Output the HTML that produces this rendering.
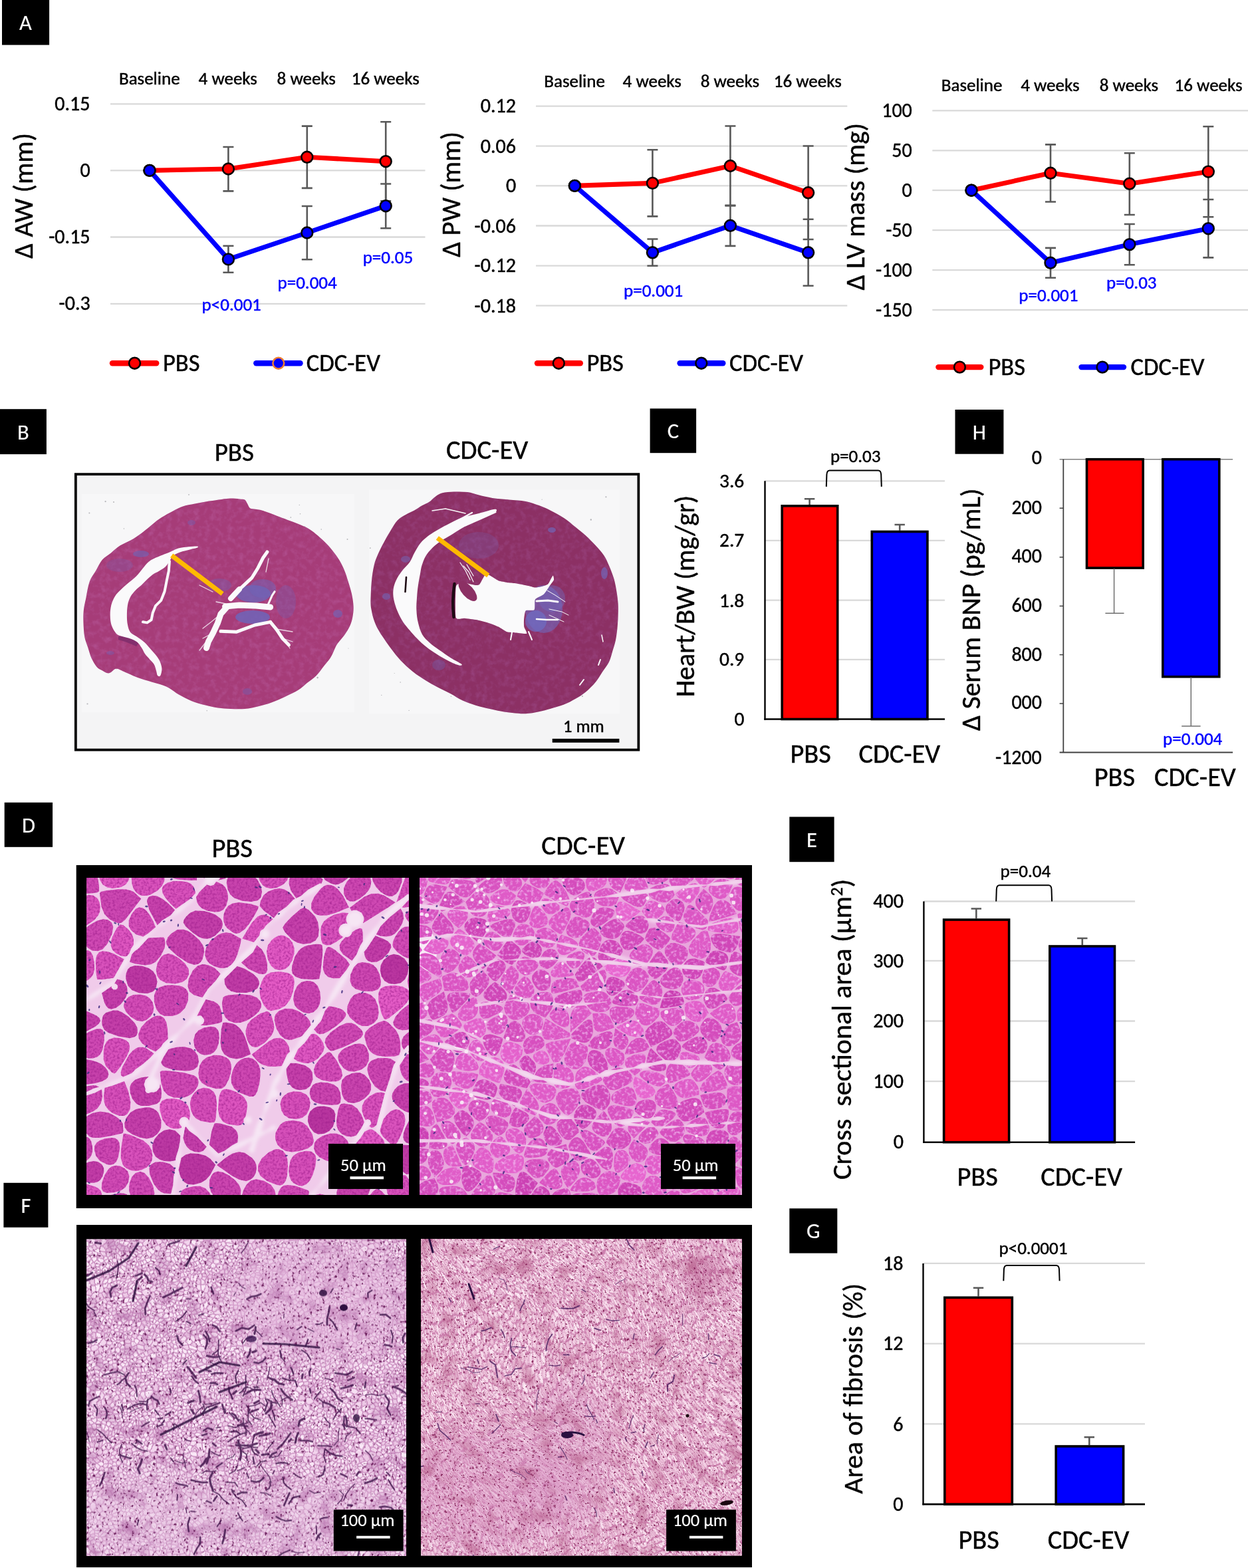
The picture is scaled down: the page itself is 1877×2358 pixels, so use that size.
<!DOCTYPE html>
<html><head><meta charset="utf-8"><title>Figure</title>
<style>html,body{margin:0;padding:0;background:#fff;width:1877px;height:2358px;overflow:hidden}svg{display:block}text{white-space:pre;font-size-adjust:0.47754}</style>
</head><body>
<svg width="1877" height="2358" viewBox="0 0 1877 2358" font-family="Carlito, 'Liberation Sans', sans-serif">
<defs><filter id="hnoise" x="0" y="0" width="100%" height="100%" color-interpolation-filters="sRGB">
<feTurbulence type="fractalNoise" baseFrequency="0.12" numOctaves="3" seed="7" result="n"/>
<feColorMatrix in="n" type="matrix" values="0 0 0 0 0.72  0 0 0 0 0.36  0 0 0 0 0.62  0 0 1.2 0 -0.5" result="c"/>
<feComposite in="c" in2="SourceGraphic" operator="in"/>
</filter>
<filter id="hnoise2" x="0" y="0" width="100%" height="100%" color-interpolation-filters="sRGB">
<feTurbulence type="fractalNoise" baseFrequency="0.12" numOctaves="3" seed="11" result="n"/>
<feColorMatrix in="n" type="matrix" values="0 0 0 0 0.62  0 0 0 0 0.3  0 0 0 0 0.55  0 0 1.2 0 -0.5" result="c"/>
<feComposite in="c" in2="SourceGraphic" operator="in"/>
</filter><filter id="blur2" x="-5%" y="-5%" width="110%" height="110%"><feGaussianBlur stdDeviation="2.5"/></filter>
<filter id="dtex1" x="0" y="0" width="100%" height="100%" color-interpolation-filters="sRGB">
<feTurbulence type="fractalNoise" baseFrequency="0.3" numOctaves="2" seed="3" result="n"/>
<feColorMatrix in="n" type="matrix" values="0 0 0 0 0.62  0 0 0 0 0.12  0 0 0 0 0.55  0 0 -1.6 0 0.95" result="c"/>
<feComposite in="c" in2="SourceGraphic" operator="in" result="t"/>
<feMerge><feMergeNode in="SourceGraphic"/><feMergeNode in="t"/></feMerge>
</filter>
<filter id="dtex2" x="0" y="0" width="100%" height="100%" color-interpolation-filters="sRGB">
<feTurbulence type="fractalNoise" baseFrequency="0.22" numOctaves="2" seed="8" result="n"/>
<feColorMatrix in="n" type="matrix" values="0 0 0 0 0.95  0 0 0 0 0.75  0 0 0 0 0.95  0 0 2.2 0 -1.05" result="c"/>
<feComposite in="c" in2="SourceGraphic" operator="in" result="t"/>
<feMerge><feMergeNode in="SourceGraphic"/><feMergeNode in="t"/></feMerge>
</filter><filter id="blur20" x="-50%" y="-50%" width="200%" height="200%"><feGaussianBlur stdDeviation="18"/></filter>
<filter id="fwarp1" x="0" y="0" width="100%" height="100%" color-interpolation-filters="sRGB">
<feTurbulence type="fractalNoise" baseFrequency="0.03" numOctaves="2" seed="5" result="w"/>
<feDisplacementMap in="SourceGraphic" in2="w" scale="14" xChannelSelector="R" yChannelSelector="G"/>
</filter>
<filter id="fwarp2" x="0" y="0" width="100%" height="100%" color-interpolation-filters="sRGB">
<feTurbulence type="fractalNoise" baseFrequency="0.006" numOctaves="1" seed="2" result="w"/>
<feDisplacementMap in="SourceGraphic" in2="w" scale="120" xChannelSelector="R" yChannelSelector="G" result="d1"/>
<feTurbulence type="fractalNoise" baseFrequency="0.05" numOctaves="1" seed="8" result="w2"/>
<feDisplacementMap in="d1" in2="w2" scale="8" xChannelSelector="R" yChannelSelector="G"/>
</filter>
<filter id="ftex1" x="0" y="0" width="100%" height="100%" color-interpolation-filters="sRGB">
<feTurbulence type="fractalNoise" baseFrequency="0.22" numOctaves="2" seed="17" result="n2"/>
<feColorMatrix in="n2" type="matrix" values="0 0 0 0 0.42  0 0 0 0 0.12  0 0 0 0 0.36  -7 0 0 0 2.55" result="b"/>
<feTurbulence type="fractalNoise" baseFrequency="0.04" numOctaves="2" seed="23" result="n3"/>
<feColorMatrix in="n3" type="matrix" values="0 0 0 0 0.7  0 0 0 0 0.42  0 0 0 0 0.66  -2 0 0 0 0.95" result="c"/>
<feMerge><feMergeNode in="c"/><feMergeNode in="b"/></feMerge>
</filter>
<filter id="ftex2" x="0" y="0" width="100%" height="100%" color-interpolation-filters="sRGB">
<feTurbulence type="fractalNoise" baseFrequency="0.3" numOctaves="2" seed="21" result="n2"/>
<feColorMatrix in="n2" type="matrix" values="0 0 0 0 0.5  0 0 0 0 0.12  0 0 0 0 0.33  -7 0 0 0 2.5" result="b"/>
<feTurbulence type="fractalNoise" baseFrequency="0.035" numOctaves="2" seed="29" result="n3"/>
<feColorMatrix in="n3" type="matrix" values="0 0 0 0 0.72  0 0 0 0 0.38  0 0 0 0 0.55  -2 0 0 0 0.95" result="c"/>
<feMerge><feMergeNode in="c"/><feMergeNode in="b"/></feMerge>
</filter><pattern id="pf1" patternUnits="userSpaceOnUse" width="80.0" height="80.0"><rect width="80.0" height="80.0" fill="#C88ABD"/><path fill="#FBEAF8" d="M0.0 -7.0L-3.1 -9.7L-5.3 -9.4L-7.7 -5.1L-4.2 -0.1L-3.5 -0.5ZM-6.5 60.3L-0.6 62.1L-0.6 62.1L-0.1 56.9L-2.1 55.0L-3.8 55.0L-6.5 60.0ZM-8.9 66.0L-5.5 69.1L-3.4 68.9L-1.5 63.4L-6.8 61.8L-9.1 64.9ZM2.6 23.9L-1.6 23.8L-4.0 26.3L-0.2 29.3L3.6 25.3ZM-3.2 40.4L-0.8 41.1L-1.1 34.9L-3.9 35.6ZM53.4 -1.4L56.7 -1.8L57.2 -2.5L56.5 -6.7L50.7 -5.8L50.4 -4.6ZM12.5 -10.7L13.4 -3.5L16.6 -2.3L20.7 -10.6L19.8 -11.2ZM65.3 -1.7L66.7 2.4L74.4 0.5L71.1 -4.4L66.9 -4.5ZM5.9 39.1L6.6 39.4L10.5 36.3L8.0 32.7L4.1 34.7ZM58.5 11.1L61.1 12.3L62.9 11.7L65.1 6.2L64.9 5.7L59.2 6.0ZM34.7 38.6L32.5 37.1L31.5 37.4L28.8 42.3L31.1 44.3L32.0 44.0L35.1 40.5ZM53.5 17.7L50.1 21.2L54.1 24.6L54.8 23.7L55.1 19.2ZM7.5 59.9L6.7 56.5L6.0 56.0L1.4 57.2L0.9 62.0L4.0 62.9ZM56.5 73.3L50.7 74.2L50.4 75.4L53.4 78.6L56.7 78.2L57.2 77.5ZM14.6 53.2L19.1 51.6L19.8 49.1L15.8 48.8L13.9 51.6L14.1 52.8ZM31.4 60.2L30.8 60.9L31.9 65.0L33.8 66.1L34.9 65.8L36.6 64.0L34.8 60.5ZM67.6 24.9L71.9 27.2L72.2 27.2L73.4 26.2L70.8 21.0L68.7 21.0ZM78.5 14.9L74.9 9.7L72.5 10.9L72.0 12.4L74.6 17.0L76.1 17.0L78.4 15.2ZM64.4 12.0L67.3 13.9L70.6 12.0L71.0 10.7L66.2 7.4ZM12.5 69.3L13.4 76.5L16.6 77.7L20.7 69.4L19.8 68.8ZM37.5 65.2L36.3 66.6L40.1 71.3L41.2 71.3L41.8 70.6L41.9 67.0ZM51.7 4.8L57.4 4.4L56.4 -0.2L53.6 0.0L51.1 4.0ZM54.3 26.6L52.6 28.9L54.8 32.8L57.9 31.8L57.9 29.4ZM57.5 41.3L57.4 40.7L52.9 37.5L52.1 37.8L50.8 41.2L53.5 44.4L54.9 44.2ZM0.3 34.3L0.7 40.5L4.3 39.2L2.5 34.9ZM22.2 39.9L20.5 43.7L21.9 47.2L22.3 47.2L25.9 42.6ZM30.0 45.4L27.6 43.3L27.3 43.3L23.7 47.8L25.6 49.1L29.6 48.0ZM39.8 35.0L39.0 31.2L34.6 31.0L33.5 36.0L35.5 37.2ZM52.0 6.3L51.7 8.5L57.0 10.9L57.7 5.8ZM9.0 31.6L12.0 35.8L12.4 35.9L16.2 32.4L16.1 28.1L15.9 27.9L15.1 27.7L9.1 30.9ZM79.5 13.7L83.8 11.0L84.3 8.9L76.6 7.6L76.0 8.7ZM14.0 61.5L12.9 62.1L12.9 67.8L19.1 67.3L18.3 63.8ZM-3.7 1.3L-3.1 6.1L5.0 7.5L6.2 6.4L5.7 2.8L-2.9 0.9ZM29.4 61.5L26.4 61.4L25.0 67.3L30.3 65.1ZM45.3 48.8L41.0 49.3L42.7 53.7L45.1 52.9ZM24.9 31.2L23.4 28.9L17.6 28.6L17.7 32.3L22.3 35.4L24.7 33.2ZM19.2 42.9L20.7 39.7L15.1 40.0L15.1 42.5ZM12.4 51.9L8.8 49.2L6.4 51.3L6.8 54.8L7.4 55.2L12.5 52.8ZM50.3 55.1L55.3 55.6L55.8 52.8L52.1 51.6ZM45.8 54.2L42.7 55.3L41.9 56.7L42.8 58.5L48.1 58.1L48.6 55.9ZM15.4 15.9L19.3 19.9L22.0 19.4L23.7 16.0L22.6 12.6L21.0 12.2ZM61.8 13.6L61.8 18.4L61.9 18.6L66.4 18.4L66.5 15.2L63.3 13.1ZM70.4 38.5L72.3 35.6L68.5 34.5L67.6 37.5ZM71.5 39.5L72.5 41.8L75.3 40.5L74.6 35.6L74.5 35.6L74.0 35.8ZM46.7 47.4L50.6 47.8L52.2 45.2L49.7 42.2L46.6 43.1ZM72.3 74.9L75.8 79.9L76.5 79.5L80.0 73.0L76.9 70.3L74.7 70.6ZM65.6 42.5L67.7 43.9L71.0 42.1L70.1 40.0L66.8 38.7L66.4 38.9ZM55.2 61.8L49.8 60.9L49.1 64.5L50.1 65.6ZM51.1 84.0L51.7 84.8L57.4 84.4L56.4 79.8L53.6 80.0ZM16.7 84.3L17.9 81.2L16.5 79.2L12.7 77.8L8.6 79.4L7.1 82.3L7.7 86.1L11.2 87.2ZM84.6 26.5L80.7 30.6L80.8 32.9L83.0 33.5L87.6 31.3L87.7 30.6ZM80.3 34.3L80.7 40.5L84.3 39.2L82.5 34.9ZM76.3 1.3L76.9 6.1L85.0 7.5L86.2 6.4L85.7 2.8L77.1 0.9Z"/><path fill="#F3D6EE" d="M-1.5 14.9L-5.1 9.7L-7.5 10.9L-8.0 12.4L-5.4 17.0L-3.9 17.0L-1.6 15.2ZM-5.1 48.2L-5.9 49.5L-5.8 51.6L-3.9 53.5L-2.2 53.5L0.3 48.7L-0.1 47.4ZM-5.3 25.5L-2.7 22.8L-4.2 18.5L-5.5 18.5L-7.8 20.4ZM-3.9 41.8L-6.5 43.0L-5.1 46.7L-0.6 45.9L-1.1 42.6ZM2.4 22.4L2.7 19.9L-1.0 16.6L-2.8 18.0L-1.3 22.3ZM-4.2 79.9L-3.5 79.5L0.0 73.0L-3.1 70.3L-5.3 70.6L-7.7 74.9ZM40.0 -7.2L36.4 -4.6L36.6 -1.4L39.5 -0.5L42.6 -3.5L41.0 -7.2ZM4.9 24.4L10.0 21.7L10.4 18.1L7.7 17.5L4.2 20.1L3.8 23.0ZM23.0 55.9L25.0 54.0L24.7 50.4L22.4 48.7L21.6 48.7L21.4 48.9L20.5 52.1ZM72.0 43.3L68.5 45.2L68.6 47.1L73.0 48.4L73.6 47.5ZM29.3 7.8L32.3 5.2L32.3 1.9L27.0 -0.5L24.6 1.3L27.8 7.8ZM51.2 66.7L55.8 68.0L57.0 63.7L56.3 62.8ZM66.2 5.0L66.5 5.8L72.0 9.5L74.6 8.2L75.4 6.6L74.8 2.0L66.7 3.9ZM13.8 54.5L13.3 54.1L8.2 56.5L9.0 59.6L12.1 60.8L13.5 60.1L14.6 57.1ZM58.4 42.5L56.2 45.0L59.5 49.6L60.6 49.6L61.4 44.1ZM57.2 61.5L58.2 62.9L62.3 63.9L64.1 62.5L63.7 58.3L63.0 58.0L57.7 59.5L57.2 61.3ZM5.9 8.7L5.2 11.4L8.0 16.0L11.0 16.8L13.0 15.4L10.7 8.6L7.2 7.5ZM16.0 47.3L20.5 47.7L19.2 44.4L14.7 43.9L14.7 43.9ZM46.8 48.9L46.6 53.0L49.0 54.4L51.0 50.6L50.4 49.3ZM21.3 58.5L15.9 58.0L15.0 60.3L18.7 62.4ZM75.3 34.3L79.2 33.2L79.4 33.1L79.2 30.7L74.7 27.2L74.6 27.2L73.4 28.2L75.1 34.2ZM48.4 71.4L42.9 71.6L42.4 72.2L44.1 76.1L46.1 76.7L48.9 75.1L49.3 73.6ZM43.4 60.0L45.0 64.0L47.7 64.0L48.5 60.2L48.2 59.6ZM7.6 40.6L8.3 43.5L9.1 44.2L13.4 43.2L13.6 42.9L13.6 39.5L12.2 37.4L11.7 37.3ZM35.2 53.5L35.4 51.5L31.7 50.7L31.1 54.6L31.1 54.6ZM29.1 9.3L27.6 9.3L24.0 12.3L25.1 15.4L30.9 16.6L31.0 16.5L31.8 14.0ZM25.0 16.9L23.4 20.0L25.8 22.9L29.2 22.4L30.2 18.0ZM47.0 12.3L44.5 10.6L39.8 12.7L40.8 15.2L45.0 15.4ZM35.0 67.4L34.2 67.6L32.8 72.3L35.6 74.1L38.7 71.9ZM43.7 -2.5L40.6 0.5L42.0 3.6L43.6 4.2L46.3 2.7L45.6 -1.9ZM62.2 56.7L60.4 51.1L59.4 51.1L57.3 52.7L56.7 56.4L57.5 58.0ZM53.1 25.8L48.7 22.0L47.4 22.1L47.3 22.2L46.8 28.1L47.5 28.7L51.3 28.1ZM68.7 53.0L72.7 51.5L72.6 49.9L68.1 48.6L67.0 49.9ZM8.6 -0.6L7.1 2.3L7.7 6.1L11.2 7.2L16.7 4.3L17.9 1.2L16.5 -0.8L12.7 -2.2ZM68.6 33.0L73.5 34.4L73.6 34.4L72.0 28.8L68.5 32.7ZM41.4 54.6L39.4 49.2L39.0 49.0L38.9 49.1L36.9 51.2L36.7 53.9L38.2 55.7L40.7 55.9ZM26.9 74.1L23.1 69.9L22.1 69.9L17.9 78.5L19.1 80.3L23.4 80.3L26.2 78.2ZM67.8 18.8L68.4 19.4L71.0 19.5L73.2 17.5L70.9 13.6L68.0 15.2ZM58.0 39.2L60.5 36.2L60.2 34.3L58.5 33.1L54.9 34.3L53.9 36.4ZM39.8 22.7L41.4 28.0L45.3 27.7L45.8 22.6ZM32.9 80.6L35.1 78.8L34.9 75.4L31.8 73.4L28.3 74.4L27.8 78.2ZM22.8 38.4L27.2 41.8L27.4 41.8L30.0 37.0L25.6 34.5L23.0 36.7ZM4.2 12.6L-0.1 15.2L-0.1 15.4L3.6 18.7L6.5 16.5ZM40.5 84.0L39.2 81.0L36.1 80.0L33.8 81.8L33.8 85.1L37.2 86.6ZM43.6 84.2L46.3 82.7L45.6 78.1L43.7 77.5L40.6 80.5L42.0 83.6ZM58.9 84.5L64.9 84.2L65.4 83.2L64.0 78.9L58.4 78.5L57.9 79.2ZM87.5 59.9L86.7 56.5L86.0 56.0L81.4 57.2L80.9 62.0L84.0 62.9ZM85.5 68.6L83.7 64.4L80.2 63.4L80.0 63.5L78.0 69.3L81.2 72.0L82.7 71.9ZM83.6 18.7L86.5 16.5L84.2 12.6L79.9 15.2L79.9 15.4Z"/><path fill="#EDC8E6" d="M-0.8 33.2L-0.6 33.1L-0.8 30.7L-5.3 27.2L-5.4 27.2L-6.6 28.2L-4.9 34.2L-4.7 34.3ZM4.3 8.9L-3.4 7.6L-4.0 8.7L-0.5 13.7L3.8 11.0ZM58.7 -3.0L64.1 -2.6L65.6 -5.3L64.4 -8.1L62.9 -8.9L58.1 -7.7L57.9 -7.4ZM7.2 -1.1L2.8 -6.6L1.4 -6.5L-1.9 -0.4L5.9 1.3ZM49.9 3.1L52.2 -0.6L49.4 -3.4L47.0 -2.1L47.7 2.5ZM34.9 -4.6L31.8 -6.6L28.3 -5.6L27.8 -1.8L32.9 0.6L35.1 -1.2ZM38.2 12.8L33.2 14.5L32.5 16.6L38.0 19.3L39.5 16.0ZM58.1 72.3L57.9 72.6L58.7 77.0L64.1 77.4L65.6 74.7L64.4 71.9L62.9 71.1ZM1.4 73.5L-1.9 79.6L5.9 81.3L7.2 78.9L2.8 73.4ZM17.2 27.1L17.2 27.1L23.3 27.4L24.7 23.9L22.2 20.9L19.6 21.3ZM22.8 59.0L19.8 63.5L20.7 67.6L21.9 68.4L23.0 68.4L23.3 68.2L24.9 60.9ZM30.5 8.8L32.9 13.0L37.5 11.5L36.7 8.0L33.2 6.4ZM49.9 83.1L52.2 79.4L49.4 76.6L47.0 77.9L47.7 82.5ZM39.2 1.0L36.1 -0.0L33.8 1.8L33.8 5.1L37.2 6.6L40.5 4.0ZM74.5 69.1L76.6 68.9L78.5 63.4L73.2 61.8L70.9 64.9L71.1 66.0ZM55.8 69.6L50.5 68.0L49.6 70.6L50.6 72.7L56.7 71.8L56.7 71.7ZM49.3 67.1L49.3 67.0L48.0 65.5L44.8 65.5L43.4 66.9L43.3 70.1L48.3 69.9ZM1.4 47.2L1.8 48.2L5.5 50.1L8.1 47.9L8.1 45.4L7.5 44.8ZM78.9 42.6L76.1 41.8L73.5 43.0L74.9 46.7L79.4 45.9ZM22.0 57.1L19.4 53.1L15.4 54.5L16.0 56.5ZM83.6 25.3L82.6 23.9L78.4 23.8L76.0 26.3L79.8 29.3ZM69.0 54.5L68.5 56.1L72.4 58.8L74.9 54.4L73.3 52.9ZM45.2 47.3L45.1 43.0L43.6 42.0L40.3 43.8L39.9 47.8L40.1 47.9ZM52.4 50.1L56.5 51.5L58.1 50.2L54.9 45.7L53.6 45.9L51.8 48.7ZM59.0 41.1L62.3 42.9L64.2 42.3L64.8 38.9L61.5 37.3L58.9 40.5ZM23.5 57.6L26.1 59.9L29.6 60.0L30.3 59.1L30.1 55.8L29.9 55.6L26.1 55.1L23.6 57.5ZM58.9 4.5L64.9 4.2L65.4 3.2L64.0 -1.1L58.4 -1.5L57.9 -0.8ZM62.0 35.9L65.7 37.6L66.1 37.4L67.2 33.6L67.0 33.1L65.0 32.2L61.7 34.2ZM14.6 47.9L13.4 44.7L9.6 45.7L9.6 47.9L12.9 50.4ZM31.8 58.7L35.0 59.0L36.9 56.4L35.7 55.0L31.6 56.0ZM29.9 49.4L26.2 50.5L26.5 53.7L29.7 54.0L30.3 50.0ZM12.2 8.4L14.4 14.8L19.9 11.2L17.0 5.8ZM43.8 37.2L44.3 40.7L46.0 41.7L49.4 40.7L50.6 37.5L47.0 35.4ZM63.3 65.0L63.7 69.8L64.9 70.4L69.6 66.1L69.4 65.3L65.0 63.7ZM0.9 55.8L5.3 54.6L4.9 51.5L1.5 49.7L-0.8 54.1ZM23.2 1.8L19.3 1.8L18.2 4.7L21.4 10.8L23.0 11.2L26.4 8.3ZM11.4 68.2L11.4 62.1L8.5 61.0L5.1 63.9L6.9 68.0ZM76.1 35.6L76.8 40.4L79.2 41.1L78.9 34.9ZM55.9 60.4L56.3 58.9L55.5 57.2L50.0 56.5L49.4 58.7L49.8 59.4ZM32.3 81.9L27.0 79.5L24.6 81.3L27.8 87.8L29.3 87.8L32.3 85.2ZM74.6 88.2L75.4 86.6L74.8 82.0L66.7 83.9L66.2 85.0L66.5 85.8L72.0 89.5ZM-3.7 81.3L-3.1 86.1L5.0 87.5L6.2 86.4L5.7 82.8L-2.9 80.9ZM21.4 90.8L23.0 91.2L26.4 88.3L23.2 81.8L19.3 81.8L18.2 84.7ZM81.4 -6.5L78.1 -0.4L85.9 1.3L87.2 -1.1L82.8 -6.6ZM81.4 73.5L78.1 79.6L85.9 81.3L87.2 78.9L82.8 73.4ZM80.3 42.3L80.9 45.8L86.8 43.5L86.1 40.8L85.2 40.4L80.4 42.2ZM79.2 54.1L80.9 55.8L85.3 54.6L84.9 51.5L81.5 49.7Z"/><path fill="#F7E0F3" d="M8.3 -2.1L11.9 -3.5L11.1 -10.3L6.7 -10.5L4.1 -7.4ZM23.1 -10.1L22.1 -10.1L17.9 -1.5L19.1 0.3L23.4 0.3L26.2 -1.8L26.9 -5.9ZM76.9 -9.7L74.7 -9.4L72.3 -5.1L75.8 -0.1L76.5 -0.5L80.0 -7.0ZM64.7 43.7L62.9 44.3L62.2 49.2L65.8 49.1L67.1 47.5L67.0 45.2ZM31.5 45.7L31.0 48.4L31.5 49.2L35.9 50.1L37.3 48.6L32.3 45.5ZM41.5 59.2L40.6 57.4L38.2 57.2L36.2 59.9L37.6 62.7ZM57.6 12.4L57.6 12.4L54.7 16.7L56.1 18.1L60.3 18.0L60.3 13.6ZM61.9 50.8L63.7 56.7L64.4 57.0L67.0 55.8L67.5 54.0L65.7 50.6ZM65.7 30.8L67.4 31.6L70.5 28.2L66.7 26.1L64.9 26.9ZM60.7 19.5L56.6 19.6L56.4 23.1L60.4 22.6L60.8 19.6ZM41.3 35.0L43.0 35.9L46.3 34.0L46.6 29.8L45.8 29.2L41.3 29.5L40.4 30.6ZM48.1 13.5L46.2 16.3L47.6 20.6L48.7 20.6L52.2 16.9ZM76.1 53.5L77.8 53.5L80.3 48.7L79.9 47.4L74.9 48.2L74.1 49.5L74.2 51.6ZM4.6 26.5L0.7 30.6L0.8 32.9L3.0 33.5L7.6 31.3L7.7 30.6ZM5.8 25.6L8.7 29.5L13.8 26.7L10.6 23.1ZM76.2 55.0L73.5 60.0L73.5 60.3L79.4 62.1L79.4 62.1L79.9 56.9L77.9 55.0ZM44.9 16.9L40.8 16.7L39.2 20.3L39.4 21.2L46.2 21.1ZM39.0 11.4L43.8 9.3L43.0 5.5L41.6 5.1L38.2 7.8ZM40.6 36.3L36.2 38.5L36.6 40.3L39.7 42.5L42.8 40.7L42.3 37.2ZM64.2 31.0L63.4 27.0L62.9 26.9L59.4 29.4L59.4 31.9L60.9 32.9ZM33.2 30.4L32.3 29.3L26.4 31.5L26.3 33.2L31.1 35.9L32.0 35.7ZM31.8 27.9L31.7 26.0L29.6 23.9L26.1 24.4L24.6 28.1L26.0 30.1ZM58.3 64.5L57.1 68.9L58.0 70.8L62.2 69.7L61.8 65.3ZM64.0 25.6L66.1 24.7L67.3 20.4L66.8 19.9L62.3 20.1L61.9 23.1L63.3 25.4ZM34.4 29.4L39.2 29.7L40.1 28.7L38.4 23.2L33.2 26.1L33.3 28.1ZM50.5 5.8L49.8 4.7L47.2 3.9L44.5 5.4L45.3 9.3L47.8 11.0L50.2 8.6ZM74.5 18.5L72.2 20.4L74.7 25.5L77.3 22.8L75.8 18.5ZM11.9 18.0L11.5 21.9L15.4 26.3L15.9 26.3L18.2 20.8L14.0 16.6ZM39.5 79.5L42.6 76.5L41.0 72.8L40.0 72.8L36.4 75.4L36.6 78.6ZM31.1 66.3L24.4 69.1L24.4 69.1L27.9 73.0L31.3 72.0L32.8 67.3ZM31.8 17.9L30.7 22.8L32.6 24.7L38.0 21.7L37.8 20.8ZM58.7 28.1L61.8 25.8L60.7 24.1L56.0 24.7L55.3 25.5ZM38.5 64.0L42.4 65.7L43.6 64.5L42.1 60.7ZM0.3 42.3L0.9 45.8L6.8 43.5L6.1 40.8L5.2 40.4L0.4 42.2ZM51.3 29.6L48.0 30.1L47.8 34.1L51.6 36.4L52.4 36.0L53.6 33.7ZM11.1 69.7L6.7 69.5L4.1 72.6L8.3 77.9L11.9 76.5ZM66.9 75.5L65.3 78.3L66.7 82.4L74.4 80.5L71.1 75.6ZM48.8 12.1L53.4 16.0L56.0 12.1L51.1 9.9ZM38.4 47.5L38.8 43.7L36.0 41.7L33.6 44.5ZM65.9 71.6L66.9 74.0L71.0 74.1L73.3 70.0L70.4 67.4ZM5.5 68.6L3.7 64.4L0.2 63.4L0.0 63.5L-2.0 69.3L1.2 72.0L2.7 71.9ZM82.4 22.4L82.7 19.9L79.0 16.6L77.2 18.0L78.7 22.3ZM21.3 38.1L21.5 36.7L17.0 33.7L13.6 36.8L14.7 38.5ZM65.2 58.3L65.6 62.3L69.8 63.9L72.1 60.7L72.0 60.4L67.5 57.2ZM81.4 47.2L81.8 48.2L85.5 50.1L88.1 47.9L88.1 45.4L87.5 44.8ZM76.3 81.3L76.9 86.1L85.0 87.5L86.2 86.4L85.7 82.8L77.1 80.9Z"/></pattern><pattern id="pf2" patternUnits="userSpaceOnUse" width="208.0" height="44.0" patternTransform="rotate(58)"><rect width="208.0" height="44.0" fill="#CC7FAE"/><path fill="#F3D0E4" d="M-9.3 -2.9L-13.2 -1.4L-10.1 0.4L3.9 -0.0L6.2 -1.0L1.5 -2.5ZM-2.2 36.4L-4.9 34.4L-16.7 34.1L-19.6 37.9L-13.6 38.5ZM-11.4 25.2L-2.5 24.1L-4.8 21.8L-12.1 20.9L-20.1 23.7ZM-13.2 42.6L-10.1 44.4L3.9 44.0L6.2 43.0L1.5 41.5L-9.3 41.1ZM23.5 -4.6L19.5 -1.6L26.9 -0.7L35.7 -2.3L33.8 -4.4ZM4.6 -2.9L9.1 -1.5L16.0 -1.8L20.1 -4.9L15.0 -5.9L11.1 -5.9ZM175.0 29.6L167.3 30.8L165.1 33.4L170.5 34.3L185.6 33.1L182.3 30.1ZM94.6 41.5L93.2 41.4L89.5 41.8L85.9 43.9L89.0 44.7L97.6 44.6L99.6 44.0ZM77.2 22.7L92.3 23.2L93.3 23.0L89.2 19.9L85.0 19.8L76.0 22.0ZM131.0 38.8L132.4 39.3L143.0 39.4L141.8 36.7L132.0 36.4L131.2 36.6ZM40.8 38.6L37.3 39.4L39.3 41.5L51.8 42.8L54.7 41.9L53.1 38.7ZM177.4 -1.2L176.5 -1.0L180.4 1.2L193.3 1.5L194.8 0.9L191.5 -1.1ZM92.7 19.7L96.7 22.7L104.1 22.5L110.1 20.6L109.9 20.3L104.2 19.0L96.6 18.9ZM43.7 10.6L42.4 12.5L52.1 13.5L55.1 13.4L53.1 10.4ZM94.8 8.2L99.9 10.6L108.2 10.8L109.6 10.5L108.2 7.5ZM54.3 43.3L54.5 43.7L67.8 45.2L73.0 43.9L69.4 42.0L57.6 42.4ZM91.1 40.7L89.3 38.4L75.7 39.0L76.2 40.2L87.9 41.1ZM51.7 26.3L45.1 26.2L33.3 28.8L33.5 29.0L48.7 30.7L55.7 28.9ZM14.8 27.4L4.9 29.9L6.7 31.6L21.0 32.5L30.0 29.2L29.7 29.0L19.5 27.4ZM169.7 8.0L164.2 7.4L154.9 8.0L154.8 8.0L156.4 9.3L166.2 10.6L172.2 9.6ZM71.9 33.0L88.9 32.0L90.7 31.6L73.7 30.6ZM115.0 43.3L128.1 42.9L126.9 41.6L115.1 41.4ZM77.0 23.5L73.4 25.0L78.1 26.8L85.1 26.8L90.6 25.9L91.1 23.9ZM98.4 41.4L102.8 43.6L111.4 43.4L111.5 41.0L109.8 40.4ZM196.8 7.3L201.8 10.1L206.4 7.6L204.9 7.2ZM28.4 24.0L22.3 26.9L31.0 28.2L42.1 25.7L35.6 23.8ZM87.9 27.3L93.7 30.7L101.5 27.6L92.5 26.6ZM97.6 30.8L111.8 30.7L110.1 27.7L105.1 27.8ZM131.6 -0.6L133.1 1.9L142.8 1.5L141.6 -0.8ZM69.5 29.8L58.5 29.4L51.1 31.3L52.3 32.8L55.4 33.2L68.2 33.0L70.4 30.1ZM58.5 37.5L68.7 37.5L72.2 35.3L68.9 33.8L56.9 34.0ZM95.7 31.6L104.3 34.2L108.8 34.3L117.1 32.3L113.1 31.5ZM109.1 37.9L111.4 36.7L108.2 35.1L103.9 35.0L94.1 37.0L94.1 37.0ZM94.8 23.7L94.2 25.9L104.3 27.1L110.9 26.9L111.9 26.7L113.1 25.7L104.3 23.3L96.2 23.4ZM124.8 22.4L112.6 21.2L107.4 22.9L115.6 25.1L123.9 24.0ZM113.6 27.4L115.5 30.9L118.6 31.5L128.9 29.0L113.9 27.3ZM30.7 2.0L45.9 1.6L50.9 -0.2L50.7 -0.5L38.0 -1.7L29.1 -0.1ZM199.3 11.4L206.1 14.2L208.7 14.4L210.9 14.2L214.4 13.3L214.7 11.7L212.8 11.3L203.2 10.8L201.7 10.9ZM73.9 23.1L72.4 22.2L66.4 21.5L57.8 22.2L58.3 24.8L70.2 24.7ZM33.8 39.6L23.5 39.4L19.5 42.4L26.9 43.3L35.7 41.7ZM82.8 7.7L64.2 5.9L61.3 6.2L61.4 8.8L75.0 10.3ZM128.0 2.6L129.6 2.2L128.0 -0.4L115.6 0.1L118.9 2.4ZM17.5 17.3L11.9 19.3L12.2 19.7L17.4 20.7L27.5 19.3L25.4 17.3L22.8 17.0ZM165.3 -0.6L166.7 3.2L167.7 3.3L172.1 3.2L177.0 1.5L173.1 -0.7ZM178.7 42.0L191.8 42.1L195.8 40.7L193.3 39.3L186.2 38.6L179.8 38.9ZM31.2 19.2L35.8 19.5L43.2 17.2L42.5 16.9L38.7 16.6L29.1 17.3ZM203.2 21.8L195.9 20.9L187.9 23.7L196.6 25.2L205.5 24.1ZM54.4 17.5L59.9 15.6L58.8 14.3L56.9 14.1L53.0 14.3L45.9 16.6L46.6 16.9L53.4 17.6ZM102.7 44.4L100.5 45.0L104.5 47.5L109.0 47.9L115.5 46.7L112.0 44.2ZM30.7 46.0L45.9 45.6L50.9 43.8L50.7 43.5L38.0 42.3L29.1 43.9ZM49.0 46.0L55.3 49.1L59.4 49.5L62.9 49.2L68.1 47.2L66.7 45.9L53.4 44.4ZM128.0 46.6L129.6 46.2L128.0 43.6L115.6 44.1L118.9 46.4ZM165.3 43.4L166.7 47.2L167.7 47.3L172.1 47.2L177.0 45.5L173.1 43.3ZM211.5 15.0L210.3 15.1L208.8 17.4L217.4 18.7L222.0 17.1ZM209.7 8.0L205.6 10.1L212.6 10.5L215.9 8.2ZM219.7 27.0L212.6 25.0L207.8 24.7L198.2 25.9L197.6 28.0L210.4 29.4Z"/><path fill="#EDC2DA" d="M7.6 37.9L0.1 37.0L-11.2 39.1L-8.9 40.4L1.5 40.7ZM-9.6 18.9L-11.3 20.1L-11.3 20.1L-3.1 21.1L8.5 19.7L8.3 19.5L-1.3 18.0ZM85.9 -0.1L89.0 0.7L97.6 0.6L99.6 0.0L94.6 -2.5L93.2 -2.6L89.5 -2.2ZM53.1 -5.3L40.8 -5.4L37.3 -4.6L39.3 -2.5L51.8 -1.2L54.7 -2.1ZM73.0 -0.1L69.4 -2.0L57.6 -1.6L54.3 -0.7L54.5 -0.3L67.8 1.2ZM142.5 -1.6L143.3 -1.7L143.1 -3.8L132.5 -3.9L130.3 -2.7L131.6 -1.4ZM175.0 -1.8L176.2 -5.2L170.7 -5.8L163.0 -5.2L161.1 -4.6L165.0 -1.4L173.6 -1.5ZM99.4 11.3L93.0 12.8L93.8 14.3L105.1 14.4L108.4 13.4L107.2 11.5ZM82.9 0.4L76.0 0.3L70.3 1.8L71.5 2.8L83.0 2.9L86.1 1.2ZM191.3 34.1L188.4 37.9L194.4 38.5L205.8 36.4L203.1 34.4ZM49.2 14.1L40.6 13.1L37.4 13.6L40.3 15.9L43.1 16.1ZM171.7 22.3L160.4 23.4L162.2 25.7L170.5 26.5L179.3 23.9ZM199.1 40.4L209.5 40.7L215.6 37.9L208.1 37.0L196.8 39.1ZM124.7 7.4L112.4 7.0L111.7 7.2L113.1 10.3L120.1 10.2L122.9 9.8ZM144.1 28.4L145.1 28.9L165.3 30.2L172.5 29.0L169.6 27.3L160.6 26.4ZM89.6 37.6L90.5 37.2L90.5 37.0L85.6 35.8L75.4 35.6L72.1 37.7L74.4 38.3ZM185.9 30.0L189.4 33.2L190.4 33.3L203.7 33.6L211.2 31.8L209.3 30.1L195.8 28.7ZM1.7 8.0L-2.4 10.1L4.6 10.5L7.9 8.2ZM56.6 38.4L58.2 41.6L69.6 41.3L72.6 40.4L72.0 38.8L69.3 38.2L57.5 38.3ZM10.0 3.8L17.2 6.3L28.6 5.3L27.7 2.8L11.0 3.4ZM14.5 8.0L11.7 8.2L7.9 10.8L9.1 11.1L21.6 10.2ZM112.6 38.9L127.4 38.6L127.6 36.8L114.6 37.1L112.1 38.4ZM63.4 15.4L75.3 16.7L78.1 15.7L70.6 13.5L62.5 14.3ZM84.5 27.5L78.1 27.6L72.7 29.4L73.5 29.8L89.9 30.7ZM11.7 27.0L4.6 25.0L-0.2 24.7L-9.8 25.9L-10.4 28.0L2.4 29.4ZM55.3 18.2L54.9 18.3L52.7 21.0L56.2 21.5L64.6 20.8L64.2 19.3ZM181.5 6.5L173.3 7.9L175.7 9.4L177.2 9.5L183.9 8.9L187.0 7.4ZM128.5 22.4L127.5 24.1L138.0 25.4L144.8 22.5L133.2 21.5ZM162.4 38.1L168.9 37.5L168.4 34.9L162.7 34.0L154.0 34.5L152.1 35.4ZM93.7 15.1L97.4 18.2L103.8 18.2L107.6 16.4L104.8 15.2ZM191.4 16.0L197.6 18.2L205.2 17.3L206.6 15.0L204.8 14.9L191.5 15.9ZM76.6 11.4L73.3 13.0L80.9 15.2L90.2 14.5L89.4 12.9ZM183.2 5.8L189.7 6.9L193.8 6.7L193.9 6.7L193.5 3.9L182.8 5.2ZM14.9 26.7L18.9 26.7L24.9 23.7L17.8 22.2L8.0 24.7ZM24.9 16.3L27.2 16.6L36.5 15.9L33.8 13.8L27.3 13.7L25.2 14.1ZM78.1 17.2L85.2 19.0L90.0 19.1L93.9 18.4L90.3 15.4L81.5 16.0ZM115.7 26.7L132.1 28.4L140.3 28.1L137.3 26.2L125.6 24.7L116.7 25.8ZM73.6 11.0L59.9 9.5L56.6 10.2L58.8 13.4L60.5 13.6L69.8 12.7ZM177.4 17.2L169.7 16.1L165.9 16.4L163.6 18.4L172.7 19.8L176.3 19.1ZM150.7 2.4L152.6 3.1L163.0 3.0L161.7 -0.5L161.7 -0.5ZM131.9 6.6L141.2 8.3L151.5 7.7L151.6 7.7L147.0 5.6L133.6 5.8ZM193.3 45.5L194.8 44.9L191.5 42.9L177.4 42.8L176.5 43.0L180.4 45.2ZM89.5 45.5L86.3 47.2L90.2 48.5L100.8 47.6L97.2 45.4ZM197.0 46.9L209.8 47.9L214.6 47.5L215.8 47.0L212.0 44.8L197.9 45.2L196.2 46.0ZM152.6 47.1L163.0 47.0L161.7 43.5L161.7 43.5L150.7 46.4ZM224.0 42.2L228.1 39.1L223.0 38.1L219.1 38.1L212.6 41.1L217.1 42.5ZM216.9 13.9L214.5 14.5L224.8 16.6L229.2 16.3L229.6 14.3Z"/><path fill="#FCE8F3" d="M1.3 30.1L-12.2 28.7L-22.1 30.0L-18.6 33.2L-17.6 33.3L-4.3 33.6L3.2 31.8ZM-11.2 7.3L-6.2 10.1L-1.6 7.6L-3.1 7.2ZM-8.7 11.4L-1.9 14.2L0.7 14.4L2.9 14.2L6.4 13.3L6.7 11.7L4.8 11.3L-4.8 10.8L-6.3 10.9ZM-10.1 1.2L-11.8 2.0L-11.0 2.9L1.8 3.9L6.6 3.5L7.8 3.0L4.0 0.8ZM-10.4 18.2L-2.8 17.3L-1.4 15.0L-3.2 14.9L-16.5 15.9L-16.6 16.0ZM-10.9 3.7L-10.5 6.5L-3.6 6.4L-0.5 4.6ZM-11.8 46.0L-11.0 46.9L1.8 47.9L6.6 47.5L7.8 47.0L4.0 44.8L-10.1 45.2ZM115.0 -0.7L128.1 -1.1L126.9 -2.4L115.1 -2.6ZM146.7 -3.9L146.9 -1.9L160.7 -1.2L161.4 -1.3L157.7 -4.2ZM82.5 -0.4L85.7 -2.3L75.2 -3.1L72.7 -2.3L76.4 -0.5ZM194.8 -1.4L197.9 0.4L211.9 -0.0L214.2 -1.0L209.5 -2.5L198.7 -2.9ZM129.5 7.2L128.4 7.3L126.6 9.8L136.2 10.4L138.6 8.8ZM147.2 2.6L144.4 2.3L132.5 2.7L130.9 3.1L133.7 5.1L146.9 4.8L149.5 3.5ZM148.1 1.8L157.4 -0.6L145.7 -1.2L145.2 -1.1L146.5 1.6ZM170.5 13.9L165.3 12.5L154.7 13.8L154.5 14.5L164.5 15.7L168.4 15.4ZM128.2 14.5L125.0 16.5L127.1 17.6L132.2 18.3L141.9 17.1L142.5 16.2L131.1 14.4ZM158.0 39.0L159.6 38.5L149.6 36.0L145.4 36.6L146.7 39.4ZM186.7 13.2L191.0 15.1L202.2 14.3L196.5 11.9ZM85.5 7.1L87.6 5.1L83.2 3.7L71.1 3.6L66.8 5.3L85.5 7.1ZM50.3 21.6L41.9 21.8L38.6 23.3L45.4 25.4L52.4 25.5L54.7 25.0L54.2 22.1ZM128.3 6.5L130.5 5.5L127.4 3.4L118.2 3.2L111.4 4.5L113.2 6.2L126.4 6.7ZM152.7 15.1L146.1 16.2L145.5 17.2L153.5 18.8L159.9 18.3L162.3 16.3ZM120.9 32.1L129.2 33.3L141.2 31.6L142.0 29.2L141.0 28.8L132.8 29.2ZM109.0 3.9L115.5 2.7L112.0 0.2L102.7 0.4L100.5 1.0L104.5 3.5ZM156.8 23.4L149.5 22.5L148.7 22.6L140.7 26.0L143.4 27.6L158.5 25.8ZM146.7 40.1L146.9 42.1L160.7 42.8L161.4 42.7L157.7 39.8ZM66.7 1.9L53.4 0.4L49.0 2.0L55.3 5.1L59.4 5.5L62.9 5.2L68.1 3.2ZM139.3 10.9L140.1 11.3L146.5 11.6L152.9 9.5L151.6 8.5L142.2 9.0ZM190.5 7.7L187.5 9.1L197.3 10.7L198.6 10.5L193.4 7.5ZM164.4 11.3L155.4 10.1L149.6 12.0L153.4 13.1L164.1 11.8ZM51.3 18.2L46.0 17.7L38.6 20.0L41.6 21.0L49.1 20.8ZM75.3 34.9L85.1 35.0L87.4 32.9L72.7 33.7ZM74.9 27.2L70.3 25.4L57.3 25.6L55.2 26.0L59.1 28.7L69.7 29.0ZM123.4 17.8L121.8 16.9L110.8 16.8L107.2 18.5L111.8 19.6ZM1.5 7.2L10.0 7.6L13.8 7.2L14.4 6.9L7.2 4.3L3.3 4.6L-0.2 6.7ZM78.0 10.7L90.7 12.1L96.6 10.9L90.8 8.2L87.0 7.8L86.7 7.8ZM73.5 21.4L81.9 19.4L75.8 17.8L67.8 19.3L68.2 20.8ZM16.8 16.6L21.2 16.3L21.6 14.3L8.9 13.9L6.5 14.5ZM184.9 24.2L182.6 24.2L173.1 27.1L176.1 28.8L183.6 29.4L193.9 28.0L194.5 25.8ZM197.1 3.7L197.5 6.5L204.4 6.4L207.5 4.6ZM96.0 40.8L109.0 39.7L109.4 39.3L108.6 38.7L93.2 37.8L92.7 38.0L94.8 40.7ZM86.1 45.2L82.9 44.4L76.0 44.3L70.3 45.8L71.5 46.8L83.0 46.9ZM7.1 44.4L11.0 46.6L27.1 46.1L25.5 44.0L17.1 43.0L9.5 43.3ZM148.1 45.8L157.4 43.4L145.7 42.8L145.2 42.9L146.5 45.6ZM217.5 -0.7L215.1 0.4L219.0 2.6L235.1 2.1L233.5 0.0L225.1 -1.0ZM230.1 34.0L228.6 33.3L213.7 32.4L206.5 34.1L209.5 36.2L218.3 37.4L222.5 37.3ZM222.8 27.4L212.9 29.9L214.7 31.6L229.0 32.5L238.0 29.2L237.7 29.0L227.5 27.4ZM213.0 24.2L223.7 21.6L223.6 21.4L218.3 20.4L206.9 21.7L209.1 24.0ZM215.2 4.3L211.3 4.6L207.8 6.7L209.5 7.2L218.0 7.6L221.8 7.2L222.4 6.9ZM233.5 44.0L225.1 43.0L217.5 43.3L215.1 44.4L219.0 46.6L235.1 46.1Z"/><path fill="#F8DDEC" d="M-21.3 13.2L-17.0 15.1L-5.8 14.3L-11.5 11.9ZM109.8 -3.6L98.4 -2.6L102.8 -0.4L111.4 -0.6L111.5 -3.0ZM14.0 17.1L3.5 15.0L2.3 15.1L0.8 17.4L9.4 18.7ZM7.1 0.4L11.0 2.6L27.1 2.1L25.5 0.0L17.1 -1.0L9.5 -0.7ZM119.5 11.0L112.2 11.0L110.8 11.3L111.9 13.2L124.5 13.8ZM181.1 4.5L193.4 3.0L192.8 2.3L180.0 2.0L175.6 3.5ZM36.1 34.5L48.7 32.8L47.5 31.4L32.7 29.8L24.0 33.0L25.5 33.6ZM92.4 36.3L100.9 34.5L93.1 32.2L91.6 32.5L88.5 35.3ZM14.5 37.3L22.1 34.0L20.6 33.3L5.7 32.4L-1.5 34.1L1.5 36.2L10.3 37.4ZM134.1 18.9L134.6 20.8L147.4 21.8L148.2 21.8L151.0 19.4L143.3 17.8ZM165.2 3.9L164.4 3.8L152.7 3.8L150.1 5.2L154.5 7.2L162.8 6.7ZM58.1 17.7L65.7 18.6L73.0 17.3L62.5 16.2ZM196.7 20.1L196.7 20.1L204.9 21.1L216.5 19.7L216.3 19.5L206.7 18.0L198.4 18.9ZM131.6 42.6L142.5 42.4L143.3 42.3L143.1 40.2L132.5 40.1L130.3 41.3ZM179.5 5.8L179.2 5.2L172.6 4.0L168.8 4.1L166.5 6.8L171.0 7.3ZM172.1 35.0L172.6 37.5L178.3 38.2L184.7 37.8L187.8 33.9L187.4 33.8ZM182.5 12.9L176.1 10.2L174.7 10.1L168.0 11.3L167.7 11.9L173.2 13.4ZM89.5 1.5L86.3 3.2L90.2 4.5L100.8 3.6L97.2 1.4ZM193.0 20.4L178.5 19.8L174.5 20.4L174.0 21.7L182.4 23.5L184.4 23.4ZM187.9 15.8L188.1 15.6L183.6 13.6L174.0 14.2L172.1 15.5L179.5 16.6ZM42.8 9.8L53.9 9.6L57.7 8.9L57.6 6.2L53.9 5.9L38.8 7.0L38.5 9.0ZM161.1 39.4L165.0 42.6L173.6 42.5L175.0 42.2L176.2 38.8L170.7 38.2L163.0 38.8ZM41.5 37.8L54.1 37.9L54.9 37.7L53.1 33.8L50.6 33.5L38.4 35.1ZM121.8 16.1L124.3 14.6L111.1 13.9L108.1 14.8L110.8 16.1ZM5.0 24.2L15.7 21.6L15.6 21.4L10.3 20.4L-1.1 21.7L1.1 24.0ZM124.9 10.4L122.9 10.8L128.3 13.7L130.5 13.7L136.8 11.6L136.0 11.2ZM17.3 7.4L24.7 9.8L34.9 8.9L35.1 6.9L30.2 6.0L17.9 7.1ZM125.7 18.3L113.5 20.3L113.6 20.5L126.5 21.7L131.0 20.9L130.4 18.9ZM25.5 10.6L28.1 12.9L34.8 13.1L38.8 12.5L40.2 10.4L36.3 9.6ZM214.6 3.5L215.8 3.0L212.0 0.8L197.9 1.2L196.2 2.0L197.0 2.9L209.8 3.9ZM185.6 12.4L194.6 11.2L185.0 9.6L179.9 10.1ZM112.5 39.9L114.4 40.6L127.2 40.8L129.3 39.7L128.2 39.3L112.8 39.6ZM38.1 38.1L34.8 35.2L25.1 34.4L17.9 37.6L23.0 38.6L34.6 38.9ZM107.8 4.6L103.1 4.2L91.1 5.3L89.2 7.2L92.4 7.5L108.7 6.7L109.7 6.4ZM188.6 16.6L181.0 17.3L180.0 19.0L193.6 19.7L194.9 18.7ZM22.8 13.6L24.6 13.1L22.3 11.0L10.3 11.9L10.1 13.1ZM32.2 5.4L37.4 6.3L51.5 5.2L45.9 2.4L31.3 2.8ZM85.7 41.7L75.2 40.9L72.7 41.7L76.4 43.5L82.5 43.6ZM20.1 39.1L15.0 38.1L11.1 38.1L4.6 41.1L9.1 42.5L16.0 42.2ZM139.7 12.1L134.0 13.9L144.4 15.6L150.8 14.5L151.1 13.7L146.4 12.4ZM145.5 29.7L144.8 31.7L153.2 33.8L161.5 33.3L163.5 30.9ZM148.6 35.2L150.5 34.3L142.6 32.3L131.2 33.9L132.8 35.6L143.1 36.0ZM114.5 36.3L128.5 36.1L129.3 35.8L127.6 34.0L119.5 32.8L111.6 34.8ZM170.8 20.4L161.2 19.0L154.6 19.5L151.9 21.9L158.5 22.7L170.4 21.6ZM19.3 21.3L19.4 21.5L27.7 23.2L35.2 23.0L38.6 21.5L35.2 20.3L29.8 19.9ZM197.9 44.4L211.9 44.0L214.2 43.0L209.5 41.5L198.7 41.1L194.8 42.6ZM131.6 43.4L133.1 45.9L142.8 45.5L141.6 43.2Z"/></pattern></defs>
<rect x="3" y="0" width="71.1" height="67.6" fill="#000"/><text textLength="18.81" lengthAdjust="spacingAndGlyphs" x="29.1" y="45.2" font-size="32.5" fill="#fff" stroke="#fff" stroke-width="0.15">A</text>
<rect x="0" y="615.2" width="69.9" height="67.9" fill="#000"/><text textLength="17.69" lengthAdjust="spacingAndGlyphs" x="26.1" y="660.6" font-size="32.5" fill="#fff" stroke="#fff" stroke-width="0.15">B</text>
<rect x="977.6" y="614.4" width="69.5" height="66.8" fill="#000"/><text textLength="17.34" lengthAdjust="spacingAndGlyphs" x="1003.7" y="659.2" font-size="32.5" fill="#fff" stroke="#fff" stroke-width="0.15">C</text>
<rect x="1436.5" y="616" width="72.9" height="66.7" fill="#000"/><text textLength="20.25" lengthAdjust="spacingAndGlyphs" x="1462.8" y="660.8" font-size="32.5" fill="#fff" stroke="#fff" stroke-width="0.15">H</text>
<rect x="6.7" y="1206.8" width="72.4" height="67.0" fill="#000"/><text textLength="20.00" lengthAdjust="spacingAndGlyphs" x="32.9" y="1251.7" font-size="32.5" fill="#fff" stroke="#fff" stroke-width="0.15">D</text>
<rect x="1187.3" y="1228.4" width="67.3" height="67.8" fill="#000"/><text textLength="15.88" lengthAdjust="spacingAndGlyphs" x="1213.0" y="1273.7" font-size="32.5" fill="#fff" stroke="#fff" stroke-width="0.15">E</text>
<rect x="5.4" y="1778.8" width="67.0" height="67.0" fill="#000"/><text textLength="14.94" lengthAdjust="spacingAndGlyphs" x="31.4" y="1823.7" font-size="32.5" fill="#fff" stroke="#fff" stroke-width="0.15">F</text>
<rect x="1187.3" y="1817.3" width="72.0" height="67.3" fill="#000"/><text textLength="20.52" lengthAdjust="spacingAndGlyphs" x="1213.1" y="1862.3" font-size="32.5" fill="#fff" stroke="#fff" stroke-width="0.15">G</text>
<line x1="166" y1="156.4" x2="639.5" y2="156.4" stroke="#D9D9D9" stroke-width="2.3"/>
<line x1="166" y1="256.4" x2="639.5" y2="256.4" stroke="#D9D9D9" stroke-width="2.3"/>
<line x1="166" y1="356.5" x2="639.5" y2="356.5" stroke="#D9D9D9" stroke-width="2.3"/>
<line x1="166" y1="456.8" x2="639.5" y2="456.8" stroke="#D9D9D9" stroke-width="2.3"/>
<text textLength="53.20" lengthAdjust="spacingAndGlyphs" x="82.3" y="166.0" font-size="30.0" fill="#000" stroke="#000" stroke-width="0.45">0.15</text>
<text textLength="15.22" lengthAdjust="spacingAndGlyphs" x="120.4" y="266.0" font-size="30.0" fill="#000" stroke="#000" stroke-width="0.45">0</text>
<text textLength="62.38" lengthAdjust="spacingAndGlyphs" x="73.2" y="366.1" font-size="30.0" fill="#000" stroke="#000" stroke-width="0.45">-0.15</text>
<text textLength="47.17" lengthAdjust="spacingAndGlyphs" x="88.5" y="466.4" font-size="30.0" fill="#000" stroke="#000" stroke-width="0.45">-0.3</text>
<text textLength="91.64" lengthAdjust="spacingAndGlyphs" x="179.0" y="127.3" font-size="27.0" fill="#000" stroke="#000" stroke-width="0.45">Baseline</text>
<text textLength="88.31" lengthAdjust="spacingAndGlyphs" x="298.6" y="127.3" font-size="27.0" fill="#000" stroke="#000" stroke-width="0.45">4 weeks</text>
<text textLength="88.31" lengthAdjust="spacingAndGlyphs" x="416.6" y="127.3" font-size="27.0" fill="#000" stroke="#000" stroke-width="0.45">8 weeks</text>
<text textLength="102.00" lengthAdjust="spacingAndGlyphs" x="528.8" y="127.3" font-size="27.0" fill="#000" stroke="#000" stroke-width="0.45">16 weeks</text>
<polyline points="225.0,256.4 343.4,254.0 461.8,236.3 580.2,242.7" fill="none" stroke="#FF0000" stroke-width="7.1" stroke-linejoin="round"/>
<polyline points="225.0,256.4 343.4,389.9 461.8,350.0 580.2,309.7" fill="none" stroke="#0000FF" stroke-width="7.1" stroke-linejoin="round"/>
<path d="M343.4 221.0V287.4M335.4 221.0H351.4M335.4 287.4H351.4" stroke="#595959" stroke-width="2.6" fill="none"/>
<path d="M461.8 189.6V282.9M453.8 189.6H469.8M453.8 282.9H469.8" stroke="#595959" stroke-width="2.6" fill="none"/>
<path d="M580.2 183.2V302.2M572.2 183.2H588.2M572.2 302.2H588.2" stroke="#595959" stroke-width="2.6" fill="none"/>
<path d="M343.4 369.8V409.7M335.4 369.8H351.4M335.4 409.7H351.4" stroke="#595959" stroke-width="2.6" fill="none"/>
<path d="M461.8 310.0V390.2M453.8 310.0H469.8M453.8 390.2H469.8" stroke="#595959" stroke-width="2.6" fill="none"/>
<path d="M580.2 276.5V343.2M572.2 276.5H588.2M572.2 343.2H588.2" stroke="#595959" stroke-width="2.6" fill="none"/>
<circle cx="225.0" cy="256.4" r="8.4" fill="#FF0000" stroke="#000" stroke-width="2.6"/>
<circle cx="343.4" cy="254.0" r="8.4" fill="#FF0000" stroke="#000" stroke-width="2.6"/>
<circle cx="461.8" cy="236.3" r="8.4" fill="#FF0000" stroke="#000" stroke-width="2.6"/>
<circle cx="580.2" cy="242.7" r="8.4" fill="#FF0000" stroke="#000" stroke-width="2.6"/>
<circle cx="225.0" cy="256.4" r="8.4" fill="#0000FF" stroke="#000" stroke-width="2.6"/>
<circle cx="343.4" cy="389.9" r="8.4" fill="#0000FF" stroke="#000" stroke-width="2.6"/>
<circle cx="461.8" cy="350.0" r="8.4" fill="#0000FF" stroke="#000" stroke-width="2.6"/>
<circle cx="580.2" cy="309.7" r="8.4" fill="#0000FF" stroke="#000" stroke-width="2.6"/>
<text textLength="89.19" lengthAdjust="spacingAndGlyphs" x="303.6" y="467.0" font-size="27.0" fill="#0000FF" stroke="#0000FF" stroke-width="0.45">p&lt;0.001</text>
<text textLength="89.19" lengthAdjust="spacingAndGlyphs" x="417.5" y="433.6" font-size="27.0" fill="#0000FF" stroke="#0000FF" stroke-width="0.45">p=0.004</text>
<text textLength="75.52" lengthAdjust="spacingAndGlyphs" x="545.7" y="395.7" font-size="27.0" fill="#0000FF" stroke="#0000FF" stroke-width="0.45">p=0.05</text>
<text textLength="188.84" lengthAdjust="spacingAndGlyphs" transform="translate(48.7 388.7) rotate(-90)" x="-0.0" y="0" font-size="40.6" fill="#000" stroke="#000" stroke-width="0.45">Δ AW (mm)</text>
<line x1="169" y1="546.2" x2="235.2" y2="546.2" stroke="#FF0000" stroke-width="8.4" stroke-linecap="round"/>
<circle cx="202.5" cy="546.2" r="8.4" fill="#FF0000" stroke="#000" stroke-width="2.6"/>
<text textLength="55.48" lengthAdjust="spacingAndGlyphs" x="245.0" y="557.7" font-size="36.5" fill="#000" stroke="#000" stroke-width="0.45">PBS</text>
<line x1="385.3" y1="546.2" x2="451.5" y2="546.2" stroke="#0000FF" stroke-width="8.4" stroke-linecap="round"/>
<circle cx="418.8" cy="546.2" r="8.4" fill="#0000FF" stroke="#ED7D31" stroke-width="2.6"/>
<text textLength="111.09" lengthAdjust="spacingAndGlyphs" x="460.8" y="557.7" font-size="36.5" fill="#000" stroke="#000" stroke-width="0.45">CDC-EV</text>
<line x1="806" y1="159.7" x2="1274.3" y2="159.7" stroke="#D9D9D9" stroke-width="2.3"/>
<line x1="806" y1="219.6" x2="1274.3" y2="219.6" stroke="#D9D9D9" stroke-width="2.3"/>
<line x1="806" y1="279.4" x2="1274.3" y2="279.4" stroke="#D9D9D9" stroke-width="2.3"/>
<line x1="806" y1="339.5" x2="1274.3" y2="339.5" stroke="#D9D9D9" stroke-width="2.3"/>
<line x1="806" y1="399.6" x2="1274.3" y2="399.6" stroke="#D9D9D9" stroke-width="2.3"/>
<line x1="806" y1="459.6" x2="1274.3" y2="459.6" stroke="#D9D9D9" stroke-width="2.3"/>
<text textLength="53.20" lengthAdjust="spacingAndGlyphs" x="722.8" y="169.3" font-size="30.0" fill="#000" stroke="#000" stroke-width="0.45">0.12</text>
<text textLength="53.20" lengthAdjust="spacingAndGlyphs" x="722.8" y="229.7" font-size="30.0" fill="#000" stroke="#000" stroke-width="0.45">0.06</text>
<text textLength="15.22" lengthAdjust="spacingAndGlyphs" x="760.9" y="289.0" font-size="30.0" fill="#000" stroke="#000" stroke-width="0.45">0</text>
<text textLength="62.38" lengthAdjust="spacingAndGlyphs" x="713.6" y="349.6" font-size="30.0" fill="#000" stroke="#000" stroke-width="0.45">-0.06</text>
<text textLength="62.38" lengthAdjust="spacingAndGlyphs" x="713.6" y="409.2" font-size="30.0" fill="#000" stroke="#000" stroke-width="0.45">-0.12</text>
<text textLength="62.38" lengthAdjust="spacingAndGlyphs" x="713.6" y="469.9" font-size="30.0" fill="#000" stroke="#000" stroke-width="0.45">-0.18</text>
<text textLength="91.64" lengthAdjust="spacingAndGlyphs" x="818.3" y="130.6" font-size="27.0" fill="#000" stroke="#000" stroke-width="0.45">Baseline</text>
<text textLength="88.31" lengthAdjust="spacingAndGlyphs" x="936.6" y="130.6" font-size="27.0" fill="#000" stroke="#000" stroke-width="0.45">4 weeks</text>
<text textLength="88.31" lengthAdjust="spacingAndGlyphs" x="1053.7" y="130.6" font-size="27.0" fill="#000" stroke="#000" stroke-width="0.45">8 weeks</text>
<text textLength="102.00" lengthAdjust="spacingAndGlyphs" x="1163.8" y="130.6" font-size="27.0" fill="#000" stroke="#000" stroke-width="0.45">16 weeks</text>
<polyline points="864.4,279.4 981.4,275.4 1098.4,249.5 1215.6,289.8" fill="none" stroke="#FF0000" stroke-width="7.1" stroke-linejoin="round"/>
<polyline points="864.4,279.4 981.4,379.8 1098.4,339.3 1215.6,379.8" fill="none" stroke="#0000FF" stroke-width="7.1" stroke-linejoin="round"/>
<path d="M981.4 225.3V325.4M973.4 225.3H989.4M973.4 325.4H989.4" stroke="#595959" stroke-width="2.6" fill="none"/>
<path d="M1098.4 189.5V309.4M1090.4 189.5H1106.4M1090.4 309.4H1106.4" stroke="#595959" stroke-width="2.6" fill="none"/>
<path d="M1215.6 219.5V360.0M1207.6 219.5H1223.6M1207.6 360.0H1223.6" stroke="#595959" stroke-width="2.6" fill="none"/>
<path d="M981.4 359.5V399.7M973.4 359.5H989.4M973.4 399.7H989.4" stroke="#595959" stroke-width="2.6" fill="none"/>
<path d="M1098.4 308.7V369.9M1090.4 308.7H1106.4M1090.4 369.9H1106.4" stroke="#595959" stroke-width="2.6" fill="none"/>
<path d="M1215.6 329.7V429.7M1207.6 329.7H1223.6M1207.6 429.7H1223.6" stroke="#595959" stroke-width="2.6" fill="none"/>
<circle cx="864.4" cy="279.4" r="8.4" fill="#FF0000" stroke="#000" stroke-width="2.6"/>
<circle cx="981.4" cy="275.4" r="8.4" fill="#FF0000" stroke="#000" stroke-width="2.6"/>
<circle cx="1098.4" cy="249.5" r="8.4" fill="#FF0000" stroke="#000" stroke-width="2.6"/>
<circle cx="1215.6" cy="289.8" r="8.4" fill="#FF0000" stroke="#000" stroke-width="2.6"/>
<circle cx="864.4" cy="279.4" r="8.4" fill="#0000FF" stroke="#000" stroke-width="2.6"/>
<circle cx="981.4" cy="379.8" r="8.4" fill="#0000FF" stroke="#000" stroke-width="2.6"/>
<circle cx="1098.4" cy="339.3" r="8.4" fill="#0000FF" stroke="#000" stroke-width="2.6"/>
<circle cx="1215.6" cy="379.8" r="8.4" fill="#0000FF" stroke="#000" stroke-width="2.6"/>
<text textLength="89.19" lengthAdjust="spacingAndGlyphs" x="938.0" y="446.3" font-size="27.0" fill="#0000FF" stroke="#0000FF" stroke-width="0.45">p=0.001</text>
<text textLength="188.77" lengthAdjust="spacingAndGlyphs" transform="translate(692.4 386.7) rotate(-90)" x="-0.0" y="0" font-size="40.8" fill="#000" stroke="#000" stroke-width="0.45">Δ PW (mm)</text>
<line x1="808" y1="546.2" x2="872.8" y2="546.2" stroke="#FF0000" stroke-width="8.4" stroke-linecap="round"/>
<circle cx="840.3" cy="546.2" r="8.4" fill="#FF0000" stroke="#000" stroke-width="2.6"/>
<text textLength="55.48" lengthAdjust="spacingAndGlyphs" x="882.4" y="557.7" font-size="36.5" fill="#000" stroke="#000" stroke-width="0.45">PBS</text>
<line x1="1022.6" y1="546.2" x2="1087.3" y2="546.2" stroke="#0000FF" stroke-width="8.4" stroke-linecap="round"/>
<circle cx="1054.8" cy="546.2" r="8.4" fill="#0000FF" stroke="#000" stroke-width="2.6"/>
<text textLength="111.09" lengthAdjust="spacingAndGlyphs" x="1097.0" y="557.7" font-size="36.5" fill="#000" stroke="#000" stroke-width="0.45">CDC-EV</text>
<line x1="1402.3" y1="166.4" x2="1877" y2="166.4" stroke="#D9D9D9" stroke-width="2.3"/>
<line x1="1402.3" y1="226.3" x2="1877" y2="226.3" stroke="#D9D9D9" stroke-width="2.3"/>
<line x1="1402.3" y1="286.2" x2="1877" y2="286.2" stroke="#D9D9D9" stroke-width="2.3"/>
<line x1="1402.3" y1="346.1" x2="1877" y2="346.1" stroke="#D9D9D9" stroke-width="2.3"/>
<line x1="1402.3" y1="406.1" x2="1877" y2="406.1" stroke="#D9D9D9" stroke-width="2.3"/>
<line x1="1402.3" y1="466.1" x2="1877" y2="466.1" stroke="#D9D9D9" stroke-width="2.3"/>
<text textLength="45.62" lengthAdjust="spacingAndGlyphs" x="1326.2" y="176.0" font-size="30.0" fill="#000" stroke="#000" stroke-width="0.45">100</text>
<text textLength="30.42" lengthAdjust="spacingAndGlyphs" x="1341.3" y="235.9" font-size="30.0" fill="#000" stroke="#000" stroke-width="0.45">50</text>
<text textLength="15.22" lengthAdjust="spacingAndGlyphs" x="1356.6" y="295.8" font-size="30.0" fill="#000" stroke="#000" stroke-width="0.45">0</text>
<text textLength="39.61" lengthAdjust="spacingAndGlyphs" x="1332.2" y="355.7" font-size="30.0" fill="#000" stroke="#000" stroke-width="0.45">-50</text>
<text textLength="54.81" lengthAdjust="spacingAndGlyphs" x="1317.0" y="415.7" font-size="30.0" fill="#000" stroke="#000" stroke-width="0.45">-100</text>
<text textLength="54.81" lengthAdjust="spacingAndGlyphs" x="1317.0" y="475.7" font-size="30.0" fill="#000" stroke="#000" stroke-width="0.45">-150</text>
<text textLength="91.64" lengthAdjust="spacingAndGlyphs" x="1415.8" y="137.3" font-size="27.0" fill="#000" stroke="#000" stroke-width="0.45">Baseline</text>
<text textLength="88.31" lengthAdjust="spacingAndGlyphs" x="1535.2" y="137.3" font-size="27.0" fill="#000" stroke="#000" stroke-width="0.45">4 weeks</text>
<text textLength="88.31" lengthAdjust="spacingAndGlyphs" x="1653.8" y="137.3" font-size="27.0" fill="#000" stroke="#000" stroke-width="0.45">8 weeks</text>
<text textLength="102.00" lengthAdjust="spacingAndGlyphs" x="1766.6" y="137.3" font-size="27.0" fill="#000" stroke="#000" stroke-width="0.45">16 weeks</text>
<polyline points="1461.0,286.2 1580.0,260.3 1698.8,276.3 1817.3,258.2" fill="none" stroke="#FF0000" stroke-width="7.1" stroke-linejoin="round"/>
<polyline points="1461.0,286.2 1580.0,395.3 1698.8,367.6 1817.3,343.7" fill="none" stroke="#0000FF" stroke-width="7.1" stroke-linejoin="round"/>
<path d="M1580.0 217.4V303.5M1572.0 217.4H1588.0M1572.0 303.5H1588.0" stroke="#595959" stroke-width="2.6" fill="none"/>
<path d="M1698.8 230.2V323.0M1690.8 230.2H1706.8M1690.8 323.0H1706.8" stroke="#595959" stroke-width="2.6" fill="none"/>
<path d="M1817.3 190.3V326.2M1809.3 190.3H1825.3M1809.3 326.2H1825.3" stroke="#595959" stroke-width="2.6" fill="none"/>
<path d="M1580.0 372.9V417.7M1572.0 372.9H1588.0M1572.0 417.7H1588.0" stroke="#595959" stroke-width="2.6" fill="none"/>
<path d="M1698.8 337.0V398.2M1690.8 337.0H1706.8M1690.8 398.2H1706.8" stroke="#595959" stroke-width="2.6" fill="none"/>
<path d="M1817.3 300.0V387.4M1809.3 300.0H1825.3M1809.3 387.4H1825.3" stroke="#595959" stroke-width="2.6" fill="none"/>
<circle cx="1461.0" cy="286.2" r="8.4" fill="#FF0000" stroke="#000" stroke-width="2.6"/>
<circle cx="1580.0" cy="260.3" r="8.4" fill="#FF0000" stroke="#000" stroke-width="2.6"/>
<circle cx="1698.8" cy="276.3" r="8.4" fill="#FF0000" stroke="#000" stroke-width="2.6"/>
<circle cx="1817.3" cy="258.2" r="8.4" fill="#FF0000" stroke="#000" stroke-width="2.6"/>
<circle cx="1461.0" cy="286.2" r="8.4" fill="#0000FF" stroke="#000" stroke-width="2.6"/>
<circle cx="1580.0" cy="395.3" r="8.4" fill="#0000FF" stroke="#000" stroke-width="2.6"/>
<circle cx="1698.8" cy="367.6" r="8.4" fill="#0000FF" stroke="#000" stroke-width="2.6"/>
<circle cx="1817.3" cy="343.7" r="8.4" fill="#0000FF" stroke="#000" stroke-width="2.6"/>
<text textLength="89.19" lengthAdjust="spacingAndGlyphs" x="1532.3" y="452.7" font-size="27.0" fill="#0000FF" stroke="#0000FF" stroke-width="0.45">p=0.001</text>
<text textLength="75.52" lengthAdjust="spacingAndGlyphs" x="1664.0" y="434.0" font-size="27.0" fill="#0000FF" stroke="#0000FF" stroke-width="0.45">p=0.03</text>
<text textLength="251.70" lengthAdjust="spacingAndGlyphs" transform="translate(1299.5 436.6) rotate(-90)" x="-0.0" y="0" font-size="41.3" fill="#000" stroke="#000" stroke-width="0.45">Δ LV mass (mg)</text>
<line x1="1411.4" y1="552.1" x2="1475.3" y2="552.1" stroke="#FF0000" stroke-width="8.4" stroke-linecap="round"/>
<circle cx="1443.4" cy="552.1" r="8.4" fill="#FF0000" stroke="#000" stroke-width="2.6"/>
<text textLength="55.48" lengthAdjust="spacingAndGlyphs" x="1486.5" y="563.6" font-size="36.5" fill="#000" stroke="#000" stroke-width="0.45">PBS</text>
<line x1="1626.5" y1="552.1" x2="1690" y2="552.1" stroke="#0000FF" stroke-width="8.4" stroke-linecap="round"/>
<circle cx="1658" cy="552.1" r="8.4" fill="#0000FF" stroke="#000" stroke-width="2.6"/>
<text textLength="111.09" lengthAdjust="spacingAndGlyphs" x="1700.5" y="563.6" font-size="36.5" fill="#000" stroke="#000" stroke-width="0.45">CDC-EV</text>
<line x1="1150.5" y1="723.3" x2="1421" y2="723.3" stroke="#D9D9D9" stroke-width="2.3"/>
<line x1="1150.5" y1="812.8" x2="1421" y2="812.8" stroke="#D9D9D9" stroke-width="2.3"/>
<line x1="1150.5" y1="902.6" x2="1421" y2="902.6" stroke="#D9D9D9" stroke-width="2.3"/>
<line x1="1150.5" y1="991.8" x2="1421" y2="991.8" stroke="#D9D9D9" stroke-width="2.3"/>
<text textLength="37.22" lengthAdjust="spacingAndGlyphs" x="1082.0" y="733.2" font-size="29.4" fill="#000" stroke="#000" stroke-width="0.45">3.6</text>
<text textLength="37.22" lengthAdjust="spacingAndGlyphs" x="1082.0" y="822.2" font-size="29.4" fill="#000" stroke="#000" stroke-width="0.45">2.7</text>
<text textLength="37.22" lengthAdjust="spacingAndGlyphs" x="1082.0" y="912.7" font-size="29.4" fill="#000" stroke="#000" stroke-width="0.45">1.8</text>
<text textLength="37.22" lengthAdjust="spacingAndGlyphs" x="1082.0" y="1001.2" font-size="29.4" fill="#000" stroke="#000" stroke-width="0.45">0.9</text>
<text textLength="14.91" lengthAdjust="spacingAndGlyphs" x="1104.4" y="1090.9" font-size="29.4" fill="#000" stroke="#000" stroke-width="0.45">0</text>
<line x1="1150.5" y1="723.3" x2="1150.5" y2="1082.7" stroke="#000" stroke-width="2.4"/>
<line x1="1149.3" y1="1081.5" x2="1421" y2="1081.5" stroke="#000" stroke-width="2.6"/>
<path d="M1217.6 759V750.3M1209.8999999999999 750.3H1225.3" stroke="#595959" stroke-width="2.6" fill="none"/>
<path d="M1353.2 797.7V789M1345.5 789H1360.9" stroke="#595959" stroke-width="2.6" fill="none"/>
<rect x="1176.2" y="760.8" width="83.5" height="320.7" fill="#FF0000" stroke="#000" stroke-width="3.6"/>
<rect x="1311.3" y="799.5" width="83.6" height="282.0" fill="#0000FF" stroke="#000" stroke-width="3.6"/>
<path d="M1242.8 731.9L1243.3999999999999 713.5Q1243.8 707.5 1247.8 707.5H1320.8Q1324.8 707.5 1325.2 713.5L1325.8 731.9" stroke="#000" stroke-width="2" fill="none"/>
<text textLength="75.52" lengthAdjust="spacingAndGlyphs" x="1248.9" y="695.0" font-size="27.0" fill="#000" stroke="#000" stroke-width="0.45">p=0.03</text>
<text textLength="61.27" lengthAdjust="spacingAndGlyphs" x="1188.5" y="1147.4" font-size="40.3" fill="#000" stroke="#000" stroke-width="0.45">PBS</text>
<text textLength="122.66" lengthAdjust="spacingAndGlyphs" x="1291.5" y="1147.4" font-size="40.3" fill="#000" stroke="#000" stroke-width="0.45">CDC-EV</text>
<text textLength="303.31" lengthAdjust="spacingAndGlyphs" transform="translate(1043.6 1048.2) rotate(-90)" x="-0.0" y="0" font-size="40.9" fill="#000" stroke="#000" stroke-width="0.45">Heart/BW (mg/gr)</text>
<line x1="1389.4" y1="1355.5" x2="1707.1" y2="1355.5" stroke="#D9D9D9" stroke-width="2.3"/>
<line x1="1389.4" y1="1444.9" x2="1707.1" y2="1444.9" stroke="#D9D9D9" stroke-width="2.3"/>
<line x1="1389.4" y1="1535.5" x2="1707.1" y2="1535.5" stroke="#D9D9D9" stroke-width="2.3"/>
<line x1="1389.4" y1="1626.2" x2="1707.1" y2="1626.2" stroke="#D9D9D9" stroke-width="2.3"/>
<text textLength="45.62" lengthAdjust="spacingAndGlyphs" x="1313.3" y="1365.1" font-size="30.0" fill="#000" stroke="#000" stroke-width="0.45">400</text>
<text textLength="45.62" lengthAdjust="spacingAndGlyphs" x="1313.3" y="1454.5" font-size="30.0" fill="#000" stroke="#000" stroke-width="0.45">300</text>
<text textLength="45.62" lengthAdjust="spacingAndGlyphs" x="1313.3" y="1545.1" font-size="30.0" fill="#000" stroke="#000" stroke-width="0.45">200</text>
<text textLength="45.62" lengthAdjust="spacingAndGlyphs" x="1313.3" y="1635.8" font-size="30.0" fill="#000" stroke="#000" stroke-width="0.45">100</text>
<text textLength="15.22" lengthAdjust="spacingAndGlyphs" x="1343.8" y="1727.3" font-size="30.0" fill="#000" stroke="#000" stroke-width="0.45">0</text>
<line x1="1389.4" y1="1355.5" x2="1389.4" y2="1718.9" stroke="#000" stroke-width="2.4"/>
<line x1="1388.2" y1="1717.7" x2="1707.1" y2="1717.7" stroke="#000" stroke-width="2.6"/>
<path d="M1468.3 1381.3V1366.5M1460.6 1366.5H1476.0" stroke="#595959" stroke-width="2.6" fill="none"/>
<path d="M1627.8 1421.2V1411M1620.1 1411H1635.5" stroke="#595959" stroke-width="2.6" fill="none"/>
<rect x="1419.6" y="1383.1" width="98.0" height="334.6" fill="#FF0000" stroke="#000" stroke-width="3.6"/>
<rect x="1578.8" y="1423.0" width="97.7" height="294.7" fill="#0000FF" stroke="#000" stroke-width="3.6"/>
<path d="M1498.2 1355.5L1498.8 1337.3Q1499.2 1331.3 1503.2 1331.3H1577.1Q1581.1 1331.3 1581.5 1337.3L1582.1 1355.5" stroke="#000" stroke-width="2" fill="none"/>
<text textLength="75.52" lengthAdjust="spacingAndGlyphs" x="1504.6" y="1318.6" font-size="27.0" fill="#000" stroke="#000" stroke-width="0.45">p=0.04</text>
<text textLength="61.27" lengthAdjust="spacingAndGlyphs" x="1439.4" y="1782.5" font-size="40.3" fill="#000" stroke="#000" stroke-width="0.45">PBS</text>
<text textLength="122.66" lengthAdjust="spacingAndGlyphs" x="1565.2" y="1782.5" font-size="40.3" fill="#000" stroke="#000" stroke-width="0.45">CDC-EV</text>
<text transform="translate(1279.6 1774.0) rotate(-90)" x="-0.0" y="0" font-size="42.0" fill="#000" stroke="#000" stroke-width="0.45">Cross&#160;&#160;sectional area (µm<tspan dy="-13" font-size="26">2</tspan><tspan dy="13">)</tspan></text>
<line x1="1388.5" y1="1899.9" x2="1722" y2="1899.9" stroke="#D9D9D9" stroke-width="2.3"/>
<line x1="1388.5" y1="2020.6" x2="1722" y2="2020.6" stroke="#D9D9D9" stroke-width="2.3"/>
<line x1="1388.5" y1="2141.4" x2="1722" y2="2141.4" stroke="#D9D9D9" stroke-width="2.3"/>
<text textLength="30.42" lengthAdjust="spacingAndGlyphs" x="1328.0" y="1910.2" font-size="30.0" fill="#000" stroke="#000" stroke-width="0.45">18</text>
<text textLength="30.42" lengthAdjust="spacingAndGlyphs" x="1328.0" y="2030.3" font-size="30.0" fill="#000" stroke="#000" stroke-width="0.45">12</text>
<text textLength="15.22" lengthAdjust="spacingAndGlyphs" x="1343.2" y="2151.5" font-size="30.0" fill="#000" stroke="#000" stroke-width="0.45">6</text>
<text textLength="15.22" lengthAdjust="spacingAndGlyphs" x="1343.2" y="2271.7" font-size="30.0" fill="#000" stroke="#000" stroke-width="0.45">0</text>
<line x1="1388.5" y1="1899.9" x2="1388.5" y2="2263.2999999999997" stroke="#000" stroke-width="2.4"/>
<line x1="1387.3" y1="2262.1" x2="1722" y2="2262.1" stroke="#000" stroke-width="2.6"/>
<path d="M1471.5 1949.5V1936.8M1463.8 1936.8H1479.2" stroke="#595959" stroke-width="2.6" fill="none"/>
<path d="M1638.3 2173.2V2161.3M1630.6 2161.3H1646.0" stroke="#595959" stroke-width="2.6" fill="none"/>
<rect x="1420.8" y="1951.3" width="101.5" height="310.8" fill="#FF0000" stroke="#000" stroke-width="3.6"/>
<rect x="1588.2" y="2175.0" width="101.4" height="87.1" fill="#0000FF" stroke="#000" stroke-width="3.6"/>
<path d="M1509.3 1926.2L1509.8999999999999 1908.9Q1510.3 1902.9 1514.3 1902.9H1588.6Q1592.6 1902.9 1593.0 1908.9L1593.6 1926.2" stroke="#000" stroke-width="2" fill="none"/>
<text textLength="102.88" lengthAdjust="spacingAndGlyphs" x="1502.5" y="1885.9" font-size="27.0" fill="#000" stroke="#000" stroke-width="0.45">p&lt;0.0001</text>
<text textLength="61.27" lengthAdjust="spacingAndGlyphs" x="1441.5" y="2328.7" font-size="40.3" fill="#000" stroke="#000" stroke-width="0.45">PBS</text>
<text textLength="122.66" lengthAdjust="spacingAndGlyphs" x="1575.8" y="2328.7" font-size="40.3" fill="#000" stroke="#000" stroke-width="0.45">CDC-EV</text>
<text textLength="316.59" lengthAdjust="spacingAndGlyphs" transform="translate(1297.4 2246.5) rotate(-90)" x="-0.0" y="0" font-size="41.4" fill="#000" stroke="#000" stroke-width="0.45">Area of fibrosis (%)</text>
<line x1="1593.6" y1="690.7" x2="1854.1" y2="690.7" stroke="#7F7F7F" stroke-width="1.6"/>
<line x1="1599.3" y1="690.7" x2="1599.3" y2="1131.5" stroke="#404040" stroke-width="1.8"/>
<line x1="1593.6" y1="1131.5" x2="1854.1" y2="1131.5" stroke="#404040" stroke-width="1.8"/>
<line x1="1593.6" y1="764.2" x2="1599.3" y2="764.2" stroke="#404040" stroke-width="1.5"/>
<line x1="1593.6" y1="837.9" x2="1599.3" y2="837.9" stroke="#404040" stroke-width="1.5"/>
<line x1="1593.6" y1="911.4" x2="1599.3" y2="911.4" stroke="#404040" stroke-width="1.5"/>
<line x1="1593.6" y1="984.6" x2="1599.3" y2="984.6" stroke="#404040" stroke-width="1.5"/>
<line x1="1593.6" y1="1058" x2="1599.3" y2="1058" stroke="#404040" stroke-width="1.5"/>
<text textLength="15.16" lengthAdjust="spacingAndGlyphs" x="1551.7" y="698.3" font-size="29.9" fill="#000" stroke="#000" stroke-width="0.45">0</text>
<text textLength="45.45" lengthAdjust="spacingAndGlyphs" x="1521.4" y="772.5" font-size="29.9" fill="#000" stroke="#000" stroke-width="0.45">200</text>
<text textLength="45.45" lengthAdjust="spacingAndGlyphs" x="1521.4" y="846.2" font-size="29.9" fill="#000" stroke="#000" stroke-width="0.45">400</text>
<text textLength="45.45" lengthAdjust="spacingAndGlyphs" x="1521.4" y="920.2" font-size="29.9" fill="#000" stroke="#000" stroke-width="0.45">600</text>
<text textLength="45.45" lengthAdjust="spacingAndGlyphs" x="1521.4" y="993.5" font-size="29.9" fill="#000" stroke="#000" stroke-width="0.45">800</text>
<text textLength="45.45" lengthAdjust="spacingAndGlyphs" x="1521.4" y="1066.3" font-size="29.9" fill="#000" stroke="#000" stroke-width="0.45">000</text>
<text textLength="69.75" lengthAdjust="spacingAndGlyphs" x="1497.0" y="1148.9" font-size="29.9" fill="#000" stroke="#000" stroke-width="0.45">-1200</text>
<rect x="1634.5" y="690.7" width="84.69999999999996" height="163.39999999999992" fill="#FF0000" stroke="#000" stroke-width="3.6"/>
<rect x="1748.8" y="690.7" width="84.99999999999991" height="326.99999999999994" fill="#0000FF" stroke="#000" stroke-width="3.6"/>
<path d="M1675.6 855V922.3M1662.4 922.3H1690.5M1791.3 1018.5V1091.9M1777.2 1091.9H1805.6" stroke="#6F6F6F" stroke-width="1.5" fill="none"/>
<text textLength="89.19" lengthAdjust="spacingAndGlyphs" x="1749.1" y="1119.8" font-size="27.0" fill="#0000FF" stroke="#0000FF" stroke-width="0.45">p=0.004</text>
<text textLength="61.27" lengthAdjust="spacingAndGlyphs" x="1645.7" y="1182.3" font-size="40.3" fill="#000" stroke="#000" stroke-width="0.45">PBS</text>
<text textLength="122.66" lengthAdjust="spacingAndGlyphs" x="1736.1" y="1182.3" font-size="40.3" fill="#000" stroke="#000" stroke-width="0.45">CDC-EV</text>
<text textLength="364.34" lengthAdjust="spacingAndGlyphs" transform="translate(1474.0 1098.9) rotate(-90)" x="-0.0" y="0" font-size="41.3" fill="#000" stroke="#000" stroke-width="0.45">Δ Serum BNP (pg/mL)</text>
<text textLength="59.28" lengthAdjust="spacingAndGlyphs" x="322.7" y="692.5" font-size="39.0" fill="#000" stroke="#000" stroke-width="0.45">PBS</text>
<text textLength="123.27" lengthAdjust="spacingAndGlyphs" x="671.0" y="690.2" font-size="40.5" fill="#000" stroke="#000" stroke-width="0.45">CDC-EV</text>
<rect x="113.85" y="713.15" width="846.5" height="414.5" fill="#F4F4F5" stroke="#000" stroke-width="3.8"/>
<rect x="122.8" y="743" width="410.2" height="328.3" fill="#F7F7F8"/>
<rect x="555" y="736.3" width="377" height="336.7" fill="#F7F7F8"/>
<g fill="#8A8A90" opacity="0.6"><circle cx="445.2" cy="923.8" r="0.7"/><circle cx="260.1" cy="847.5" r="0.8"/><circle cx="451.5" cy="772.8" r="0.8"/><circle cx="447.4" cy="991.8" r="1.0"/><circle cx="176.6" cy="861.0" r="1.2"/><circle cx="524.0" cy="975.0" r="0.6"/><circle cx="483.2" cy="796.1" r="0.8"/><circle cx="267.8" cy="870.3" r="0.6"/><circle cx="199.1" cy="990.6" r="0.6"/><circle cx="284.0" cy="743.9" r="0.9"/><circle cx="158.6" cy="754.2" r="1.1"/><circle cx="207.6" cy="1009.1" r="0.7"/><circle cx="451.2" cy="888.0" r="1.0"/><circle cx="522.5" cy="811.1" r="1.0"/><circle cx="157.1" cy="895.5" r="0.6"/><circle cx="437.3" cy="778.1" r="0.9"/><circle cx="152.1" cy="897.8" r="1.2"/><circle cx="438.5" cy="898.5" r="1.2"/><circle cx="323.9" cy="827.8" r="0.6"/><circle cx="458.3" cy="792.3" r="1.0"/><circle cx="476.6" cy="828.0" r="1.1"/><circle cx="171.0" cy="755.1" r="1.0"/><circle cx="300.0" cy="1055.0" r="1.2"/><circle cx="433.4" cy="999.6" r="1.0"/><circle cx="433.7" cy="843.0" r="1.3"/><circle cx="445.0" cy="1017.0" r="0.5"/><circle cx="222.3" cy="846.8" r="1.2"/><circle cx="350.2" cy="965.2" r="0.9"/><circle cx="314.4" cy="891.0" r="0.9"/><circle cx="477.6" cy="1019.1" r="1.3"/><circle cx="450.3" cy="759.4" r="0.7"/><circle cx="246.9" cy="782.7" r="1.3"/><circle cx="472.1" cy="884.9" r="0.6"/><circle cx="283.0" cy="809.9" r="0.8"/><circle cx="311.2" cy="1068.8" r="0.8"/><circle cx="149.9" cy="861.8" r="0.9"/><circle cx="251.9" cy="774.8" r="1.3"/><circle cx="154.9" cy="982.6" r="0.9"/><circle cx="464.4" cy="965.7" r="0.6"/><circle cx="134.4" cy="771.4" r="1.0"/><circle cx="186.4" cy="795.0" r="0.8"/><circle cx="131.5" cy="1058.5" r="1.1"/><circle cx="385.2" cy="1001.9" r="1.3"/><circle cx="175.1" cy="1005.1" r="1.2"/><circle cx="334.5" cy="833.7" r="1.1"/><circle cx="615.1" cy="1068.4" r="0.7"/><circle cx="861.3" cy="960.9" r="1.0"/><circle cx="815.1" cy="751.2" r="0.6"/><circle cx="804.9" cy="939.3" r="0.7"/><circle cx="885.6" cy="1025.1" r="1.1"/><circle cx="602.2" cy="1026.0" r="0.8"/><circle cx="859.5" cy="990.4" r="1.0"/><circle cx="769.6" cy="909.2" r="0.9"/><circle cx="770.3" cy="1067.0" r="0.5"/><circle cx="875.9" cy="1047.0" r="1.1"/><circle cx="892.2" cy="883.9" r="1.1"/><circle cx="763.7" cy="848.7" r="0.7"/><circle cx="888.8" cy="781.5" r="1.2"/><circle cx="925.7" cy="897.4" r="0.7"/><circle cx="777.3" cy="940.8" r="0.8"/><circle cx="831.5" cy="1016.9" r="1.1"/><circle cx="573.8" cy="1045.4" r="0.7"/><circle cx="897.9" cy="842.9" r="1.1"/><circle cx="708.4" cy="948.8" r="1.1"/><circle cx="852.0" cy="940.0" r="1.0"/><circle cx="735.0" cy="960.0" r="1.2"/><circle cx="575.8" cy="826.1" r="0.6"/><circle cx="702.3" cy="837.4" r="0.8"/><circle cx="678.4" cy="1047.3" r="0.7"/><circle cx="821.2" cy="869.4" r="0.7"/><circle cx="744.6" cy="1003.5" r="0.6"/><circle cx="911.4" cy="747.3" r="1.1"/><circle cx="844.3" cy="1050.3" r="1.0"/><circle cx="772.2" cy="820.3" r="1.2"/><circle cx="823.8" cy="775.6" r="1.0"/><circle cx="769.7" cy="1033.1" r="0.7"/><circle cx="701.4" cy="1026.5" r="1.3"/><circle cx="593.2" cy="1012.5" r="0.6"/><circle cx="675.7" cy="1014.3" r="1.0"/><circle cx="595.1" cy="912.4" r="0.8"/><circle cx="556.8" cy="824.2" r="0.9"/><circle cx="711.9" cy="846.5" r="0.5"/><circle cx="742.9" cy="1010.9" r="1.2"/><circle cx="587.4" cy="819.2" r="0.9"/><circle cx="711.3" cy="878.1" r="0.8"/></g>
<path d="M125.5 922.5C125.9 913.1 127.9 906.4 129.5 898.4C131.1 890.3 132.4 881.0 134.9 874.3C137.3 867.6 141.1 863.5 144.2 858.2C147.4 852.8 149.8 846.6 153.6 842.1C157.4 837.6 162.6 834.9 167.0 831.4C171.5 827.8 175.5 823.8 180.4 820.6C185.3 817.5 191.2 815.7 196.5 812.6C201.9 809.5 207.7 805.5 212.6 801.9C217.5 798.3 221.5 794.7 226.0 791.2C230.5 787.6 234.5 783.8 239.4 780.4C244.3 777.1 249.7 774.2 255.5 771.0C261.3 767.9 268.0 763.9 274.3 761.7C280.5 759.4 286.3 759.0 293.0 757.6C299.7 756.3 307.8 754.7 314.5 753.6C321.2 752.5 327.9 751.6 333.2 750.9C338.6 750.3 342.2 749.7 346.6 749.6C351.1 749.5 356.5 750.1 360.1 750.4C363.6 750.7 366.1 750.3 368.1 751.5C370.1 752.7 370.8 755.5 372.1 757.6C373.5 759.8 374.1 763.0 376.1 764.3C378.2 765.7 381.5 765.2 384.2 765.7C386.9 766.1 388.2 765.9 392.2 767.0C396.2 768.1 403.4 770.6 408.3 772.4C413.2 774.2 415.9 775.5 421.7 777.7C427.5 780.0 436.5 783.1 443.2 785.8C449.9 788.5 456.6 790.9 461.9 793.8C467.3 796.7 470.9 799.6 475.3 803.2C479.8 806.8 484.7 811.3 488.7 815.3C492.8 819.3 495.9 822.9 499.5 827.3C503.0 831.8 507.1 837.0 510.2 842.1C513.3 847.2 516.0 852.8 518.2 858.2C520.5 863.5 521.8 868.5 523.6 874.3C525.4 880.1 527.6 886.8 529.0 893.0C530.3 899.3 531.4 906.0 531.6 911.8C531.9 917.6 531.2 923.0 530.3 927.9C529.4 932.8 528.3 936.8 526.3 941.3C524.3 945.8 521.4 950.2 518.2 954.7C515.1 959.2 510.2 964.1 507.5 968.1C504.8 972.1 503.9 975.2 502.1 978.8C500.4 982.4 499.5 985.5 496.8 989.5C494.1 993.6 489.6 998.5 486.1 1002.9C482.5 1007.4 479.4 1012.3 475.3 1016.4C471.3 1020.4 466.4 1023.5 461.9 1027.1C457.5 1030.7 453.9 1034.5 448.5 1037.8C443.2 1041.2 436.5 1044.1 429.8 1047.2C423.1 1050.3 415.0 1054.1 408.3 1056.6C401.6 1059.0 396.2 1060.4 389.5 1061.9C382.8 1063.5 375.2 1065.3 368.1 1066.0C360.9 1066.6 353.4 1066.2 346.6 1066.0C339.9 1065.7 334.1 1065.5 327.9 1064.6C321.6 1063.7 315.8 1062.4 309.1 1060.6C302.4 1058.8 294.4 1056.6 287.7 1053.9C281.0 1051.2 275.2 1048.1 268.9 1044.5C262.6 1040.9 256.8 1035.6 250.1 1032.4C243.4 1029.3 235.8 1028.0 228.7 1025.7C221.5 1023.5 213.9 1021.5 207.2 1019.0C200.5 1016.6 193.8 1013.2 188.5 1011.0C183.1 1008.8 178.6 1005.6 175.1 1005.6C171.5 1005.6 169.3 1009.9 167.0 1011.0C164.8 1012.1 163.9 1012.8 161.7 1012.3C159.4 1011.9 156.3 1009.9 153.6 1008.3C150.9 1006.7 148.3 1006.1 145.6 1002.9C142.9 999.8 139.8 994.5 137.5 989.5C135.3 984.6 134.0 979.3 132.2 973.5C130.4 967.6 127.9 963.2 126.8 954.7C125.7 946.2 125.0 931.9 125.5 922.5Z" fill="#A63C78"/>
<path d="M125.5 922.5C125.9 913.1 127.9 906.4 129.5 898.4C131.1 890.3 132.4 881.0 134.9 874.3C137.3 867.6 141.1 863.5 144.2 858.2C147.4 852.8 149.8 846.6 153.6 842.1C157.4 837.6 162.6 834.9 167.0 831.4C171.5 827.8 175.5 823.8 180.4 820.6C185.3 817.5 191.2 815.7 196.5 812.6C201.9 809.5 207.7 805.5 212.6 801.9C217.5 798.3 221.5 794.7 226.0 791.2C230.5 787.6 234.5 783.8 239.4 780.4C244.3 777.1 249.7 774.2 255.5 771.0C261.3 767.9 268.0 763.9 274.3 761.7C280.5 759.4 286.3 759.0 293.0 757.6C299.7 756.3 307.8 754.7 314.5 753.6C321.2 752.5 327.9 751.6 333.2 750.9C338.6 750.3 342.2 749.7 346.6 749.6C351.1 749.5 356.5 750.1 360.1 750.4C363.6 750.7 366.1 750.3 368.1 751.5C370.1 752.7 370.8 755.5 372.1 757.6C373.5 759.8 374.1 763.0 376.1 764.3C378.2 765.7 381.5 765.2 384.2 765.7C386.9 766.1 388.2 765.9 392.2 767.0C396.2 768.1 403.4 770.6 408.3 772.4C413.2 774.2 415.9 775.5 421.7 777.7C427.5 780.0 436.5 783.1 443.2 785.8C449.9 788.5 456.6 790.9 461.9 793.8C467.3 796.7 470.9 799.6 475.3 803.2C479.8 806.8 484.7 811.3 488.7 815.3C492.8 819.3 495.9 822.9 499.5 827.3C503.0 831.8 507.1 837.0 510.2 842.1C513.3 847.2 516.0 852.8 518.2 858.2C520.5 863.5 521.8 868.5 523.6 874.3C525.4 880.1 527.6 886.8 529.0 893.0C530.3 899.3 531.4 906.0 531.6 911.8C531.9 917.6 531.2 923.0 530.3 927.9C529.4 932.8 528.3 936.8 526.3 941.3C524.3 945.8 521.4 950.2 518.2 954.7C515.1 959.2 510.2 964.1 507.5 968.1C504.8 972.1 503.9 975.2 502.1 978.8C500.4 982.4 499.5 985.5 496.8 989.5C494.1 993.6 489.6 998.5 486.1 1002.9C482.5 1007.4 479.4 1012.3 475.3 1016.4C471.3 1020.4 466.4 1023.5 461.9 1027.1C457.5 1030.7 453.9 1034.5 448.5 1037.8C443.2 1041.2 436.5 1044.1 429.8 1047.2C423.1 1050.3 415.0 1054.1 408.3 1056.6C401.6 1059.0 396.2 1060.4 389.5 1061.9C382.8 1063.5 375.2 1065.3 368.1 1066.0C360.9 1066.6 353.4 1066.2 346.6 1066.0C339.9 1065.7 334.1 1065.5 327.9 1064.6C321.6 1063.7 315.8 1062.4 309.1 1060.6C302.4 1058.8 294.4 1056.6 287.7 1053.9C281.0 1051.2 275.2 1048.1 268.9 1044.5C262.6 1040.9 256.8 1035.6 250.1 1032.4C243.4 1029.3 235.8 1028.0 228.7 1025.7C221.5 1023.5 213.9 1021.5 207.2 1019.0C200.5 1016.6 193.8 1013.2 188.5 1011.0C183.1 1008.8 178.6 1005.6 175.1 1005.6C171.5 1005.6 169.3 1009.9 167.0 1011.0C164.8 1012.1 163.9 1012.8 161.7 1012.3C159.4 1011.9 156.3 1009.9 153.6 1008.3C150.9 1006.7 148.3 1006.1 145.6 1002.9C142.9 999.8 139.8 994.5 137.5 989.5C135.3 984.6 134.0 979.3 132.2 973.5C130.4 967.6 127.9 963.2 126.8 954.7C125.7 946.2 125.0 931.9 125.5 922.5Z" fill="#fff" filter="url(#hnoise)"/>
<ellipse cx="381" cy="893" rx="26" ry="13" fill="#6E64B8" opacity="0.8"/>
<ellipse cx="380" cy="928" rx="26" ry="10" fill="#6E64B8" opacity="0.85"/>
<ellipse cx="395" cy="885" rx="20" ry="14" fill="#6E64B8" opacity="0.5"/>
<ellipse cx="330" cy="880" rx="18" ry="10" fill="#6E64B8" opacity="0.35"/>
<ellipse cx="212" cy="833" rx="12" ry="5" fill="#6E64B8" opacity="0.6"/>
<ellipse cx="508" cy="923" rx="7" ry="6" fill="#6E64B8" opacity="0.6"/>
<ellipse cx="372" cy="1040" rx="7" ry="5" fill="#6E64B8" opacity="0.4"/>
<ellipse cx="166" cy="982" rx="6" ry="3" fill="#6E64B8" opacity="0.4"/>
<ellipse cx="288" cy="786" rx="6" ry="4" fill="#6E64B8" opacity="0.4"/>
<ellipse cx="430" cy="905" rx="15" ry="25" fill="#6E64B8" opacity="0.3"/>
<ellipse cx="180" cy="850" rx="20" ry="10" fill="#6E64B8" opacity="0.25"/>
<ellipse cx="342.5" cy="935" rx="8" ry="11" fill="#A63C78"/>
<path d="M178 957 Q200 955 208 968 L205 972 Q190 965 178 962Z" fill="#7A2C6A" opacity=".8"/>
<path d="M294.8 821.5C290.4 821.6 277.3 822.6 270.6 824.1C264.0 825.6 261.0 828.0 254.9 830.4C248.8 832.9 239.2 836.4 233.9 838.8C228.7 841.3 226.6 842.5 223.4 845.1C220.3 847.7 218.2 850.9 215.0 854.5C211.9 858.2 208.4 863.3 204.5 867.1C200.7 871.0 195.8 874.3 192.0 877.6C188.1 880.9 184.6 883.9 181.5 887.1C178.3 890.2 175.4 892.7 173.1 896.5C170.7 900.4 168.5 905.2 167.3 910.1C166.1 915.0 165.6 920.8 165.7 925.9C165.8 930.9 166.3 936.0 167.8 940.6C169.4 945.1 172.4 950.4 175.2 953.2C178.0 955.9 181.1 956.1 184.6 957.3C188.1 958.6 192.5 959.1 196.2 960.5C199.8 961.9 203.8 963.5 206.6 965.7C209.4 968.0 211.0 971.2 212.9 974.1C214.9 977.1 216.1 980.6 218.2 983.6C220.3 986.5 223.3 989.3 225.5 992.0C227.8 994.6 230.2 996.5 231.8 999.3C233.4 1002.1 234.1 1006.0 235.0 1008.7C235.8 1011.5 236.0 1014.9 237.1 1016.1C238.1 1017.3 240.2 1017.8 241.3 1016.1C242.3 1014.3 243.5 1009.3 243.4 1005.6C243.2 1001.9 241.8 997.6 240.2 994.1C238.6 990.6 236.2 987.6 233.9 984.6C231.6 981.6 229.4 979.4 226.6 976.2C223.8 973.1 220.6 968.9 217.1 965.7C213.6 962.6 209.1 959.8 205.6 957.3C202.1 954.9 198.4 954.0 196.2 951.1C193.9 948.1 192.8 943.7 192.0 939.5C191.1 935.3 190.9 930.8 190.9 925.9C190.9 921.0 191.1 914.9 192.0 910.1C192.8 905.4 194.1 901.4 196.2 897.6C198.3 893.7 201.8 890.0 204.5 887.1C207.3 884.1 210.1 882.3 212.9 879.7C215.7 877.1 218.5 874.0 221.3 871.3C224.1 868.7 226.8 866.1 229.7 864.0C232.7 861.9 236.0 860.7 239.2 858.7C242.3 856.8 246.0 854.9 248.6 852.4C251.2 850.0 253.0 846.9 254.9 844.1C256.8 841.3 257.5 837.9 260.1 835.7C262.8 833.4 266.3 832.0 270.6 830.4C275.0 828.8 282.0 827.4 286.4 826.2C290.7 825.1 295.5 824.4 296.9 823.6C298.3 822.8 299.1 821.4 294.8 821.5Z" fill="#FAFAFB"/>
<polyline points="254.9,844.1 253.8,858.7 250.7,873.4 247.6,889.2 242.3,902.8 233.9,911.2 229.7,921.7 227.6,932.2 221.3,936.4 215.0,935.3" fill="none" stroke="#FAFAFB" stroke-width="4" stroke-linejoin="round" stroke-linecap="round"/>
<polyline points="349.7,895.3 364.6,882.2 378.6,869.2 387.9,854.2 395.4,839.3 401.9,830.0" fill="none" stroke="#FAFAFB" stroke-width="5" stroke-linejoin="round" stroke-linecap="round"/>
<polyline points="347.0,900.0 360.0,886.0" fill="none" stroke="#FAFAFB" stroke-width="8" stroke-linejoin="round" stroke-linecap="round"/>
<polyline points="338.5,912.0 360.0,910.0 385.0,911.0 406.6,913.0" fill="none" stroke="#FAFAFB" stroke-width="9" stroke-linejoin="round" stroke-linecap="round"/>
<polyline points="342.2,912.0 332.0,923.2 327.3,937.2 320.8,951.2 313.3,965.2 310.5,974.5" fill="none" stroke="#FAFAFB" stroke-width="9" stroke-linejoin="round" stroke-linecap="round"/>
<polyline points="332.0,949.3 355.3,950.3 383.2,940.0 406.6,935.4" fill="none" stroke="#FAFAFB" stroke-width="5" stroke-linejoin="round" stroke-linecap="round"/>
<polyline points="406.6,935.4 415.9,946.6 425.2,960.5 434.5,969.9" fill="none" stroke="#FAFAFB" stroke-width="5" stroke-linejoin="round" stroke-linecap="round"/>
<polyline points="401.9,912.0 409.3,895.3 413.1,889.7" fill="none" stroke="#FAFAFB" stroke-width="3" stroke-linejoin="round" stroke-linecap="round"/>
<polyline points="330.0,925.0 318.0,935.0 305.0,945.0" fill="none" stroke="#FAFAFB" stroke-width="1.3" stroke-linejoin="round" stroke-linecap="round" opacity="0.8"/>
<polyline points="320.0,952.0 305.0,960.0" fill="none" stroke="#FAFAFB" stroke-width="1.3" stroke-linejoin="round" stroke-linecap="round" opacity="0.8"/>
<polyline points="425.0,960.0 440.0,965.0" fill="none" stroke="#FAFAFB" stroke-width="1.3" stroke-linejoin="round" stroke-linecap="round" opacity="0.8"/>
<polyline points="428.0,962.0 436.0,975.0" fill="none" stroke="#FAFAFB" stroke-width="1.3" stroke-linejoin="round" stroke-linecap="round" opacity="0.8"/>
<polyline points="415.0,946.0 440.0,950.0" fill="none" stroke="#FAFAFB" stroke-width="1.3" stroke-linejoin="round" stroke-linecap="round" opacity="0.8"/>
<polyline points="340.0,908.0 325.0,905.0" fill="none" stroke="#FAFAFB" stroke-width="1.3" stroke-linejoin="round" stroke-linecap="round" opacity="0.8"/>
<polyline points="404.0,840.0 400.0,860.0" fill="none" stroke="#FAFAFB" stroke-width="1.3" stroke-linejoin="round" stroke-linecap="round" opacity="0.8"/>
<polyline points="300.0,880.0 320.0,890.0" fill="none" stroke="#FAFAFB" stroke-width="1.3" stroke-linejoin="round" stroke-linecap="round" opacity="0.8"/>
<polyline points="310.0,965.0 300.0,978.0" fill="none" stroke="#FAFAFB" stroke-width="1.3" stroke-linejoin="round" stroke-linecap="round" opacity="0.8"/>
<line x1="258.2" y1="835.4" x2="334.6" y2="893" stroke="#FFBA00" stroke-width="7"/>
<path d="M557.5 905.5C557.5 898.4 558.0 884.6 558.8 875.4C559.6 866.2 560.9 857.4 562.6 850.3C564.2 843.2 566.3 838.6 568.8 832.8C571.3 827.0 574.5 821.1 577.6 815.3C580.7 809.4 584.3 803.1 587.6 797.7C590.9 792.3 593.9 786.7 597.6 782.7C601.4 778.7 606.0 776.4 610.2 773.9C614.3 771.4 618.5 769.9 622.7 767.7C626.9 765.4 631.5 762.2 635.2 760.1C639.0 758.0 641.9 757.4 645.2 755.1C648.6 752.8 651.9 748.7 655.3 746.4C658.6 744.1 660.7 742.5 665.3 741.3C669.9 740.2 676.6 739.8 682.8 739.6C689.1 739.4 696.6 739.3 702.9 740.1C709.1 740.9 714.1 743.1 720.4 744.6C726.7 746.1 732.9 747.7 740.5 748.9C748.0 750.0 757.2 750.5 765.5 751.4C773.9 752.2 783.0 752.4 790.6 753.9C798.1 755.3 804.3 757.8 810.6 760.1C816.9 762.4 821.9 764.5 828.1 767.7C834.4 770.8 841.9 774.8 848.2 778.9C854.5 783.1 860.3 788.3 865.7 792.7C871.2 797.1 875.8 800.6 880.8 805.2C885.8 809.8 891.2 815.3 895.8 820.3C900.4 825.3 905.0 830.3 908.3 835.3C911.7 840.3 913.3 844.5 915.8 850.3C918.4 856.2 921.5 864.1 923.4 870.4C925.2 876.6 926.1 881.7 927.1 887.9C928.2 894.2 929.2 901.7 929.6 908.0C930.0 914.2 929.8 919.2 929.6 925.5C929.4 931.8 929.0 939.3 928.4 945.6C927.7 951.8 927.1 957.2 925.9 963.1C924.6 968.9 922.5 975.2 920.9 980.6C919.2 986.1 918.4 990.7 915.8 995.7C913.3 1000.7 909.2 1005.7 905.8 1010.7C902.5 1015.7 900.0 1020.7 895.8 1025.7C891.6 1030.7 885.8 1036.6 880.8 1040.8C875.8 1044.9 871.2 1047.7 865.7 1050.8C860.3 1053.9 854.5 1057.1 848.2 1059.6C841.9 1062.1 834.4 1064.0 828.1 1065.8C821.9 1067.6 816.9 1069.1 810.6 1070.3C804.3 1071.6 797.2 1073.0 790.6 1073.3C783.9 1073.6 776.8 1072.7 770.5 1072.1C764.3 1071.5 758.8 1070.6 753.0 1069.6C747.1 1068.5 741.7 1067.3 735.4 1065.8C729.2 1064.4 722.1 1062.9 715.4 1060.8C708.7 1058.7 701.6 1056.2 695.3 1053.3C689.1 1050.4 684.1 1046.6 677.8 1043.3C671.5 1039.9 664.0 1036.6 657.8 1033.2C651.5 1029.9 646.5 1027.2 640.2 1023.2C634.0 1019.3 626.4 1014.5 620.2 1009.4C613.9 1004.4 607.7 998.4 602.6 993.2C597.6 987.9 594.3 983.6 590.1 978.1C585.9 972.7 581.1 965.8 577.6 960.6C574.0 955.4 571.3 951.4 568.8 946.8C566.3 942.2 564.2 937.8 562.6 933.0C560.9 928.2 559.6 922.6 558.8 918.0C558.0 913.4 557.5 912.6 557.5 905.5Z" fill="#8C3064"/>
<path d="M557.5 905.5C557.5 898.4 558.0 884.6 558.8 875.4C559.6 866.2 560.9 857.4 562.6 850.3C564.2 843.2 566.3 838.6 568.8 832.8C571.3 827.0 574.5 821.1 577.6 815.3C580.7 809.4 584.3 803.1 587.6 797.7C590.9 792.3 593.9 786.7 597.6 782.7C601.4 778.7 606.0 776.4 610.2 773.9C614.3 771.4 618.5 769.9 622.7 767.7C626.9 765.4 631.5 762.2 635.2 760.1C639.0 758.0 641.9 757.4 645.2 755.1C648.6 752.8 651.9 748.7 655.3 746.4C658.6 744.1 660.7 742.5 665.3 741.3C669.9 740.2 676.6 739.8 682.8 739.6C689.1 739.4 696.6 739.3 702.9 740.1C709.1 740.9 714.1 743.1 720.4 744.6C726.7 746.1 732.9 747.7 740.5 748.9C748.0 750.0 757.2 750.5 765.5 751.4C773.9 752.2 783.0 752.4 790.6 753.9C798.1 755.3 804.3 757.8 810.6 760.1C816.9 762.4 821.9 764.5 828.1 767.7C834.4 770.8 841.9 774.8 848.2 778.9C854.5 783.1 860.3 788.3 865.7 792.7C871.2 797.1 875.8 800.6 880.8 805.2C885.8 809.8 891.2 815.3 895.8 820.3C900.4 825.3 905.0 830.3 908.3 835.3C911.7 840.3 913.3 844.5 915.8 850.3C918.4 856.2 921.5 864.1 923.4 870.4C925.2 876.6 926.1 881.7 927.1 887.9C928.2 894.2 929.2 901.7 929.6 908.0C930.0 914.2 929.8 919.2 929.6 925.5C929.4 931.8 929.0 939.3 928.4 945.6C927.7 951.8 927.1 957.2 925.9 963.1C924.6 968.9 922.5 975.2 920.9 980.6C919.2 986.1 918.4 990.7 915.8 995.7C913.3 1000.7 909.2 1005.7 905.8 1010.7C902.5 1015.7 900.0 1020.7 895.8 1025.7C891.6 1030.7 885.8 1036.6 880.8 1040.8C875.8 1044.9 871.2 1047.7 865.7 1050.8C860.3 1053.9 854.5 1057.1 848.2 1059.6C841.9 1062.1 834.4 1064.0 828.1 1065.8C821.9 1067.6 816.9 1069.1 810.6 1070.3C804.3 1071.6 797.2 1073.0 790.6 1073.3C783.9 1073.6 776.8 1072.7 770.5 1072.1C764.3 1071.5 758.8 1070.6 753.0 1069.6C747.1 1068.5 741.7 1067.3 735.4 1065.8C729.2 1064.4 722.1 1062.9 715.4 1060.8C708.7 1058.7 701.6 1056.2 695.3 1053.3C689.1 1050.4 684.1 1046.6 677.8 1043.3C671.5 1039.9 664.0 1036.6 657.8 1033.2C651.5 1029.9 646.5 1027.2 640.2 1023.2C634.0 1019.3 626.4 1014.5 620.2 1009.4C613.9 1004.4 607.7 998.4 602.6 993.2C597.6 987.9 594.3 983.6 590.1 978.1C585.9 972.7 581.1 965.8 577.6 960.6C574.0 955.4 571.3 951.4 568.8 946.8C566.3 942.2 564.2 937.8 562.6 933.0C560.9 928.2 559.6 922.6 558.8 918.0C558.0 913.4 557.5 912.6 557.5 905.5Z" fill="#fff" filter="url(#hnoise2)"/>
<ellipse cx="818" cy="916" rx="28" ry="36" fill="#6E6EC4" opacity="0.55"/>
<ellipse cx="806" cy="934" rx="16" ry="16" fill="#6E6EC4" opacity="0.7"/>
<ellipse cx="830" cy="900" rx="20" ry="20" fill="#6E6EC4" opacity="0.4"/>
<ellipse cx="830" cy="797" rx="6" ry="4" fill="#6E6EC4" opacity="0.6"/>
<ellipse cx="909" cy="862" rx="5" ry="9" fill="#6E6EC4" opacity="0.6"/>
<ellipse cx="610" cy="841" rx="7" ry="5" fill="#6E6EC4" opacity="0.45"/>
<ellipse cx="581" cy="897" rx="6" ry="5" fill="#6E6EC4" opacity="0.5"/>
<ellipse cx="720" cy="820" rx="30" ry="20" fill="#6E6EC4" opacity="0.2"/>
<ellipse cx="660" cy="1000" rx="10" ry="8" fill="#6E6EC4" opacity="0.3"/>
<path d="M744.1 765.7C740.1 765.9 728.4 769.9 720.3 771.9C712.2 774.0 702.6 775.7 695.3 778.2C687.9 780.7 682.3 784.0 676.5 787.0C670.6 789.9 665.4 792.7 660.2 795.7C655.0 798.8 649.7 801.7 645.2 805.1C640.6 808.6 636.2 812.2 632.6 816.4C629.1 820.6 626.6 825.4 623.9 830.2C621.1 835.0 619.3 840.8 616.3 845.2C613.4 849.6 609.5 852.5 606.3 856.5C603.2 860.4 599.9 864.8 597.6 869.0C595.3 873.2 593.6 877.4 592.5 881.5C591.5 885.7 591.1 889.7 591.3 894.1C591.5 898.4 592.5 903.2 593.8 907.8C595.1 912.4 596.7 917.0 598.8 921.6C600.9 926.2 603.4 931.0 606.3 935.4C609.2 939.8 612.8 943.7 616.3 947.9C619.9 952.1 623.4 956.3 627.6 960.4C631.8 964.6 636.4 969.0 641.4 973.0C646.4 976.9 652.0 980.7 657.7 984.2C663.3 987.8 669.8 991.5 675.2 994.3C680.6 997.0 687.1 999.8 690.2 1000.5C693.4 1001.3 696.1 1000.5 694.0 998.6C691.9 996.8 683.1 992.7 677.7 989.2C672.3 985.8 666.7 981.7 661.4 978.0C656.2 974.2 650.8 970.7 646.4 966.7C642.0 962.7 638.1 959.2 635.1 954.2C632.2 949.2 630.3 942.7 628.9 936.6C627.4 930.6 626.7 924.1 626.4 917.9C626.0 911.6 626.6 905.3 627.0 899.1C627.4 892.8 628.0 886.3 628.9 880.3C629.7 874.2 631.1 867.8 632.0 862.7C632.9 857.7 633.1 854.6 634.5 850.2C635.9 845.8 637.5 840.8 640.1 836.4C642.7 832.1 646.4 827.7 650.2 823.9C653.9 820.2 658.1 817.0 662.7 813.9C667.3 810.8 672.3 808.5 677.7 805.1C683.1 801.8 688.2 797.8 695.3 793.9C702.3 789.9 712.2 785.2 720.3 781.3C728.4 777.5 740.1 773.3 744.1 770.7C748.1 768.1 748.1 765.5 744.1 765.7Z" fill="#FAFAFB"/>
<path d="M685.6 883.6C686.0 878.6 689.0 878.8 690.0 878.0C691.0 877.2 693.5 875.8 696.0 876.0C698.5 876.2 712.5 879.8 715.0 880.0C717.5 880.2 720.0 880.2 721.5 878.5C723.0 876.8 729.0 864.4 730.5 863.1C732.0 861.8 735.0 864.6 736.9 865.6C738.8 866.6 747.1 872.3 749.7 873.3C752.3 874.3 760.0 875.5 762.6 875.9C765.2 876.3 772.2 876.7 775.4 877.2C778.6 877.7 791.6 880.4 794.6 881.0C797.6 881.6 803.0 883.5 804.9 883.6C806.8 883.7 811.9 882.8 813.8 882.3C815.7 881.8 822.6 879.8 824.1 878.5C825.6 877.2 828.4 870.8 829.2 869.5C830.0 868.2 831.4 865.4 831.8 865.6C832.2 865.9 833.5 870.5 833.0 872.0C832.5 873.5 828.2 878.8 826.7 881.0C825.2 883.2 819.9 891.8 817.7 893.8C815.5 895.8 806.3 899.2 804.9 901.5C803.5 903.8 805.0 915.2 803.6 916.9C802.2 918.6 792.3 916.9 790.8 918.2C789.3 919.5 788.5 927.3 788.2 929.7C787.9 932.1 787.8 940.3 788.2 942.6C788.6 944.9 793.4 951.9 792.1 952.8C790.8 953.7 778.4 951.8 775.4 951.5C772.4 951.2 765.2 951.2 762.6 950.3C760.0 949.4 752.3 943.9 749.7 942.6C747.1 941.3 740.1 938.4 736.9 937.4C733.7 936.4 721.5 933.1 717.7 932.3C713.9 931.5 701.7 930.1 698.5 929.7C695.3 929.3 686.9 933.1 685.6 928.5C684.3 923.9 685.2 888.6 685.6 883.6Z" fill="#FAFAFB"/>
<ellipse cx="703.5" cy="889" rx="18.5" ry="8.5" transform="rotate(48 703.5 889)" fill="#8C3064"/>
<polyline points="807.0,904.0 824.0,903.0 839.0,905.0" fill="none" stroke="#FAFAFB" stroke-width="3" stroke-linejoin="round" stroke-linecap="round"/>
<polyline points="807.0,931.0 822.0,932.0 839.0,932.0" fill="none" stroke="#FAFAFB" stroke-width="2.5" stroke-linejoin="round" stroke-linecap="round"/>
<polyline points="795.0,950.0 800.0,962.0" fill="none" stroke="#FAFAFB" stroke-width="2" stroke-linejoin="round" stroke-linecap="round"/>
<polyline points="770.0,951.0 768.0,962.0" fill="none" stroke="#FAFAFB" stroke-width="2" stroke-linejoin="round" stroke-linecap="round"/>
<polyline points="823.0,888.0 835.0,895.0 850.0,905.0" fill="none" stroke="#FAFAFB" stroke-width="1" stroke-linejoin="round" stroke-linecap="round"/>
<polyline points="826.0,916.0 845.0,920.0 855.0,925.0" fill="none" stroke="#FAFAFB" stroke-width="1" stroke-linejoin="round" stroke-linecap="round"/>
<polyline points="826.0,925.0 848.0,935.0" fill="none" stroke="#FAFAFB" stroke-width="1" stroke-linejoin="round" stroke-linecap="round"/>
<polyline points="700.0,790.0 725.0,779.0 745.0,770.0" fill="none" stroke="#FAFAFB" stroke-width="3" stroke-linejoin="round" stroke-linecap="round"/>
<polyline points="668.0,794.0 690.0,782.0 710.0,771.0" fill="none" stroke="#FAFAFB" stroke-width="2.5" stroke-linejoin="round" stroke-linecap="round"/>
<polyline points="650.0,768.0 670.0,765.0 700.0,772.0" fill="none" stroke="#FAFAFB" stroke-width="1.5" stroke-linejoin="round" stroke-linecap="round"/>
<polyline points="697.0,851.0 705.0,860.0 712.0,875.0" fill="none" stroke="#FAFAFB" stroke-width="1.2" stroke-linejoin="round" stroke-linecap="round"/>
<polyline points="692.0,846.0 700.0,858.0 707.0,872.0" fill="none" stroke="#FAFAFB" stroke-width="1.2" stroke-linejoin="round" stroke-linecap="round"/>
<polyline points="702.0,849.0 712.0,866.0" fill="none" stroke="#FAFAFB" stroke-width="1.2" stroke-linejoin="round" stroke-linecap="round"/>
<polyline points="903.0,992.0 900.0,1000.0" fill="none" stroke="#FAFAFB" stroke-width="2" stroke-linejoin="round" stroke-linecap="round"/>
<polyline points="878.0,1022.0 872.0,1030.0" fill="none" stroke="#FAFAFB" stroke-width="2" stroke-linejoin="round" stroke-linecap="round"/>
<polyline points="905.0,955.0 907.0,965.0" fill="none" stroke="#FAFAFB" stroke-width="1.5" stroke-linejoin="round" stroke-linecap="round"/>
<path d="M683.5 878C681 895 680.5 912 682.5 928" fill="none" stroke="#1E0A14" stroke-width="4.5" stroke-linecap="round"/>
<path d="M611 868L609.5 890" fill="none" stroke="#1E0A14" stroke-width="2.6" stroke-linecap="round"/>
<line x1="657.8" y1="809" x2="734.2" y2="865.4" stroke="#FFBA00" stroke-width="7"/>
<text textLength="61.77" lengthAdjust="spacingAndGlyphs" x="847.0" y="1100.5" font-size="26.5" fill="#000" stroke="#000" stroke-width="0.45">1 mm</text>
<rect x="830.7" y="1110.9" width="100.7" height="5.8" fill="#000"/>
<text textLength="61.56" lengthAdjust="spacingAndGlyphs" x="318.4" y="1289.2" font-size="40.5" fill="#000" stroke="#000" stroke-width="0.45">PBS</text>
<text textLength="125.69" lengthAdjust="spacingAndGlyphs" x="814.3" y="1285.2" font-size="41.3" fill="#000" stroke="#000" stroke-width="0.45">CDC-EV</text>
<rect x="114.7" y="1301" width="1016.3" height="516" fill="#000"/>
<clipPath id="cD1"><rect x="0" y="0" width="485" height="477"/></clipPath>
<g transform="translate(130 1320)" clip-path="url(#cD1)">
<rect x="0" y="0" width="485" height="477" fill="#F0CBEA"/>
<path fill="#F6E6F4" d="M65.4 114.1L55.8 124.9 43.0 149.5 38.2 156.6 9.7 173.5 -1.3 182.4 -1.8 183.6 -1.3 184.9 0.5 185.3 13.0 179.2 40.6 159.9 45.7 151.2 61.8 128.4 67.0 115.0 71.9 109.7 77.5 105.9 87.1 96.4 96.3 85.4 104.3 77.5 104.5 76.7 105.3 76.5 105.5 75.7 118.1 68.2 128.0 58.3 140.7 52.1 150.4 42.6 159.2 35.6 168.9 21.8 169.0 21.0 180.7 9.5 186.4 11.3 191.1 9.9 193.5 7.5 194.8 3.8 198.6 2.5 199.6 1.5 199.8 -0.5 199.1 -1.7 197.2 -2.5 193.7 -1.6 191.1 -4.2 186.4 -5.6 183.2 -5.0 180.4 -3.2 178.1 1.2 178.0 5.4 168.4 20.6 167.6 20.8 157.0 32.4 147.8 39.3 136.3 46.4 127.1 57.2 114.6 64.7 106.2 73.1 105.0 75.1 104.1 75.3 103.9 76.0 103.0 76.2 94.6 83.5 82.6 92.0 72.4 100.8 68.3 106.1ZM40.9 160.2L38.7 162.3 38.7 165.4 40.9 167.5 43.9 167.5 46.0 165.4 46.0 162.3 43.9 160.2ZM64.1 297.2L37.8 307.1 25.5 313.8 11.3 317.6 -0.8 323.5 -1.6 324.4 -1.4 325.7 0.4 326.4 13.2 322.3 26.1 315.3 39.6 311.7 52.9 306.6 65.5 300.7 72.3 298.6 79.0 293.8 88.5 283.2 97.4 275.3 109.3 266.7 98.9 290.1 96.4 294.4 94.2 300.5 90.9 302.7 89.5 304.5 88.4 306.4 87.6 310.7 88.4 315.1 89.6 317.1 89.2 320.3 91.2 322.8 93.2 323.3 95.3 322.8 96.4 321.7 101.1 321.8 105.1 320.1 106.9 318.7 109.3 315.1 110.0 312.9 110.0 308.5 109.3 306.4 106.9 302.7 101.6 299.8 101.7 298.6 103.9 292.4 115.1 269.5 122.6 257.4 131.8 247.6 139.6 235.2 149.0 225.8 161.1 217.6 162.8 214.0 162.8 216.0 163.9 218.5 166.9 221.0 170.8 221.3 173.3 220.3 175.1 218.5 176.1 216.0 176.1 213.4 175.1 210.9 173.3 209.1 170.8 208.0 168.2 208.0 165.7 209.1 164.3 210.4 164.4 209.9 167.1 203.3 174.3 191.1 185.4 169.2 197.4 158.2 209.3 149.7 228.5 129.8 239.9 120.9 249.6 111.6 252.0 108.5 256.8 98.2 262.0 89.2 262.6 88.8 265.7 91.3 268.4 91.8 271.1 91.3 273.4 89.7 275.3 86.1 274.9 82.0 272.3 78.9 269.4 77.8 272.6 73.2 281.6 65.3 294.0 57.4 303.3 47.1 316.3 39.6 325.3 29.3 337.6 24.7 354.3 13.4 355.0 11.6 354.3 9.9 352.5 9.1 351.3 9.5 334.1 18.6 323.2 28.1 311.8 33.7 301.3 44.5 289.2 52.7 280.4 64.0 270.8 72.3 267.0 77.8 263.4 79.8 261.8 82.0 261.1 86.8 253.9 96.2 247.0 104.0 234.1 115.2 224.6 125.6 203.4 143.8 194.9 155.7 186.0 165.7 183.1 168.1 170.0 188.6 163.4 201.2 146.1 224.9 137.7 233.2 125.3 241.1 115.4 250.4 113.2 254.7 105.7 261.2 96.1 271.7 86.1 280.5 74.1 288.9 68.9 294.6ZM134.9 435.1L131.8 450.7 131.1 463.2 127.4 477.4 128.2 479.2 129.9 479.9 131.7 479.2 132.4 478.1 133.1 463.5 136.5 449.8 138.0 435.6 141.7 423.4 141.8 407.1 143.4 395.2 146.8 381.6 147.6 373.9 150.0 373.2 155.0 379.7 166.7 388.2 176.2 397.7 185.4 408.7 196.0 419.2 197.5 419.8 199.7 419.3 209.3 413.6 222.5 409.6 235.6 403.5 249.8 394.9 244.4 409.6 244.9 411.7 246.5 413.2 248.6 413.8 250.7 413.2 252.6 410.7 256.3 397.4 259.6 390.4 272.4 382.4 284.4 378.5 285.3 376.9 285.0 374.2 282.8 372.6 281.0 372.6 271.1 379.7 262.8 382.8 266.0 370.9 267.3 356.6 274.0 344.4 278.8 330.9 282.5 331.9 285.2 331.4 287.5 329.9 289.0 327.6 289.5 324.9 288.4 320.9 286.4 319.0 283.3 317.8 285.7 312.6 290.1 305.9 295.1 292.6 312.0 270.1 317.3 257.3 327.7 247.7 336.2 235.9 343.3 224.4 352.5 214.3 358.1 199.5 376.0 177.7 390.2 154.7 395.9 141.6 404.1 129.9 410.1 118.5 420.6 106.5 435.4 84.1 442.1 71.9 454.6 59.4 472.8 44.7 482.3 34.3 486.6 31.1 487.6 28.7 486.6 26.3 485.1 25.4 482.5 25.8 478.4 29.7 466.1 38.1 456.0 47.0 448.1 55.3 439.6 70.0 429.6 79.6 419.8 90.5 412.2 103.4 406.7 116.5 399.0 126.9 392.0 139.2 382.5 150.3 374.5 163.0 367.8 174.7 362.0 187.8 356.1 198.2 344.2 209.5 338.4 222.1 321.4 242.9 315.0 255.6 304.2 264.1 302.5 266.3 297.2 277.1 291.6 290.7 282.8 301.7 279.5 308.4 277.0 317.0 268.2 342.0 265.7 356.0 258.1 367.6 252.7 381.2 251.2 388.3 245.4 391.5 231.7 396.8 219.8 403.1 208.2 411.5 198.2 415.7 188.3 405.8 177.4 396.5 168.8 388.1 159.4 375.3 152.9 370.4 153.5 365.9 151.7 362.4 148.2 360.6 144.3 361.0 142.1 362.4 140.2 365.9 140.6 369.8 144.3 374.0 142.7 380.5 141.8 395.0 139.7 406.8 135.1 421.7ZM239.8 359.7L238.2 361.3 237.4 363.3 237.4 365.5 238.2 367.5 239.8 369.1 241.8 369.9 244.0 369.9 246.1 369.1 247.6 367.5 248.5 365.5 248.5 363.3 247.6 361.3 246.1 359.7 244.0 358.9 241.8 358.9ZM358.5 449.4L347.6 466.1 336.4 475.9 336.1 478.2 337.5 480.0 339.0 480.4 341.1 479.5 348.6 466.9 359.0 457.3 377.2 437.4 384.9 424.7 394.6 414.7 397.5 410.5 402.0 402.0 411.4 390.9 418.8 379.4 426.8 370.3 427.3 368.2 426.1 365.2 423.1 363.9 420.1 365.2 414.4 376.4 406.4 388.0 399.2 401.7 390.9 411.0 382.5 422.7 371.9 432.1ZM401.5 49.7L396.9 51.6 393.4 55.1 391.5 59.7 391.5 64.6 392.2 67.0 394.8 70.9 389.8 69.5 386.2 70.2 383.0 72.3 381.0 75.4 380.2 79.1 381.0 82.8 383.0 85.9 386.2 88.0 391.7 88.5 395.2 87.1 397.8 84.4 399.4 79.1 398.7 75.4 397.0 72.8 401.5 74.6 404.0 74.9 408.8 73.9 412.9 71.1 415.7 67.0 416.7 62.1 416.4 59.7 414.5 55.1 412.9 53.2 408.8 50.4 406.4 49.7ZM449.8 324.0L437.9 367.4 435.8 381.4 437.3 383.3 439.6 382.4 444.4 369.1 454.0 325.9 462.5 300.6 469.4 282.9 481.4 264.7 486.3 255.4 486.5 253.9 485.6 252.7 483.2 253.0 476.7 261.1 463.1 281.8 461.2 286.8 457.8 300.4Z" filter="url(#blur2)"/>
<g filter="url(#dtex1)">
<path fill="#CF49B3" d="M19.1 20.5L19.0 11.9 16.0 -5.0 -5.0 -5.0 -5.0 24.0 9.9 23.3 16.4 22.1ZM-4.4 97.3L1.5 105.1 8.4 109.4 17.1 110.2 24.5 107.4 31.7 99.1 38.3 85.1 40.3 74.1 38.1 67.5 32.5 63.3 24.9 62.3 15.8 64.8 5.2 70.7 -0.5 75.1 -5.0 80.0ZM128.1 161.2L118.0 161.9 109.2 165.0 104.7 169.5 101.9 176.5 101.8 186.3 105.3 198.1 110.5 204.8 117.7 207.9 129.0 207.9 136.1 206.0 141.2 203.3 148.2 196.1 152.9 184.8 153.2 174.6 151.6 170.0 149.4 167.1 144.9 164.1 140.4 162.6ZM201.6 144.6L192.6 135.4 183.0 131.2 174.8 130.1 167.1 132.6 160.0 139.6 153.9 152.1 152.4 162.9 154.9 171.0 161.5 176.2 174.4 179.9 182.4 167.5 194.2 155.1ZM416.1 68.2L453.6 44.8 464.8 37.0 447.4 26.5 439.2 23.7 428.6 24.0 417.7 28.8 396.2 45.1 398.6 49.8 401.4 48.7 406.6 48.7 413.7 52.5 417.4 59.5 417.6 62.3ZM391.0 123.0L374.2 108.7 367.1 104.6 363.2 104.1 360.7 106.6 357.3 118.1 355.7 134.0 356.3 138.6 358.4 144.2 363.6 149.2 371.6 151.3 380.9 151.1 391.1 138.6 395.9 130.4Z"/>
<path fill="#DB53BD" d="M-5.0 75.1L12.2 63.3 17.7 56.6 20.1 51.3 20.9 43.7 19.3 36.1 16.1 30.5 10.1 26.5 3.6 25.8 -5.0 27.7ZM284.0 284.1L293.7 283.0 301.7 265.8 305.7 261.7 304.3 253.8 301.1 247.8 296.2 243.0 291.0 240.7 282.9 241.6 275.2 245.3 248.6 265.8 257.3 275.9 263.4 280.4 272.6 283.5Z"/>
<path fill="#E159C3" d="M65.4 -5.0L18.3 -5.0 20.4 3.7 24.8 10.5 31.3 14.6 40.0 15.9 52.2 14.0 59.2 10.0 63.6 3.7ZM130.8 332.1L120.4 332.6 113.7 335.3 110.5 340.4 110.3 349.6 114.5 363.7 120.0 371.9 127.2 376.5 132.8 377.5 138.1 377.3 142.8 375.9 143.2 374.3 139.6 369.9 139.3 365.7 141.5 361.7 144.0 360.0 148.5 359.6 152.4 361.7 154.3 365.2 155.9 358.2 155.5 351.6 152.7 343.0 148.6 337.9 140.9 333.7Z"/>
<path fill="#CD48B2" d="M82.3 31.5L71.1 21.2 66.8 19.2 59.5 17.5 48.0 17.2 29.6 19.2 21.6 21.1 20.0 23.5 22.5 43.3 27.2 54.8 34.8 62.5 42.1 66.3 48.6 68.4 52.7 67.8 58.6 62.8Z"/>
<path fill="#D952BC" d="M96.2 25.4L106.7 19.6 113.5 12.6 117.1 5.1 117.9 -5.0 67.2 -5.0 68.8 10.4 71.1 16.9 74.6 21.8 78.9 25.2 83.6 27.0 90.3 27.1ZM163.5 20.1L160.9 12.9 157.1 9.0 151.6 6.4 141.8 4.9 130.1 5.2 121.3 7.7 115.5 12.1 113.6 17.1 114.7 23.3 119.0 30.6 126.5 39.2 134.6 46.7 156.3 31.6 163.7 23.5ZM56.7 122.4L41.7 114.5 32.9 111.2 24.3 110.2 18.9 112.0 15.4 117.0 13.8 125.1 14.4 142.2 16.2 153.0 24.1 152.9 41.0 150.6ZM60.4 268.9L64.0 260.8 65.2 254.0 63.8 248.6 59.8 244.4 50.7 241.0 41.3 240.4 34.1 242.9 30.1 246.7 27.4 252.3 25.9 259.3 25.7 273.6 29.1 282.9 38.3 292.8 42.1 294.4 44.7 292.6 51.1 284.1ZM394.1 53.0L384.5 52.5 372.2 55.8 363.2 60.4 356.8 66.1 353.2 73.0 352.2 78.9 353.1 93.8 355.4 99.3 360.9 101.4 367.1 101.0 375.7 96.4 386.2 89.0 382.2 86.4 380.0 83.2 379.2 78.9 380.0 75.0 382.5 71.5 386.0 69.2 389.8 68.5 392.5 69.2 390.5 64.6 390.5 59.4ZM268.0 248.2L278.2 237.3 281.0 231.7 282.3 226.0 282.0 220.2 278.3 207.4 274.9 202.2 271.6 200.8 261.7 204.1 248.4 212.9 242.6 219.7 239.5 229.8 239.9 236.7 241.9 244.2 245.1 250.2 249.0 253.8 253.8 255.0 257.4 254.4ZM443.1 322.6L434.9 323.6 426.0 328.4 418.6 335.0 414.7 342.9 414.4 350.0 416.6 357.8 419.8 364.2 423.2 362.9 426.9 364.6 428.3 368.4 427.6 370.9 425.4 373.4 428.8 376.1 432.2 375.1 436.2 371.7 448.8 324.1ZM458.3 456.8L453.1 462.7 451.5 467.6 452.7 474.8 456.9 482.0 490.0 482.0 490.0 469.7 488.8 465.2 484.7 453.5 480.6 447.7 477.7 446.9 472.4 448.2Z"/>
<path fill="#D04AB4" d="M122.1 -5.0L129.0 0.1 137.3 2.6 157.7 4.1 166.0 3.7 166.0 -5.0ZM24.7 229.0L20.5 226.9 14.9 227.5 5.3 230.9 -5.0 236.5 -5.0 269.8 3.1 271.5 9.6 271.6 16.6 269.3 20.6 265.7 24.3 258.5 26.7 245.2 26.8 235.3ZM191.9 132.9L200.1 135.6 206.0 136.1 212.6 134.4 218.3 130.3 223.1 124.0 227.0 115.5 232.0 97.9 232.6 91.8 217.8 83.5 209.9 82.2 203.3 83.4 198.2 85.7 186.8 94.6 180.1 104.9 178.5 111.4 178.4 116.3 179.9 122.1 182.3 125.9 185.7 129.2ZM221.3 83.1L225.7 84.0 230.3 83.1 238.3 77.3 245.1 68.8 253.7 55.0 258.2 46.4 258.6 42.9 247.6 39.4 229.3 37.1 219.7 38.4 213.0 42.4 209.5 47.4 206.8 54.0 206.0 60.6 206.5 65.8 208.8 71.9 211.8 76.1ZM9.8 351.6L16.3 347.1 21.7 339.3 24.1 329.2 23.1 319.4 22.6 318.3 13.6 323.2 0.2 327.4 -2.3 326.0 -2.5 324.2 -1.4 322.7 10.9 316.7 19.1 314.5 14.5 312.6 10.5 312.1 -5.0 314.0 -5.0 357.8ZM374.3 52.9L394.8 44.5 386.0 27.3 378.6 17.5 373.7 13.6 368.4 10.9 361.4 10.7 357.0 12.8 352.4 16.4 342.9 28.3 338.3 38.3 338.0 46.5 342.2 52.8 346.3 55.4 351.3 56.8 361.6 56.5ZM416.1 235.4L415.5 232.1 413.4 228.6 404.6 220.7 398.2 218.2 390.9 218.6 380.4 222.9 367.2 232.5 359.8 241.4 358.6 247.8 361.2 253.9 364.6 258.6 367.8 260.4 371.8 259.9 386.5 254.7 403.8 246.6 412.9 240.5ZM136.2 482.0L132.8 479.4 129.7 480.9 127.5 479.9 126.4 477.4 121.8 477.2 112.0 478.8 104.8 482.0ZM464.7 225.0L468.5 227.6 475.1 229.2 481.0 228.9 490.0 226.8 490.0 186.2 473.6 199.1 464.7 208.9 461.4 217.1 462.0 221.3Z"/>
<path fill="#D750BA" d="M-4.7 157.0L1.6 154.2 6.4 150.6 9.8 146.0 12.1 138.3 11.8 127.1 9.5 116.7 6.4 111.3 2.0 108.9 -5.0 110.8ZM257.7 -5.0L260.7 4.8 264.7 10.8 269.7 14.6 277.5 16.3 286.6 14.8 296.1 10.0 301.8 3.9 305.5 -5.0ZM27.5 315.9L26.0 328.9 26.8 337.4 28.6 342.9 33.0 349.0 39.3 353.9 49.9 358.1 56.8 357.9 61.3 355.5 65.6 348.2 66.4 337.6 63.1 321.3 56.9 305.9 40.0 312.6ZM293.2 349.8L297.0 356.6 304.5 361.6 315.0 363.0 324.5 361.1 331.2 355.7 335.3 347.5 336.7 338.4 335.0 331.4 330.7 325.9 322.2 322.0 311.3 321.2 303.2 323.4 296.5 328.3 292.9 333.9 291.6 340.5ZM319.2 463.0L324.5 463.4 330.7 461.1 336.0 455.5 340.4 446.7 344.2 434.2 345.6 422.8 344.0 416.4 339.0 412.0 330.6 410.8 319.2 412.9 311.2 418.0 307.0 424.6 304.5 435.8 304.5 443.3 305.6 449.7 307.8 454.9 311.2 458.9Z"/>
<path fill="#DE56C0" d="M50.4 70.4L45.5 75.7 39.5 87.8 37.2 94.3 36.7 102.0 39.2 108.5 44.5 113.8 52.1 117.5 58.6 118.3 60.9 117.7 64.5 113.5 67.4 105.7 70.9 101.1 71.0 91.9 68.1 84.0 62.6 77.3 55.1 71.1ZM21.6 470.7L17.8 466.9 12.5 464.2 -5.0 459.3 -5.0 482.0 23.2 482.0 23.2 475.8Z"/>
<path fill="#D54EB8" d="M95.2 55.9L89.7 49.0 84.4 45.2 79.3 44.4 74.3 46.8 68.2 54.3 63.8 64.1 63.7 72.6 66.7 78.5 74.7 85.2 85.3 88.4 94.0 82.7 104.0 74.3 100.5 65.4ZM350.5 272.9L344.4 281.3 342.2 287.9 342.5 294.3 345.6 299.6 353.4 304.1 365.4 306.4 375.7 306.3 379.5 305.3 382.9 302.8 385.0 297.0 383.5 288.9 376.3 274.8 368.1 263.7 365.4 262.1 361.8 263.1Z"/>
<path fill="#BB37A1" d="M171.5 -5.0L177.2 0.9 179.6 -3.7 181.4 -5.0ZM191.8 -5.0L194.0 -2.7 197.2 -3.5 199.9 -2.3 200.8 -0.7 200.5 1.7 198.3 3.7 208.9 0.9 211.8 -1.8 213.2 -5.0ZM194.2 431.8L186.2 422.4 179.4 418.1 168.6 415.0 156.4 414.5 149.2 416.5 142.7 421.3 138.6 439.4 141.7 449.9 146.9 457.5 152.6 460.9 161.5 461.6 172.7 458.6 180.2 453.8 186.0 447.0Z"/>
<path fill="#CE48B2" d="M115.9 89.4L93.2 90.6 78.2 106.6 72.6 110.5 68.2 115.2 65.1 126.8 73.0 129.2 88.4 131.5 97.8 130.1 104.1 126.6 111.8 117.5 117.6 105.6 118.6 97.6 117.4 91.3ZM210.2 42.1L213.0 31.8 212.7 25.4 211.0 18.7 208.7 14.2 205.2 10.6 197.2 6.6 195.1 6.1 191.7 10.7 186.6 12.3 181.0 10.6 169.9 21.5 164.9 29.3 166.5 37.2 169.4 42.1 173.8 46.0 181.8 49.7 193.0 51.6 200.1 50.9 205.6 48.2ZM232.9 127.6L243.6 137.1 259.6 144.4 265.1 145.1 268.2 144.5 270.4 142.7 272.1 139.0 271.9 128.4 268.5 116.0 263.5 107.5 256.3 101.6 250.4 112.3ZM428.3 6.0L426.1 -5.0 401.6 -5.0 391.4 6.3 387.1 15.6 387.1 24.6 391.4 32.5 396.4 35.6 402.8 35.4 410.4 31.8 418.6 25.6 424.5 18.8 427.1 13.4ZM251.3 208.6L259.3 201.3 262.9 194.2 263.0 189.9 261.6 185.7 256.1 180.0 247.0 176.5 231.3 175.1 213.3 176.4 208.1 177.9 205.6 180.1 203.9 189.0 205.5 202.3 208.7 209.8 214.0 215.1 222.9 218.3 231.6 218.0 241.1 214.8ZM11.8 408.8L14.4 418.4 20.3 425.7 30.7 431.1 35.1 431.7 40.2 431.1 44.6 427.5 47.8 420.4 50.2 407.0 49.5 398.6 47.1 394.3 43.1 391.7 37.5 390.9 27.9 392.3 19.9 395.2 15.7 398.1 12.4 402.9ZM255.2 275.8L249.6 271.8 244.5 270.4 237.5 271.2 231.7 273.7 226.6 278.0 223.5 282.4 220.0 289.8 217.7 298.8 218.0 309.0 222.4 317.2 230.9 323.4 245.5 329.0 250.7 329.1 254.1 326.6 257.1 320.8 260.1 309.3 261.6 297.2 261.3 289.0 259.5 282.2ZM408.3 128.4L402.2 134.5 397.3 145.4 396.5 155.2 399.2 162.5 404.8 167.2 415.7 170.4 430.1 170.8 438.3 168.1 442.0 163.3 443.0 156.3 441.0 145.2 436.7 136.4 431.6 131.3 425.2 128.5 415.4 126.9ZM465.0 277.0L457.8 272.3 451.8 271.0 438.7 271.2 429.4 274.5 426.2 277.2 424.0 280.6 422.6 285.8 422.6 290.2 425.9 301.5 434.0 314.0 442.3 320.0 449.6 321.6 456.8 300.2 460.3 286.4 462.2 281.3ZM381.3 341.8L378.3 349.9 376.0 365.3 376.4 373.0 378.6 379.3 383.8 385.2 391.1 388.8 398.6 389.4 405.7 387.4 413.6 375.9 417.8 367.4 413.7 356.4 407.2 347.0 399.7 341.5 387.7 339.4 383.7 340.1Z"/>
<path fill="#C742AC" d="M94.6 48.6L106.7 71.2 114.0 63.9 126.4 56.4 133.1 48.6 123.0 38.4 114.4 31.7 106.7 27.8 99.9 26.8 95.4 27.9 93.1 29.5 91.3 33.3 91.2 36.8ZM162.8 260.5L157.0 256.5 147.6 254.3 136.0 254.8 126.4 257.0 123.2 258.3 115.9 270.0 112.5 277.1 112.8 279.2 114.8 282.3 118.6 284.9 131.4 288.9 149.0 290.6 156.0 290.1 161.5 288.6 167.1 283.9 169.0 275.9 167.4 267.2ZM460.1 333.2L464.3 340.1 472.0 346.9 480.7 351.9 490.0 354.5 490.0 309.8 483.9 308.9 477.7 309.2 468.6 313.3 463.5 318.5 460.4 323.9 459.5 328.1Z"/>
<path fill="#C540AA" d="M15.4 207.4L-5.0 198.1 -5.0 233.6 13.7 223.6 18.4 219.7 21.0 215.3 19.6 211.1ZM58.9 159.4L53.8 154.6 46.1 152.5 42.2 159.2 44.4 159.3 47.0 162.0 47.0 165.7 44.6 168.2 40.3 168.3 37.8 165.8 37.7 163.2 23.1 173.4 27.2 188.3 29.8 193.1 32.8 196.3 37.3 197.7 44.7 195.4 51.4 190.4 56.5 184.3 59.8 178.7 61.7 171.7 61.1 164.8ZM111.0 310.0L110.2 315.4 105.8 320.9 101.4 322.8 96.8 322.8 93.1 324.3 90.6 323.6 88.3 320.7 88.5 317.3 86.6 310.7 88.6 303.9 93.7 298.9 83.0 300.2 73.4 303.7 67.5 309.2 65.4 314.6 65.8 323.4 69.1 332.4 75.2 340.0 81.8 343.1 93.8 343.1 105.9 339.9 110.2 336.4 112.6 330.2 112.9 321.1ZM106.7 385.3L110.7 379.6 112.3 374.9 112.4 364.5 108.3 353.8 104.9 349.9 100.7 347.2 95.6 345.6 89.7 345.2 74.5 348.0 66.4 352.7 59.8 361.4 57.2 369.2 57.7 375.8 61.6 381.0 69.2 386.0 80.2 390.6 90.7 392.4 99.6 390.6ZM148.4 375.5L145.5 391.2 147.6 398.5 151.0 404.6 155.6 409.0 163.2 412.3 170.2 412.8 176.0 410.4 180.7 404.6 166.1 388.9 154.3 380.5 149.7 374.4ZM321.1 319.3L330.4 318.0 336.7 313.0 340.5 303.3 339.7 292.5 336.3 287.2 328.8 282.3 316.5 278.9 306.9 278.7 300.7 286.9 301.0 294.8 303.5 306.1 305.7 310.7 309.7 315.4 314.9 318.3Z"/>
<path fill="#BD39A3" d="M104.3 146.8L100.1 140.4 93.3 135.7 84.0 132.8 72.6 132.1 65.8 134.3 62.1 137.8 59.7 143.9 59.2 151.6 62.6 162.5 68.5 168.9 79.2 173.3 91.7 174.1 99.4 171.6 102.2 169.2 104.8 165.0 106.5 156.6Z"/>
<path fill="#CA44AE" d="M168.3 129.7L171.8 126.8 174.5 122.8 177.2 111.4 176.8 106.3 175.0 101.3 169.2 92.9 157.6 83.0 151.5 79.6 145.7 77.7 136.9 78.1 127.8 83.8 122.7 89.2 120.0 95.5 120.7 100.6 124.8 106.7 136.7 117.5 152.2 127.7 162.3 130.9Z"/>
<path fill="#C33FA9" d="M193.9 86.8L201.7 79.1 203.9 75.3 205.0 70.1 204.0 65.0 201.9 61.5 194.0 55.5 186.1 52.4 176.8 50.1 163.5 49.6 155.6 52.9 149.7 58.7 146.6 63.2 145.7 67.4 149.5 73.4 160.6 83.3 169.1 88.9 175.2 91.2 181.1 91.8 186.8 90.7ZM247.1 265.3L238.8 239.9 235.7 233.3 230.9 226.4 225.4 221.7 220.8 219.6 210.2 217.5 205.2 218.0 202.9 227.3 201.5 247.6 203.1 257.9 207.1 265.3 215.0 270.6 225.1 272.6 234.1 270.9Z"/>
<path fill="#C843AD" d="M212.7 -0.0L211.2 3.5 210.8 8.0 212.7 18.1 216.6 25.6 222.1 30.2 234.1 34.7 248.1 36.1 257.8 34.0 262.3 29.8 264.1 21.1 262.2 12.3 257.1 2.7 250.6 -3.0 246.2 -5.0 221.2 -5.0 215.5 -2.7ZM66.3 482.0L60.4 476.1 56.6 474.8 50.2 474.3 37.0 476.9 28.1 482.0Z"/>
<path fill="#C43FA9" d="M76.9 232.9L76.5 225.8 72.7 218.4 63.5 209.0 53.1 201.9 46.9 199.6 39.9 199.4 29.1 203.1 25.0 207.2 23.1 215.4 23.7 222.0 26.8 228.5 32.8 233.1 48.4 238.6 65.0 241.2 72.7 239.3 75.5 236.7ZM246.8 454.0L251.5 449.7 254.5 444.2 255.8 437.5 255.4 431.8 253.2 426.4 249.2 421.4 238.2 413.8 229.1 412.3 219.5 414.8 209.5 421.1 196.0 431.9 217.8 447.6 229.3 453.8 240.2 456.2Z"/>
<path fill="#D44DB7" d="M80.9 175.4L70.4 175.9 63.4 179.2 57.2 186.5 56.0 193.8 59.1 201.3 66.7 209.2 75.6 214.7 83.9 216.0 90.0 214.0 96.6 208.5 100.4 202.1 101.3 194.8 99.4 187.0 95.0 180.9 89.7 177.6ZM111.5 207.8L107.0 207.4 102.0 208.6 90.8 215.4 82.2 225.1 78.3 234.8 78.9 241.9 83.4 248.8 91.9 255.5 104.0 261.6 112.4 254.1 114.6 249.7 122.5 242.3 122.0 226.7 120.0 217.0 116.5 210.7ZM161.5 463.9L150.2 466.6 144.3 469.8 141.7 473.9 141.5 482.0 189.1 482.0 185.0 473.6 178.8 467.0 170.9 463.7ZM453.9 481.8L444.1 471.5 437.5 467.6 431.6 471.0 422.7 482.0Z"/>
<path fill="#D851BB" d="M138.3 120.3L129.5 115.5 123.7 114.1 117.0 115.4 112.8 118.6 106.8 128.6 104.7 138.4 106.3 147.6 110.8 153.8 119.9 158.2 132.8 159.4 144.1 157.1 150.5 152.4 154.2 145.3 153.7 137.3 148.4 129.0ZM481.1 -5.0L466.2 36.7 477.8 29.0 482.1 24.9 485.2 24.4 487.2 25.5 488.6 28.7 487.4 31.7 483.0 35.1 474.5 44.4 477.4 44.9 490.0 42.8 490.0 -5.0ZM98.1 410.2L94.4 402.7 85.8 395.2 66.8 387.1 58.7 384.7 55.6 384.8 51.9 409.4 51.8 421.2 54.7 431.4 57.3 434.8 60.7 437.3 67.9 440.3 75.5 440.9 83.2 439.2 90.7 435.4 95.7 430.6 98.3 425.5 99.3 417.8Z"/>
<path fill="#CE49B3" d="M313.7 31.7L305.9 22.4 297.7 17.4 290.6 16.1 283.0 17.0 273.2 20.8 266.5 26.2 262.0 34.9 260.6 42.6 267.2 49.7 281.8 60.6 288.6 51.9 300.6 43.7 311.1 33.0Z"/>
<path fill="#C641AB" d="M28.4 285.2L22.3 280.1 15.7 276.9 7.6 274.5 -5.0 272.4 -5.0 310.3 1.2 310.8 13.2 309.1 22.6 306.6 29.0 303.3 32.0 300.2 33.3 295.8 32.2 290.8ZM349.8 78.5L348.2 67.1 343.9 57.9 334.4 48.4 327.6 44.4 321.8 47.2 308.7 58.6 298.3 69.5 295.2 75.1 298.6 81.8 309.0 92.8 316.8 97.6 325.5 99.7 337.0 98.6 344.4 94.6 348.7 87.9ZM350.1 152.2L352.3 141.0 354.9 117.7 355.3 107.7 354.3 101.4 351.9 100.0 345.7 99.8 333.7 101.5 328.1 103.2 323.2 106.1 319.0 110.0 313.4 118.8 309.2 133.0 308.8 139.2 309.9 144.0 314.4 148.7 323.3 152.0 339.2 153.0Z"/>
<path fill="#DD55BF" d="M280.5 62.2L274.2 57.7 268.5 55.6 262.8 55.9 257.4 58.4 248.5 67.9 234.3 91.5 251.8 97.1 260.1 86.4 260.9 81.7 262.6 79.1 266.3 77.0 270.1 71.6ZM226.0 322.6L217.4 319.0 211.7 317.8 207.2 317.9 203.8 319.7 201.2 323.9 199.3 330.5 197.9 347.8 199.9 359.0 205.3 366.7 211.9 370.2 227.8 372.8 233.0 371.6 236.3 367.4 236.4 363.0 239.5 358.8 240.3 355.6 242.1 343.0 241.2 337.4 237.8 331.0 233.6 327.0Z"/>
<path fill="#CD47B1" d="M353.6 8.5L355.6 2.9 354.5 1.0 340.7 -5.0 308.7 -5.0 305.2 1.7 304.5 8.4 307.3 18.9 315.4 30.8 322.7 27.3 333.5 17.8 350.8 8.6ZM351.2 171.2L347.8 162.5 342.0 157.1 337.4 155.4 331.9 154.9 323.5 156.8 317.1 162.6 312.7 172.0 311.0 182.8 313.2 191.7 317.7 197.3 326.2 202.4 334.2 204.1 341.2 202.3 347.1 197.1 350.8 189.9 352.2 181.3Z"/>
<path fill="#C03CA6" d="M357.4 -4.6L357.0 0.6 358.8 3.4 367.6 8.5 374.4 10.4 379.0 9.7 385.6 6.6 392.7 1.0 398.5 -5.0ZM260.0 159.7L259.5 155.5 257.6 151.3 250.8 144.4 237.8 136.8 226.7 133.1 207.4 152.2 208.2 159.7 211.5 166.1 217.4 170.5 226.1 172.8 239.8 173.0 250.5 170.7 257.2 166.3ZM490.0 402.1L469.3 401.6 465.8 402.6 464.7 404.9 466.2 416.3 471.8 433.6 477.0 443.1 481.4 445.9 490.0 445.2Z"/>
<path fill="#D54FB9" d="M63.8 266.8L53.9 285.0 51.7 292.3 52.0 297.1 55.0 299.5 68.3 293.8 73.5 288.2 85.5 279.8 95.4 271.0 101.5 264.3 89.1 256.0 85.0 254.7 78.9 254.8 75.0 256.2 69.3 260.3Z"/>
<path fill="#CC46B0" d="M203.9 216.4L204.3 211.2 203.1 201.1 200.1 192.8 196.6 189.0 191.7 186.1 179.5 183.0 166.4 207.7 170.9 207.0 173.7 208.2 177.1 213.0 177.1 216.2 176.0 219.0 171.6 222.1 179.9 222.1 190.6 220.4 200.4 218.3ZM381.7 322.9L378.5 316.0 372.2 311.1 362.9 308.2 352.8 307.5 345.0 308.9 340.6 311.5 336.8 317.4 335.6 323.9 337.9 332.7 343.8 337.8 353.8 340.8 370.0 341.8 378.6 340.9 381.6 338.7 382.7 332.8ZM232.1 475.7L232.2 468.4 229.2 461.3 223.3 454.4 214.4 447.6 205.4 443.0 197.9 441.6 192.0 443.3 188.6 446.8 185.1 454.7 184.7 463.2 187.3 472.3 193.5 482.0 229.8 482.0Z"/>
<path fill="#E25AC4" d="M304.9 91.5L297.5 87.1 292.9 86.5 288.2 87.4 283.3 90.0 278.4 93.9 272.9 101.8 271.0 111.1 272.6 121.9 277.7 132.5 283.7 137.6 291.5 139.1 299.0 137.2 304.1 133.0 309.3 124.7 312.5 113.9 312.7 106.1 309.8 97.5Z"/>
<path fill="#C944AE" d="M-4.5 428.6L0.3 425.6 5.1 421.1 7.5 417.3 9.2 411.6 8.9 403.9 7.2 396.5 4.7 392.2 1.2 389.7 -5.0 390.9ZM114.8 427.3L104.0 427.6 97.7 430.8 95.6 433.4 94.4 436.8 95.3 446.0 101.3 460.5 107.7 469.1 112.1 472.5 116.8 474.6 127.0 475.2 130.1 463.0 130.9 450.5 133.5 437.2 125.4 430.3ZM420.1 481.5L424.4 475.1 426.6 468.5 426.5 461.8 424.1 455.0 416.7 444.3 409.4 437.5 400.1 433.8 394.0 434.2 388.0 442.8 379.0 462.9 376.2 473.4 376.6 482.0Z"/>
<path fill="#CB46B0" d="M4.5 389.2L9.9 391.0 20.6 390.9 40.1 387.6 53.8 384.2 55.0 383.0 55.5 380.0 54.6 369.5 51.8 365.2 47.0 360.9 38.4 355.7 32.6 353.3 20.7 351.5 8.7 354.0 -1.0 359.5 -5.0 365.4 -5.0 372.5 -2.9 378.7 0.5 385.0ZM442.1 87.4L450.9 88.6 458.5 87.2 463.4 84.5 469.0 78.6 474.7 69.3 477.2 61.5 476.2 53.3 472.5 46.2 455.2 60.2 442.9 72.5 435.8 85.3Z"/>
<path fill="#CA45AF" d="M199.8 240.3L199.0 232.0 197.7 228.9 194.6 225.6 191.8 224.3 186.4 223.7 176.1 225.7 168.3 229.7 163.4 235.6 161.2 244.5 162.4 254.0 166.5 261.1 171.6 265.1 177.7 266.7 186.5 265.4 192.0 262.3 196.0 257.0 198.6 249.7ZM425.2 304.1L418.4 296.2 411.4 293.2 406.5 292.9 399.7 294.0 389.6 298.4 384.8 304.1 383.0 312.1 384.2 325.6 387.7 333.2 393.6 337.7 401.7 339.1 410.4 336.8 418.1 332.0 425.1 325.1 428.0 319.1 428.1 311.0ZM490.0 229.0L482.6 233.4 477.0 238.8 474.6 243.4 473.8 248.3 475.0 254.6 477.6 258.4 482.6 252.2 486.3 252.0 487.5 253.7 487.3 255.7 483.8 262.2 490.0 263.7Z"/>
<path fill="#E55CC6" d="M310.7 171.5L312.8 157.7 312.2 152.0 310.8 148.8 307.8 145.7 302.7 142.9 289.7 140.9 277.0 142.4 269.7 146.6 266.4 150.7 263.6 156.2 261.4 163.1 260.4 170.4 261.8 180.6 266.7 191.4 271.9 198.0 277.6 200.2 289.8 197.6 298.9 192.7 305.9 184.0Z"/>
<path fill="#CB45AF" d="M428.7 -5.0L431.0 5.7 435.6 14.1 442.5 21.3 449.8 26.0 455.3 28.0 460.3 27.7 466.1 24.1 469.8 18.8 474.3 6.3 474.6 -0.5 473.4 -5.0Z"/>
<path fill="#C23DA7" d="M-5.0 456.5L5.7 458.8 11.5 458.8 16.4 457.5 20.3 454.9 24.1 449.6 26.3 441.7 26.1 436.4 23.1 431.1 17.5 427.3 10.8 426.1 3.1 427.6 -5.0 431.5Z"/>
<path fill="#D14BB5" d="M167.8 302.7L165.6 299.8 161.7 297.3 146.3 292.9 119.4 290.1 112.7 290.4 110.7 292.0 112.4 308.4 116.1 320.2 122.2 326.8 131.0 330.4 139.6 331.1 147.3 330.2 152.4 328.6 158.3 325.0 163.2 320.0 167.2 313.8 168.7 308.0ZM389.7 89.3L383.2 96.2 380.7 101.6 381.2 108.6 386.0 115.2 399.3 124.8 405.8 116.0 411.2 103.0 415.7 95.5 415.7 82.5 414.3 76.7 411.2 75.7 404.8 78.5 399.7 81.8 398.6 85.0 395.8 87.9 391.9 89.5ZM57.4 436.9L50.7 433.6 44.2 432.7 37.9 434.3 33.2 438.0 27.4 447.0 23.4 458.3 22.7 466.8 24.9 471.7 30.6 474.0 42.2 473.2 51.5 470.4 58.4 465.7 63.2 457.5 64.4 448.5 62.1 441.4ZM318.1 200.2L309.1 197.0 298.8 196.7 289.4 200.2 284.4 205.5 283.0 209.6 282.7 214.5 285.8 227.1 291.5 236.8 298.2 242.3 303.8 243.8 308.6 243.7 321.5 239.3 324.3 237.7 337.5 221.6 336.1 215.8 332.0 210.0 325.2 204.4ZM479.4 58.1L482.9 64.4 490.0 70.9 490.0 46.1 481.3 52.2 479.5 55.2ZM421.6 255.8L417.3 251.1 411.0 249.3 402.8 250.3 390.0 255.5 383.9 259.5 379.2 265.5 378.1 270.5 380.1 277.7 387.3 287.0 394.5 291.1 402.9 291.6 413.9 288.3 420.5 283.2 424.7 274.8 424.8 265.1ZM284.2 482.0L284.3 474.7 282.9 469.4 277.7 462.0 267.1 455.7 255.5 453.2 247.5 455.3 241.1 460.9 236.3 469.2 232.4 482.0ZM373.3 429.3L381.8 422.1 390.1 410.4 395.9 403.9 392.6 395.4 385.7 388.5 376.6 384.8 366.9 384.6 355.1 388.2 346.7 393.6 342.9 399.1 342.0 406.8 344.7 414.5 350.1 420.0 359.7 425.0Z"/>
<path fill="#D24BB5" d="M209.6 270.0L201.0 267.0 192.0 266.7 181.3 269.9 174.6 275.0 170.4 282.3 168.3 294.2 169.8 303.0 173.7 308.5 181.6 313.5 194.6 317.2 203.5 316.9 208.6 313.6 214.4 302.5 216.9 294.0 218.0 285.7 217.5 280.5 216.0 276.1 213.3 272.6Z"/>
<path fill="#D64FB9" d="M162.0 323.7L157.7 330.7 155.8 338.6 157.0 349.3 160.5 357.2 164.9 361.9 172.2 365.7 185.8 368.3 192.3 367.8 193.9 364.4 194.9 358.7 196.1 339.7 194.6 328.4 191.5 322.0 185.3 317.2 176.3 315.7 168.1 318.3ZM295.4 461.3L299.6 455.9 301.9 447.5 303.0 433.2 302.1 422.4 299.8 415.9 295.2 410.5 289.0 408.1 283.4 408.5 274.1 412.9 263.8 422.0 258.4 431.7 257.9 440.3 261.6 448.2 271.6 456.1 286.6 462.1 291.5 462.4Z"/>
<path fill="#C33EA8" d="M428.8 126.9L436.9 126.4 445.1 122.2 454.6 112.6 458.4 104.3 457.6 99.9 453.5 95.6 445.8 91.4 434.5 87.3 421.4 107.1 417.5 111.6 418.8 118.1 420.8 122.2 423.7 125.0Z"/>
<path fill="#D24CB6" d="M65.1 458.1L64.0 464.3 64.3 471.4 65.9 476.5 69.3 482.0 100.5 482.0 102.4 474.7 100.2 463.6 93.9 451.1 87.0 443.7 80.9 441.8 73.8 444.1 68.5 449.5ZM438.3 192.4L434.3 182.6 428.0 176.2 419.4 173.1 410.2 173.2 402.8 176.1 397.4 181.7 392.5 193.3 392.0 202.2 396.6 210.5 407.2 219.6 414.6 223.1 423.6 223.0 432.6 218.5 437.8 212.0 439.7 203.3ZM449.7 269.1L464.2 268.6 470.1 266.6 472.1 261.0 472.3 248.4 469.8 237.2 465.1 228.8 453.9 217.8 450.2 215.5 447.1 214.9 438.1 218.1 425.4 226.1 419.5 232.3 418.0 238.3 421.5 251.7 424.5 257.9 427.7 261.9 431.8 265.0 436.9 267.3ZM333.2 482.0L334.9 472.1 333.2 469.9 315.1 463.6 302.9 461.9 296.4 463.1 292.3 466.3 289.0 472.3 286.1 482.0ZM459.1 404.3L450.4 410.0 432.8 424.2 427.1 430.3 422.6 438.2 421.9 445.6 423.8 450.9 431.7 461.7 436.9 465.7 439.6 465.6 444.6 463.6 458.8 454.3 463.6 449.7 467.5 442.7 468.8 434.6 468.0 427.9 462.3 410.1Z"/>
<path fill="#BC39A3" d="M141.2 387.7L133.6 380.3 125.3 378.2 117.0 379.8 109.0 385.1 102.3 393.2 99.2 402.0 99.8 411.4 104.0 419.4 110.2 423.8 116.9 425.9 126.0 426.6 134.0 425.1 134.1 421.5 138.8 406.6 140.8 394.9Z"/>
<path fill="#DF58C2" d="M356.0 248.3L351.9 241.6 346.8 236.5 343.1 234.8 338.0 234.9 328.4 248.3 318.1 257.9 311.9 271.9 317.4 275.8 326.2 278.6 333.4 279.0 341.5 276.6 348.9 271.3 356.0 261.6 357.7 255.3Z"/>
<path fill="#D34CB6" d="M342.2 228.1L347.1 233.8 350.9 235.3 356.3 234.4 363.4 231.2 376.6 222.3 385.3 214.8 389.7 208.6 390.4 205.5 389.6 202.9 386.0 199.2 381.2 196.8 372.9 194.3 364.5 193.3 358.9 200.0 353.4 214.8Z"/>
<path fill="#BA36A0" d="M463.9 160.1L472.5 158.3 478.9 153.1 483.1 144.7 484.5 134.9 483.1 128.2 478.2 121.4 470.2 116.4 462.2 114.8 454.7 117.0 446.7 124.1 442.7 131.4 441.8 139.5 443.7 148.2 448.2 154.9 454.9 158.9Z"/>
<path fill="#D34DB7" d="M468.9 81.7L463.9 89.4 461.1 95.9 460.4 101.2 461.6 104.8 467.3 111.6 476.0 117.8 483.0 120.9 490.0 122.1 490.0 74.8 484.1 73.4 478.9 73.8 474.3 76.0ZM490.0 307.4L490.0 265.5 482.1 265.4 471.1 282.2 472.0 288.8 474.3 296.2 477.9 301.7 482.9 305.4Z"/>
<path fill="#C541AB" d="M192.4 369.8L188.6 380.3 184.8 401.4 198.4 414.5 207.8 410.6 219.2 402.3 227.3 398.0 228.1 388.3 227.0 383.5 224.8 379.4 218.5 374.3 201.3 369.5 195.0 368.9Z"/>
<path fill="#E45CC6" d="M474.2 195.7L482.0 187.7 487.0 179.2 487.3 173.6 483.4 168.1 475.8 163.7 463.9 161.7 450.3 162.9 445.5 164.7 442.0 167.3 439.2 173.4 439.2 185.2 443.6 204.1 447.8 212.5 450.0 213.3 455.0 211.0Z"/>
<path fill="#DC55BF" d="M490.0 132.5L484.9 143.0 482.8 156.4 484.6 165.5 490.0 173.1ZM351.3 475.6L344.1 477.1 341.7 480.3 338.0 482.0 372.2 482.0 362.8 477.7Z"/>
<path fill="#D650BA" d="M284.3 393.7L287.4 401.4 292.6 406.8 299.9 410.9 309.4 412.4 320.8 411.1 333.2 407.0 339.4 402.3 341.1 399.5 341.9 395.3 339.5 385.2 332.0 373.3 326.6 369.0 322.0 366.7 311.1 364.7 299.3 366.3 295.3 368.2 290.9 371.9 284.9 382.7 283.9 388.8Z"/>
<path fill="#B8359F" d="M357.6 343.4L347.9 344.1 341.8 346.4 336.4 351.5 333.4 358.6 332.9 365.9 335.9 374.9 342.1 382.8 348.5 385.8 357.7 384.8 365.3 380.7 370.7 374.2 373.8 365.3 374.3 355.3 372.0 349.4 367.1 345.5Z"/>
<path fill="#E35BC5" d="M442.6 388.9L434.5 381.5 429.1 378.3 424.7 378.8 418.5 381.7 412.2 391.5 402.9 402.6 398.8 410.3 400.1 424.8 401.6 428.7 404.4 432.4 407.1 433.9 410.7 434.1 418.6 431.4 431.4 422.9 442.8 412.8 447.6 405.2 448.6 399.9 447.4 394.9Z"/>
<path fill="#DA53BD" d="M470.7 349.3L466.4 348.3 461.9 349.0 457.3 351.5 452.6 355.7 446.7 363.1 441.6 379.8 442.9 384.6 446.0 389.3 459.8 402.5 465.2 400.7 468.0 397.3 474.1 384.3 478.9 370.0 479.5 363.8 478.4 357.1 475.9 353.1Z"/>
<path fill="#BF3BA5" d="M490.0 360.2L484.4 366.8 480.2 374.9 476.9 384.4 476.4 390.2 477.6 394.7 480.5 397.9 485.1 399.7 490.0 400.3Z"/>
</g>
<g fill="#3F2C80" opacity="0.85"><ellipse cx="481.8" cy="52.1" rx="2.0" ry="1.4" transform="rotate(159 481.8 52.1)"/><ellipse cx="90.4" cy="43.1" rx="2.3" ry="1.4" transform="rotate(2 90.4 43.1)"/><ellipse cx="276.6" cy="296.0" rx="1.6" ry="1.0" transform="rotate(108 276.6 296.0)"/><ellipse cx="131.0" cy="443.0" rx="2.5" ry="1.3" transform="rotate(32 131.0 443.0)"/><ellipse cx="19.1" cy="194.2" rx="2.2" ry="1.2" transform="rotate(105 19.1 194.2)"/><ellipse cx="446.0" cy="59.9" rx="2.8" ry="1.3" transform="rotate(32 446.0 59.9)"/><ellipse cx="291.8" cy="325.2" rx="2.8" ry="1.2" transform="rotate(96 291.8 325.2)"/><ellipse cx="417.8" cy="9.7" rx="1.9" ry="1.1" transform="rotate(105 417.8 9.7)"/><ellipse cx="167.3" cy="323.9" rx="1.9" ry="1.0" transform="rotate(65 167.3 323.9)"/><ellipse cx="146.8" cy="212.8" rx="2.1" ry="1.3" transform="rotate(48 146.8 212.8)"/><ellipse cx="59.9" cy="364.4" rx="2.2" ry="0.9" transform="rotate(86 59.9 364.4)"/><ellipse cx="251.2" cy="170.5" rx="2.5" ry="1.2" transform="rotate(126 251.2 170.5)"/><ellipse cx="271.8" cy="337.9" rx="2.4" ry="1.0" transform="rotate(167 271.8 337.9)"/><ellipse cx="142.5" cy="331.2" rx="2.6" ry="1.3" transform="rotate(140 142.5 331.2)"/><ellipse cx="4.9" cy="123.7" rx="1.9" ry="1.3" transform="rotate(152 4.9 123.7)"/><ellipse cx="372.6" cy="365.8" rx="1.6" ry="1.1" transform="rotate(36 372.6 365.8)"/><ellipse cx="181.3" cy="101.3" rx="2.5" ry="1.2" transform="rotate(154 181.3 101.3)"/><ellipse cx="161.7" cy="17.2" rx="2.8" ry="0.9" transform="rotate(70 161.7 17.2)"/><ellipse cx="329.0" cy="205.7" rx="1.9" ry="0.9" transform="rotate(160 329.0 205.7)"/><ellipse cx="479.8" cy="265.6" rx="2.6" ry="1.3" transform="rotate(117 479.8 265.6)"/><ellipse cx="141.2" cy="471.6" rx="2.2" ry="1.0" transform="rotate(163 141.2 471.6)"/><ellipse cx="236.3" cy="370.1" rx="1.9" ry="1.1" transform="rotate(44 236.3 370.1)"/><ellipse cx="206.4" cy="416.3" rx="2.2" ry="1.0" transform="rotate(119 206.4 416.3)"/><ellipse cx="48.2" cy="70.0" rx="1.9" ry="0.9" transform="rotate(83 48.2 70.0)"/><ellipse cx="262.1" cy="362.9" rx="2.8" ry="1.3" transform="rotate(33 262.1 362.9)"/><ellipse cx="349.3" cy="424.5" rx="2.1" ry="1.1" transform="rotate(168 349.3 424.5)"/><ellipse cx="205.2" cy="79.2" rx="2.3" ry="1.2" transform="rotate(75 205.2 79.2)"/><ellipse cx="451.8" cy="117.8" rx="2.6" ry="1.0" transform="rotate(144 451.8 117.8)"/><ellipse cx="1.2" cy="162.8" rx="2.6" ry="1.4" transform="rotate(48 1.2 162.8)"/><ellipse cx="127.6" cy="246.9" rx="2.5" ry="1.3" transform="rotate(155 127.6 246.9)"/><ellipse cx="286.2" cy="334.9" rx="1.7" ry="1.0" transform="rotate(110 286.2 334.9)"/><ellipse cx="484.3" cy="131.5" rx="2.0" ry="1.1" transform="rotate(23 484.3 131.5)"/><ellipse cx="163.0" cy="259.1" rx="1.7" ry="1.0" transform="rotate(43 163.0 259.1)"/><ellipse cx="157.6" cy="30.7" rx="2.4" ry="0.9" transform="rotate(16 157.6 30.7)"/><ellipse cx="55.3" cy="156.6" rx="1.8" ry="1.0" transform="rotate(93 55.3 156.6)"/><ellipse cx="304.1" cy="310.3" rx="2.5" ry="1.0" transform="rotate(173 304.1 310.3)"/><ellipse cx="209.4" cy="229.3" rx="2.2" ry="1.0" transform="rotate(98 209.4 229.3)"/><ellipse cx="276.4" cy="206.4" rx="1.6" ry="1.1" transform="rotate(149 276.4 206.4)"/><ellipse cx="384.4" cy="171.4" rx="2.5" ry="1.2" transform="rotate(103 384.4 171.4)"/><ellipse cx="327.9" cy="44.2" rx="1.9" ry="1.1" transform="rotate(94 327.9 44.2)"/><ellipse cx="48.4" cy="473.1" rx="2.6" ry="1.0" transform="rotate(146 48.4 473.1)"/><ellipse cx="204.5" cy="203.6" rx="2.6" ry="1.1" transform="rotate(2 204.5 203.6)"/><ellipse cx="104.4" cy="167.3" rx="1.7" ry="1.0" transform="rotate(36 104.4 167.3)"/><ellipse cx="190.0" cy="92.5" rx="2.1" ry="1.3" transform="rotate(159 190.0 92.5)"/><ellipse cx="182.8" cy="394.9" rx="1.8" ry="1.2" transform="rotate(127 182.8 394.9)"/><ellipse cx="42.4" cy="476.5" rx="1.9" ry="0.9" transform="rotate(2 42.4 476.5)"/><ellipse cx="20.0" cy="141.7" rx="2.5" ry="1.2" transform="rotate(87 20.0 141.7)"/><ellipse cx="3.9" cy="458.6" rx="2.0" ry="1.0" transform="rotate(33 3.9 458.6)"/><ellipse cx="127.8" cy="2.2" rx="2.0" ry="1.4" transform="rotate(158 127.8 2.2)"/><ellipse cx="270.2" cy="55.6" rx="1.7" ry="0.9" transform="rotate(155 270.2 55.6)"/><ellipse cx="324.9" cy="34.8" rx="2.0" ry="1.1" transform="rotate(160 324.9 34.8)"/><ellipse cx="60.9" cy="173.3" rx="1.8" ry="1.3" transform="rotate(11 60.9 173.3)"/><ellipse cx="229.9" cy="175.9" rx="2.1" ry="1.1" transform="rotate(129 229.9 175.9)"/><ellipse cx="155.6" cy="248.9" rx="2.2" ry="0.9" transform="rotate(74 155.6 248.9)"/><ellipse cx="127.5" cy="64.0" rx="1.7" ry="1.3" transform="rotate(161 127.5 64.0)"/><ellipse cx="341.4" cy="278.2" rx="1.8" ry="1.0" transform="rotate(52 341.4 278.2)"/><ellipse cx="137.3" cy="189.8" rx="2.6" ry="0.9" transform="rotate(38 137.3 189.8)"/><ellipse cx="131.2" cy="288.7" rx="2.2" ry="1.1" transform="rotate(179 131.2 288.7)"/><ellipse cx="90.1" cy="253.6" rx="2.5" ry="1.0" transform="rotate(134 90.1 253.6)"/><ellipse cx="132.7" cy="436.8" rx="1.7" ry="1.2" transform="rotate(169 132.7 436.8)"/><ellipse cx="276.9" cy="60.3" rx="1.9" ry="1.3" transform="rotate(102 276.9 60.3)"/><ellipse cx="438.9" cy="467.3" rx="2.5" ry="1.4" transform="rotate(35 438.9 467.3)"/><ellipse cx="462.3" cy="335.8" rx="1.8" ry="1.1" transform="rotate(154 462.3 335.8)"/><ellipse cx="414.9" cy="172.5" rx="2.5" ry="1.0" transform="rotate(136 414.9 172.5)"/><ellipse cx="20.9" cy="158.3" rx="2.1" ry="1.0" transform="rotate(127 20.9 158.3)"/><ellipse cx="148.8" cy="338.0" rx="1.7" ry="1.3" transform="rotate(26 148.8 338.0)"/><ellipse cx="265.7" cy="286.6" rx="2.3" ry="1.0" transform="rotate(29 265.7 286.6)"/><ellipse cx="151.7" cy="463.5" rx="1.9" ry="1.3" transform="rotate(119 151.7 463.5)"/><ellipse cx="187.9" cy="466.2" rx="2.4" ry="1.2" transform="rotate(7 187.9 466.2)"/><ellipse cx="358.6" cy="85.6" rx="2.7" ry="1.4" transform="rotate(17 358.6 85.6)"/><ellipse cx="398.2" cy="426.4" rx="2.8" ry="1.3" transform="rotate(179 398.2 426.4)"/><ellipse cx="4.3" cy="198.7" rx="1.6" ry="1.1" transform="rotate(94 4.3 198.7)"/><ellipse cx="357.4" cy="195.1" rx="2.3" ry="1.1" transform="rotate(160 357.4 195.1)"/><ellipse cx="473.2" cy="306.8" rx="2.5" ry="1.4" transform="rotate(166 473.2 306.8)"/><ellipse cx="137.9" cy="71.5" rx="2.2" ry="1.2" transform="rotate(94 137.9 71.5)"/><ellipse cx="195.2" cy="427.8" rx="2.0" ry="1.4" transform="rotate(35 195.2 427.8)"/><ellipse cx="261.3" cy="13.8" rx="2.6" ry="1.3" transform="rotate(26 261.3 13.8)"/><ellipse cx="132.2" cy="265.6" rx="1.7" ry="1.0" transform="rotate(60 132.2 265.6)"/><ellipse cx="116.8" cy="65.8" rx="2.1" ry="1.3" transform="rotate(166 116.8 65.8)"/><ellipse cx="344.0" cy="340.5" rx="2.4" ry="1.2" transform="rotate(6 344.0 340.5)"/><ellipse cx="205.2" cy="248.1" rx="1.8" ry="1.3" transform="rotate(55 205.2 248.1)"/><ellipse cx="50.9" cy="365.5" rx="1.7" ry="1.2" transform="rotate(98 50.9 365.5)"/><ellipse cx="264.7" cy="93.9" rx="2.7" ry="1.3" transform="rotate(3 264.7 93.9)"/><ellipse cx="374.1" cy="134.1" rx="2.4" ry="1.4" transform="rotate(173 374.1 134.1)"/><ellipse cx="2.7" cy="293.4" rx="2.3" ry="1.4" transform="rotate(146 2.7 293.4)"/><ellipse cx="102.1" cy="205.9" rx="1.9" ry="1.4" transform="rotate(78 102.1 205.9)"/><ellipse cx="43.2" cy="68.2" rx="2.1" ry="1.1" transform="rotate(21 43.2 68.2)"/><ellipse cx="95.0" cy="433.2" rx="1.8" ry="0.9" transform="rotate(132 95.0 433.2)"/><ellipse cx="35.8" cy="96.7" rx="2.7" ry="1.1" transform="rotate(57 35.8 96.7)"/><ellipse cx="125.0" cy="104.6" rx="2.0" ry="1.0" transform="rotate(165 125.0 104.6)"/><ellipse cx="98.4" cy="398.4" rx="2.4" ry="1.2" transform="rotate(34 98.4 398.4)"/><ellipse cx="304.3" cy="23.0" rx="1.7" ry="1.3" transform="rotate(51 304.3 23.0)"/><ellipse cx="380.1" cy="457.4" rx="2.1" ry="1.3" transform="rotate(2 380.1 457.4)"/><ellipse cx="473.7" cy="79.5" rx="1.7" ry="1.1" transform="rotate(76 473.7 79.5)"/><ellipse cx="340.9" cy="215.7" rx="2.4" ry="1.0" transform="rotate(113 340.9 215.7)"/><ellipse cx="175.8" cy="153.0" rx="2.7" ry="0.9" transform="rotate(24 175.8 153.0)"/><ellipse cx="255.3" cy="14.5" rx="2.6" ry="1.1" transform="rotate(17 255.3 14.5)"/><ellipse cx="262.1" cy="166.8" rx="2.3" ry="1.0" transform="rotate(44 262.1 166.8)"/><ellipse cx="372.9" cy="378.6" rx="2.0" ry="1.0" transform="rotate(46 372.9 378.6)"/><ellipse cx="58.2" cy="186.2" rx="2.2" ry="1.2" transform="rotate(44 58.2 186.2)"/><ellipse cx="379.4" cy="14.4" rx="1.6" ry="0.9" transform="rotate(13 379.4 14.4)"/><ellipse cx="300.8" cy="417.9" rx="2.0" ry="1.2" transform="rotate(172 300.8 417.9)"/><ellipse cx="27.2" cy="233.3" rx="2.4" ry="1.1" transform="rotate(75 27.2 233.3)"/><ellipse cx="229.3" cy="320.8" rx="2.4" ry="1.3" transform="rotate(129 229.3 320.8)"/><ellipse cx="106.2" cy="167.6" rx="2.1" ry="1.0" transform="rotate(92 106.2 167.6)"/><ellipse cx="180.6" cy="306.8" rx="2.3" ry="0.9" transform="rotate(64 180.6 306.8)"/><ellipse cx="289.4" cy="54.2" rx="1.8" ry="1.1" transform="rotate(156 289.4 54.2)"/><ellipse cx="145.7" cy="454.6" rx="1.7" ry="1.1" transform="rotate(124 145.7 454.6)"/><ellipse cx="323.6" cy="40.0" rx="2.2" ry="0.9" transform="rotate(95 323.6 40.0)"/><ellipse cx="460.3" cy="433.3" rx="2.5" ry="1.2" transform="rotate(7 460.3 433.3)"/></g>
</g>
<clipPath id="cD2"><rect x="0" y="0" width="485" height="477"/></clipPath>
<g transform="translate(631 1320)" clip-path="url(#cD2)">
<rect x="0" y="0" width="485" height="477" fill="#E8A6DC"/>
<ellipse cx="12" cy="110" rx="14" ry="30" fill="#F8ECF7"/>
<ellipse cx="60" cy="250" rx="10" ry="8" fill="#FAF2FA"/>
<path fill="#F4DDF1" d="M-2.4 44.7L0.0 45.7 28.4 48.6 55.9 48.5 70.2 51.7 85.1 52.6 97.0 52.1 139.5 45.2 166.3 42.9 181.3 42.6 196.1 38.3 222.1 36.0 236.4 33.7 250.4 33.1 278.1 29.4 292.2 29.6 307.1 28.3 333.5 24.4 348.1 23.0 361.5 18.8 375.5 20.2 390.0 17.2 417.9 14.2 431.5 11.4 445.7 12.5 458.7 10.6 472.5 10.6 485.2 8.3 486.4 7.6 487.2 5.7 486.4 3.8 485.2 3.1 474.0 2.9 458.2 5.7 444.9 6.4 431.3 10.2 417.3 10.0 389.6 12.3 375.5 12.1 361.3 16.7 346.3 16.2 332.8 18.6 304.7 21.9 291.5 24.4 277.9 28.0 250.4 29.8 236.2 32.1 222.1 32.6 195.8 35.6 180.3 35.0 165.8 38.4 139.2 42.8 97.0 46.6 84.3 49.2 70.2 47.1 56.0 47.4 29.2 41.9 0.0 39.0 -2.4 40.0 -3.2 41.5 -3.2 43.2ZM41.5 84.0L25.7 87.5 -0.8 90.2 -2.7 91.6 -3.1 94.0 -1.6 96.0 0.8 96.3 27.7 90.9 42.3 89.9 57.0 85.7 69.3 88.2 82.2 89.7 95.4 92.1 112.7 96.3 124.7 96.3 138.2 95.3 152.6 92.8 166.7 93.8 170.2 93.2 179.1 93.8 194.0 98.0 208.3 99.1 221.9 103.5 249.5 107.6 261.7 111.2 275.7 114.1 288.9 120.0 316.1 125.8 333.6 131.0 331.6 131.1 317.2 127.4 303.4 126.8 290.3 124.6 276.9 123.5 261.7 123.3 255.1 112.5 254.2 112.0 253.3 113.3 256.9 122.4 256.8 123.4 250.0 123.2 249.3 123.7 248.5 123.2 247.8 123.7 247.2 123.2 246.4 123.5 245.8 123.0 235.1 121.4 220.1 120.1 205.9 120.7 191.6 119.3 178.1 119.7 163.9 122.2 163.1 121.8 162.4 122.2 149.6 121.3 136.8 123.0 135.9 122.7 135.4 123.2 133.1 122.8 132.4 123.4 131.6 122.9 130.9 123.4 130.1 122.9 129.4 123.5 128.6 123.0 127.9 123.5 127.1 123.0 126.4 123.6 125.6 123.1 124.9 123.6 124.1 123.1 123.4 123.7 122.6 123.2 121.9 123.7 121.1 123.2 111.7 122.6 106.7 124.0 94.3 130.0 81.6 134.0 69.4 141.0 55.5 145.1 54.5 146.4 54.5 147.4 56.0 148.9 57.5 148.7 69.9 142.3 83.7 138.9 96.7 132.6 108.7 128.8 113.6 126.1 120.5 124.5 121.3 124.8 121.9 124.3 122.6 124.8 123.4 124.2 124.1 124.7 124.9 124.2 125.6 124.7 126.4 124.1 127.1 124.6 127.9 124.1 128.6 124.6 129.4 124.0 130.1 124.5 130.9 124.0 131.6 124.5 132.4 123.9 133.1 124.4 135.4 123.9 136.1 124.4 136.8 124.0 149.6 124.9 163.3 123.4 163.9 123.0 178.1 124.6 205.8 123.0 220.1 125.1 235.1 125.3 246.3 124.3 247.0 124.7 247.8 124.2 248.3 124.8 249.2 124.4 249.8 124.9 250.7 124.6 258.0 126.0 258.8 126.8 265.6 136.7 265.6 137.5 266.4 137.9 266.2 138.7 267.0 139.3 270.8 151.9 278.3 163.1 279.1 163.5 279.7 165.7 280.5 166.1 280.4 167.1 281.2 167.4 281.0 168.4 281.8 168.8 281.7 169.7 283.6 170.4 284.5 170.0 285.1 170.6 286.0 170.2 286.6 170.8 287.5 170.4 288.1 171.0 289.0 170.6 289.5 171.2 290.5 170.8 291.0 171.4 292.0 171.0 292.5 171.6 293.4 171.2 294.0 171.8 294.9 171.4 295.5 172.0 296.4 171.6 297.0 172.2 297.9 171.8 298.5 172.4 299.4 172.0 300.0 172.6 300.9 172.2 301.4 172.8 302.4 172.4 302.9 173.0 303.8 172.6 304.4 173.2 305.3 172.8 305.9 173.4 306.8 173.0 307.4 173.6 308.3 173.2 308.9 173.8 309.8 173.4 310.4 174.0 311.3 173.6 311.9 174.2 312.8 173.8 313.3 174.4 314.3 174.0 314.8 174.6 315.7 174.2 318.0 175.0 318.7 174.6 319.3 175.2 320.1 174.9 320.7 175.5 330.9 177.8 342.5 178.0 343.3 178.4 344.0 178.0 357.7 181.3 367.1 181.8 370.8 180.7 371.6 181.2 372.3 180.6 373.0 181.0 373.8 180.4 374.5 180.9 375.3 180.3 377.7 180.6 378.3 180.0 379.0 180.5 379.8 179.9 380.5 180.4 381.3 179.9 382.0 180.3 399.9 179.0 441.1 174.8 456.7 174.6 469.6 172.4 484.1 171.7 485.6 170.2 485.0 168.1 483.5 167.5 470.6 169.4 456.7 169.8 442.3 172.5 399.9 176.3 381.8 178.5 381.2 179.0 380.3 178.7 379.7 179.3 378.8 178.9 378.2 179.5 377.5 179.0 376.7 179.6 376.0 179.1 375.3 179.8 374.5 179.3 373.8 179.9 373.0 179.4 372.3 180.0 371.6 179.6 369.3 180.2 358.2 177.8 344.1 177.4 343.5 176.8 342.7 177.0 331.4 174.2 321.0 173.7 320.2 174.1 319.5 173.6 318.8 174.1 318.2 173.5 317.3 173.9 316.7 173.3 315.8 173.7 313.5 172.8 312.8 173.3 312.3 172.7 311.3 173.1 310.8 172.5 309.9 172.9 309.3 172.3 308.4 172.7 307.8 172.1 306.9 172.5 306.3 171.9 305.4 172.3 304.8 171.7 303.9 172.1 303.3 171.5 302.4 171.9 300.2 171.0 299.5 171.5 298.9 170.9 298.0 171.3 297.4 170.7 295.0 170.9 294.4 170.3 293.5 170.7 292.9 170.1 292.0 170.5 291.4 169.9 290.5 170.3 290.0 169.7 289.0 170.1 288.5 169.5 287.6 169.9 285.3 169.1 284.6 169.5 282.3 168.6 282.4 167.6 281.6 167.2 281.8 166.3 281.0 165.9 281.1 164.9 279.7 163.2 279.9 162.4 275.3 149.3 267.6 138.9 267.7 138.1 266.9 137.7 267.1 136.9 266.4 136.4 263.6 127.1 276.9 129.6 290.3 131.2 304.1 131.7 317.2 133.8 331.4 133.0 338.1 134.1 339.1 133.7 339.6 132.5 358.5 134.8 384.6 135.0 400.4 137.8 422.8 139.0 455.1 132.7 468.9 132.3 484.4 129.6 485.9 128.5 486.2 127.3 485.9 126.0 484.4 124.9 468.1 126.4 454.7 129.8 423.6 132.2 400.4 130.3 386.2 131.0 358.5 127.6 339.8 127.5 317.1 122.1 290.6 113.7 276.2 112.2 262.7 107.7 248.6 105.0 223.3 98.5 207.5 97.0 195.3 92.9 180.9 91.3 170.4 87.6 166.7 87.3 152.4 89.7 138.2 88.6 124.7 89.0 113.3 90.1 95.8 89.2 56.4 83.6ZM-3.1 214.7L-2.7 216.2 -0.8 217.7 13.4 219.8 27.1 223.3 40.5 225.6 56.2 227.5 67.2 231.8 79.3 239.1 91.6 243.6 97.2 246.9 98.5 247.1 99.8 245.9 99.0 243.9 92.5 241.5 81.5 235.2 67.8 230.5 56.3 224.3 41.9 220.2 28.8 217.3 14.4 215.2 0.8 211.7 -1.6 212.0 -2.7 213.1ZM-1.0 246.4L39.9 258.8 54.8 259.3 70.7 262.2 80.8 265.1 105.0 277.5 120.7 281.9 143.7 292.6 158.5 300.2 168.4 303.4 186.1 304.6 199.1 310.4 215.1 312.6 226.1 313.2 240.8 307.2 255.3 306.6 268.4 299.8 282.8 299.3 295.9 293.3 310.0 290.7 322.2 286.9 337.1 287.7 350.5 282.5 367.8 279.8 379.2 279.6 405.7 282.7 419.9 281.3 434.2 282.1 448.3 280.2 476.2 283.7 484.6 283.0 486.2 282.1 487.2 279.6 486.2 277.1 484.6 276.2 476.2 275.2 448.3 277.4 434.2 274.8 420.1 274.9 405.7 272.9 379.4 274.6 366.7 273.8 349.6 278.0 334.6 278.5 321.8 284.9 308.7 286.1 295.1 289.1 280.0 288.9 267.4 296.5 253.0 298.0 240.3 305.5 226.2 308.1 214.7 304.2 201.7 300.8 187.8 301.1 185.6 300.7 171.3 295.8 161.0 290.8 146.1 286.7 122.1 278.5 109.1 271.4 82.7 263.5 71.2 257.7 55.8 254.4 42.5 249.2 0.0 244.6 -1.0 245.2ZM-1.0 313.6L-0.3 314.5 12.8 317.6 27.2 319.3 40.9 321.7 69.0 323.5 82.4 328.0 95.7 330.5 111.4 332.5 150.7 345.0 163.3 347.6 190.1 359.9 197.2 362.3 204.1 363.1 217.6 363.5 233.1 362.9 258.4 366.3 274.3 369.2 280.8 369.0 282.5 369.7 296.6 369.0 310.8 372.8 323.4 373.3 337.7 374.8 351.8 374.9 367.6 377.6 381.0 376.7 393.8 374.1 408.0 375.5 422.0 374.0 433.6 371.8 434.2 371.3 435.1 371.6 435.7 371.0 436.4 371.5 438.7 370.8 440.9 371.2 441.6 370.6 442.4 371.1 443.1 370.5 443.9 371.0 444.6 370.4 445.4 370.9 446.1 370.3 448.6 370.6 449.1 370.1 449.8 370.5 450.6 370.1 463.3 371.4 477.6 368.1 479.8 368.4 480.5 367.8 481.3 368.3 482.0 367.7 482.8 368.2 483.5 367.6 484.5 368.1 485.1 367.3 484.3 366.4 483.5 367.0 482.8 366.6 482.0 367.2 481.3 366.7 480.5 367.3 479.8 366.8 477.5 367.4 463.3 366.2 450.5 369.3 449.6 369.0 449.1 369.5 448.4 369.1 446.1 369.8 445.4 369.3 443.1 370.0 442.4 369.5 441.6 370.1 440.9 369.6 440.1 370.2 439.4 369.7 438.6 370.3 436.2 369.9 435.6 370.5 434.9 370.0 434.2 370.5 422.9 369.6 408.0 370.1 393.7 373.4 393.0 373.0 379.5 372.8 366.9 373.9 352.0 373.4 338.2 370.8 317.1 368.3 330.5 367.4 343.8 364.3 358.9 365.5 368.1 363.4 368.9 362.7 369.1 361.0 368.1 359.7 367.0 359.5 358.1 358.8 343.7 362.0 329.6 360.7 316.2 361.6 301.7 364.4 288.4 365.8 272.8 363.5 258.7 363.4 233.3 361.7 218.3 358.1 198.3 355.2 190.5 352.6 165.0 346.4 152.7 340.3 142.2 336.6 111.9 330.6 97.1 325.0 85.6 321.5 83.3 321.2 69.2 322.0 42.3 316.5 27.8 315.2 14.9 313.1 0.0 312.5ZM27.7 393.6L-0.7 392.7 -2.5 394.0 -2.8 396.2 -1.4 398.0 0.0 398.3 27.7 397.4 42.0 398.7 69.8 397.3 84.6 397.9 97.4 399.4 111.6 398.7 139.2 403.8 154.8 403.4 181.0 407.6 194.5 407.3 195.2 406.8 208.6 411.4 222.8 413.4 236.5 417.3 249.7 420.1 262.9 422.5 277.4 423.8 281.3 425.2 282.5 424.7 283.0 423.5 281.7 421.8 277.8 421.7 264.3 417.4 251.1 414.5 237.9 412.0 223.4 410.3 209.8 406.8 197.4 405.8 195.2 406.2 194.7 405.7 181.0 402.6 155.0 401.6 139.2 398.1 111.7 397.6 98.1 394.1 85.5 393.0 69.8 393.6 42.0 392.2ZM96.6 188.4L84.1 189.8 82.7 190.9 82.5 192.7 83.6 194.1 84.7 194.4 99.0 191.7 112.1 190.6 125.7 186.4 126.5 186.6 127.1 186.0 127.8 186.4 128.5 185.8 129.2 186.2 130.0 185.6 130.7 186.0 131.5 185.3 132.2 185.8 133.0 185.2 133.7 185.6 134.5 185.0 135.2 185.4 136.0 184.8 136.7 185.2 140.4 184.3 153.9 187.3 168.5 188.1 194.8 192.0 210.4 192.0 226.2 193.7 251.6 191.6 265.8 188.6 266.7 188.9 267.3 188.3 269.5 188.5 270.3 187.9 271.0 188.4 271.7 187.8 272.5 188.2 273.2 187.6 274.0 188.1 274.7 187.5 275.4 187.9 276.2 187.3 276.9 187.8 277.7 187.2 278.4 187.6 279.2 187.0 281.6 187.4 282.3 186.5 281.4 185.7 279.1 186.5 278.4 186.0 277.7 186.7 276.9 186.2 276.2 186.8 275.4 186.3 274.7 187.0 274.0 186.5 273.2 187.1 272.5 186.6 271.7 187.3 271.0 186.8 270.2 187.4 269.5 186.9 267.2 187.6 266.5 187.2 265.7 187.7 251.6 187.4 225.5 190.7 210.7 189.1 196.3 186.0 168.9 184.7 153.1 182.5 141.1 182.6 138.8 183.5 135.0 183.7 134.4 184.3 133.5 184.0 132.9 184.6 132.0 184.2 131.4 184.8 130.7 184.4 128.5 185.3 127.6 184.9 127.0 185.5 126.3 185.1 125.5 185.6 112.9 185.3ZM337.8 62.8L351.6 66.9 366.4 67.7 380.6 69.5 394.6 70.3 408.3 73.5 423.7 75.5 436.5 72.5 450.8 70.5 463.1 67.8 477.5 66.1 485.2 64.0 486.2 62.2 485.6 60.8 484.2 60.3 476.2 61.1 462.6 64.6 449.7 66.5 436.0 69.8 424.2 71.4 408.9 69.3 394.8 68.9 381.1 65.9 366.9 64.0 352.4 60.8 338.6 60.8 337.8 61.5Z" filter="url(#blur2)"/>
<g filter="url(#dtex2)">
<path fill="#DE5AC6" d="M11.0 10.4L12.0 4.5 9.9 0.9 0.3 -5.0 -5.0 -5.0 -5.0 25.1 -0.8 26.3 2.1 25.4 4.8 23.2 7.2 19.6ZM158.9 7.0L167.8 -5.0 148.9 -5.0ZM72.4 59.7L72.8 51.8 55.9 48.5 46.0 48.6 43.2 51.0 41.8 55.6 43.7 60.9 53.0 71.3 58.4 75.4 61.5 73.9 66.8 68.3 70.3 64.0ZM67.2 43.1L62.3 42.4 55.8 43.7 49.9 46.2 56.0 47.4 71.3 47.3ZM437.8 107.7L438.1 96.7 436.6 90.6 433.3 80.4 430.2 79.2 425.9 80.0 422.9 81.7 410.3 94.5 405.0 104.2 404.6 108.4 405.5 112.2 407.6 115.5 410.7 118.1 420.2 121.5 424.9 121.5 429.1 119.9 432.8 117.0 435.8 112.5ZM218.1 263.5L227.6 242.1 197.2 246.7 189.8 250.2 189.5 252.2 191.2 258.8 201.5 277.8 208.7 277.0 211.4 274.4ZM357.7 479.9L362.5 479.1 366.5 477.2 369.8 474.0 371.4 470.3 371.2 466.2 369.2 461.5 365.5 456.3 357.8 449.5 353.9 448.0 346.3 448.4 340.0 452.8 337.4 456.5 334.7 463.7 335.5 470.5 337.6 473.4 341.1 475.8 352.2 479.5ZM475.2 465.1L463.9 466.8 450.4 471.7 446.7 474.1 445.1 476.4 445.5 478.7 447.8 482.0 482.1 482.0 483.0 477.0 482.2 470.2 478.7 465.9Z"/>
<path fill="#E05CC8" d="M37.3 10.1L41.5 9.3 44.4 7.4 46.8 1.6 46.8 -5.0 15.7 -5.0 14.4 -3.0 12.5 2.3 13.1 4.1 15.3 5.7 24.5 8.6ZM131.0 59.5L134.8 56.5 136.6 53.3 136.4 49.8 133.4 46.2 103.6 51.0 101.5 60.8 103.4 65.6 106.4 66.5 117.3 64.8ZM118.5 41.2L112.7 41.5 108.2 43.5 106.2 45.8 128.7 43.8ZM365.0 55.3L368.6 48.7 368.4 45.9 363.9 40.3 353.8 35.2 348.8 34.5 344.6 35.5 341.1 38.3 334.2 50.4 342.0 60.8 352.4 60.8 357.3 61.9ZM234.6 108.0L236.8 105.7 221.9 103.5 206.5 99.0 206.5 106.3 207.9 110.3 210.4 114.0 213.9 116.0 218.3 116.2 223.7 114.6ZM238.2 99.2L236.4 96.5 229.2 91.3 213.8 85.6 211.4 87.4 207.1 96.9 223.3 98.5 238.5 102.4ZM487.4 50.0L478.3 54.7 479.0 60.8 484.2 60.3 486.2 62.2 485.2 64.0 479.7 65.5 480.0 67.3 481.3 75.2 483.8 81.1 487.5 84.9 490.0 85.9 490.0 49.7ZM201.4 149.2L206.0 150.1 220.1 149.1 230.0 147.2 232.0 146.2 232.0 145.3 220.7 130.1 216.1 127.1 211.5 126.7 207.0 128.8 202.4 133.5 197.5 141.4 197.3 144.6 198.5 147.4ZM88.9 284.5L86.1 277.4 77.5 268.7 72.9 265.6 68.6 263.9 64.7 263.6 61.2 264.8 55.9 270.4 53.1 280.3 54.5 284.6 58.5 287.8 64.9 289.8 73.7 290.7 85.4 289.6 88.2 287.5ZM405.2 286.3L410.0 286.0 416.4 281.7 405.7 282.7 398.2 281.8 400.5 284.1ZM419.9 269.3L415.0 265.9 400.5 261.7 395.7 262.0 392.5 263.9 391.1 267.3 392.2 273.8 405.7 272.9 420.9 274.9 421.5 273.4ZM152.8 414.1L155.3 411.9 159.2 404.1 136.9 403.4 143.9 411.5 147.1 413.8 150.1 414.8ZM160.4 392.9L156.5 384.5 153.5 381.3 146.2 377.1 138.2 376.3 132.1 379.4 129.9 382.5 129.2 386.4 130.1 391.1 133.4 398.0 139.2 398.1 155.0 401.6 159.9 401.8Z"/>
<path fill="#DA54C2" d="M48.3 -3.5L55.0 -0.2 69.5 2.1 75.7 1.3 79.9 -1.3 81.7 -5.0 47.9 -5.0ZM290.6 15.9L301.7 22.2 310.0 4.6 312.5 -5.0 283.7 -5.0 283.5 3.0 287.3 12.4ZM251.1 21.1L242.9 24.5 231.1 32.3 260.2 29.1 255.5 21.7ZM226.3 39.1L226.1 44.4 228.6 49.8 234.9 54.9 245.4 59.6 250.5 60.1 254.7 58.7 258.3 55.5 262.7 45.4 263.2 40.3 261.2 31.7 228.5 34.9ZM381.0 29.7L383.7 25.5 381.3 19.0 375.5 20.2 361.5 18.8 348.1 23.0 344.6 23.4 345.1 26.4 349.9 31.1 360.1 36.1 365.4 37.3 370.2 37.0 374.4 35.4ZM368.7 9.1L356.1 11.4 345.7 16.3 361.3 16.7 376.6 12.2 373.4 10.1ZM126.0 96.4L112.7 96.3 96.6 92.4 96.1 94.7 97.4 99.4 101.0 103.8 107.0 108.0 112.4 109.9 117.1 109.4 121.3 106.6 124.8 101.4ZM115.0 83.1L109.6 81.3 104.8 81.8 100.7 84.6 97.5 89.3 113.3 90.1 122.6 89.2ZM477.0 54.1L468.3 40.4 464.4 36.7 460.5 34.4 456.4 33.3 452.2 33.6 448.3 35.6 444.7 39.3 441.6 44.6 436.6 57.2 435.1 65.4 443.1 64.8 469.1 57.1ZM242.5 91.4L239.4 99.0 240.4 102.9 268.3 109.6 271.9 101.8 273.8 90.9 272.8 86.6 270.6 83.1 264.0 76.3 261.9 75.2 259.0 75.7 255.5 77.8ZM245.5 110.4L254.7 116.8 253.3 113.3 254.2 112.0 258.3 117.8 260.4 117.9 263.3 116.5 266.7 112.3 249.5 107.6 242.3 106.5ZM246.0 124.4L235.1 125.3 220.7 125.1 222.0 128.9 226.4 134.1 230.8 136.5 235.3 136.1 239.9 132.9ZM248.3 117.5L247.4 114.1 244.5 111.6 240.8 110.5 236.3 110.9 224.8 116.0 221.2 120.2 235.1 121.4 246.4 123.5ZM47.2 142.7L34.7 148.1 33.8 151.0 37.3 170.1 60.3 171.0 67.2 170.2 71.7 168.3 73.9 165.2 72.5 156.9 70.0 153.0 62.2 146.3 56.0 148.9 54.5 146.4 55.5 145.1 58.4 144.2 51.9 142.4ZM197.6 167.4L198.2 172.2 199.4 173.6 202.7 173.9 215.9 171.6 240.4 163.7 235.3 154.1 231.9 152.1 226.9 151.0 220.5 151.0 206.3 153.8 201.8 156.3 199.1 159.7ZM275.3 138.3L269.2 141.1 275.3 149.3 278.7 159.1 280.9 148.9 280.9 144.7 278.6 138.6ZM254.8 151.6L242.0 163.1 244.8 169.8 251.8 171.2 265.1 169.5 271.1 167.2 275.7 163.8 277.3 161.4 270.8 151.9 267.8 142.0ZM339.1 139.7L332.3 135.8 328.5 135.0 324.7 135.5 320.9 137.6 317.3 141.0 313.7 145.9 309.7 154.1 310.1 160.2 314.2 165.8 322.0 171.1 326.5 171.7 331.1 170.1 335.9 166.5 340.8 160.7 343.8 155.5 345.0 150.7 344.4 146.5ZM252.4 173.6L248.6 175.8 246.6 178.4 246.6 181.5 248.8 187.8 267.2 187.6 281.4 185.7 282.3 186.5 281.6 187.4 267.3 188.3 251.3 191.6 255.2 196.3 263.7 201.3 268.8 202.3 278.9 201.6 285.0 198.3 288.3 190.5 288.7 185.6 286.4 180.2 281.1 173.9 277.0 171.7 271.8 170.7 265.4 170.8ZM45.1 297.3L42.2 294.7 38.3 293.1 29.1 292.7 25.4 294.0 22.3 296.2 17.9 302.6 15.1 313.2 46.0 317.3 48.1 309.5 48.0 305.1 47.0 300.8ZM17.2 323.3L21.3 328.8 28.3 330.2 37.0 327.7 43.5 321.9 15.5 317.9ZM372.1 310.3L363.8 314.7 358.3 320.0 354.4 326.5 353.7 333.4 356.6 340.4 363.6 345.5 375.0 348.0 380.0 347.9 383.9 346.6 386.6 344.1 388.1 340.6 388.3 336.4 387.3 331.6 381.3 320.2 374.5 310.5ZM97.4 399.4L84.6 397.9 81.6 397.8 89.3 403.2 96.5 404.5 103.3 401.9 106.6 399.0ZM110.6 391.0L109.7 386.3 106.8 381.2 97.9 371.5 91.7 367.7 89.7 368.0 84.8 372.3 78.7 381.7 77.1 386.5 77.2 391.0 78.2 393.3 85.5 393.0 98.1 394.1 108.4 396.7ZM214.0 464.1L215.0 460.1 214.2 454.8 211.6 448.2 206.8 439.7 202.8 437.1 196.6 440.6 179.8 458.6 192.0 466.2 196.9 468.0 206.4 468.3 211.1 466.8ZM110.8 482.0L141.4 482.0 142.9 478.4 140.5 476.8 132.6 474.5 121.4 472.7 117.2 473.5 113.9 475.4 111.6 478.4Z"/>
<path fill="#D249BA" d="M83.2 -5.0L84.7 6.1 85.7 7.6 88.6 7.2 109.1 -5.0ZM332.8 97.9L337.7 92.5 337.6 91.1 332.1 86.9 319.9 81.0 314.0 79.7 309.2 80.3 305.5 82.8 302.9 87.1 301.7 91.6 301.8 96.3 303.4 101.1 306.3 106.1 310.2 108.7 315.1 108.8 320.9 106.5ZM124.9 241.1L110.4 235.9 105.6 235.3 101.6 235.7 98.3 237.0 95.9 239.2 94.9 242.4 99.0 243.9 99.8 245.9 98.5 247.1 95.2 245.7 97.1 252.3 100.4 258.7 106.9 266.6 110.1 268.1 113.2 267.9 116.1 266.2 118.6 263.1 120.9 258.5 125.1 244.2ZM388.1 357.8L394.8 365.3 398.7 366.4 403.6 365.9 409.7 363.9 422.3 357.3 428.3 352.4 423.6 336.9 420.2 333.1 415.6 331.2 409.6 331.2 396.5 335.2 392.1 337.9 389.1 341.1 387.5 344.7 386.1 350.9Z"/>
<path fill="#DC57C4" d="M194.3 -4.6L201.0 1.4 203.7 2.4 208.4 1.3 216.2 -5.0ZM203.7 34.7L225.7 32.5 220.8 21.2 212.2 8.8 205.9 3.7 203.7 3.9 198.5 7.2 192.3 14.6 187.6 22.9 187.6 24.2 189.6 26.3ZM208.4 37.2L220.8 42.8 222.8 42.0 226.0 35.3ZM177.9 78.5L174.1 83.7 174.0 88.9 180.9 91.3 195.3 92.9 205.8 96.5 207.2 92.9 207.4 88.6 206.1 84.7 203.3 81.1 199.1 77.9 190.4 74.9 185.9 75.2ZM178.5 97.5L185.7 104.0 193.3 105.9 200.5 103.6 204.6 98.8 194.0 98.0 179.1 93.8 175.7 93.6ZM383.8 69.9L366.4 67.7 355.4 67.6 356.4 71.6 360.2 75.7 367.0 80.0 372.6 82.0 377.2 81.7 380.7 79.2 383.1 74.3ZM380.3 62.3L376.0 59.2 371.6 57.7 367.0 58.0 359.2 62.3 383.0 66.4ZM415.5 83.3L414.3 78.9 410.3 74.8 407.4 73.3 394.6 70.3 387.4 69.9 380.0 84.2 378.5 91.6 380.1 93.2 387.5 96.8 393.2 98.7 398.8 98.8 404.0 97.1 409.0 93.6 413.7 88.3ZM398.8 69.0L391.2 66.4 389.1 67.7ZM17.7 150.9L17.4 146.3 12.7 141.1 -5.0 129.7 -5.0 161.3 13.7 154.8ZM350.7 113.8L350.7 108.9 348.7 104.8 344.7 101.4 340.0 100.0 334.7 100.6 328.6 103.2 322.0 107.8 317.6 112.4 315.7 116.9 316.1 121.3 339.8 127.5 342.9 127.5 348.5 119.5ZM321.2 128.4L333.6 131.0 320.0 127.0ZM332.4 134.2L335.0 133.6 328.1 133.2 328.7 133.4ZM334.5 131.2L334.3 131.2 334.4 131.3ZM167.1 355.1L173.8 357.5 176.6 353.7 163.3 347.6 153.0 345.5 156.0 348.9ZM179.5 343.0L177.8 338.0 174.6 332.5 161.4 317.8 152.0 334.0 150.9 339.7 165.0 346.4 178.5 349.7 179.4 347.5ZM446.3 291.3L436.9 298.0 425.9 308.5 421.7 316.5 422.2 319.5 424.9 321.4 436.9 322.0 453.5 319.3 461.7 316.4 462.8 312.3 462.1 308.9 455.7 295.0 451.4 290.5 449.4 290.1ZM239.7 431.6L235.7 426.7 232.8 425.6 229.5 425.7 221.4 429.2 216.7 432.7 213.7 437.0 212.7 442.1 213.5 447.9 218.5 459.7 221.9 465.3 223.0 465.8 224.9 464.9 227.7 462.7 235.7 454.2 238.9 449.3 241.5 439.9ZM437.7 408.8L431.9 411.2 431.5 414.7 435.2 420.7 442.5 427.7 452.2 431.3 468.7 431.9 467.9 426.7 463.4 415.3 459.8 410.7 455.1 407.9 449.5 406.9ZM291.3 473.9L295.1 470.9 298.1 467.0 300.1 462.2 302.0 454.7 301.2 450.0 296.4 444.6 291.3 442.0 285.3 441.1 278.7 442.3 272.6 446.8 267.7 453.9 266.0 461.6 267.9 472.2 270.4 476.5 276.3 477.9 286.5 476.1ZM417.5 421.3L410.6 429.4 410.5 433.1 412.4 437.4 421.8 447.7 426.9 450.3 431.2 450.0 434.9 446.7 437.9 440.6 439.3 435.1 439.2 430.0 437.4 425.5 430.6 419.0 427.3 417.8 423.9 417.9ZM400.6 439.0L396.1 449.3 392.2 463.7 392.0 468.6 393.2 472.1 395.5 474.1 399.3 474.7 404.5 474.0 411.2 471.8 425.1 465.2 430.7 460.8 425.5 453.6 410.5 439.5 404.1 436.0 402.5 436.6Z"/>
<path fill="#D852C0" d="M32.6 31.5L41.9 13.8 24.4 10.1 18.7 10.4 14.1 12.1 10.7 15.5 7.2 24.3 6.9 30.0 9.9 33.3 16.1 36.9 20.4 38.8 24.6 38.5 28.7 36.1ZM94.4 7.2L88.2 12.9 89.5 15.4 98.3 22.1 102.6 23.3 107.2 23.0 117.4 18.1 121.2 14.1 123.4 9.4 124.1 4.0 123.2 -2.2 120.8 -5.0 114.1 -5.0 109.2 -3.0ZM307.9 33.7L321.4 41.7 327.9 43.9 333.1 43.8 337.1 41.5 339.8 37.0 342.9 29.8 342.9 25.0 340.5 23.7 302.5 28.7ZM0.8 96.3L-1.6 96.0 -3.1 94.0 -2.7 91.6 -0.8 90.2 17.6 88.3 19.0 84.1 18.9 80.3 17.6 77.1 14.8 74.5 10.7 72.3 -5.0 69.4 -5.0 92.5 -3.9 93.9 1.5 98.7 6.5 100.1 11.0 98.2 14.6 93.5ZM4.0 108.9L-5.0 94.8 -5.0 119.3ZM220.4 79.2L221.3 84.0 224.5 87.6 229.8 90.1 235.1 90.6 240.3 89.2 245.4 85.9 253.9 76.3 256.4 69.8 253.3 65.5 249.9 63.3 239.5 58.7 234.2 58.7 229.5 61.1 225.4 65.9 221.8 73.2ZM169.3 179.7L166.9 184.4 168.9 184.7 196.3 186.0 201.7 187.2 200.3 179.5 198.2 174.9 197.0 173.4 191.9 171.7 183.5 171.8 175.5 174.4ZM167.1 194.8L172.1 201.9 176.2 204.7 189.2 210.5 197.8 198.9 200.9 192.0 194.8 192.0 166.3 188.0ZM317.3 211.1L320.9 207.7 322.8 204.2 323.0 200.6 321.1 197.8 317.0 195.7 310.7 194.2 295.7 193.6 290.7 194.6 287.5 196.4 286.0 199.0 286.1 206.1 287.8 210.5 290.4 215.6 294.2 218.5 299.0 219.3 305.0 218.0ZM-2.7 341.7L2.1 342.5 7.7 341.6 12.1 340.3 17.7 337.1 19.1 332.7 16.1 324.1 13.0 321.7 8.3 320.2 -5.0 319.4 -5.0 340.2ZM363.4 349.1L358.9 351.2 355.2 354.6 351.9 360.2 358.1 358.8 367.0 359.5 369.1 361.0 368.9 362.7 358.9 365.5 349.4 364.7 348.1 367.6 354.3 373.5 364.6 373.9 369.8 371.1 381.3 361.9 385.5 355.8 384.9 353.9 379.6 350.8 368.7 348.6ZM427.4 394.7L423.5 391.6 418.0 389.0 405.1 385.9 400.8 386.1 397.8 387.5 396.2 390.1 396.4 393.7 401.8 404.0 412.1 415.2 416.4 417.8 420.3 418.3 426.4 415.3 429.9 412.2 431.0 408.4 430.6 402.2 429.8 398.2Z"/>
<path fill="#D953C1" d="M65.1 29.3L70.5 29.5 75.6 27.3 83.7 19.0 86.9 14.1 83.7 7.0 76.1 4.3 61.3 2.1 54.7 2.1 49.9 3.1 46.7 5.1 43.3 13.7 59.2 26.7ZM101.8 51.3L85.1 52.6 75.9 52.0 80.7 56.3 85.3 58.1 90.6 58.8 95.1 58.0 98.8 55.6ZM105.5 37.7L104.6 31.7 100.7 26.4 93.7 21.1 89.6 20.3 85.4 21.2 80.9 23.9 69.2 36.6 73.3 47.6 84.3 49.2 103.8 46.0ZM412.7 0.3L409.7 -5.0 382.8 -5.0 375.6 0.5 375.3 5.0 378.8 12.2 400.1 11.4 411.3 3.0ZM358.4 157.4L354.1 154.3 352.1 153.9 349.5 155.0 341.9 161.9 332.4 174.4 344.1 177.4 358.2 177.8 364.2 179.1 365.3 172.5 364.9 167.6 363.5 163.4ZM330.7 181.6L336.5 186.1 341.9 188.3 349.0 190.7 354.7 190.8 359.2 188.8 362.5 184.6 363.4 181.6 357.7 181.3 344.0 178.0 330.8 177.8ZM-5.0 297.3L10.5 300.7 15.2 300.1 18.8 298.3 21.1 295.3 22.2 292.1 22.2 288.7 18.4 281.2 14.6 279.0 9.6 278.6 3.3 280.0 -5.0 283.5ZM436.2 253.1L428.5 269.9 433.4 274.8 448.3 277.4 465.1 276.1 467.4 270.7 467.7 266.9 465.3 259.9 459.8 253.8 452.0 249.2 445.1 247.9 441.8 248.5ZM446.9 287.0L451.7 288.8 454.1 288.0 461.0 281.8 448.3 280.2 439.9 281.3ZM381.9 307.7L405.1 297.8 407.0 295.9 406.9 294.4 403.4 289.0 396.3 281.6 377.0 279.7 374.3 282.6 371.5 289.1 370.7 296.1 371.7 303.0 374.1 308.9ZM459.0 288.4L458.5 293.3 459.5 298.4 461.9 303.8 465.1 307.9 468.9 310.6 473.4 311.9 478.6 311.9 483.2 310.1 487.2 306.5 490.0 302.2 490.0 278.4 486.2 277.3 487.2 279.6 486.2 282.1 484.6 283.0 476.2 283.7 462.6 282.0ZM128.5 360.5L132.8 359.5 135.9 356.7 138.1 352.2 138.1 347.7 136.1 343.3 132.4 339.2 111.8 332.7 109.2 336.3 107.5 343.1 107.5 347.3 109.1 351.0 112.2 354.3 117.0 357.3 123.3 359.8ZM116.6 330.7L114.2 331.1 122.9 332.8 120.8 331.7ZM293.7 341.9L288.6 342.3 285.2 343.7 283.4 346.2 282.8 349.5 283.6 353.7 289.7 365.6 318.0 361.4 321.7 354.1 321.9 349.7 315.1 346.2 308.7 344.4ZM299.6 374.1L303.4 374.5 308.9 372.3 296.6 369.0 292.5 369.2ZM302.9 367.7L300.5 367.5 295.2 367.9 296.7 368.3ZM303.2 367.6L303.4 367.6 303.3 367.6ZM160.3 420.9L170.2 421.3 183.5 419.6 187.9 417.6 190.8 414.9 192.2 411.5 192.5 407.3 181.0 407.6 160.8 404.3 157.1 416.5 157.9 420.1ZM192.1 405.1L187.5 395.9 184.2 393.2 180.5 391.8 176.2 391.8 167.4 395.6 162.1 401.9 181.0 402.6ZM428.0 360.9L423.1 360.0 417.1 361.3 410.1 364.9 401.5 371.6 408.0 370.1 434.6 370.2 431.7 364.0ZM400.1 378.0L402.1 380.9 405.8 383.5 418.2 388.0 424.1 388.7 428.8 388.1 432.4 386.0 434.8 382.5 435.9 378.6 435.8 374.2 434.2 371.3 422.0 374.0 408.0 375.5 399.9 374.7ZM463.1 403.3L465.2 414.6 471.6 429.7 472.4 431.5 473.4 431.5 486.5 417.6 489.3 412.2 489.8 406.9 487.9 401.8 476.8 390.5 471.7 389.0 467.5 391.8 465.6 394.7 463.8 398.7ZM36.1 464.7L32.0 466.4 29.8 468.8 29.4 471.9 30.3 475.5 34.7 482.0 74.6 482.0 73.4 478.2 69.2 472.2 66.0 468.5 61.7 465.8 56.3 464.1 49.7 463.4Z"/>
<path fill="#DB56C3" d="M124.4 -5.0L127.4 9.1 130.2 13.7 133.9 17.3 138.4 19.9 142.6 20.8 146.5 20.1 150.0 17.7 153.1 13.7 154.3 9.2 153.5 4.3 147.5 -5.0ZM267.1 38.6L271.2 41.2 276.5 42.8 288.4 42.8 292.6 41.5 295.6 39.2 300.2 28.9 278.1 29.4 262.9 31.5 264.1 34.9ZM297.9 23.2L289.7 17.3 285.0 15.8 279.9 15.6 274.4 16.8 268.5 19.2 264.5 22.2 262.5 25.8 262.4 29.0 277.9 28.0ZM35.6 140.0L38.7 142.6 42.5 143.0 47.0 141.5 51.1 139.0 57.9 131.3 60.6 126.1 61.4 121.2 60.4 116.7 57.5 112.5 52.8 108.7 48.2 106.8 43.8 106.9 39.5 108.9 35.4 112.9 32.7 117.5 31.4 122.8 31.6 128.8 33.2 135.4ZM170.7 204.8L166.0 205.3 161.6 207.2 157.4 210.5 154.9 214.4 154.2 218.7 155.2 223.7 158.1 229.1 161.4 233.1 165.1 235.5 169.4 236.5 174.2 236.0 178.2 234.1 181.5 230.9 184.0 226.3 185.8 220.4 185.8 215.4 184.1 211.3 180.7 208.1 175.6 205.8ZM368.5 198.4L364.2 200.5 362.1 203.0 363.2 209.3 369.0 216.6 373.7 220.6 378.4 222.7 383.1 222.8 387.7 220.9 392.4 217.1 395.6 213.2 397.6 209.1 398.1 204.8 397.4 200.4 394.7 197.4 390.0 195.8 383.4 195.5ZM318.5 315.6L313.4 314.3 307.2 315.4 294.1 322.3 290.3 325.8 288.3 329.4 288.2 333.1 290.3 336.2 294.4 339.0 309.1 343.0 315.8 343.6 320.9 343.0 324.3 341.2 326.1 338.3 326.3 330.2 322.3 319.1ZM322.3 392.0L331.5 383.1 339.8 374.8 313.7 372.9 313.4 377.7 314.7 382.0ZM346.5 367.9L341.6 364.8 330.5 367.4 317.1 368.3 343.0 371.7ZM327.4 358.7L322.9 359.8 321.1 361.2 335.0 361.2ZM342.6 417.1L343.4 411.2 341.2 406.0 334.7 400.6 322.4 393.6 315.9 402.7 314.5 406.5 315.3 415.0 320.1 423.2 326.5 427.4 333.6 427.7 339.0 423.8Z"/>
<path fill="#DB55C3" d="M195.6 5.4L195.2 1.0 191.9 -5.0 169.4 -5.0 166.7 -1.2 165.3 3.7 166.5 8.0 170.4 11.8 176.9 14.9 182.6 16.2 187.4 15.8 191.3 13.6 194.3 9.6ZM490.0 46.1L490.0 17.5 483.9 14.5 478.1 13.5 473.4 14.6 469.9 18.0 467.5 23.7 466.6 29.2 467.2 34.5 469.3 39.6 473.0 44.6 476.6 48.0 480.1 49.8 483.6 49.9ZM423.7 75.5L411.2 73.9 417.3 76.6 425.6 78.6 430.1 77.1 432.9 73.4ZM433.7 70.1L433.8 64.5 432.0 62.0 413.4 44.0 406.7 40.2 403.2 42.2 397.0 55.9 397.1 61.3 399.6 66.1 403.0 69.2 424.2 71.4ZM-4.0 124.1L-1.2 129.0 4.9 134.4 21.4 145.1 29.6 149.7 31.5 149.6 33.7 147.5 33.3 141.2 30.6 129.1 27.9 123.6 24.2 119.1 19.4 115.9 13.6 113.9 8.4 113.2 3.8 114.0 -0.3 116.3 -3.8 119.9ZM176.9 136.1L179.0 130.9 178.4 128.6 173.1 124.0 163.9 123.0 147.8 124.7 145.7 129.6 145.6 133.5 146.9 137.2 152.3 143.7 157.7 146.8 160.3 147.1 166.6 144.9ZM157.8 118.6L153.5 119.4 150.5 121.3 163.9 122.2 168.1 121.5 162.9 119.4ZM143.1 135.2L139.0 132.4 137.4 132.4 135.1 133.9 124.5 147.6 122.4 153.3 122.5 158.6 124.7 163.5 135.9 174.6 146.4 157.4 148.7 151.4 149.3 146.1 148.3 141.7ZM480.2 105.7L482.6 110.8 490.0 118.7 490.0 88.7 483.7 92.0 481.1 95.8 479.7 100.7ZM154.6 149.9L147.8 158.0 143.8 164.7 142.5 170.2 143.8 174.6 147.7 177.8 154.2 179.9 159.8 180.8 164.4 180.4 168.2 178.7 171.1 175.8 172.5 172.2 172.5 167.9 171.1 163.0 165.5 153.2 162.8 150.3 160.1 148.7 157.5 148.4ZM8.5 192.9L4.5 187.4 -5.0 190.4 -5.0 215.6 -3.0 215.1 -1.6 212.0 4.1 212.5 7.4 210.9 10.9 207.0 11.8 202.4ZM230.8 287.6L235.3 288.0 239.6 286.8 243.7 283.9 249.7 276.1 252.5 265.4 253.3 257.3 252.2 253.8 237.3 246.4 232.2 246.8 227.5 249.9 223.2 255.6 219.3 264.1 217.7 271.3 218.2 277.3 221.0 282.1 226.0 285.7ZM16.3 346.9L12.4 344.0 7.7 343.1 -5.0 346.4 -5.0 371.7 10.7 374.1 15.5 373.7 21.4 371.0 22.7 368.0 21.7 358.4 19.4 351.7ZM41.7 333.3L37.4 331.1 33.0 330.5 28.5 331.3 21.9 333.9 18.9 337.7 19.2 345.5 26.5 368.1 43.9 362.5 47.6 360.2 52.7 354.4 53.3 350.8 52.4 346.6 45.9 336.9ZM188.1 369.7L191.1 371.4 196.6 371.6 202.8 368.5 209.1 363.2 197.2 362.3 179.1 354.8 179.7 359.6 181.8 363.3ZM210.3 349.7L206.9 344.4 203.1 340.8 199.1 338.9 194.9 338.7 186.5 342.2 183.5 344.8 180.2 350.1 198.3 355.2 211.9 357.2 212.0 354.4ZM246.4 450.8L241.6 452.3 237.0 455.5 229.4 464.4 227.5 467.4 226.9 469.5 227.6 470.7 235.3 471.9 251.7 471.7 258.5 470.5 263.0 468.4 265.0 465.5 264.6 461.7 263.0 458.3 256.4 453.0 251.3 451.0ZM374.1 464.9L380.7 468.8 383.7 468.9 386.6 466.9 392.1 456.9 394.7 449.0 395.3 442.3 393.9 436.9 390.4 432.7 384.9 429.9 379.8 429.1 375.1 430.5 370.8 433.9 366.9 439.4 364.9 444.8 364.9 450.2 366.7 455.6Z"/>
<path fill="#D44CBC" d="M226.7 24.6L231.6 26.5 236.7 25.9 242.1 22.9 245.9 19.6 248.2 16.0 249.0 12.1 248.2 8.0 246.1 4.3 238.0 -2.2 231.6 -5.0 219.4 -5.0 215.4 -1.6 214.2 2.4 215.0 7.3 222.0 20.2ZM142.9 35.8L139.0 42.8 161.7 39.1 155.2 35.4 150.2 33.9 146.1 34.1ZM137.7 49.6L140.0 59.6 143.9 64.7 149.3 67.7 156.0 68.0 159.1 66.3 162.0 63.1 164.5 58.5 166.7 52.3 166.8 46.9 165.3 43.0 139.5 45.2 138.3 45.4ZM51.8 78.0L50.5 73.2 47.3 67.6 32.6 51.8 22.4 64.2 18.8 73.0 18.8 76.7 20.2 79.8 22.6 82.6 29.5 86.7 41.5 84.0 49.9 83.8 51.1 82.3ZM-5.0 245.6L11.2 236.9 16.7 232.9 20.2 229.0 21.8 225.3 21.4 221.8 -0.8 217.7 -2.7 216.2 -5.0 216.8ZM17.2 213.3L13.9 213.0 8.4 213.6 19.6 215.9ZM447.6 244.6L452.5 237.2 454.5 231.6 454.6 226.4 452.9 221.5 449.3 217.0 443.9 212.8 438.9 210.5 434.4 210.2 430.4 211.9 426.8 215.5 422.5 222.4 421.8 225.8 423.1 232.4 427.7 239.3 434.8 245.2 441.5 247.1 444.7 246.5ZM137.3 311.2L161.0 316.6 162.1 315.7 167.1 306.9 163.5 301.8 158.5 300.2 131.0 286.7 126.6 298.1 127.4 303.5 130.9 307.9ZM144.1 281.7L140.2 280.5 136.8 281.1 134.4 282.7 152.3 288.4ZM318.2 394.4L318.1 390.6 316.5 386.7 313.5 382.7 306.9 377.3 299.5 375.6 295.8 376.5 292.3 378.8 288.9 382.5 281.5 394.8 280.9 398.4 285.5 403.6 291.9 407.3 295.6 408.2 304.0 408.0 307.9 406.8 314.5 401.8 317.0 398.2ZM110.1 446.0L114.6 460.1 117.7 465.0 121.7 468.8 126.7 471.3 132.5 472.7 137.2 472.0 140.6 469.3 142.8 464.5 143.8 457.6 142.4 452.2 138.6 448.2 132.5 445.6 117.5 443.7 110.5 443.5Z"/>
<path fill="#D64EBE" d="M1.0 45.8L-2.4 44.7 -3.2 41.5 -2.4 40.0 0.0 39.0 4.5 39.5 6.6 32.3 1.7 28.3 -5.0 27.1 -5.0 55.4ZM490.0 242.6L475.2 251.6 471.4 255.6 469.2 259.4 468.4 263.1 469.2 266.6 471.3 269.6 474.9 272.2 486.2 275.8 490.0 275.9ZM277.4 405.5L261.9 416.9 277.8 421.7 281.7 421.8 283.0 423.5 281.3 425.2 277.4 423.8 263.8 422.6 274.8 435.9 281.8 439.8 284.9 439.6 287.4 437.7 289.2 433.9 291.0 421.2 290.7 415.2 289.5 410.5 287.5 407.1 284.7 405.1 281.3 404.5Z"/>
<path fill="#D24ABA" d="M31.1 48.6L33.4 50.8 40.1 48.6ZM61.6 39.6L68.0 35.8 52.5 22.8 46.8 20.8 41.8 21.8 37.4 25.7 29.7 42.0 47.5 45.7ZM42.4 190.5L36.6 171.1 19.1 182.2 14.4 186.9 11.7 191.8 11.3 197.0 13.0 202.4 16.3 210.1 19.3 213.5 21.9 213.5 30.6 210.3 36.7 207.0 40.7 202.6 42.6 197.1ZM53.4 201.8L62.3 193.8 73.0 181.9 75.7 178.0 76.6 175.5 75.8 174.4 67.8 172.8 51.6 171.9 45.3 173.5 41.9 177.2 41.3 182.8 47.6 200.4 49.3 202.6 50.7 203.1ZM461.9 178.4L458.0 174.4 441.1 174.8 427.9 176.1 427.1 181.0 427.6 185.4 432.1 194.4 435.9 196.8 440.7 197.1 446.5 195.2 461.7 184.8 463.3 182.4ZM453.1 170.4L443.8 165.6 436.9 165.6 431.4 169.4 428.9 173.7ZM65.2 231.7L60.2 232.0 54.4 234.4 39.1 245.0 37.6 247.1 39.0 248.8 42.5 249.2 55.8 254.4 70.0 257.4 74.4 249.7 75.1 245.6 74.4 241.6 69.3 233.6ZM56.8 262.8L60.6 263.0 65.2 261.2 49.7 259.1ZM119.8 324.8L122.5 328.8 128.0 333.8 147.4 338.4 153.7 327.5 154.0 322.2 151.3 318.0 145.5 314.8 122.0 310.0 120.6 311.9 118.7 320.8ZM143.3 343.7L144.3 343.0 138.5 341.1 141.2 342.8ZM286.5 325.5L285.0 321.6 279.6 313.6 275.2 311.4 269.4 311.2 262.4 312.8 248.1 319.9 244.3 323.4 242.8 326.8 243.5 330.3 249.7 337.3 262.4 344.8 275.4 350.1 280.4 347.5 285.6 339.9 287.1 333.2ZM4.9 429.2L8.9 426.2 11.5 422.0 13.7 408.3 -2.1 406.1 -5.0 406.6 -5.0 431.5ZM203.6 377.7L199.9 374.6 196.7 373.2 194.0 373.6 189.6 376.8 186.6 383.1 186.2 386.8 188.7 394.8 191.5 399.1 195.1 401.9 199.5 403.3 204.6 403.3 210.5 401.8 213.8 399.0 214.4 394.8 212.4 389.4Z"/>
<path fill="#DF5BC7" d="M128.6 17.2L123.5 17.5 118.3 19.3 112.9 22.5 106.7 28.6 106.0 31.4 106.7 34.0 113.1 38.3 125.7 41.4 131.6 41.6 136.3 40.6 139.8 38.3 143.8 32.1 145.1 26.8 138.0 21.0 133.4 18.3ZM64.7 215.2L69.0 215.7 74.0 214.5 79.7 211.9 83.9 208.3 86.7 203.7 88.0 198.1 87.9 193.8 84.7 194.4 82.5 192.7 82.7 190.9 84.1 189.8 87.6 189.4 86.0 182.7 84.3 180.4 82.1 179.4 78.9 180.4 74.7 183.2 63.3 194.5 59.4 200.4 57.7 205.4 58.3 209.7 61.1 213.3ZM35.8 247.1L27.6 237.1 23.4 235.6 18.2 235.9 12.0 238.0 4.8 242.0 2.2 244.8 35.0 248.4ZM2.0 256.7L7.2 262.6 12.5 265.5 17.7 265.5 22.9 262.6 29.2 255.6 0.7 246.9 -0.2 251.3ZM441.8 199.8L436.5 204.3 450.2 215.9 455.4 218.7 460.5 220.0 465.3 219.8 469.9 218.1 473.2 215.7 475.3 212.4 476.0 208.4 474.4 199.5 472.8 195.8 468.2 190.2 464.5 189.4 459.8 190.1 453.9 192.6ZM80.6 244.8L75.8 250.2 73.9 254.4 73.7 259.0 82.7 263.5 101.0 269.0 101.0 264.8 99.3 259.3 92.7 247.9 89.5 244.7 86.4 243.3ZM83.5 272.2L88.1 275.0 92.3 276.0 96.1 275.3 97.9 273.9 80.8 265.1 75.6 263.6ZM205.0 281.3L202.2 291.0 201.4 300.8 226.2 308.1 231.6 307.1 232.4 300.2 231.3 295.2 228.9 290.7 225.2 286.6 212.2 279.0 206.9 279.0ZM205.4 315.3L212.4 317.3 217.2 316.9 223.0 315.7 228.5 312.2 226.1 313.2 202.5 310.9ZM198.4 334.9L201.5 332.3 205.2 325.3 205.5 318.9 202.2 314.0 193.8 310.8 187.5 309.8 173.7 309.3 166.4 311.4 165.2 313.4 167.4 320.5 175.7 331.5 180.6 335.7 185.3 338.0 190.0 338.4ZM233.4 306.8L240.3 305.5 253.0 298.0 268.6 295.8 259.6 288.1 253.9 285.1 248.8 284.0 244.2 284.9 237.0 291.2 234.9 295.4ZM234.6 314.1L238.1 318.3 246.9 317.7 268.3 308.8 274.7 304.3 274.8 302.8 272.6 299.7 268.4 299.8 255.3 306.6 240.8 307.2 233.6 310.1ZM390.7 329.3L396.0 331.3 402.2 331.4 420.4 326.3 420.3 320.1 418.7 313.7 411.8 304.4 407.8 302.8 402.6 302.7 396.3 304.1 388.9 306.9 384.2 310.5 382.2 314.8 382.9 319.8 386.4 325.5ZM63.9 433.9L52.6 408.1 48.9 402.2 38.7 407.1 36.6 410.1 35.8 414.2 36.1 419.3 37.7 425.4 40.4 430.0 44.1 433.0 48.9 434.4ZM433.8 452.8L432.0 459.2 432.4 460.7 437.5 465.7 440.4 464.5 444.4 460.9 455.7 446.6 459.0 440.2 459.4 435.8 457.0 433.4 451.6 432.9 446.9 434.1 442.7 437.0 439.1 441.5Z"/>
<path fill="#DC56C4" d="M186.5 23.0L176.3 16.0 159.1 7.9 148.4 21.9 146.3 27.8 155.6 34.4 164.3 38.7 165.8 38.4 181.0 35.1 186.5 24.4ZM58.2 136.4L59.3 140.7 61.3 143.4 69.4 141.0 81.6 134.0 87.0 132.3 86.0 129.9 77.9 120.8 71.7 117.4 69.3 117.9 64.3 122.4 59.1 131.6ZM71.7 149.9L76.4 149.7 81.0 147.6 85.6 143.7 88.0 139.5 88.0 136.8 83.7 138.9 69.9 142.3 63.5 145.6 67.0 148.2ZM308.3 270.8L307.4 265.0 303.5 261.5 295.8 257.0 288.0 255.4 284.5 256.2 281.3 258.1 279.5 261.1 279.3 265.2 280.5 270.4 283.2 276.8 286.5 281.3 290.2 284.0 294.5 284.9 303.0 282.5 305.7 280.3 307.4 277.4Z"/>
<path fill="#E25FCA" d="M278.2 12.3L281.0 8.1 282.1 2.9 281.3 -5.0 253.9 -5.0 250.1 3.2 249.7 7.7 251.5 15.5 254.3 19.7 256.1 20.5 262.8 19.7 273.8 15.6ZM445.0 -0.1L446.6 -5.0 414.2 -5.0 413.4 -2.0 415.2 2.6 421.3 10.0 431.3 10.2 437.1 8.6 441.7 4.6ZM424.2 12.9L428.0 15.3 433.4 11.5ZM421.1 19.4L421.3 13.5 394.4 16.8 387.2 22.0 385.4 24.1 385.5 25.6 388.7 29.6 396.0 35.1 404.8 39.1 408.6 37.2 411.5 34.2 418.8 24.3ZM414.4 8.0L409.4 8.8 403.8 11.1 419.1 10.0ZM477.5 66.1L463.1 67.8 434.2 73.1 433.5 77.5 434.4 79.3 443.9 81.4 464.3 84.3 472.7 83.6 477.9 80.5 479.8 75.2 478.6 67.6ZM461.2 60.9L450.9 64.1 438.5 69.2 473.1 61.9 469.3 60.4Z"/>
<path fill="#DD58C5" d="M343.6 13.7L339.1 2.7 336.2 -0.7 328.4 -4.3 323.5 -4.7 319.1 -3.3 315.1 -0.0 311.5 4.9 308.4 11.7 308.5 16.6 311.8 19.8 315.7 20.6 343.6 16.7ZM149.3 70.8L143.5 78.0 141.0 83.6 140.1 88.7 152.4 89.7 166.7 87.3 172.1 88.2 173.1 83.5 172.6 80.5 169.1 75.0 166.1 72.5 162.9 70.7 156.2 69.1 152.6 69.3ZM147.1 100.2L151.3 101.8 155.7 101.8 160.2 100.1 168.6 93.5 152.6 92.8 141.8 94.7ZM-2.4 172.2L5.2 186.0 6.3 186.6 8.8 185.9 25.2 176.5 30.1 172.0 33.0 167.5 34.0 162.9 32.0 154.8 30.2 151.2 6.8 159.4 1.1 163.2 -2.0 167.5ZM419.7 181.9L423.5 179.5 426.1 176.3 397.4 179.2 400.3 181.9 404.2 183.7 409.1 184.2ZM428.7 168.2L427.2 161.6 422.0 156.6 413.6 153.9 408.1 153.5 403.5 154.1 399.8 155.8 396.9 158.7 393.8 166.6 393.9 170.7 396.0 176.7 427.2 173.8ZM223.9 204.9L221.2 200.2 217.2 197.1 211.9 195.5 207.1 195.4 202.8 196.8 199.1 199.7 195.9 204.1 195.6 208.6 198.3 213.3 203.9 218.2 212.4 223.2 218.7 225.0 223.0 223.6 225.1 219.0 225.2 211.2ZM227.0 232.6L259.0 203.8 250.7 193.3 248.3 191.9 237.0 192.8 233.8 194.8 230.3 199.0 227.9 204.6 226.7 211.5ZM360.1 196.9L335.8 188.8 331.4 188.7 328.4 189.7 324.9 197.2 324.1 204.1 325.0 207.9 326.8 211.8 333.5 220.0 337.7 222.1 342.3 222.2 347.3 220.3 352.7 216.3 359.4 209.1 360.7 205.8 360.6 198.6ZM225.8 233.3L189.8 211.7 185.2 226.6 184.3 235.9 187.2 241.9 190.9 243.5 203.9 243.7 224.7 239.7 226.8 238.2 226.6 236.7ZM293.5 225.3L286.9 211.1 283.5 207.3 279.3 204.7 274.4 203.4 260.2 204.1 261.8 224.0 264.2 229.1 268.4 231.7 274.2 231.8ZM334.8 287.6L322.2 286.9 314.3 289.4 323.9 297.4 332.6 290.6ZM340.4 271.1L339.4 266.9 336.1 264.7 330.4 264.4 322.3 266.3 311.8 271.2 309.3 274.3 309.2 281.3 311.5 285.8 321.8 284.9 334.6 278.5 338.7 278.4ZM490.0 316.9L483.4 314.0 473.5 313.3 469.3 313.7 464.1 315.8 462.5 320.2 462.3 329.5 463.3 341.1 465.0 347.4 466.1 348.5 471.3 349.9 480.4 350.2 484.9 348.7 490.0 343.7ZM471.2 433.0L468.5 433.6 466.1 436.0 457.2 447.0 446.2 462.2 442.1 469.7 442.8 470.4 449.4 469.5 463.3 465.3 469.0 461.6 472.5 456.8 474.0 450.9 472.3 434.9Z"/>
<path fill="#DA55C2" d="M339.0 -2.2L342.3 6.3 345.6 9.1 350.1 10.3 355.8 10.0 368.0 6.2 371.7 4.2 373.9 2.2 374.5 0.1 373.3 -5.0 339.0 -5.0ZM441.5 37.7L440.9 32.2 438.6 27.3 427.3 16.6 416.4 30.6 414.8 36.2 415.7 41.7 419.1 47.2 424.9 52.6 429.9 55.0 434.1 54.3 437.6 50.6 440.4 43.8ZM136.5 175.9L131.4 184.8 141.1 182.6 157.0 183.0 138.3 176.4ZM130.3 185.8L127.0 195.5 128.9 203.0 135.4 211.2 141.4 213.9 148.6 213.6 156.5 209.7 160.8 206.4 163.7 202.8 165.4 199.1 165.8 195.1 164.9 190.8 163.0 187.8 153.9 187.3 140.4 184.3ZM132.2 217.9L132.5 213.5 131.6 209.9 129.5 207.0 126.3 205.7 121.9 205.9 109.7 210.9 104.9 214.3 102.0 218.0 100.8 221.8 101.6 225.9 103.5 229.3 110.8 234.2 116.2 235.7 120.9 235.3 124.9 233.1 128.2 229.0ZM205.1 333.8L208.4 343.3 212.0 348.7 218.3 355.7 223.4 357.5 229.5 353.6 237.1 343.9 241.6 334.4 242.1 330.4 240.3 324.1 237.2 319.5 235.2 317.9 228.3 316.8 217.7 318.5 209.3 322.8 206.8 325.9 205.3 329.6ZM15.7 450.4L17.2 447.2 16.6 443.3 13.9 438.6 10.2 435.3 5.4 433.3 -5.0 433.1 -5.0 453.0 1.4 455.1 6.7 454.8 12.2 453.0ZM108.6 450.3L104.9 446.1 100.3 448.4 91.3 458.3 80.5 472.3 76.1 480.1 76.4 481.7 99.3 482.0 106.6 479.8 110.2 477.4 112.5 474.4 113.8 470.6 113.9 466.1 112.8 460.8Z"/>
<path fill="#D750BF" d="M473.1 0.9L474.1 -5.0 452.0 -5.0 458.6 -0.1 467.9 2.1ZM-5.0 281.4L14.3 273.1 -5.0 251.6ZM165.4 265.1L179.2 259.1 183.4 256.5 188.0 251.8 187.5 245.2 184.3 240.2 181.7 238.4 174.3 237.1 165.4 238.8 159.4 242.8 157.4 245.7 155.6 252.0 157.7 261.8 160.7 265.1ZM420.5 225.9L416.5 220.1 407.6 215.6 402.6 214.9 397.8 215.7 393.0 218.0 384.9 225.4 381.6 231.8 382.6 237.3 389.0 245.3 392.9 246.3 397.8 245.7 403.7 243.5 410.7 239.7 419.2 232.5 420.8 229.1ZM337.0 260.9L344.3 258.1 345.3 255.0 344.6 252.5 340.7 245.5 337.8 242.8 334.3 241.2 330.3 240.8 325.8 241.4 318.1 246.0 312.2 255.0 308.9 264.3 309.4 265.5 316.1 265.6ZM104.1 340.1L100.9 337.4 89.6 334.0 84.2 333.9 79.8 335.2 76.5 337.7 74.2 341.6 73.4 345.8 74.3 350.1 76.7 354.7 84.2 363.1 89.6 366.4 91.6 366.1 98.8 361.2 103.7 354.9 105.8 347.5 105.8 343.5ZM369.2 373.7L379.5 372.8 393.7 373.4 397.8 372.5 396.2 369.1 391.5 363.8 387.8 363.2 383.1 364.4 377.4 367.5ZM361.2 382.4L362.9 386.1 373.5 394.6 377.7 396.6 385.0 397.2 393.2 391.9 396.8 386.9 398.6 381.2 398.6 375.0 393.8 374.1 381.0 376.7 365.2 377.2ZM490.0 401.5L490.0 378.8 484.3 385.9 483.5 391.0 485.3 396.0Z"/>
<path fill="#D751BF" d="M15.8 38.6L9.9 40.0 21.3 41.1ZM-3.3 55.4L-5.0 60.2 -4.7 65.9 -0.9 68.6 5.7 69.6 11.6 69.0 16.8 66.9 21.2 63.3 27.6 53.9 29.1 48.6 3.0 46.0ZM464.8 253.5L469.3 252.8 474.2 250.4 479.4 246.3 482.7 241.8 484.1 236.9 483.7 231.5 477.6 216.9 465.8 221.1 461.9 223.7 455.9 232.0 453.9 237.5 453.4 242.4 454.3 246.5 456.7 249.9 460.6 252.6ZM128.7 381.8L133.5 373.0 133.2 368.3 127.8 363.7 122.9 361.2 111.1 357.5 106.5 357.7 102.9 359.3 100.1 362.2 99.3 365.8 100.3 370.0 103.2 374.9 112.2 384.4 115.9 386.9 119.0 387.9 124.0 386.1ZM179.9 388.1L185.2 382.6 186.8 375.5 183.7 368.2 177.7 361.6 173.1 359.1 160.6 371.0 157.9 375.5 157.0 379.8 157.7 383.9 160.2 387.8 163.2 390.3 166.9 391.5 171.1 391.4ZM175.9 451.9L181.0 451.6 186.1 448.7 194.1 438.4 195.4 434.0 194.9 430.2 192.5 427.0 188.9 424.6 184.0 423.2 170.4 423.3 164.8 424.5 160.8 426.5 158.5 429.2 158.0 432.6 159.0 436.4 161.4 440.5 170.7 449.7Z"/>
<path fill="#DE59C6" d="M182.6 35.1L201.0 35.0 192.5 31.6 187.7 31.1 184.4 32.4ZM182.7 42.2L189.2 51.9 193.6 54.5 198.3 54.9 203.5 53.2 209.1 49.4 211.4 45.5 210.4 41.7 205.6 37.4 196.1 38.3ZM459.9 30.1L466.0 22.8 471.0 10.6 458.7 10.6 445.7 12.5 436.8 11.8 435.3 14.1 434.7 18.2 436.3 22.3 440.1 26.4 447.9 31.2 452.0 32.0 456.2 31.8ZM458.1 1.8L452.9 1.7 447.9 3.0 440.7 7.6 444.9 6.4 458.2 5.7 466.2 4.3ZM199.8 58.1L194.6 64.9 194.1 67.8 194.8 70.8 199.7 77.1 204.0 80.4 210.3 84.2 213.5 84.4 217.7 78.4 224.4 65.5 226.8 59.3 227.8 54.2 227.5 50.4 224.4 45.7 220.9 43.9 210.4 50.2ZM86.6 302.2L88.3 296.6 87.9 295.5 80.5 293.4 52.2 291.1 49.2 291.6 47.8 294.3 49.2 304.8 51.5 308.6 55.2 311.9 60.3 314.6 66.9 316.9 72.5 317.2 77.3 315.6 81.3 312.1ZM367.1 297.0L357.0 292.4 342.9 290.0 337.7 290.3 333.8 291.7 331.2 294.0 331.1 297.0 333.7 300.5 338.9 304.7 346.6 309.4 353.3 312.5 358.8 313.8 363.2 313.5 368.7 309.0 370.2 303.3 369.5 300.0ZM351.8 480.8L340.3 478.8 336.0 479.7 332.6 482.0 353.9 482.0Z"/>
<path fill="#D64FBE" d="M480.5 -4.5L475.8 -0.0 474.2 2.9 485.2 3.1 486.4 3.8 487.2 5.7 486.4 7.6 477.9 9.6 490.0 15.8 490.0 -5.0ZM137.0 88.6L143.7 72.8 143.9 68.8 142.9 65.7 140.7 63.3 137.2 62.2 132.1 62.2 125.7 63.6 111.9 68.4 106.1 71.9 107.8 75.3 111.0 78.1 126.5 88.9ZM398.7 44.5L397.7 40.0 395.2 36.3 391.0 33.3 386.9 31.9 382.9 32.0 379.0 33.5 372.4 39.7 370.6 42.7 369.9 48.7 373.4 54.9 376.8 58.1 384.7 63.7 389.6 65.6 392.3 63.4 394.0 60.2 398.1 49.7ZM193.0 137.0L201.1 132.2 208.4 123.4 180.4 124.5 180.1 128.2 182.0 132.4 189.5 137.1ZM209.0 115.0L203.8 108.6 197.3 106.7 193.5 107.3 187.2 111.2 182.0 119.6 191.6 119.3 209.2 120.6ZM381.9 97.8L377.3 98.6 373.5 100.7 370.2 104.2 368.7 108.2 368.9 112.8 370.9 117.9 374.6 123.6 380.7 130.4 393.9 130.6 400.2 124.3 402.5 120.4 403.9 112.7 402.9 108.9 400.7 105.5 397.4 102.7 387.0 98.4ZM-5.0 187.8L-1.5 182.3 -1.7 177.6 -5.0 170.5ZM185.6 300.7L199.0 300.9 200.3 298.2 201.4 279.2 187.2 282.2 178.7 288.1 175.2 292.5 173.1 296.4ZM168.1 306.4L187.5 308.5 192.3 307.4 186.1 304.6 169.5 303.4ZM457.9 325.7L453.0 323.3 446.0 322.8 424.9 326.0 422.2 327.2 427.0 341.6 430.4 345.4 435.4 347.6 441.8 348.0 449.7 346.9 455.5 344.5 459.3 340.9 460.9 336.0 460.5 329.9ZM41.9 400.7L41.6 398.7 27.7 397.4 15.0 397.8 14.7 407.1 26.2 408.4 34.1 407.4 40.8 404.1ZM39.6 392.4L26.2 369.6 20.1 373.9 18.1 377.1 16.6 381.8 15.3 393.2 27.7 393.6ZM289.1 376.4L288.5 369.4 274.3 369.2 261.9 367.0 259.3 373.3 260.1 378.5 263.7 383.2 270.1 387.3 275.6 389.2 280.4 388.8 284.4 386.2 287.5 381.4ZM287.4 365.6L278.9 352.6 277.0 351.3 275.6 351.6 264.6 363.4 272.8 363.5ZM35.3 436.3L36.5 431.4 36.4 425.8 32.5 415.0 29.6 411.8 26.0 410.0 21.7 409.7 18.3 410.8 15.6 413.3 13.8 417.2 12.7 427.8 15.5 437.9 22.6 450.2 32.7 440.7ZM356.9 389.2L359.7 384.2 356.8 378.7 353.2 375.2 343.7 374.9 333.1 384.0 330.0 388.9 329.4 393.0 331.3 396.4 335.9 399.0 340.4 399.9 344.9 399.2 349.3 396.8ZM477.3 386.4L490.0 377.0 490.0 355.1 485.2 352.6 480.6 351.6 475.5 351.6 471.3 353.3 467.9 356.6 464.2 366.2 477.5 367.4 484.3 366.4 485.1 367.3 484.5 368.1 477.6 368.1 463.2 371.4 462.8 373.9 463.7 381.6 467.3 385.5 471.6 387.4ZM223.5 423.9L225.1 419.4 225.0 414.4 222.8 413.4 208.6 411.4 198.3 407.9 193.8 412.1 192.4 415.7 191.9 419.2 193.9 426.1 200.9 434.2 205.1 436.0 207.9 435.6 215.5 431.5 220.3 428.0ZM223.7 410.4L220.5 400.6 201.3 406.1 209.8 406.8ZM369.3 417.4L373.5 415.6 376.2 412.4 377.4 407.7 377.2 403.4 375.6 399.4 372.6 395.9 368.1 392.8 363.7 391.4 359.3 391.9 354.8 394.2 347.3 402.0 344.7 408.2 345.2 410.7 351.2 414.8 356.7 416.4 363.7 417.6ZM269.8 479.8L267.9 475.8 259.4 473.8 236.1 474.6 231.6 476.0 229.4 477.8 230.7 482.0 269.9 482.0Z"/>
<path fill="#CF45B7" d="M88.4 97.6L93.7 91.7 77.9 89.2ZM95.6 89.1L104.7 73.3 102.3 66.6 98.5 62.8 90.6 60.4 85.1 59.7 80.2 60.2 75.7 62.0 71.8 65.0 68.3 69.2 67.3 73.7 68.6 78.7 74.7 86.2Z"/>
<path fill="#DF5AC7" d="M170.0 47.7L165.6 58.8 164.7 64.1 165.1 68.4 166.8 71.8 169.8 74.2 176.9 76.1 181.1 75.7 189.1 72.4 193.1 67.7 193.6 64.7 191.2 57.4 188.3 53.0 178.3 42.7 173.3 42.8ZM27.1 214.9L25.5 216.8 41.9 220.2 56.3 224.3 60.9 226.8 63.9 223.5 63.4 219.9 59.8 214.3 54.4 207.9 48.9 204.2 37.6 208.3ZM24.4 228.8L31.8 238.9 35.9 240.3 40.8 239.6 46.7 237.1 58.9 228.5 23.0 222.2ZM135.0 413.4L136.4 408.8 134.9 403.0 111.6 398.7 108.5 398.9 107.8 399.8 106.2 403.9 106.1 408.2 107.3 412.8 110.1 417.6 113.8 420.5 118.5 421.4 124.3 420.3 131.0 417.2ZM131.7 397.9L124.4 390.0 121.6 388.9 119.1 389.4 113.7 393.0 109.9 397.1ZM311.2 412.2L307.9 410.1 304.1 409.3 299.9 409.7 296.5 411.9 294.1 415.8 292.6 421.4 292.1 434.8 294.6 442.1 296.9 443.6 299.8 443.5 307.5 438.8 312.3 434.2 315.3 429.5 316.6 424.9 316.1 420.2Z"/>
<path fill="#D54DBD" d="M257.9 60.9L257.0 67.2 259.2 71.0 264.4 74.8 267.6 74.3 277.4 68.9 289.1 59.6 292.2 55.7 293.5 52.5 293.1 49.8 291.1 47.7 287.7 46.1 282.8 45.1 276.4 44.6 270.9 45.6 266.3 47.9 262.6 51.5ZM340.8 85.6L339.2 90.8 340.5 94.3 350.1 103.4 359.2 108.6 363.2 107.5 368.8 103.0 374.6 96.4 376.9 91.9 376.7 90.3 371.3 85.1 359.1 77.1 353.3 74.9 348.6 75.0 345.0 77.3ZM49.4 288.4L52.6 274.7 52.4 269.3 50.8 264.4 47.0 259.0 39.9 258.8 31.6 256.3 28.9 258.1 15.7 273.3 22.3 284.2 29.2 289.8 33.6 291.4 45.3 292.2 47.3 291.6ZM350.8 335.1L342.9 333.1 337.6 333.7 329.7 336.6 327.1 339.0 324.1 344.7 323.7 351.0 328.4 355.6 338.3 361.5 343.7 362.0 348.1 361.0 351.0 358.6 353.9 353.6 356.2 344.8 355.5 341.0 353.6 337.5ZM465.1 355.9L465.0 349.5 464.0 348.4 461.1 347.9 450.2 348.6 435.9 350.9 429.4 352.9 429.2 353.8 435.5 368.6 436.6 370.0 438.6 370.3 450.5 369.3 462.8 366.3ZM442.7 375.6L447.2 377.1 452.3 377.3 456.5 375.9 460.7 371.1 449.1 370.1 437.5 371.2ZM261.1 424.0L256.8 422.4 252.5 422.7 248.2 424.9 245.1 427.7 243.3 431.1 242.6 435.1 243.3 439.6 245.0 443.6 247.8 446.8 256.9 451.4 261.4 452.0 265.4 451.3 268.7 449.3 271.5 446.0 272.5 442.2 271.8 437.8 269.4 432.9 265.2 427.5Z"/>
<path fill="#E766CF" d="M296.4 55.2L303.9 64.1 307.8 65.2 312.4 64.6 317.7 62.1 332.7 50.5 313.1 39.0 306.7 36.4 301.9 35.8 298.6 37.1 295.5 43.3 294.7 49.3ZM331.5 302.3L324.3 299.1 321.1 305.7 321.8 313.2 326.1 324.1 329.3 328.4 333.2 331.1 337.7 332.1 342.8 331.6 350.5 328.5 354.7 322.7 353.9 319.1 350.8 315.1 345.4 310.6Z"/>
<path fill="#E360CB" d="M25.1 115.0L30.0 114.0 34.4 111.6 41.5 104.2 44.2 98.5 44.0 96.2 42.5 94.2 35.2 90.4 17.7 92.9 5.9 108.1 7.3 109.6 14.3 112.5 19.9 114.5ZM100.1 226.2L96.6 215.4 92.4 211.4 85.1 211.4 70.1 218.1 67.1 220.2 65.5 223.7 69.3 231.0 81.5 235.2 91.1 240.7 97.4 236.0 99.1 233.2ZM77.0 239.7L83.3 242.5 87.2 242.0 79.3 239.1 72.3 234.9Z"/>
<path fill="#E462CC" d="M62.5 114.4L69.1 116.7 71.5 116.2 76.7 112.5 82.2 105.1 82.7 100.6 81.1 95.7 75.6 88.9 57.0 85.7 48.6 88.1 45.6 95.9 47.2 101.1 53.5 107.7ZM66.1 80.5L59.9 76.6 58.6 76.9 51.7 83.7 72.3 85.9ZM106.9 270.7L122.1 278.5 126.9 280.1 125.6 277.1 119.5 271.7 113.3 269.7ZM94.3 279.2L90.8 285.1 89.6 290.9 90.0 295.9 95.9 299.6 108.4 305.1 117.9 308.5 120.9 308.3 127.0 291.4 127.7 285.2 120.7 281.9 105.0 277.5 99.5 274.7ZM178.4 279.7L182.4 281.0 186.7 280.9 191.5 279.6 194.4 277.2 195.4 273.9 194.6 269.6 191.8 264.4 188.4 261.1 184.4 259.8 179.9 260.4 174.7 263.1 171.6 266.0 170.6 269.4 171.6 273.0 174.8 277.0ZM69.0 323.5L44.9 322.0 44.5 322.6 43.8 326.8 44.7 331.3 47.1 336.1 51.1 341.2 58.3 347.2 61.5 348.1 67.3 346.2 72.6 340.8 76.6 333.1 77.5 326.4ZM73.2 321.8L60.0 316.2 54.6 315.5 50.2 316.3 48.2 317.7 69.2 322.0ZM443.6 478.8L441.5 471.5 438.5 468.6 435.1 466.2 431.6 466.2 412.1 473.4 406.2 477.0 401.8 482.0 443.1 482.0Z"/>
<path fill="#D34BBB" d="M276.9 88.6L285.0 91.6 290.1 92.1 294.6 91.3 298.5 89.3 301.7 86.2 306.3 78.2 308.1 73.2 307.1 70.1 300.0 62.4 296.0 61.5 291.1 62.5 285.3 65.4 278.6 70.3 274.1 74.9 271.9 79.0 271.8 82.7ZM129.5 135.5L129.5 130.8 127.4 126.9 124.3 124.6 121.9 124.3 113.6 126.1 105.8 129.7 101.6 135.8 100.7 140.4 102.0 144.7 105.2 148.9 110.6 154.4 114.4 155.8 116.7 154.5 123.3 147.0 127.5 140.9ZM116.3 122.9L121.9 123.7 122.3 123.5 118.6 122.5ZM357.1 151.5L370.5 140.3 373.5 134.9 358.5 134.8 343.4 132.9 342.5 137.7 343.3 142.1 345.8 145.8 352.4 152.0 354.3 152.4ZM372.9 124.3L363.3 111.7 361.0 110.4 359.3 110.5 353.9 115.5 345.7 127.5 358.5 127.6 374.3 129.6ZM482.8 148.1L487.6 147.2 490.0 145.4 490.0 120.4 480.9 113.4 476.7 111.5 473.4 111.3 469.0 115.3 465.1 127.2 484.4 124.9 485.9 126.0 485.9 128.5 484.4 129.6 465.1 132.4 465.3 134.4 467.6 139.1 471.7 143.2 477.5 146.8ZM312.7 168.5L307.9 169.2 302.7 171.8 318.8 174.1 323.9 173.8 317.3 169.5ZM293.7 179.5L289.8 185.5 289.9 187.9 292.0 189.8 302.6 192.5 311.0 193.2 322.7 192.5 326.0 191.0 329.2 184.3 328.9 179.7 327.2 176.9 318.7 174.6 302.4 172.4ZM227.8 236.8L228.8 241.5 242.9 247.6 247.7 248.3 251.8 247.6 255.3 245.3 259.8 236.8 260.8 231.2 260.1 217.3 257.5 213.5 253.2 213.3 247.1 216.7 229.6 233.8ZM422.4 238.9L417.3 239.1 411.3 241.0 404.4 244.7 396.1 250.7 394.6 253.0 394.9 254.7 401.2 259.0 415.3 264.4 421.8 265.3 426.8 264.3 430.3 261.3 432.3 256.4 433.0 251.8 432.3 247.7 430.2 243.9 426.7 240.6ZM27.8 462.1L22.1 451.5 7.3 456.2 -1.6 462.1 -5.0 467.0 -5.0 482.0 20.1 482.0 23.8 478.5 26.4 475.1 28.4 468.4ZM227.4 482.0L227.3 475.2 225.4 470.2 222.5 467.4 219.1 466.8 207.2 469.9 203.1 472.5 199.9 476.1 197.1 482.0Z"/>
<path fill="#D34ABB" d="M334.4 56.9L329.7 57.0 324.3 59.1 311.0 69.7 309.7 73.0 315.0 76.9 327.2 82.7 333.0 83.9 337.7 83.3 341.2 80.7 343.6 76.2 344.5 71.8 344.0 67.5 342.5 64.2 337.8 62.8 337.8 61.5 340.0 60.8 338.5 59.0ZM217.8 195.5L228.1 195.2 233.6 193.1 226.2 193.7 208.7 192.0ZM243.7 184.3L245.0 181.2 244.5 172.9 242.7 169.1 239.5 168.5 234.1 169.0 216.6 173.3 209.3 176.3 204.7 179.4 202.7 182.7 204.3 187.7 225.5 190.7 239.5 188.9ZM150.6 375.1L159.1 370.1 163.4 365.6 165.1 361.3 164.2 357.3 160.7 353.6 144.5 345.3 141.4 349.4 137.4 357.6 134.9 367.8 135.3 370.0 139.1 373.4 146.5 375.6Z"/>
<path fill="#D851C0" d="M89.4 131.6L110.3 123.0 115.5 117.1 99.9 105.2 89.5 99.0 85.8 102.6 80.8 109.8 79.8 114.2 80.6 118.9 83.1 123.9ZM94.6 137.3L96.8 136.2 102.7 130.7 92.2 134.8ZM428.1 137.9L424.7 150.0 426.0 158.0 430.7 162.8 433.5 163.9 439.9 163.7 446.1 159.0 451.5 149.3 451.9 144.4 450.0 140.3 446.0 136.8 442.5 135.1ZM120.6 202.9L125.4 197.8 125.3 195.7 123.0 193.5 114.4 189.9 89.6 193.5 90.3 203.5 91.5 207.4 95.4 211.7 103.3 211.2ZM96.1 186.2L91.2 189.0 104.4 186.9 102.7 186.5ZM314.2 244.5L312.6 240.1 308.9 235.9 294.1 226.3 291.4 242.7 291.7 248.1 293.3 252.5 296.3 255.8 300.5 258.2 304.4 258.7 307.8 257.4 310.9 254.3 313.6 249.2ZM312.9 311.1L317.2 308.1 319.8 305.2 320.7 302.6 319.0 296.6 313.0 289.8 295.9 293.3 282.8 299.3 277.4 299.5 275.8 302.9 276.4 306.6 280.2 312.8 283.3 316.9 287.6 319.1 292.9 319.4 299.4 317.8ZM299.5 285.2L294.6 286.1 287.6 289.0 295.1 289.1 307.2 286.4ZM49.6 368.7L44.8 366.1 40.0 365.5 35.1 366.9 32.6 370.0 32.5 374.7 34.9 381.1 41.8 392.2 60.5 393.2 61.8 390.3 61.4 385.6 58.9 379.9 54.3 373.3ZM48.3 401.0L50.7 400.3 54.3 398.1 46.1 398.5ZM70.6 390.6L63.6 393.3 75.2 393.4ZM55.0 406.9L56.7 413.4 63.4 426.8 66.2 430.4 68.7 432.0 70.8 431.4 75.8 425.9 81.6 414.5 83.1 408.7 82.9 403.7 81.2 399.4 79.6 397.7 57.1 398.0 55.2 401.7ZM277.4 395.2L262.4 384.7 252.2 379.8 248.7 379.2 246.2 379.8 242.8 381.2 241.5 383.0 244.5 390.1 252.7 404.2 257.5 409.1 262.3 411.1 267.2 410.1 275.7 403.0 279.3 398.5Z"/>
<path fill="#D046B8" d="M117.1 116.5L125.0 123.5 135.4 123.2 148.2 121.5 152.2 114.0 152.6 109.2 149.4 104.1 139.1 95.5 131.1 95.9 117.9 114.8ZM132.0 128.4L139.0 130.9 146.0 124.6 126.1 124.3ZM409.7 121.4L405.2 122.6 401.3 125.2 397.1 130.5 428.2 131.9 428.9 127.4 427.0 125.4 414.6 121.5ZM395.4 141.2L397.2 145.3 399.9 148.5 403.6 150.8 413.5 152.7 418.1 151.5 421.8 148.6 424.6 144.2 426.5 138.3 422.8 139.0 395.0 136.8ZM150.2 278.2L151.4 283.0 155.2 289.2 161.0 290.8 171.7 295.9 174.0 291.6 175.2 286.8 174.9 282.3 173.1 278.0 164.4 268.4 160.5 266.7 156.2 268.7 151.0 274.3Z"/>
<path fill="#CE45B6" d="M154.0 111.2L158.7 115.7 169.1 120.5 179.0 119.6 181.2 117.9 183.4 113.8 184.2 109.7 183.5 105.8 181.4 102.0 177.8 98.2 174.0 96.3 169.8 96.1 165.4 97.6 160.6 100.9 154.9 106.7ZM251.4 375.2L259.6 366.5 232.8 362.9 233.8 366.3 237.2 371.3 243.3 377.0 245.9 377.8ZM266.1 355.1L265.2 350.2 261.3 346.0 254.6 342.4 248.5 341.1 243.2 342.0 238.6 345.2 234.6 350.7 232.5 356.0 232.3 361.2 262.1 363.4 264.2 360.7ZM181.7 464.0L177.2 465.6 172.9 469.5 165.3 482.0 195.7 482.0 196.1 475.4 194.5 471.1 191.3 467.5 186.4 464.6Z"/>
<path fill="#D047B8" d="M280.4 94.4L276.3 97.5 272.9 102.3 269.7 110.1 276.2 112.2 290.6 113.7 301.6 117.2 302.6 116.3 305.3 111.6 305.1 106.7 298.7 97.8 294.7 95.1 290.1 93.5 284.9 93.1ZM268.5 119.6L269.7 123.4 290.4 124.6 296.1 121.5 288.9 120.0 275.7 114.1 269.0 112.7ZM475.0 107.8L478.7 100.4 482.2 87.9 453.1 84.1 444.8 84.4 439.8 86.6 438.0 90.7 439.6 96.6 442.3 101.6 446.2 105.7 451.2 108.7 462.7 112.0 467.0 112.3 470.4 111.7ZM374.7 240.9L378.6 237.6 380.5 234.5 379.0 228.7 368.4 217.7 363.5 215.7 358.5 215.7 353.3 217.7 343.8 225.3 339.3 231.7 339.2 237.5 340.3 240.9 348.3 254.5ZM365.7 274.1L348.2 256.2 345.8 259.3 342.3 270.6 341.1 278.3 349.6 278.0ZM349.9 289.0L357.4 290.7 363.2 291.1 367.4 290.3 370.1 288.3 371.1 285.1 370.3 281.2 369.5 279.8 367.8 279.8 350.5 282.5 343.9 285.1Z"/>
<path fill="#D54EBD" d="M87.6 178.0L91.3 175.4 100.9 165.0 104.0 159.3 105.0 154.2 103.9 149.6 95.0 139.1 82.0 148.7 76.3 156.9 75.3 161.1 77.0 173.6 79.1 175.9 84.7 178.9ZM227.8 393.4L239.8 382.4 239.7 379.4 235.7 372.3 228.6 363.1 211.9 363.3 207.8 367.0 206.2 371.2 206.7 376.2 209.2 382.1 213.9 388.9 218.6 393.1 223.2 394.5ZM223.0 359.2L223.4 359.3 223.3 359.3ZM258.1 416.0L247.0 397.3 242.2 392.2 237.5 390.0 232.9 390.8 228.4 394.6 225.5 398.8 224.1 403.5 225.0 410.5 237.9 412.0ZM230.6 422.0L233.3 424.3 239.7 425.8 247.6 423.7 253.4 420.8 226.2 414.4Z"/>
<path fill="#D44DBC" d="M175.9 166.3L179.5 168.9 183.5 170.1 187.9 169.8 191.5 168.6 194.3 166.4 196.1 163.1 197.6 155.1 196.8 148.3 193.8 142.9 185.8 137.7 179.0 138.4 175.4 140.5 171.6 143.8 169.4 147.6 168.9 151.9 170.0 156.8ZM396.6 153.9L395.9 145.9 392.0 138.7 388.3 135.6 382.4 135.0 376.6 137.7 366.6 146.5 363.3 151.2 361.9 155.4 362.5 159.1 368.4 165.0 377.0 167.5 382.4 167.6 386.9 166.6 390.6 164.7 393.5 161.8ZM143.6 246.8L153.3 246.7 156.4 245.0 158.4 242.1 159.1 238.6 158.7 234.4 157.1 229.6 151.3 219.9 144.8 215.4 141.3 215.1 138.1 216.4 132.2 223.8 126.1 240.5 128.4 242.5 131.9 243.8ZM286.1 251.9L288.2 247.9 290.7 236.9 289.5 233.0 286.4 231.1 281.2 231.2 274.0 233.5 263.0 239.0 256.6 246.0 253.6 253.2 258.9 256.2 272.5 258.4 280.3 256.7Z"/>
<path fill="#CF46B7" d="M275.7 133.3L271.9 128.7 263.6 127.1 268.0 139.4ZM263.2 120.3L259.2 119.2 261.7 123.3 267.3 123.4ZM250.6 123.3L256.8 123.4 256.9 122.4 255.9 119.8ZM241.1 134.4L233.7 145.4 235.2 150.1 238.6 155.7 242.1 156.3 247.4 154.5 267.2 140.0 258.0 126.0 249.4 124.5ZM112.9 185.3L129.0 185.0 131.2 181.3 131.7 177.4 130.6 173.2 127.9 168.9 119.7 160.9 114.3 157.3 112.7 157.0 106.7 161.3 102.4 165.8 97.3 171.8 95.7 177.0 97.6 181.3 103.1 184.7 108.4 186.1ZM126.4 186.6L125.7 186.4 120.8 187.9 125.1 187.4ZM127.1 186.0L126.6 186.5 127.3 186.1ZM306.1 155.2L298.2 150.9 292.4 149.0 287.6 149.0 283.9 150.8 281.4 154.4 279.7 163.2 282.3 168.6 284.6 169.5 301.2 171.4 308.0 163.5 308.8 160.5 308.1 157.7ZM282.1 172.8L285.0 176.0 288.5 177.4 292.5 176.9 299.8 172.5 283.6 170.4 281.7 169.7 279.6 165.4ZM392.7 260.2L393.4 255.0 392.2 250.9 385.6 243.6 381.5 242.6 376.2 243.3 369.5 245.6 361.5 249.5 357.1 254.0 356.1 258.9 358.7 264.4 369.5 274.0 379.4 274.6 383.3 274.3 388.1 270.0Z"/>
<path fill="#E866D0" d="M303.4 126.8L317.2 127.4 317.6 127.5 316.1 125.8 298.2 122.0 292.5 125.0ZM277.2 133.4L281.2 140.5 287.6 145.4 298.4 149.4 303.8 149.6 308.5 148.2 312.7 145.0 316.2 140.2 318.3 133.7 304.1 131.7 282.8 130.3ZM309.8 119.8L311.2 120.2 310.3 119.8Z"/>
<path fill="#CD43B5" d="M460.9 136.8L462.5 132.5 455.1 132.7 444.4 134.8 455.6 139.0 458.2 139.3ZM463.8 118.7L461.3 114.8 457.0 111.9 450.8 109.8 445.5 109.4 440.8 110.6 437.0 113.4 431.6 121.5 429.7 126.1 431.9 128.4 436.9 131.2 454.7 129.8 463.7 127.5 464.5 123.5Z"/>
<path fill="#E15EC9" d="M449.6 159.9L450.5 164.2 453.0 168.0 455.6 170.0 469.4 169.5 485.5 154.1 470.9 144.7 460.1 140.2 457.2 142.5 453.0 149.7 450.5 155.1ZM485.7 217.7L483.3 221.2 483.2 225.7 490.0 239.1 490.0 215.5ZM382.8 400.9L378.9 408.2 376.3 420.0 376.6 422.9 385.5 428.7 395.6 433.6 402.0 435.0 403.7 434.4 407.4 431.4 411.3 425.9 411.4 421.9 409.7 417.1 406.2 411.4 401.0 404.8 396.2 400.2 392.1 397.7 388.5 397.1Z"/>
<path fill="#CA3EB2" d="M398.0 186.1L395.6 179.3 378.3 180.0 365.3 181.7 361.5 196.0 368.4 196.1 389.9 192.8 397.2 190.0ZM390.7 172.5L387.0 170.4 377.1 169.3 372.6 170.9 369.0 174.1 366.0 179.5 372.3 180.0 394.4 176.9Z"/>
<path fill="#D952C1" d="M475.3 192.7L480.2 192.2 490.0 188.4 490.0 161.1 483.7 161.0 478.3 164.0 473.1 169.1 483.5 167.5 485.0 168.1 485.6 170.2 484.1 171.7 470.0 172.4 465.8 177.7 464.6 180.5 464.8 182.5 466.9 186.8 471.5 191.7ZM490.0 417.0L483.5 423.8 481.6 428.5 482.7 432.6 486.8 436.1 490.0 437.3ZM474.1 433.2L475.5 451.0 478.0 461.3 481.9 466.4 484.8 467.4 490.0 467.2 490.0 439.3ZM377.6 470.8L371.0 474.9 367.5 478.2 365.2 482.0 398.7 482.0 394.6 475.3 389.5 471.6 383.8 470.0Z"/>
<path fill="#E461CC" d="M333.4 237.7L337.2 234.0 336.9 228.5 335.2 225.1 328.6 217.3 324.0 215.0 318.6 214.6 312.5 216.1 295.1 224.7 309.8 234.6 315.4 237.4 325.4 239.5ZM121.7 264.4L122.2 268.9 124.0 272.7 127.0 275.9 133.3 279.4 136.6 279.7 143.3 277.9 149.4 273.2 154.1 266.4 155.2 259.5 154.3 255.9 152.1 252.9 148.4 250.3 136.9 246.7 131.6 247.0 127.4 249.1 124.3 253.2ZM114.2 438.7L118.2 441.1 124.5 443.0 133.2 444.2 145.8 444.2 149.8 443.0 154.1 438.5 155.6 435.7 157.1 428.7 156.7 421.0 154.4 418.2 146.9 414.9 142.8 415.0 131.8 418.3 124.8 421.5 115.5 428.3 113.3 431.9 112.6 435.6Z"/>
<path fill="#E25ECA" d="M401.4 208.2L408.2 214.2 413.1 216.3 417.7 217.0 421.9 216.2 425.9 214.1 435.0 203.5 427.9 191.0 424.4 187.7 420.1 185.8 415.0 185.1 409.3 185.8 401.5 187.9 398.8 190.9 398.8 199.9Z"/>
<path fill="#E361CB" d="M476.9 203.8L478.5 215.7 490.0 213.5 490.0 190.0 481.6 195.3 478.3 199.4Z"/>
<path fill="#D148B9" d="M12.6 306.6L9.3 304.1 4.2 302.0 -5.0 300.1 -5.0 317.7 8.4 316.6 -0.3 314.5 -1.0 313.6 0.0 312.5 13.5 313.1 14.1 309.5ZM275.9 265.8L272.1 262.2 267.7 259.9 262.7 258.9 258.7 259.6 255.7 261.9 253.7 265.8 252.7 271.4 253.4 276.7 255.9 282.0 260.2 287.1 270.8 294.5 280.0 288.9 282.9 288.9 283.4 287.6 283.4 282.9 282.0 277.3ZM71.3 352.4L64.7 349.4 59.0 351.0 52.0 358.2 51.6 362.1 52.8 366.9 55.7 372.6 64.0 384.1 69.1 388.9 70.5 388.8 74.5 384.8 80.3 375.7 81.7 370.6 81.3 365.6 79.1 360.7ZM460.0 380.8L456.6 379.6 447.2 378.6 438.9 380.8 435.8 383.4 431.8 390.4 431.0 394.0 431.7 401.6 434.0 404.3 437.7 405.8 442.9 406.1 454.9 403.5 459.2 401.1 462.2 397.9 465.0 390.3 464.3 384.6ZM73.9 471.7L78.5 469.8 83.8 465.0 89.9 457.3 93.0 450.8 92.9 445.2 89.8 440.7 83.7 437.2 78.5 434.7 71.1 432.8 65.0 434.8 63.2 451.8 63.6 457.8 67.0 467.3 70.1 470.9ZM484.0 482.0L490.0 482.0 490.0 470.2 486.4 473.5 484.6 477.2Z"/>
<path fill="#D149B9" d="M114.3 327.2L117.3 317.1 116.0 313.5 112.8 310.1 107.7 307.0 100.7 304.0 94.7 303.2 89.7 304.4 85.6 307.8 79.2 321.4 85.6 321.5 111.6 330.6ZM85.0 330.5L96.6 333.5 102.1 334.0 109.7 332.3 95.7 330.5 79.8 327.2Z"/>
<path fill="#DD59C5" d="M411.8 288.6L408.1 294.5 409.0 298.0 415.6 306.2 419.4 307.1 424.0 305.9 429.5 302.5 435.8 296.9 439.5 291.6 440.4 286.7 438.3 281.5 419.9 281.3 418.1 281.5Z"/>
<path fill="#CC41B4" d="M12.7 382.0L9.5 377.7 4.3 375.1 -5.0 373.8 -5.0 404.0 3.8 405.4 8.5 404.0 11.7 400.6 12.6 397.9 0.0 398.3 -2.8 396.2 -2.5 394.0 -0.7 392.7 13.7 393.2 14.1 387.8Z"/>
<path fill="#E15DC9" d="M103.2 409.7L96.5 405.7 92.9 405.5 89.4 406.9 82.8 414.9 79.8 421.3 79.1 427.1 80.7 432.1 84.6 436.3 96.0 442.5 103.1 444.8 106.6 444.2 109.5 442.4 112.2 431.8 111.0 423.2 106.2 413.5ZM343.6 443.0L350.0 446.4 354.0 446.7 358.1 445.5 366.1 438.8 374.8 425.5 375.1 422.4 369.2 420.2 356.5 417.7 350.5 417.6 345.8 418.8 342.3 421.1 339.0 428.4 339.5 436.0Z"/>
<path fill="#E05DC8" d="M61.5 440.3L58.9 437.0 54.6 435.5 48.6 435.6 38.2 438.6 33.6 441.6 26.9 449.0 25.6 452.4 25.9 455.6 27.5 458.5 30.7 460.6 35.4 461.9 49.5 462.1 55.5 460.2 59.7 456.8 62.0 451.8 62.6 445.2Z"/>
<path fill="#CC42B4" d="M144.0 470.5L144.3 477.6 155.3 481.9 159.4 481.3 163.5 478.9 167.6 474.6 178.0 458.9 159.7 443.5 155.9 442.0 152.8 442.2 150.6 444.1 147.0 451.9Z"/>
<path fill="#E765CF" d="M326.2 429.0L317.8 431.7 308.4 439.7 303.0 447.0 302.4 449.6 303.1 451.6 305.4 453.5 314.8 457.0 321.8 458.7 327.7 459.0 332.5 457.9 336.2 455.6 338.8 451.9 340.8 444.3 340.2 440.4 336.2 433.5 333.4 431.2Z"/>
<path fill="#CE44B6" d="M331.3 482.0L334.2 474.3 333.4 467.5 331.0 464.5 327.1 461.9 314.6 458.2 308.8 458.1 304.3 459.6 301.0 462.7 299.0 467.4 298.3 472.0 298.9 476.4 301.9 482.0Z"/>
<path fill="#C93DB1" d="M300.7 482.0L296.2 478.5 291.8 477.1 286.7 477.1 281.1 478.4 274.4 482.0Z"/>
</g>
<g fill="#3C2C82" opacity="0.85"><ellipse cx="178.6" cy="174.7" rx="2.1" ry="1.2" transform="rotate(60 178.6 174.7)"/><ellipse cx="316.1" cy="125.8" rx="2.8" ry="1.3" transform="rotate(34 316.1 125.8)"/><ellipse cx="93.1" cy="141.3" rx="1.7" ry="1.1" transform="rotate(144 93.1 141.3)"/><ellipse cx="176.4" cy="96.3" rx="2.4" ry="1.4" transform="rotate(134 176.4 96.3)"/><ellipse cx="402.0" cy="72.5" rx="2.5" ry="1.3" transform="rotate(69 402.0 72.5)"/><ellipse cx="232.5" cy="50.9" rx="2.3" ry="1.1" transform="rotate(152 232.5 50.9)"/><ellipse cx="462.7" cy="221.0" rx="2.6" ry="1.1" transform="rotate(25 462.7 221.0)"/><ellipse cx="164.3" cy="347.8" rx="1.9" ry="0.9" transform="rotate(53 164.3 347.8)"/><ellipse cx="254.1" cy="77.6" rx="2.7" ry="1.0" transform="rotate(108 254.1 77.6)"/><ellipse cx="216.4" cy="410.3" rx="1.6" ry="1.1" transform="rotate(52 216.4 410.3)"/><ellipse cx="358.4" cy="77.8" rx="2.7" ry="1.4" transform="rotate(178 358.4 77.8)"/><ellipse cx="302.1" cy="184.4" rx="2.5" ry="1.1" transform="rotate(46 302.1 184.4)"/><ellipse cx="126.5" cy="443.3" rx="2.6" ry="1.2" transform="rotate(116 126.5 443.3)"/><ellipse cx="365.1" cy="7.9" rx="1.6" ry="1.3" transform="rotate(86 365.1 7.9)"/><ellipse cx="214.4" cy="48.9" rx="2.4" ry="1.2" transform="rotate(130 214.4 48.9)"/><ellipse cx="99.7" cy="264.9" rx="2.4" ry="0.9" transform="rotate(159 99.7 264.9)"/><ellipse cx="433.6" cy="111.4" rx="2.5" ry="1.2" transform="rotate(7 433.6 111.4)"/><ellipse cx="132.1" cy="221.6" rx="1.9" ry="1.0" transform="rotate(160 132.1 221.6)"/><ellipse cx="245.3" cy="428.5" rx="2.5" ry="1.0" transform="rotate(154 245.3 428.5)"/><ellipse cx="455.4" cy="79.7" rx="1.7" ry="1.0" transform="rotate(157 455.4 79.7)"/><ellipse cx="41.1" cy="315.5" rx="2.6" ry="1.1" transform="rotate(141 41.1 315.5)"/><ellipse cx="217.7" cy="12.6" rx="2.6" ry="1.0" transform="rotate(35 217.7 12.6)"/><ellipse cx="159.3" cy="385.1" rx="2.4" ry="1.2" transform="rotate(80 159.3 385.1)"/><ellipse cx="426.5" cy="241.5" rx="1.7" ry="1.3" transform="rotate(133 426.5 241.5)"/><ellipse cx="483.5" cy="218.5" rx="2.4" ry="1.2" transform="rotate(27 483.5 218.5)"/><ellipse cx="295.2" cy="219.3" rx="1.9" ry="1.3" transform="rotate(105 295.2 219.3)"/><ellipse cx="219.0" cy="151.1" rx="1.7" ry="1.2" transform="rotate(65 219.0 151.1)"/><ellipse cx="230.3" cy="438.4" rx="1.9" ry="0.9" transform="rotate(46 230.3 438.4)"/><ellipse cx="244.2" cy="367.3" rx="2.7" ry="1.3" transform="rotate(110 244.2 367.3)"/><ellipse cx="154.1" cy="183.2" rx="2.0" ry="1.0" transform="rotate(105 154.1 183.2)"/><ellipse cx="354.2" cy="92.5" rx="2.6" ry="0.9" transform="rotate(29 354.2 92.5)"/><ellipse cx="381.4" cy="129.9" rx="1.9" ry="0.9" transform="rotate(80 381.4 129.9)"/><ellipse cx="12.9" cy="48.2" rx="2.6" ry="1.4" transform="rotate(132 12.9 48.2)"/><ellipse cx="357.5" cy="134.8" rx="2.4" ry="0.9" transform="rotate(25 357.5 134.8)"/><ellipse cx="344.3" cy="7.6" rx="1.8" ry="1.0" transform="rotate(26 344.3 7.6)"/><ellipse cx="362.9" cy="450.2" rx="2.3" ry="1.2" transform="rotate(0 362.9 450.2)"/><ellipse cx="279.2" cy="162.0" rx="2.0" ry="1.4" transform="rotate(133 279.2 162.0)"/><ellipse cx="454.0" cy="238.1" rx="1.8" ry="1.1" transform="rotate(139 454.0 238.1)"/><ellipse cx="317.4" cy="215.9" rx="1.9" ry="1.0" transform="rotate(133 317.4 215.9)"/><ellipse cx="227.3" cy="426.3" rx="2.7" ry="1.1" transform="rotate(142 227.3 426.3)"/><ellipse cx="368.1" cy="136.0" rx="2.4" ry="1.3" transform="rotate(7 368.1 136.0)"/><ellipse cx="88.2" cy="130.2" rx="2.1" ry="1.3" transform="rotate(15 88.2 130.2)"/><ellipse cx="187.1" cy="41.6" rx="1.8" ry="1.4" transform="rotate(48 187.1 41.6)"/><ellipse cx="385.1" cy="345.9" rx="2.2" ry="1.0" transform="rotate(29 385.1 345.9)"/><ellipse cx="422.1" cy="203.2" rx="2.7" ry="1.4" transform="rotate(45 422.1 203.2)"/><ellipse cx="45.8" cy="221.2" rx="2.6" ry="1.0" transform="rotate(94 45.8 221.2)"/><ellipse cx="290.0" cy="171.6" rx="2.4" ry="1.1" transform="rotate(118 290.0 171.6)"/><ellipse cx="335.1" cy="237.7" rx="2.5" ry="1.2" transform="rotate(159 335.1 237.7)"/><ellipse cx="237.5" cy="372.3" rx="1.6" ry="1.1" transform="rotate(149 237.5 372.3)"/><ellipse cx="343.7" cy="307.2" rx="2.1" ry="1.2" transform="rotate(84 343.7 307.2)"/><ellipse cx="287.5" cy="244.9" rx="2.0" ry="1.0" transform="rotate(8 287.5 244.9)"/><ellipse cx="139.2" cy="172.1" rx="1.9" ry="1.2" transform="rotate(63 139.2 172.1)"/><ellipse cx="450.6" cy="369.3" rx="1.6" ry="1.1" transform="rotate(14 450.6 369.3)"/><ellipse cx="105.9" cy="375.0" rx="1.6" ry="1.1" transform="rotate(5 105.9 375.0)"/><ellipse cx="421.4" cy="34.3" rx="2.8" ry="1.3" transform="rotate(73 421.4 34.3)"/><ellipse cx="202.0" cy="287.1" rx="1.9" ry="1.1" transform="rotate(31 202.0 287.1)"/><ellipse cx="244.3" cy="380.6" rx="1.9" ry="1.0" transform="rotate(33 244.3 380.6)"/><ellipse cx="264.8" cy="130.2" rx="2.2" ry="0.9" transform="rotate(155 264.8 130.2)"/><ellipse cx="191.2" cy="375.4" rx="2.1" ry="1.1" transform="rotate(128 191.2 375.4)"/><ellipse cx="203.3" cy="164.7" rx="2.3" ry="1.0" transform="rotate(174 203.3 164.7)"/><ellipse cx="449.2" cy="470.4" rx="1.9" ry="1.2" transform="rotate(56 449.2 470.4)"/><ellipse cx="295.6" cy="445.6" rx="2.0" ry="1.0" transform="rotate(103 295.6 445.6)"/><ellipse cx="119.7" cy="45.8" rx="2.2" ry="1.0" transform="rotate(39 119.7 45.8)"/><ellipse cx="271.5" cy="75.4" rx="2.8" ry="1.4" transform="rotate(58 271.5 75.4)"/><ellipse cx="35.6" cy="368.1" rx="2.3" ry="1.2" transform="rotate(60 35.6 368.1)"/><ellipse cx="245.9" cy="320.0" rx="2.7" ry="1.0" transform="rotate(6 245.9 320.0)"/><ellipse cx="228.2" cy="210.5" rx="1.9" ry="1.3" transform="rotate(77 228.2 210.5)"/><ellipse cx="29.9" cy="56.4" rx="1.6" ry="1.0" transform="rotate(83 29.9 56.4)"/><ellipse cx="190.8" cy="400.3" rx="2.0" ry="0.9" transform="rotate(76 190.8 400.3)"/><ellipse cx="262.2" cy="415.1" rx="2.5" ry="1.0" transform="rotate(135 262.2 415.1)"/><ellipse cx="476.6" cy="410.7" rx="2.4" ry="1.1" transform="rotate(139 476.6 410.7)"/><ellipse cx="461.8" cy="469.3" rx="1.7" ry="1.2" transform="rotate(79 461.8 469.3)"/><ellipse cx="104.3" cy="331.1" rx="2.7" ry="1.3" transform="rotate(23 104.3 331.1)"/><ellipse cx="340.1" cy="434.3" rx="2.7" ry="1.3" transform="rotate(1 340.1 434.3)"/><ellipse cx="229.9" cy="424.2" rx="2.6" ry="1.3" transform="rotate(136 229.9 424.2)"/><ellipse cx="205.0" cy="286.6" rx="1.7" ry="1.3" transform="rotate(64 205.0 286.6)"/><ellipse cx="206.9" cy="92.9" rx="2.1" ry="1.1" transform="rotate(105 206.9 92.9)"/><ellipse cx="295.4" cy="284.1" rx="2.0" ry="1.2" transform="rotate(112 295.4 284.1)"/><ellipse cx="197.8" cy="468.0" rx="1.6" ry="1.2" transform="rotate(10 197.8 468.0)"/><ellipse cx="78.0" cy="354.9" rx="2.3" ry="1.0" transform="rotate(98 78.0 354.9)"/><ellipse cx="39.2" cy="110.9" rx="2.0" ry="1.2" transform="rotate(9 39.2 110.9)"/><ellipse cx="458.0" cy="186.0" rx="1.6" ry="0.9" transform="rotate(149 458.0 186.0)"/><ellipse cx="430.3" cy="322.4" rx="1.9" ry="1.2" transform="rotate(172 430.3 322.4)"/><ellipse cx="123.4" cy="159.3" rx="2.4" ry="1.1" transform="rotate(103 123.4 159.3)"/><ellipse cx="236.4" cy="417.0" rx="2.3" ry="1.3" transform="rotate(168 236.4 417.0)"/><ellipse cx="25.3" cy="89.8" rx="2.6" ry="1.4" transform="rotate(53 25.3 89.8)"/><ellipse cx="336.7" cy="473.6" rx="2.0" ry="1.3" transform="rotate(3 336.7 473.6)"/><ellipse cx="206.2" cy="21.7" rx="2.7" ry="1.2" transform="rotate(32 206.2 21.7)"/><ellipse cx="369.6" cy="473.2" rx="2.4" ry="1.2" transform="rotate(173 369.6 473.2)"/><ellipse cx="198.5" cy="189.3" rx="2.8" ry="1.3" transform="rotate(124 198.5 189.3)"/><ellipse cx="213.9" cy="278.8" rx="2.3" ry="1.4" transform="rotate(74 213.9 278.8)"/><ellipse cx="61.8" cy="116.5" rx="2.0" ry="1.4" transform="rotate(101 61.8 116.5)"/><ellipse cx="161.1" cy="433.3" rx="1.8" ry="1.0" transform="rotate(40 161.1 433.3)"/><ellipse cx="174.7" cy="190.6" rx="2.2" ry="1.4" transform="rotate(64 174.7 190.6)"/><ellipse cx="272.5" cy="164.5" rx="2.6" ry="1.2" transform="rotate(26 272.5 164.5)"/><ellipse cx="219.2" cy="429.0" rx="2.7" ry="1.1" transform="rotate(97 219.2 429.0)"/><ellipse cx="103.0" cy="73.1" rx="1.8" ry="0.9" transform="rotate(147 103.0 73.1)"/><ellipse cx="327.8" cy="396.8" rx="2.1" ry="1.3" transform="rotate(36 327.8 396.8)"/><ellipse cx="251.7" cy="446.2" rx="1.6" ry="0.9" transform="rotate(60 251.7 446.2)"/><ellipse cx="458.1" cy="419.1" rx="2.0" ry="1.0" transform="rotate(17 458.1 419.1)"/><ellipse cx="455.5" cy="230.6" rx="2.3" ry="1.3" transform="rotate(34 455.5 230.6)"/><ellipse cx="9.9" cy="27.8" rx="1.6" ry="0.9" transform="rotate(148 9.9 27.8)"/><ellipse cx="440.3" cy="261.7" rx="2.0" ry="1.3" transform="rotate(19 440.3 261.7)"/><ellipse cx="63.0" cy="436.2" rx="2.6" ry="1.1" transform="rotate(4 63.0 436.2)"/><ellipse cx="360.0" cy="157.1" rx="1.7" ry="1.2" transform="rotate(92 360.0 157.1)"/><ellipse cx="41.7" cy="325.2" rx="2.1" ry="1.0" transform="rotate(22 41.7 325.2)"/><ellipse cx="343.6" cy="48.4" rx="2.7" ry="1.4" transform="rotate(17 343.6 48.4)"/><ellipse cx="390.0" cy="37.6" rx="2.7" ry="1.0" transform="rotate(138 390.0 37.6)"/><ellipse cx="392.2" cy="194.3" rx="2.2" ry="1.0" transform="rotate(30 392.2 194.3)"/><ellipse cx="227.3" cy="140.4" rx="1.8" ry="1.4" transform="rotate(114 227.3 140.4)"/><ellipse cx="381.4" cy="315.7" rx="2.2" ry="1.4" transform="rotate(84 381.4 315.7)"/><ellipse cx="129.7" cy="59.5" rx="2.5" ry="1.2" transform="rotate(62 129.7 59.5)"/><ellipse cx="178.9" cy="91.0" rx="2.7" ry="1.3" transform="rotate(7 178.9 91.0)"/><ellipse cx="70.8" cy="241.5" rx="2.8" ry="1.3" transform="rotate(67 70.8 241.5)"/><ellipse cx="484.5" cy="63.3" rx="2.0" ry="1.1" transform="rotate(86 484.5 63.3)"/><ellipse cx="410.9" cy="46.6" rx="2.6" ry="1.2" transform="rotate(178 410.9 46.6)"/><ellipse cx="56.5" cy="265.1" rx="2.7" ry="1.3" transform="rotate(5 56.5 265.1)"/><ellipse cx="461.7" cy="335.6" rx="2.8" ry="1.0" transform="rotate(113 461.7 335.6)"/><ellipse cx="257.2" cy="25.9" rx="2.0" ry="0.9" transform="rotate(134 257.2 25.9)"/><ellipse cx="205.3" cy="197.2" rx="2.8" ry="1.2" transform="rotate(99 205.3 197.2)"/><ellipse cx="96.2" cy="99.4" rx="2.7" ry="1.0" transform="rotate(61 96.2 99.4)"/><ellipse cx="30.5" cy="91.6" rx="2.6" ry="0.9" transform="rotate(153 30.5 91.6)"/><ellipse cx="173.3" cy="393.1" rx="2.3" ry="1.2" transform="rotate(28 173.3 393.1)"/><ellipse cx="397.3" cy="213.1" rx="2.2" ry="1.0" transform="rotate(61 397.3 213.1)"/><ellipse cx="360.4" cy="64.1" rx="2.5" ry="1.0" transform="rotate(19 360.4 64.1)"/><ellipse cx="22.3" cy="383.6" rx="2.1" ry="1.2" transform="rotate(142 22.3 383.6)"/><ellipse cx="106.9" cy="92.8" rx="1.9" ry="1.1" transform="rotate(55 106.9 92.8)"/><ellipse cx="236.1" cy="37.6" rx="2.1" ry="1.2" transform="rotate(13 236.1 37.6)"/><ellipse cx="133.4" cy="223.8" rx="1.7" ry="1.1" transform="rotate(101 133.4 223.8)"/><ellipse cx="126.9" cy="417.8" rx="2.0" ry="1.3" transform="rotate(23 126.9 417.8)"/><ellipse cx="216.6" cy="197.6" rx="2.5" ry="1.2" transform="rotate(126 216.6 197.6)"/><ellipse cx="206.5" cy="120.5" rx="2.3" ry="1.3" transform="rotate(24 206.5 120.5)"/><ellipse cx="119.6" cy="185.7" rx="1.9" ry="1.0" transform="rotate(114 119.6 185.7)"/><ellipse cx="208.1" cy="357.3" rx="2.3" ry="1.2" transform="rotate(40 208.1 357.3)"/><ellipse cx="308.3" cy="236.7" rx="1.9" ry="0.9" transform="rotate(157 308.3 236.7)"/><ellipse cx="155.3" cy="372.2" rx="2.7" ry="1.3" transform="rotate(120 155.3 372.2)"/><ellipse cx="150.1" cy="402.1" rx="2.4" ry="1.2" transform="rotate(12 150.1 402.1)"/><ellipse cx="240.5" cy="338.5" rx="2.0" ry="1.1" transform="rotate(86 240.5 338.5)"/><ellipse cx="295.3" cy="42.9" rx="2.2" ry="1.1" transform="rotate(27 295.3 42.9)"/><ellipse cx="417.5" cy="358.6" rx="2.6" ry="1.2" transform="rotate(114 417.5 358.6)"/><ellipse cx="98.3" cy="131.3" rx="2.2" ry="1.2" transform="rotate(53 98.3 131.3)"/><ellipse cx="181.0" cy="432.5" rx="1.6" ry="1.4" transform="rotate(77 181.0 432.5)"/><ellipse cx="471.6" cy="464.6" rx="2.6" ry="1.1" transform="rotate(56 471.6 464.6)"/><ellipse cx="324.8" cy="106.2" rx="2.8" ry="1.4" transform="rotate(32 324.8 106.2)"/><ellipse cx="245.4" cy="307.4" rx="2.1" ry="1.0" transform="rotate(142 245.4 307.4)"/><ellipse cx="3.3" cy="46.9" rx="2.2" ry="1.1" transform="rotate(176 3.3 46.9)"/><ellipse cx="313.5" cy="175.0" rx="2.2" ry="1.2" transform="rotate(34 313.5 175.0)"/><ellipse cx="91.3" cy="460.7" rx="2.0" ry="0.9" transform="rotate(56 91.3 460.7)"/><ellipse cx="46.4" cy="237.3" rx="2.7" ry="0.9" transform="rotate(25 46.4 237.3)"/><ellipse cx="89.3" cy="67.9" rx="2.5" ry="1.3" transform="rotate(17 89.3 67.9)"/><ellipse cx="324.9" cy="347.4" rx="1.6" ry="1.0" transform="rotate(133 324.9 347.4)"/><ellipse cx="29.0" cy="249.3" rx="2.6" ry="1.0" transform="rotate(95 29.0 249.3)"/><ellipse cx="458.8" cy="235.6" rx="1.7" ry="1.2" transform="rotate(114 458.8 235.6)"/><ellipse cx="25.9" cy="42.6" rx="1.7" ry="1.3" transform="rotate(128 25.9 42.6)"/><ellipse cx="321.5" cy="61.3" rx="2.3" ry="1.0" transform="rotate(158 321.5 61.3)"/><ellipse cx="464.4" cy="395.2" rx="1.8" ry="1.0" transform="rotate(102 464.4 395.2)"/><ellipse cx="405.6" cy="153.7" rx="2.1" ry="1.0" transform="rotate(90 405.6 153.7)"/><ellipse cx="390.8" cy="460.3" rx="2.1" ry="1.2" transform="rotate(86 390.8 460.3)"/><ellipse cx="81.0" cy="304.7" rx="2.3" ry="1.3" transform="rotate(157 81.0 304.7)"/><ellipse cx="484.9" cy="65.3" rx="1.9" ry="1.3" transform="rotate(92 484.9 65.3)"/><ellipse cx="458.2" cy="281.3" rx="2.4" ry="1.0" transform="rotate(65 458.2 281.3)"/><ellipse cx="293.7" cy="408.2" rx="1.7" ry="1.1" transform="rotate(110 293.7 408.2)"/><ellipse cx="39.0" cy="111.1" rx="2.7" ry="1.0" transform="rotate(60 39.0 111.1)"/><ellipse cx="34.1" cy="137.2" rx="2.0" ry="1.4" transform="rotate(167 34.1 137.2)"/><ellipse cx="79.7" cy="424.7" rx="1.8" ry="1.4" transform="rotate(7 79.7 424.7)"/><ellipse cx="242.1" cy="419.3" rx="2.5" ry="1.2" transform="rotate(0 242.1 419.3)"/><ellipse cx="316.1" cy="433.5" rx="2.4" ry="1.0" transform="rotate(111 316.1 433.5)"/><ellipse cx="211.4" cy="449.4" rx="1.7" ry="0.9" transform="rotate(30 211.4 449.4)"/><ellipse cx="74.4" cy="183.8" rx="2.6" ry="1.3" transform="rotate(91 74.4 183.8)"/><ellipse cx="75.0" cy="376.4" rx="1.8" ry="1.2" transform="rotate(16 75.0 376.4)"/></g>
<g fill="#FAEFF8" opacity="0.9"><circle cx="112.3" cy="263.1" r="1.9"/><circle cx="82.2" cy="145.7" r="2.9"/><circle cx="53.4" cy="386.6" r="3.2"/><circle cx="0.4" cy="16.3" r="1.6"/><circle cx="63.8" cy="337.8" r="2.9"/><circle cx="21.9" cy="260.9" r="2.1"/><circle cx="50.3" cy="25.5" r="2.6"/><circle cx="84.9" cy="231.0" r="2.3"/><circle cx="9.3" cy="450.9" r="2.7"/><circle cx="91.0" cy="264.6" r="2.2"/><circle cx="11.3" cy="81.6" r="2.6"/><circle cx="76.5" cy="87.2" r="1.8"/><circle cx="13.9" cy="416.0" r="2.9"/><circle cx="86.7" cy="339.7" r="2.2"/><circle cx="87.3" cy="74.4" r="2.2"/><circle cx="63.6" cy="402.1" r="3.0"/><circle cx="47.9" cy="457.0" r="2.8"/><circle cx="66.6" cy="246.1" r="2.5"/><circle cx="83.8" cy="332.5" r="2.0"/><circle cx="37.5" cy="375.9" r="1.3"/><circle cx="7.9" cy="188.6" r="1.7"/><circle cx="3.2" cy="54.5" r="2.6"/><circle cx="115.9" cy="289.9" r="2.3"/><circle cx="32.4" cy="214.9" r="2.2"/><circle cx="101.8" cy="69.3" r="3.0"/><circle cx="97.2" cy="25.7" r="2.2"/><circle cx="36.2" cy="404.0" r="1.4"/><circle cx="81.4" cy="143.8" r="2.7"/><circle cx="8.7" cy="354.3" r="2.4"/><circle cx="66.5" cy="321.4" r="2.4"/><circle cx="0.4" cy="119.4" r="2.1"/><circle cx="9.8" cy="338.1" r="2.6"/><circle cx="54.4" cy="389.6" r="2.4"/><circle cx="72.5" cy="426.6" r="1.8"/><circle cx="92.2" cy="469.9" r="1.8"/><circle cx="10.4" cy="195.7" r="3.2"/><circle cx="22.4" cy="284.8" r="2.4"/><circle cx="63.5" cy="105.2" r="3.1"/><circle cx="83.6" cy="12.4" r="2.8"/><circle cx="80.4" cy="234.1" r="1.4"/><circle cx="19.6" cy="21.8" r="1.6"/><circle cx="52.8" cy="283.4" r="2.3"/><circle cx="77.5" cy="327.0" r="3.1"/><circle cx="46.7" cy="39.9" r="1.2"/><circle cx="90.0" cy="95.2" r="3.1"/><circle cx="88.5" cy="258.2" r="3.2"/><circle cx="99.3" cy="391.0" r="2.2"/><circle cx="76.4" cy="433.4" r="1.9"/><circle cx="43.1" cy="261.6" r="2.6"/><circle cx="87.0" cy="19.6" r="2.4"/><circle cx="56.7" cy="101.1" r="3.1"/><circle cx="115.6" cy="353.9" r="2.5"/><circle cx="70.3" cy="261.3" r="2.8"/><circle cx="79.1" cy="33.0" r="2.6"/><circle cx="85.9" cy="170.4" r="3.0"/><circle cx="114.3" cy="465.6" r="3.0"/><circle cx="32.9" cy="302.1" r="2.9"/><circle cx="22.3" cy="378.8" r="2.5"/><circle cx="5.3" cy="33.0" r="2.1"/><circle cx="98.9" cy="216.6" r="1.9"/><circle cx="71.7" cy="141.2" r="3.2"/><circle cx="46.0" cy="295.8" r="2.8"/><circle cx="101.8" cy="78.5" r="2.8"/><circle cx="102.1" cy="349.7" r="2.2"/><circle cx="63.3" cy="398.0" r="2.9"/><circle cx="31.5" cy="124.5" r="2.6"/><circle cx="110.5" cy="339.1" r="2.0"/><circle cx="13.4" cy="257.2" r="1.9"/><circle cx="51.4" cy="211.6" r="1.6"/><circle cx="34.7" cy="213.5" r="2.4"/><circle cx="150.1" cy="41.4" r="2.3"/><circle cx="262.5" cy="49.1" r="3.2"/><circle cx="103.4" cy="0.5" r="3.0"/><circle cx="93.7" cy="17.1" r="2.3"/><circle cx="216.0" cy="3.5" r="2.3"/><circle cx="267.4" cy="35.3" r="1.4"/><circle cx="342.8" cy="30.7" r="2.7"/><circle cx="106.7" cy="41.0" r="3.0"/><circle cx="405.5" cy="28.8" r="2.6"/><circle cx="91.6" cy="36.3" r="2.8"/><circle cx="423.9" cy="47.2" r="1.6"/><circle cx="449.7" cy="55.7" r="1.2"/><circle cx="211.8" cy="31.6" r="2.3"/><circle cx="469.1" cy="26.7" r="2.9"/><circle cx="111.7" cy="57.6" r="2.7"/><circle cx="11.0" cy="56.3" r="3.1"/><circle cx="298.3" cy="58.5" r="2.3"/><circle cx="49.6" cy="7.4" r="1.3"/><circle cx="472.3" cy="37.4" r="2.9"/><circle cx="397.0" cy="17.8" r="1.7"/><circle cx="122.9" cy="10.5" r="2.2"/><circle cx="303.0" cy="59.1" r="2.4"/><circle cx="319.9" cy="19.3" r="3.0"/><circle cx="238.2" cy="31.9" r="2.2"/><circle cx="403.0" cy="30.1" r="1.8"/><circle cx="55.8" cy="11.9" r="2.9"/><circle cx="169.2" cy="37.4" r="2.0"/><circle cx="361.1" cy="42.0" r="2.8"/><circle cx="38.4" cy="33.1" r="2.2"/><circle cx="118.8" cy="30.0" r="1.8"/><circle cx="215.1" cy="129.0" r="1.9"/><circle cx="270.6" cy="168.0" r="2.6"/><circle cx="122.4" cy="205.8" r="3.1"/><circle cx="256.2" cy="149.1" r="2.9"/><circle cx="225.6" cy="192.8" r="2.9"/><circle cx="158.8" cy="143.8" r="1.3"/><circle cx="123.0" cy="215.7" r="1.9"/><circle cx="152.7" cy="181.3" r="2.2"/><circle cx="120.0" cy="218.7" r="1.7"/><circle cx="199.2" cy="121.0" r="2.1"/><circle cx="141.6" cy="177.7" r="1.9"/><circle cx="129.1" cy="144.0" r="1.5"/><circle cx="218.5" cy="194.7" r="2.4"/><circle cx="191.3" cy="148.2" r="2.8"/><circle cx="220.9" cy="192.5" r="2.0"/><circle cx="132.5" cy="241.8" r="2.9"/><circle cx="156.5" cy="157.8" r="1.7"/><circle cx="147.5" cy="239.8" r="2.1"/><circle cx="237.8" cy="248.4" r="2.6"/><circle cx="178.7" cy="180.6" r="2.1"/><circle cx="123.0" cy="208.8" r="2.2"/><circle cx="181.0" cy="231.2" r="2.1"/><circle cx="261.8" cy="180.1" r="1.6"/><circle cx="272.0" cy="248.2" r="2.0"/><circle cx="125.0" cy="159.3" r="2.0"/><circle cx="313.4" cy="159.8" r="2.1"/><circle cx="483.0" cy="167.8" r="1.5"/><circle cx="345.8" cy="201.8" r="1.2"/><circle cx="416.6" cy="388.3" r="2.3"/><circle cx="432.2" cy="181.3" r="2.9"/><circle cx="470.6" cy="196.9" r="1.3"/><circle cx="343.4" cy="201.8" r="1.2"/><circle cx="364.5" cy="343.4" r="1.7"/><circle cx="313.0" cy="222.1" r="2.6"/><circle cx="323.9" cy="233.0" r="2.1"/><circle cx="412.7" cy="252.0" r="1.7"/><circle cx="334.5" cy="370.4" r="1.9"/><circle cx="416.1" cy="176.9" r="1.4"/><circle cx="397.0" cy="210.3" r="3.1"/><circle cx="429.4" cy="217.7" r="1.3"/><circle cx="390.5" cy="340.3" r="1.4"/><circle cx="322.9" cy="187.4" r="1.9"/><circle cx="371.0" cy="303.0" r="2.4"/><circle cx="302.1" cy="180.6" r="2.3"/><circle cx="414.7" cy="340.7" r="2.9"/><circle cx="329.0" cy="214.8" r="1.6"/><circle cx="467.3" cy="301.9" r="2.9"/><circle cx="336.2" cy="355.4" r="2.5"/><circle cx="371.1" cy="201.9" r="3.0"/><circle cx="347.1" cy="384.1" r="1.4"/></g>
</g>
<rect x="494" y="1720" width="112" height="68" fill="#000"/>
<text textLength="68.84" lengthAdjust="spacingAndGlyphs" x="512.0" y="1761.0" font-size="26.6" fill="#fff" stroke="#fff" stroke-width="0.15">50 µm</text>
<rect x="526.5" y="1769.2" width="50.5" height="4.1" fill="#fff"/>
<rect x="994" y="1720" width="112" height="68" fill="#000"/>
<text textLength="68.84" lengthAdjust="spacingAndGlyphs" x="1011.7" y="1761.0" font-size="26.6" fill="#fff" stroke="#fff" stroke-width="0.15">50 µm</text>
<rect x="1026.6" y="1769.2" width="50.5" height="4.1" fill="#fff"/>
<rect x="115" y="1842" width="1016" height="515" fill="#000"/>
<clipPath id="cF1"><rect x="0" y="0" width="481" height="476.4"/></clipPath>
<g transform="translate(130 1863.5)" clip-path="url(#cF1)">
<rect x="0" y="0" width="481" height="476.4" fill="#F4D8EC"/>
<rect x="-40" y="-40" width="561" height="556.4" fill="url(#pf1)" filter="url(#fwarp1)"/>
<g filter="url(#blur20)"><ellipse cx="350" cy="90" rx="140" ry="90" fill="#E2B6DC" opacity="0.6"/><ellipse cx="100" cy="420" rx="120" ry="70" fill="#E6C2E0" opacity="0.5"/><ellipse cx="330" cy="420" rx="150" ry="60" fill="#E4BEDE" opacity="0.5"/></g>
<rect x="0" y="0" width="481" height="476.4" fill="#fff" filter="url(#ftex1)"/>
<g fill="#7A2E6E" opacity="0.75"><circle cx="375.7" cy="288.6" r="1.5"/><circle cx="42.9" cy="300.5" r="1.8"/><circle cx="203.7" cy="53.5" r="1.8"/><circle cx="325.1" cy="93.9" r="1.5"/><circle cx="477.5" cy="99.8" r="1.7"/><circle cx="336.2" cy="105.6" r="1.0"/><circle cx="458.9" cy="162.2" r="1.2"/><circle cx="315.6" cy="209.8" r="0.8"/><circle cx="125.2" cy="225.0" r="1.6"/><circle cx="291.7" cy="204.9" r="1.0"/><circle cx="377.4" cy="89.1" r="1.5"/><circle cx="239.3" cy="263.1" r="1.2"/><circle cx="97.6" cy="80.9" r="1.4"/><circle cx="132.8" cy="6.8" r="1.0"/><circle cx="443.1" cy="339.1" r="1.4"/><circle cx="193.2" cy="389.7" r="1.1"/><circle cx="304.5" cy="5.7" r="1.4"/><circle cx="467.8" cy="337.5" r="0.9"/><circle cx="284.5" cy="150.9" r="1.7"/><circle cx="8.7" cy="5.7" r="0.9"/><circle cx="163.2" cy="420.4" r="1.4"/><circle cx="318.6" cy="21.1" r="1.0"/><circle cx="183.1" cy="299.1" r="1.6"/><circle cx="276.4" cy="133.2" r="1.0"/><circle cx="202.8" cy="121.9" r="1.6"/><circle cx="429.6" cy="383.1" r="0.9"/><circle cx="378.6" cy="7.2" r="0.9"/><circle cx="337.1" cy="153.5" r="1.6"/><circle cx="331.1" cy="305.0" r="1.4"/><circle cx="439.2" cy="396.4" r="0.8"/><circle cx="473.7" cy="205.5" r="1.1"/><circle cx="418.2" cy="437.8" r="1.6"/><circle cx="346.2" cy="4.9" r="1.1"/><circle cx="390.6" cy="475.6" r="1.1"/><circle cx="366.0" cy="53.8" r="1.5"/><circle cx="171.5" cy="36.9" r="1.0"/><circle cx="273.1" cy="225.1" r="1.5"/><circle cx="167.6" cy="284.1" r="1.2"/><circle cx="369.5" cy="3.1" r="1.4"/><circle cx="282.6" cy="27.7" r="1.6"/><circle cx="305.2" cy="452.7" r="1.0"/><circle cx="204.4" cy="412.1" r="1.7"/><circle cx="329.6" cy="168.1" r="1.5"/><circle cx="218.5" cy="254.7" r="1.5"/><circle cx="447.3" cy="4.2" r="1.5"/><circle cx="439.9" cy="178.3" r="1.0"/><circle cx="274.1" cy="14.3" r="1.6"/><circle cx="234.8" cy="316.1" r="1.6"/><circle cx="9.4" cy="90.4" r="1.2"/><circle cx="293.3" cy="174.6" r="1.1"/><circle cx="12.1" cy="203.6" r="1.7"/><circle cx="14.4" cy="285.9" r="1.0"/><circle cx="467.4" cy="384.3" r="1.0"/><circle cx="467.1" cy="148.2" r="1.5"/><circle cx="125.9" cy="139.2" r="0.9"/><circle cx="141.4" cy="195.4" r="0.8"/><circle cx="5.6" cy="5.0" r="1.7"/><circle cx="199.5" cy="436.6" r="1.3"/><circle cx="268.9" cy="177.2" r="1.6"/><circle cx="165.1" cy="384.8" r="1.2"/><circle cx="61.2" cy="198.9" r="0.8"/><circle cx="186.3" cy="184.3" r="1.5"/><circle cx="480.4" cy="74.1" r="1.4"/><circle cx="402.7" cy="324.9" r="1.0"/><circle cx="201.9" cy="444.5" r="1.3"/><circle cx="325.2" cy="147.1" r="1.6"/><circle cx="270.4" cy="374.8" r="1.1"/><circle cx="111.7" cy="86.1" r="1.4"/><circle cx="38.0" cy="164.6" r="1.5"/><circle cx="133.6" cy="123.7" r="1.0"/><circle cx="227.7" cy="360.3" r="1.1"/><circle cx="256.0" cy="471.9" r="1.3"/><circle cx="129.8" cy="399.6" r="1.7"/><circle cx="359.0" cy="155.0" r="1.3"/><circle cx="154.6" cy="439.6" r="0.8"/><circle cx="420.5" cy="124.5" r="0.9"/><circle cx="403.9" cy="377.3" r="0.8"/><circle cx="141.8" cy="44.8" r="1.5"/><circle cx="434.8" cy="138.8" r="1.2"/><circle cx="15.9" cy="47.9" r="0.9"/><circle cx="348.3" cy="98.8" r="1.3"/><circle cx="130.2" cy="247.6" r="1.4"/><circle cx="166.8" cy="125.5" r="1.7"/><circle cx="449.8" cy="222.6" r="1.2"/><circle cx="249.3" cy="258.1" r="1.8"/><circle cx="208.5" cy="163.6" r="1.7"/><circle cx="312.0" cy="63.9" r="1.3"/><circle cx="393.7" cy="269.0" r="1.1"/><circle cx="174.5" cy="347.7" r="1.4"/><circle cx="7.7" cy="152.9" r="1.5"/><circle cx="29.5" cy="191.5" r="1.4"/><circle cx="145.6" cy="326.8" r="0.9"/><circle cx="449.7" cy="360.3" r="1.7"/><circle cx="251.1" cy="221.8" r="1.1"/><circle cx="48.4" cy="246.3" r="1.1"/><circle cx="415.8" cy="78.1" r="0.8"/><circle cx="379.3" cy="467.1" r="1.2"/><circle cx="418.9" cy="342.4" r="1.6"/><circle cx="283.5" cy="241.3" r="1.4"/><circle cx="383.3" cy="452.7" r="1.7"/><circle cx="352.6" cy="443.1" r="0.8"/><circle cx="5.2" cy="121.3" r="0.8"/><circle cx="269.3" cy="94.2" r="1.7"/><circle cx="46.2" cy="368.2" r="0.9"/><circle cx="451.5" cy="173.3" r="1.1"/><circle cx="154.4" cy="335.9" r="1.7"/><circle cx="322.0" cy="67.0" r="1.2"/><circle cx="234.3" cy="130.0" r="1.7"/><circle cx="340.1" cy="334.2" r="1.0"/><circle cx="255.4" cy="110.8" r="1.1"/><circle cx="373.5" cy="119.0" r="1.5"/><circle cx="116.1" cy="377.9" r="1.0"/><circle cx="425.1" cy="24.7" r="1.0"/><circle cx="316.1" cy="171.2" r="1.0"/><circle cx="72.2" cy="249.1" r="1.1"/><circle cx="434.3" cy="355.8" r="1.3"/><circle cx="313.6" cy="106.6" r="1.2"/><circle cx="388.4" cy="430.0" r="0.9"/><circle cx="154.1" cy="368.5" r="1.1"/><circle cx="162.8" cy="46.6" r="1.6"/><circle cx="53.1" cy="321.5" r="0.9"/><circle cx="127.1" cy="441.0" r="0.9"/><circle cx="377.3" cy="103.4" r="1.6"/><circle cx="160.3" cy="256.8" r="1.6"/><circle cx="43.2" cy="180.7" r="1.7"/><circle cx="127.2" cy="270.5" r="1.7"/><circle cx="338.9" cy="436.9" r="1.4"/><circle cx="322.7" cy="30.7" r="1.7"/><circle cx="202.3" cy="254.8" r="1.3"/><circle cx="151.2" cy="456.6" r="1.5"/><circle cx="255.1" cy="72.8" r="1.5"/><circle cx="308.3" cy="451.6" r="1.4"/><circle cx="158.4" cy="298.2" r="0.9"/><circle cx="109.3" cy="273.4" r="1.4"/><circle cx="464.6" cy="17.7" r="1.7"/><circle cx="195.2" cy="14.8" r="1.2"/><circle cx="288.0" cy="175.7" r="1.2"/><circle cx="392.3" cy="202.4" r="1.8"/><circle cx="124.5" cy="46.9" r="1.3"/><circle cx="350.8" cy="167.0" r="1.0"/><circle cx="270.3" cy="391.1" r="1.4"/><circle cx="288.8" cy="188.6" r="1.5"/><circle cx="365.6" cy="37.5" r="1.8"/><circle cx="208.0" cy="218.5" r="1.3"/><circle cx="352.4" cy="224.4" r="1.4"/><circle cx="143.3" cy="121.0" r="1.3"/><circle cx="57.6" cy="22.3" r="1.5"/><circle cx="69.7" cy="297.3" r="1.7"/><circle cx="400.9" cy="50.8" r="1.3"/><circle cx="265.1" cy="164.6" r="1.2"/><circle cx="460.3" cy="75.1" r="1.6"/><circle cx="376.0" cy="87.7" r="1.2"/><circle cx="252.6" cy="430.7" r="0.8"/><circle cx="430.6" cy="26.9" r="1.1"/><circle cx="1.6" cy="461.8" r="1.8"/><circle cx="208.6" cy="338.1" r="0.9"/><circle cx="266.7" cy="165.9" r="1.4"/><circle cx="147.7" cy="316.9" r="1.3"/><circle cx="237.0" cy="233.9" r="1.1"/><circle cx="245.1" cy="342.2" r="1.4"/><circle cx="64.8" cy="314.9" r="1.0"/><circle cx="312.0" cy="352.6" r="1.4"/><circle cx="380.4" cy="194.6" r="1.8"/><circle cx="426.3" cy="252.7" r="1.1"/><circle cx="449.9" cy="274.8" r="0.9"/><circle cx="197.3" cy="56.4" r="1.3"/><circle cx="126.5" cy="73.6" r="1.6"/><circle cx="150.5" cy="455.7" r="1.5"/><circle cx="185.6" cy="139.3" r="0.9"/><circle cx="169.0" cy="264.0" r="0.8"/><circle cx="275.4" cy="101.2" r="1.0"/><circle cx="73.7" cy="137.9" r="1.4"/><circle cx="124.5" cy="319.9" r="1.3"/><circle cx="170.6" cy="457.7" r="1.7"/><circle cx="97.6" cy="222.4" r="1.4"/><circle cx="167.2" cy="175.5" r="1.8"/><circle cx="284.8" cy="445.9" r="1.1"/><circle cx="311.5" cy="260.3" r="1.6"/><circle cx="105.3" cy="17.9" r="1.6"/><circle cx="428.5" cy="21.6" r="1.7"/><circle cx="230.1" cy="35.7" r="1.1"/><circle cx="81.5" cy="249.2" r="1.8"/><circle cx="190.1" cy="328.0" r="1.1"/><circle cx="64.4" cy="466.4" r="1.7"/><circle cx="47.6" cy="119.6" r="1.3"/><circle cx="358.4" cy="146.3" r="0.9"/><circle cx="129.5" cy="268.9" r="1.7"/><circle cx="9.4" cy="339.0" r="1.4"/><circle cx="158.8" cy="221.8" r="0.8"/><circle cx="235.6" cy="366.5" r="1.1"/><circle cx="269.9" cy="320.7" r="0.9"/><circle cx="202.0" cy="138.5" r="1.0"/><circle cx="287.3" cy="21.7" r="1.3"/><circle cx="347.9" cy="102.4" r="0.8"/><circle cx="415.3" cy="406.5" r="1.1"/><circle cx="408.8" cy="107.8" r="1.0"/><circle cx="342.4" cy="62.3" r="1.2"/><circle cx="311.8" cy="124.7" r="0.8"/><circle cx="437.6" cy="154.4" r="1.1"/><circle cx="249.9" cy="396.6" r="1.2"/><circle cx="254.8" cy="373.4" r="1.8"/><circle cx="299.9" cy="389.3" r="1.0"/><circle cx="110.2" cy="49.6" r="1.1"/><circle cx="112.2" cy="388.1" r="1.8"/><circle cx="53.3" cy="312.8" r="1.8"/><circle cx="444.4" cy="100.3" r="1.4"/><circle cx="330.0" cy="8.4" r="0.9"/><circle cx="347.7" cy="243.3" r="1.5"/><circle cx="53.2" cy="93.1" r="1.6"/><circle cx="185.2" cy="233.3" r="1.6"/><circle cx="40.2" cy="55.3" r="1.3"/><circle cx="313.6" cy="157.4" r="1.3"/><circle cx="362.0" cy="412.2" r="1.1"/><circle cx="352.8" cy="102.6" r="1.3"/><circle cx="354.8" cy="152.2" r="1.4"/><circle cx="129.8" cy="296.7" r="1.3"/><circle cx="202.9" cy="61.0" r="1.2"/><circle cx="378.8" cy="81.8" r="1.6"/><circle cx="396.1" cy="438.7" r="1.3"/><circle cx="245.9" cy="229.2" r="1.4"/><circle cx="419.2" cy="266.4" r="1.4"/><circle cx="375.0" cy="146.7" r="0.8"/><circle cx="447.3" cy="183.3" r="1.3"/><circle cx="227.2" cy="337.1" r="1.0"/><circle cx="123.3" cy="112.3" r="1.5"/><circle cx="207.8" cy="474.9" r="1.7"/><circle cx="465.2" cy="99.6" r="1.0"/><circle cx="366.2" cy="308.5" r="1.1"/><circle cx="186.8" cy="7.7" r="1.8"/><circle cx="52.2" cy="382.6" r="1.3"/><circle cx="348.3" cy="36.6" r="1.3"/><circle cx="225.9" cy="333.5" r="0.9"/><circle cx="450.6" cy="472.8" r="1.0"/><circle cx="41.7" cy="256.2" r="1.2"/><circle cx="309.4" cy="468.7" r="1.5"/><circle cx="347.6" cy="427.1" r="1.4"/><circle cx="159.6" cy="66.8" r="1.1"/><circle cx="289.2" cy="112.6" r="1.1"/><circle cx="332.3" cy="383.2" r="1.1"/><circle cx="451.6" cy="368.4" r="1.2"/><circle cx="224.7" cy="64.3" r="1.6"/><circle cx="439.2" cy="378.3" r="0.9"/><circle cx="453.2" cy="165.9" r="1.4"/><circle cx="140.9" cy="162.7" r="1.1"/><circle cx="5.3" cy="265.8" r="1.3"/><circle cx="314.5" cy="185.1" r="1.8"/><circle cx="345.6" cy="357.6" r="1.1"/><circle cx="442.8" cy="362.9" r="1.5"/><circle cx="23.4" cy="253.4" r="0.8"/><circle cx="79.9" cy="329.4" r="1.2"/><circle cx="393.4" cy="390.9" r="0.9"/><circle cx="109.6" cy="327.7" r="1.3"/><circle cx="419.7" cy="414.4" r="1.6"/><circle cx="329.0" cy="118.1" r="1.2"/><circle cx="3.3" cy="329.3" r="0.9"/><circle cx="172.4" cy="4.4" r="0.9"/><circle cx="366.7" cy="133.8" r="1.4"/><circle cx="177.2" cy="245.3" r="1.8"/><circle cx="168.6" cy="176.9" r="1.7"/><circle cx="200.8" cy="377.2" r="1.6"/><circle cx="103.5" cy="114.0" r="1.6"/><circle cx="337.8" cy="171.4" r="1.0"/><circle cx="98.4" cy="367.8" r="1.5"/><circle cx="156.0" cy="80.6" r="1.5"/><circle cx="224.2" cy="282.9" r="1.1"/><circle cx="140.4" cy="160.8" r="1.3"/><circle cx="309.4" cy="10.9" r="0.8"/><circle cx="222.2" cy="378.3" r="1.3"/><circle cx="462.2" cy="94.0" r="1.3"/><circle cx="461.3" cy="411.4" r="0.9"/><circle cx="221.5" cy="125.0" r="1.1"/><circle cx="453.9" cy="265.9" r="1.3"/><circle cx="150.9" cy="403.6" r="1.3"/><circle cx="450.0" cy="383.9" r="1.7"/><circle cx="35.9" cy="209.7" r="1.6"/><circle cx="212.7" cy="437.9" r="1.2"/><circle cx="366.7" cy="28.8" r="1.5"/><circle cx="209.2" cy="449.7" r="1.5"/><circle cx="371.5" cy="322.0" r="1.8"/><circle cx="37.8" cy="344.9" r="1.7"/><circle cx="47.6" cy="251.4" r="1.1"/><circle cx="298.4" cy="99.6" r="1.2"/><circle cx="286.8" cy="64.0" r="1.5"/><circle cx="68.2" cy="6.3" r="1.4"/><circle cx="240.8" cy="242.2" r="1.1"/><circle cx="333.9" cy="426.5" r="1.6"/><circle cx="352.2" cy="0.1" r="1.7"/><circle cx="47.5" cy="423.8" r="1.2"/><circle cx="305.5" cy="65.4" r="0.8"/><circle cx="280.0" cy="212.7" r="1.1"/><circle cx="296.7" cy="342.7" r="1.1"/><circle cx="397.3" cy="227.0" r="1.8"/><circle cx="311.6" cy="425.1" r="1.0"/><circle cx="219.8" cy="10.0" r="1.3"/><circle cx="392.2" cy="403.9" r="1.6"/><circle cx="284.6" cy="442.7" r="1.5"/><circle cx="253.2" cy="89.6" r="1.5"/><circle cx="454.0" cy="47.3" r="1.2"/><circle cx="406.5" cy="287.3" r="1.4"/><circle cx="236.9" cy="5.3" r="1.4"/><circle cx="271.4" cy="390.7" r="1.4"/><circle cx="291.8" cy="294.3" r="1.0"/><circle cx="211.6" cy="365.6" r="0.9"/><circle cx="409.2" cy="418.1" r="1.1"/><circle cx="151.1" cy="449.5" r="1.1"/><circle cx="333.9" cy="333.7" r="1.8"/><circle cx="132.6" cy="337.6" r="1.7"/><circle cx="454.9" cy="214.5" r="1.3"/><circle cx="362.0" cy="321.2" r="1.3"/><circle cx="365.8" cy="129.1" r="1.4"/><circle cx="290.0" cy="401.2" r="1.7"/><circle cx="39.6" cy="44.7" r="1.3"/><circle cx="181.1" cy="38.9" r="1.0"/><circle cx="354.0" cy="77.3" r="1.6"/><circle cx="335.3" cy="0.8" r="1.4"/><circle cx="116.9" cy="0.4" r="1.1"/><circle cx="452.9" cy="436.7" r="1.5"/><circle cx="78.7" cy="122.8" r="0.9"/><circle cx="431.4" cy="45.5" r="1.4"/><circle cx="267.7" cy="476.3" r="1.7"/><circle cx="30.5" cy="451.6" r="1.2"/><circle cx="352.0" cy="389.0" r="0.8"/><circle cx="72.5" cy="122.7" r="1.4"/><circle cx="297.1" cy="343.7" r="1.1"/><circle cx="304.9" cy="173.7" r="1.4"/><circle cx="324.2" cy="230.6" r="1.3"/><circle cx="61.8" cy="25.0" r="1.5"/><circle cx="398.1" cy="363.3" r="1.2"/><circle cx="360.7" cy="331.3" r="1.1"/><circle cx="327.6" cy="191.3" r="1.4"/><circle cx="474.1" cy="367.0" r="1.8"/><circle cx="277.7" cy="175.2" r="1.7"/><circle cx="98.5" cy="12.5" r="1.7"/><circle cx="106.8" cy="424.2" r="1.4"/><circle cx="145.1" cy="338.1" r="1.2"/><circle cx="147.1" cy="332.2" r="1.0"/><circle cx="156.9" cy="5.0" r="1.2"/><circle cx="283.2" cy="256.3" r="1.3"/><circle cx="105.2" cy="451.7" r="0.8"/><circle cx="340.8" cy="80.7" r="0.9"/><circle cx="394.8" cy="166.2" r="1.0"/><circle cx="446.8" cy="160.3" r="1.1"/><circle cx="389.3" cy="386.4" r="1.7"/><circle cx="81.8" cy="293.0" r="1.8"/><circle cx="15.7" cy="181.2" r="1.2"/><circle cx="429.3" cy="19.9" r="1.1"/><circle cx="76.6" cy="287.6" r="1.6"/><circle cx="115.0" cy="384.1" r="1.7"/><circle cx="92.0" cy="328.2" r="1.7"/><circle cx="355.2" cy="18.0" r="0.9"/><circle cx="46.8" cy="97.0" r="1.3"/><circle cx="446.4" cy="416.3" r="1.8"/><circle cx="368.6" cy="365.5" r="0.9"/><circle cx="186.7" cy="439.9" r="1.0"/><circle cx="406.4" cy="378.2" r="1.5"/><circle cx="408.1" cy="313.3" r="1.4"/><circle cx="305.3" cy="313.4" r="1.1"/><circle cx="248.1" cy="151.6" r="0.8"/><circle cx="279.5" cy="292.6" r="1.8"/><circle cx="361.5" cy="366.9" r="1.2"/><circle cx="26.1" cy="461.3" r="1.1"/><circle cx="430.0" cy="128.7" r="1.6"/><circle cx="156.7" cy="129.9" r="0.9"/><circle cx="419.8" cy="353.7" r="1.6"/><circle cx="157.1" cy="276.2" r="0.9"/><circle cx="160.5" cy="392.0" r="1.1"/><circle cx="246.9" cy="197.7" r="1.7"/><circle cx="96.3" cy="197.2" r="1.4"/><circle cx="452.9" cy="432.8" r="0.8"/><circle cx="83.0" cy="260.5" r="0.8"/><circle cx="54.8" cy="430.4" r="1.3"/><circle cx="406.5" cy="391.8" r="1.2"/><circle cx="247.8" cy="463.6" r="1.0"/><circle cx="91.5" cy="24.8" r="0.9"/><circle cx="260.5" cy="4.6" r="1.5"/><circle cx="381.2" cy="233.9" r="1.0"/><circle cx="114.5" cy="177.3" r="1.4"/><circle cx="147.3" cy="463.9" r="1.2"/><circle cx="66.8" cy="36.9" r="1.7"/><circle cx="238.7" cy="103.3" r="1.6"/><circle cx="16.7" cy="431.4" r="1.8"/><circle cx="451.9" cy="150.9" r="1.7"/><circle cx="426.7" cy="73.6" r="1.5"/><circle cx="42.2" cy="96.0" r="1.8"/><circle cx="78.0" cy="422.7" r="1.7"/><circle cx="401.0" cy="54.5" r="1.2"/><circle cx="287.8" cy="362.8" r="1.3"/><circle cx="325.7" cy="45.8" r="1.5"/><circle cx="142.6" cy="252.6" r="1.6"/><circle cx="447.3" cy="357.3" r="1.7"/><circle cx="147.2" cy="60.3" r="1.8"/><circle cx="309.5" cy="389.7" r="1.7"/><circle cx="376.4" cy="350.9" r="1.2"/><circle cx="84.3" cy="62.7" r="1.6"/><circle cx="471.9" cy="378.9" r="1.3"/><circle cx="173.6" cy="87.2" r="1.2"/><circle cx="67.3" cy="329.1" r="1.4"/><circle cx="208.0" cy="224.8" r="1.5"/><circle cx="271.8" cy="208.1" r="1.0"/><circle cx="453.3" cy="86.1" r="1.3"/><circle cx="431.6" cy="16.9" r="1.3"/><circle cx="259.3" cy="223.3" r="0.9"/><circle cx="460.0" cy="454.6" r="1.0"/><circle cx="269.8" cy="179.0" r="0.9"/><circle cx="172.8" cy="357.4" r="1.1"/><circle cx="448.7" cy="343.6" r="1.7"/><circle cx="411.8" cy="350.4" r="1.8"/><circle cx="274.9" cy="51.6" r="1.1"/><circle cx="182.5" cy="418.7" r="1.5"/><circle cx="217.1" cy="152.4" r="1.6"/><circle cx="194.2" cy="377.8" r="1.2"/><circle cx="317.2" cy="431.3" r="1.4"/><circle cx="425.1" cy="236.9" r="1.0"/><circle cx="79.8" cy="59.9" r="1.1"/><circle cx="27.1" cy="78.7" r="1.2"/><circle cx="398.7" cy="220.8" r="1.7"/><circle cx="173.6" cy="455.8" r="1.7"/><circle cx="416.7" cy="293.0" r="1.0"/><circle cx="248.9" cy="281.8" r="1.3"/><circle cx="422.9" cy="196.5" r="0.8"/><circle cx="16.3" cy="222.8" r="1.8"/><circle cx="271.0" cy="197.1" r="1.4"/><circle cx="412.2" cy="164.9" r="1.6"/><circle cx="33.2" cy="183.8" r="1.2"/><circle cx="233.1" cy="251.9" r="1.1"/><circle cx="73.2" cy="431.3" r="1.4"/><circle cx="36.0" cy="313.8" r="0.9"/><circle cx="209.4" cy="35.5" r="1.8"/><circle cx="201.6" cy="303.4" r="1.5"/><circle cx="10.4" cy="462.6" r="1.0"/><circle cx="13.8" cy="220.9" r="1.3"/><circle cx="446.4" cy="285.6" r="1.6"/><circle cx="169.7" cy="247.5" r="1.3"/><circle cx="140.8" cy="251.4" r="0.9"/><circle cx="282.6" cy="13.5" r="1.0"/><circle cx="439.7" cy="372.0" r="1.1"/><circle cx="312.3" cy="142.5" r="1.0"/><circle cx="179.2" cy="18.6" r="1.2"/><circle cx="66.1" cy="254.9" r="1.4"/><circle cx="378.7" cy="458.9" r="1.5"/><circle cx="378.7" cy="370.0" r="1.6"/><circle cx="321.9" cy="300.7" r="1.7"/><circle cx="334.6" cy="419.6" r="1.6"/><circle cx="54.9" cy="388.3" r="1.6"/><circle cx="190.4" cy="288.4" r="1.2"/><circle cx="477.0" cy="191.8" r="1.5"/><circle cx="226.8" cy="293.6" r="0.9"/><circle cx="65.4" cy="140.6" r="1.1"/><circle cx="324.3" cy="180.9" r="1.6"/><circle cx="180.8" cy="349.3" r="1.3"/><circle cx="165.3" cy="70.7" r="1.2"/><circle cx="181.6" cy="23.3" r="1.4"/><circle cx="41.8" cy="129.0" r="1.1"/><circle cx="405.8" cy="171.3" r="0.8"/><circle cx="239.0" cy="104.6" r="0.9"/><circle cx="439.6" cy="40.7" r="1.0"/><circle cx="49.2" cy="112.1" r="0.8"/><circle cx="243.4" cy="364.4" r="1.2"/><circle cx="308.5" cy="395.4" r="1.4"/><circle cx="68.2" cy="386.4" r="1.8"/><circle cx="476.8" cy="103.8" r="1.7"/><circle cx="117.9" cy="134.6" r="1.2"/><circle cx="322.6" cy="173.3" r="1.1"/><circle cx="156.8" cy="15.4" r="1.4"/><circle cx="310.7" cy="209.3" r="1.8"/><circle cx="371.7" cy="163.0" r="1.4"/><circle cx="244.1" cy="92.3" r="1.2"/><circle cx="320.8" cy="168.6" r="1.0"/><circle cx="176.3" cy="99.8" r="1.1"/><circle cx="32.0" cy="253.2" r="1.2"/><circle cx="135.4" cy="321.2" r="1.7"/><circle cx="186.5" cy="149.4" r="1.5"/><circle cx="369.9" cy="131.0" r="1.2"/><circle cx="55.3" cy="373.0" r="1.3"/><circle cx="420.7" cy="212.1" r="1.1"/><circle cx="432.6" cy="2.6" r="1.2"/><circle cx="263.3" cy="192.5" r="1.5"/><circle cx="373.4" cy="348.0" r="1.1"/><circle cx="246.3" cy="83.9" r="0.9"/><circle cx="24.8" cy="373.9" r="1.3"/><circle cx="252.9" cy="323.3" r="1.5"/><circle cx="308.6" cy="232.9" r="1.6"/><circle cx="77.8" cy="307.1" r="1.1"/><circle cx="57.6" cy="330.2" r="1.7"/><circle cx="63.2" cy="46.5" r="1.3"/><circle cx="221.6" cy="36.8" r="1.0"/><circle cx="252.9" cy="69.3" r="1.4"/><circle cx="40.2" cy="315.1" r="1.4"/><circle cx="363.5" cy="432.5" r="1.7"/><circle cx="373.5" cy="277.4" r="1.5"/><circle cx="262.6" cy="338.0" r="1.4"/><circle cx="285.1" cy="59.5" r="1.6"/><circle cx="96.7" cy="368.4" r="1.7"/><circle cx="236.5" cy="341.4" r="0.8"/><circle cx="420.6" cy="138.9" r="0.9"/><circle cx="198.5" cy="84.0" r="1.1"/><circle cx="102.3" cy="441.2" r="1.7"/><circle cx="229.8" cy="298.6" r="1.0"/><circle cx="265.0" cy="396.2" r="1.0"/><circle cx="212.6" cy="43.0" r="0.9"/></g>
<g fill="none" stroke="#3A1046" stroke-linecap="round" stroke-linejoin="round" opacity="0.8"><polyline points="249.7,170.0 255.1,168.1" stroke-width="3.3"/><polyline points="235.6,235.9 239.6,226.0 239.6,215.2 239.7,204.5" stroke-width="1.7"/><polyline points="311.2,202.5 309.7,197.6 307.4,193.0" stroke-width="2.5"/><polyline points="237.5,283.8 245.4,290.8" stroke-width="1.3"/><polyline points="210.5,331.2 215.3,329.0 220.3,327.3 223.3,323.1" stroke-width="1.3"/><polyline points="178.7,164.7 181.5,157.5 181.4,149.8 176.3,144.1" stroke-width="2.6"/><polyline points="125.9,225.3 126.9,230.8" stroke-width="2.7"/><polyline points="164.8,208.6 158.5,200.3 152.0,192.3" stroke-width="3.2"/><polyline points="253.0,293.9 251.1,300.2 249.7,306.7" stroke-width="2.0"/><polyline points="227.9,303.0 231.4,312.2 232.7,321.9 231.2,331.6" stroke-width="3.2"/><polyline points="292.4,242.9 299.7,238.8 307.7,236.3" stroke-width="1.4"/><polyline points="194.5,311.0 189.9,306.9" stroke-width="2.7"/><polyline points="342.8,240.3 346.9,234.4 351.7,229.2" stroke-width="2.0"/><polyline points="217.4,289.6 225.2,288.6 231.6,293.2" stroke-width="2.6"/><polyline points="292.4,224.9 297.0,231.7 302.8,237.3 309.6,241.7" stroke-width="2.8"/><polyline points="256.5,307.3 246.4,310.5 235.8,310.2 225.3,309.7" stroke-width="3.0"/><polyline points="244.7,261.3 251.4,258.0 258.3,255.8" stroke-width="2.6"/><polyline points="261.8,226.7 251.9,226.3 242.7,229.9" stroke-width="3.0"/><polyline points="232.5,318.0 240.7,323.4 241.8,333.1" stroke-width="1.8"/><polyline points="254.9,137.5 259.7,141.8 264.2,146.4" stroke-width="1.5"/><polyline points="118.1,309.4 120.9,316.0" stroke-width="3.2"/><polyline points="253.8,229.8 250.4,225.8 245.7,223.4 240.5,223.1" stroke-width="1.3"/><polyline points="194.8,348.4 187.5,349.5 180.3,348.1 174.1,351.9" stroke-width="1.6"/><polyline points="225.6,215.8 224.1,206.3 228.4,197.7" stroke-width="2.4"/><polyline points="252.7,222.8 257.9,222.5" stroke-width="2.6"/><polyline points="139.9,285.0 137.2,280.5 132.6,278.0" stroke-width="1.4"/><polyline points="189.8,286.4 182.5,284.0 175.9,288.0" stroke-width="2.6"/><polyline points="185.3,327.5 179.7,331.0 176.6,336.8 171.9,341.5" stroke-width="3.3"/><polyline points="156.1,303.4 151.1,302.6 147.2,299.4" stroke-width="1.5"/><polyline points="275.8,192.2 273.9,201.7 271.9,211.2" stroke-width="1.3"/><polyline points="175.7,249.2 178.0,256.3 173.3,262.2" stroke-width="1.4"/><polyline points="168.0,216.8 162.6,212.2 158.5,206.3" stroke-width="2.5"/><polyline points="214.5,398.2 205.7,391.8 198.9,383.4 189.2,378.6" stroke-width="1.7"/><polyline points="200.4,246.1 190.5,249.8 180.6,253.2 174.6,261.9" stroke-width="2.4"/><polyline points="314.2,306.0 315.7,298.5 318.5,291.4" stroke-width="3.2"/><polyline points="113.1,269.4 107.8,270.2" stroke-width="2.6"/><polyline points="269.6,240.5 272.5,246.4 270.2,252.6 268.1,258.8" stroke-width="2.2"/><polyline points="324.2,209.1 325.2,203.2" stroke-width="3.0"/><polyline points="227.6,280.8 235.9,276.6" stroke-width="2.6"/><polyline points="245.0,251.2 253.9,249.7 262.1,245.9 269.4,251.1" stroke-width="1.5"/><polyline points="327.7,269.5 320.9,273.0 318.9,280.5" stroke-width="3.1"/><polyline points="195.9,245.0 185.5,248.2 174.7,248.1" stroke-width="1.3"/><polyline points="283.0,210.3 277.8,210.7 273.9,207.4" stroke-width="1.6"/><polyline points="238.9,233.1 247.3,227.8" stroke-width="2.3"/><polyline points="356.2,245.2 365.6,248.2 374.0,253.2" stroke-width="2.9"/><polyline points="358.3,268.3 361.5,273.4 366.1,277.3 365.3,283.3" stroke-width="1.7"/><polyline points="294.6,209.1 304.0,212.0 313.9,212.4 316.9,221.8" stroke-width="2.1"/><polyline points="293.8,318.3 288.6,326.1 279.5,328.4 272.6,322.2" stroke-width="1.5"/><polyline points="197.2,218.5 192.3,216.1 186.9,216.6" stroke-width="3.0"/><polyline points="294.0,250.0 294.9,241.9 291.6,234.5" stroke-width="1.3"/><polyline points="208.1,255.9 208.3,261.4" stroke-width="3.1"/><polyline points="262.2,272.0 257.2,270.1 252.0,268.6 248.6,264.3" stroke-width="1.7"/><polyline points="285.4,320.6 279.5,323.1 275.7,328.2" stroke-width="3.0"/><polyline points="272.4,240.9 279.2,245.2 287.0,246.8" stroke-width="2.0"/><polyline points="227.3,310.5 236.7,314.8 246.9,312.3 257.2,313.4" stroke-width="1.7"/><polyline points="274.1,264.2 279.0,273.4 284.4,282.3" stroke-width="1.8"/><polyline points="278.2,366.0 274.4,356.2 267.8,347.9 261.7,339.3" stroke-width="1.2"/><polyline points="109.5,247.8 107.0,242.8 101.9,240.3 97.8,236.4" stroke-width="2.7"/><polyline points="384.8,278.8 394.8,281.9 405.1,284.0 411.6,292.2" stroke-width="2.1"/><polyline points="259.4,321.3 254.7,316.9" stroke-width="3.1"/><polyline points="171.4,245.2 170.5,236.5 168.3,228.0" stroke-width="3.0"/><polyline points="194.8,283.7 201.3,282.7" stroke-width="1.4"/><polyline points="307.1,291.8 301.2,300.0 295.1,308.1 287.7,315.0" stroke-width="2.8"/><polyline points="248.5,278.9 243.2,272.0 243.2,263.4 246.1,255.2" stroke-width="1.6"/><polyline points="243.9,358.9 241.0,351.6" stroke-width="1.8"/><polyline points="131.0,334.7 126.6,329.0" stroke-width="2.0"/><polyline points="283.4,271.8 282.1,264.7 279.6,257.9" stroke-width="2.2"/><polyline points="212.9,304.8 221.6,298.6 231.0,293.6 241.2,290.1" stroke-width="1.8"/><polyline points="225.4,228.6 220.9,232.6" stroke-width="3.3"/><polyline points="117.1,272.7 113.3,278.0" stroke-width="2.1"/><polyline points="242.0,177.8 245.1,172.7 246.4,166.9" stroke-width="3.1"/><polyline points="291.3,176.0 295.0,180.1 298.7,184.2" stroke-width="1.5"/><polyline points="347.8,310.5 354.9,310.7 362.1,310.7 369.1,312.2" stroke-width="2.0"/><polyline points="108.5,263.9 103.0,256.9" stroke-width="2.2"/><polyline points="304.6,397.6 310.5,388.7 320.9,386.2" stroke-width="2.5"/><polyline points="293.3,178.2 291.2,167.5" stroke-width="2.5"/><polyline points="186.9,219.8 184.5,225.6" stroke-width="1.4"/><polyline points="180.8,337.2 183.9,327.8 184.9,318.0" stroke-width="3.1"/><polyline points="388.6,304.9 391.0,295.7 398.6,289.9" stroke-width="1.4"/><polyline points="189.5,173.5 197.6,167.4" stroke-width="1.9"/><polyline points="213.1,280.6 223.6,283.5 233.6,279.3 243.7,275.2" stroke-width="1.6"/><polyline points="190.3,377.6 187.0,368.9 185.4,359.7 189.6,351.5" stroke-width="3.3"/><polyline points="219.6,240.3 217.5,234.5 214.6,229.1 214.3,223.0" stroke-width="2.6"/><polyline points="136.1,334.2 143.2,336.6 150.6,335.8" stroke-width="1.3"/><polyline points="276.4,292.1 271.2,293.9 265.7,294.7 260.3,295.9" stroke-width="3.0"/><polyline points="177.4,250.7 170.0,255.9 164.3,262.9 160.9,271.3" stroke-width="1.3"/><polyline points="174.0,295.1 181.2,292.8" stroke-width="2.5"/><polyline points="305.2,203.9 305.5,209.5" stroke-width="2.1"/><polyline points="196.3,386.4 191.4,393.6" stroke-width="2.6"/><polyline points="230.3,231.3 234.6,228.3 237.6,224.0 242.4,222.0" stroke-width="2.2"/><polyline points="195.2,342.9 204.1,336.8" stroke-width="2.3"/><polyline points="214.9,260.8 221.7,268.2 231.1,271.9" stroke-width="1.8"/><polyline points="230.5,311.9 227.3,306.7 230.0,301.3" stroke-width="1.5"/><polyline points="282.1,303.5 278.3,308.4 274.4,313.3 270.6,318.3" stroke-width="1.6"/><polyline points="145.9,321.5 145.5,329.2 148.2,336.5 148.9,344.2" stroke-width="1.2"/><polyline points="273.9,322.9 263.9,324.4" stroke-width="3.0"/><polyline points="83.5,331.0 81.3,338.5 77.3,345.1 80.3,352.3" stroke-width="3.1"/><polyline points="240.4,249.7 244.5,254.9 243.1,261.5" stroke-width="1.7"/><polyline points="237.6,343.3 232.3,346.2 226.6,348.4" stroke-width="1.5"/><polyline points="232.2,280.0 242.6,281.5" stroke-width="2.4"/><polyline points="265.2,290.2 258.7,292.1 252.5,294.8" stroke-width="3.4"/><polyline points="278.0,244.1 277.8,254.9 269.7,262.0" stroke-width="3.0"/><polyline points="204.4,248.6 206.2,256.2" stroke-width="2.8"/><polyline points="152.8,246.0 161.2,242.8" stroke-width="3.4"/><polyline points="252.5,246.7 259.3,243.1" stroke-width="3.1"/><polyline points="269.6,333.1 261.7,335.3 256.2,341.4" stroke-width="1.7"/><polyline points="276.7,209.5 283.6,212.3 289.4,217.0 296.7,218.6" stroke-width="3.3"/><polyline points="240.3,295.1 239.8,286.3 236.6,278.0 235.8,269.3" stroke-width="1.5"/><polyline points="278.5,227.8 281.2,236.6 286.5,244.1 291.4,251.8" stroke-width="1.6"/><polyline points="249.1,146.9 240.4,149.6 234.9,156.8" stroke-width="1.7"/><polyline points="150.8,123.9 156.6,126.8" stroke-width="2.1"/><polyline points="144.3,73.1 134.6,77.9 125.1,83.0 115.3,87.4" stroke-width="2.9"/><polyline points="103.8,43.2 108.8,47.1 110.6,53.2" stroke-width="2.1"/><polyline points="224.2,80.2 221.8,84.7" stroke-width="1.3"/><polyline points="21.7,6.5 13.4,5.2" stroke-width="2.9"/><polyline points="224.7,138.0 233.9,133.4 243.9,135.3 252.4,129.5" stroke-width="2.7"/><polyline points="145.1,188.3 150.5,182.0" stroke-width="2.3"/><polyline points="202.4,192.8 194.3,189.1 186.5,185.0" stroke-width="1.4"/><polyline points="187.5,198.8 179.7,196.9" stroke-width="2.4"/><polyline points="169.0,114.6 176.7,112.1" stroke-width="1.8"/><polyline points="130.2,74.8 133.0,81.5" stroke-width="1.9"/><polyline points="8.7,50.4 2.1,54.9 -5.8,56.3 -13.8,56.4" stroke-width="2.9"/><polyline points="333.0,134.6 342.2,139.1" stroke-width="1.2"/><polyline points="144.4,159.1 138.6,153.3 136.3,145.4" stroke-width="3.0"/><polyline points="2.6,156.4 9.5,154.9 15.6,151.6" stroke-width="2.7"/><polyline points="262.3,82.5 255.3,85.4 247.9,86.5 241.3,90.1" stroke-width="2.7"/><polyline points="377.2,136.3 374.3,130.9 371.2,125.5 367.0,121.0" stroke-width="2.5"/><polyline points="200.5,138.7 196.3,132.5 189.7,129.2" stroke-width="2.7"/><polyline points="45.1,58.9 46.8,50.1 48.2,41.2 46.5,32.4" stroke-width="1.5"/><polyline points="139.9,2.5 134.1,4.6 128.1,6.2 122.5,8.7" stroke-width="2.5"/><polyline points="57.0,203.8 47.2,199.2 36.5,201.2 26.1,204.3" stroke-width="2.0"/><polyline points="238.9,74.5 233.1,71.2 228.9,66.2" stroke-width="1.3"/><polyline points="150.0,89.5 155.9,89.9" stroke-width="1.6"/><polyline points="-12.5,87.2 -2.9,92.3 2.7,101.5 11.9,107.3" stroke-width="1.8"/><polyline points="83.7,51.3 73.6,55.3" stroke-width="2.8"/><polyline points="58.0,209.2 53.7,211.9 50.6,215.9 46.3,218.6" stroke-width="2.2"/><polyline points="98.6,64.1 93.3,62.4 91.4,57.1 87.4,53.1" stroke-width="2.9"/><polyline points="199.0,151.9 198.5,162.4 198.0,172.9 201.9,182.7" stroke-width="1.8"/><polyline points="135.3,122.8 144.0,116.8 150.6,108.6" stroke-width="2.1"/><polyline points="36.9,86.6 35.5,79.2 39.0,72.5 45.9,69.6" stroke-width="2.9"/><polyline points="211.4,-47.5 201.8,-51.4 192.9,-56.9" stroke-width="1.6"/><polyline points="88.7,113.3 88.3,103.6 91.7,94.5 95.6,85.6" stroke-width="2.6"/><polyline points="83.5,57.1 75.6,62.9" stroke-width="2.6"/><polyline points="243.4,4.1 238.9,12.9 233.0,20.8" stroke-width="1.3"/><polyline points="45.7,54.0 35.6,57.7" stroke-width="1.3"/><polyline points="97.2,238.2 89.3,244.4 79.3,244.0" stroke-width="1.6"/><polyline points="-15.0,29.4 -9.7,30.8" stroke-width="2.3"/><polyline points="72.7,220.1 75.0,225.2 75.4,230.9 76.2,236.5" stroke-width="2.1"/><polyline points="200.7,176.9 190.9,177.3 181.3,175.5" stroke-width="2.9"/><polyline points="185.2,153.7 183.3,145.7 179.1,138.6" stroke-width="2.6"/><polyline points="218.8,262.2 223.4,264.5 225.9,268.9 228.8,273.1" stroke-width="2.6"/><polyline points="14.7,116.3 11.4,109.2" stroke-width="1.5"/><polyline points="191.1,82.1 187.6,72.5" stroke-width="2.7"/><polyline points="63.2,201.4 58.7,208.2 60.3,216.2 66.1,222.0" stroke-width="2.8"/><polyline points="18.1,236.7 11.5,240.1 4.9,243.4 3.2,250.6" stroke-width="2.2"/><polyline points="436.1,271.8 430.5,271.1 424.9,269.9 419.3,270.0" stroke-width="2.1"/><polyline points="252.4,185.2 258.9,186.6 264.9,183.8 269.4,178.9" stroke-width="2.7"/><polyline points="459.6,155.7 460.9,146.2 458.0,137.0" stroke-width="2.1"/><polyline points="393.8,212.3 403.0,208.0" stroke-width="2.2"/><polyline points="372.5,310.2 378.6,302.9 378.9,293.4 380.4,284.0" stroke-width="1.2"/><polyline points="257.1,216.8 258.3,209.3" stroke-width="1.2"/><polyline points="381.6,166.1 375.8,164.8" stroke-width="1.5"/><polyline points="400.7,219.5 392.0,222.4 383.0,224.3" stroke-width="2.9"/><polyline points="442.0,113.6 450.5,113.4 457.1,118.8" stroke-width="2.6"/><polyline points="377.8,255.7 382.1,260.7" stroke-width="1.8"/><polyline points="423.5,87.8 423.3,80.7 429.3,77.1" stroke-width="2.2"/><polyline points="479.3,141.9 475.7,148.1 476.4,155.3" stroke-width="2.8"/><polyline points="457.3,264.5 452.3,254.8 455.5,244.3 449.3,235.3" stroke-width="2.5"/><polyline points="497.8,267.8 495.0,273.2" stroke-width="2.4"/><polyline points="204.6,201.7 199.1,201.3 193.6,201.3 188.3,203.0" stroke-width="2.7"/><polyline points="362.0,128.6 362.0,119.7 364.1,111.1 365.6,102.4" stroke-width="3.0"/><polyline points="316.7,136.0 323.7,131.3" stroke-width="2.0"/><polyline points="333.3,151.0 329.5,161.2" stroke-width="2.4"/><polyline points="481.0,182.4 476.0,180.3" stroke-width="1.5"/><polyline points="337.2,181.5 332.1,172.5 323.6,166.7" stroke-width="1.9"/><polyline points="418.7,223.4 419.9,214.8" stroke-width="2.6"/><polyline points="358.3,209.0 365.2,210.6 371.4,214.3" stroke-width="1.4"/><polyline points="335.8,224.9 337.5,231.1" stroke-width="2.4"/><polyline points="399.6,198.9 392.1,204.2 383.1,202.7 374.1,201.3" stroke-width="2.7"/><polyline points="419.4,234.5 429.3,232.8 439.1,235.4 448.9,233.0" stroke-width="1.3"/><polyline points="454.1,362.0 458.4,369.3 463.0,376.5" stroke-width="2.2"/><polyline points="485.0,298.1 488.3,306.5 491.0,315.0 487.8,323.4" stroke-width="1.4"/><polyline points="339.9,304.5 333.9,303.1 327.9,302.9 321.8,302.9" stroke-width="2.4"/><polyline points="367.4,80.4 370.9,74.4" stroke-width="1.8"/><polyline points="252.6,142.3 254.1,137.2 254.4,131.9" stroke-width="3.0"/><polyline points="280.0,249.3 274.5,256.3" stroke-width="1.6"/><polyline points="297.2,112.5 296.7,118.5" stroke-width="1.3"/><polyline points="345.0,127.9 350.4,128.0 355.3,125.5" stroke-width="1.9"/><polyline points="475.5,235.8 483.3,237.0" stroke-width="1.3"/><polyline points="469.3,219.7 460.5,222.5" stroke-width="1.5"/><polyline points="388.7,284.9 386.3,279.1 387.4,272.9 387.6,266.7" stroke-width="2.4"/><polyline points="512.2,219.6 512.9,227.5 511.5,235.4 504.0,238.1" stroke-width="2.7"/><polyline points="349.5,240.1 355.5,244.9 355.9,252.5" stroke-width="1.6"/><polyline points="371.2,271.1 376.4,261.9 383.9,254.6" stroke-width="1.6"/><polyline points="448.3,158.9 453.7,159.8 459.1,161.3" stroke-width="2.6"/><polyline points="404.0,135.5 406.5,126.2" stroke-width="2.1"/><polyline points="391.8,357.3 382.3,352.8" stroke-width="2.4"/><polyline points="335.9,205.3 335.3,200.0 337.1,195.0" stroke-width="2.5"/><polyline points="485.7,235.4 478.3,230.2 470.6,225.3 462.1,222.2" stroke-width="2.9"/><polyline points="384.8,244.1 377.4,238.8 373.4,230.8 367.0,224.4" stroke-width="2.7"/><polyline points="313.1,519.2 308.0,519.4 304.0,516.5 299.4,518.6" stroke-width="2.8"/><polyline points="219.8,496.7 216.7,490.8" stroke-width="2.0"/><polyline points="208.7,437.0 207.3,447.3 204.5,457.4" stroke-width="2.9"/><polyline points="157.5,256.3 161.9,262.6" stroke-width="2.9"/><polyline points="163.8,409.8 157.1,409.1" stroke-width="1.7"/><polyline points="76.5,430.0 78.3,422.7" stroke-width="1.9"/><polyline points="285.2,417.3 292.3,421.2 300.0,423.7 308.0,422.8" stroke-width="2.2"/><polyline points="-41.4,367.5 -43.1,361.4" stroke-width="1.9"/><polyline points="283.2,508.1 279.8,517.5" stroke-width="1.6"/><polyline points="215.3,352.6 223.5,348.1 227.3,339.5" stroke-width="1.5"/><polyline points="240.3,401.3 234.1,392.8 225.1,387.5 218.9,379.0" stroke-width="1.9"/><polyline points="180.6,393.5 187.8,396.7" stroke-width="2.1"/><polyline points="308.0,469.1 317.6,471.7 327.5,470.8" stroke-width="1.3"/><polyline points="153.8,439.4 152.4,428.9 155.3,418.8" stroke-width="2.6"/><polyline points="347.6,594.1 341.7,590.6 336.5,586.2 330.5,583.0" stroke-width="2.6"/><polyline points="296.2,497.2 302.5,505.4" stroke-width="2.6"/><polyline points="232.7,417.4 224.9,421.5" stroke-width="1.2"/><polyline points="302.8,337.4 297.1,336.2 291.2,336.2 285.5,337.2" stroke-width="2.4"/><polyline points="171.1,448.4 171.1,457.6 166.1,465.4 161.9,473.7" stroke-width="2.6"/><polyline points="184.5,503.6 189.0,499.9" stroke-width="2.3"/><polyline points="195.9,577.1 199.7,585.8 199.1,595.2" stroke-width="1.9"/><polyline points="234.8,423.5 230.8,417.9 227.7,411.6" stroke-width="1.9"/><polyline points="227.1,372.2 223.7,366.1 216.7,365.7 209.7,365.5" stroke-width="1.6"/><polyline points="-14.8,458.7 -10.5,453.2" stroke-width="1.9"/><polyline points="196.6,432.1 202.5,423.0" stroke-width="1.9"/><polyline points="277.3,482.9 286.9,477.9 295.9,471.9 305.8,467.6" stroke-width="1.9"/><polyline points="280.1,353.1 282.9,347.8" stroke-width="1.6"/><polyline points="98.1,569.6 95.8,560.8 90.8,553.3" stroke-width="1.2"/><polyline points="157.7,362.4 165.6,364.3 173.5,365.9 181.6,365.7" stroke-width="2.7"/><polyline points="266.8,358.8 261.6,363.4 255.0,365.2 248.2,363.6" stroke-width="2.7"/><polyline points="187.9,319.5 193.5,323.0 199.5,325.5" stroke-width="1.5"/><polyline points="352.2,442.8 348.1,446.8 345.9,452.1" stroke-width="2.8"/><polyline points="149.4,404.3 150.8,411.3" stroke-width="1.4"/><polyline points="136.4,392.5 137.0,384.3" stroke-width="2.0"/><polyline points="501.0,310.0 505.7,306.0" stroke-width="1.4"/><polyline points="227.4,383.5 233.9,380.8 240.9,381.0" stroke-width="2.8"/><polyline points="222.4,380.1 218.3,376.5" stroke-width="1.7"/><polyline points="257.8,325.0 253.0,322.4 249.7,317.9 248.1,312.6" stroke-width="2.1"/><polyline points="252.2,337.9 250.6,327.7" stroke-width="2.4"/><polyline points="41.6,487.5 40.7,482.5" stroke-width="2.1"/><polyline points="261.9,381.3 270.0,381.9 277.2,385.9" stroke-width="1.5"/><polyline points="270.4,377.4 274.8,374.6 276.7,369.8 276.0,364.7" stroke-width="1.9"/><polyline points="262.3,518.1 269.4,524.5 276.2,531.1 275.1,540.5" stroke-width="2.2"/><polyline points="349.3,561.3 343.0,568.7 340.2,578.0 338.1,587.5" stroke-width="1.2"/><polyline points="164.4,582.3 154.9,584.0" stroke-width="2.8"/><polyline points="37.6,306.3 30.9,299.5 24.5,292.4 16.8,286.7" stroke-width="1.8"/><polyline points="94.2,274.8 88.4,278.1 83.0,282.0" stroke-width="2.1"/><polyline points="55.1,257.4 53.1,248.9" stroke-width="2.3"/><polyline points="91.5,318.9 82.8,317.1 74.9,313.1 68.0,307.4" stroke-width="1.9"/><polyline points="54.2,269.0 53.4,260.8 51.1,253.0" stroke-width="1.2"/><polyline points="20.2,370.4 24.3,360.9 27.5,351.0" stroke-width="2.6"/><polyline points="-12.9,277.6 -5.9,277.9" stroke-width="2.5"/><polyline points="-40.7,307.7 -45.0,315.8 -46.8,324.7 -50.2,333.2" stroke-width="1.5"/><polyline points="77.9,304.7 73.3,307.1" stroke-width="1.5"/><polyline points="91.3,256.7 90.9,248.7 92.3,240.8" stroke-width="2.3"/><polyline points="-2.8,279.3 -2.5,270.2 -1.8,261.2" stroke-width="2.4"/><polyline points="24.5,302.5 16.4,305.0" stroke-width="1.9"/><polyline points="53.1,308.8 49.6,317.5 50.6,326.8 54.1,335.4" stroke-width="1.6"/><polyline points="83.4,307.8 75.4,302.1" stroke-width="2.6"/><polyline points="91.3,249.1 80.9,246.9 70.9,250.1 61.7,255.2" stroke-width="2.2"/><polyline points="11.6,249.1 16.7,256.3 15.2,265.0" stroke-width="2.2"/><polyline points="66.0,329.8 60.8,328.0 55.6,326.5 50.5,324.5" stroke-width="2.6"/><polyline points="118.7,265.0 126.9,259.9" stroke-width="2.3"/><polyline points="29.1,269.5 31.0,264.2 30.5,258.6 27.6,253.7" stroke-width="2.4"/><polyline points="131.8,278.1 131.2,287.5" stroke-width="1.5"/><polyline points="115.2,278.9 105.5,282.0" stroke-width="1.9"/><polyline points="-14.0,248.3 -7.3,253.8" stroke-width="2.4"/><polyline points="65.8,260.0 74.1,255.5 83.1,252.9" stroke-width="1.2"/><polyline points="4.3,304.8 2.4,297.2 0.7,289.7" stroke-width="1.2"/><polyline points="134.5,366.7 140.3,368.8 146.3,369.8 152.2,371.4" stroke-width="2.4"/><polyline points="403.8,368.0 396.6,375.0 390.8,383.1 387.1,392.4" stroke-width="1.4"/><polyline points="451.3,350.6 456.3,355.3" stroke-width="2.1"/><polyline points="399.6,400.3 393.2,400.0" stroke-width="2.9"/><polyline points="464.5,410.2 458.3,403.8 449.7,401.9 440.9,402.9" stroke-width="2.6"/><polyline points="350.7,449.5 348.1,445.0" stroke-width="1.9"/><polyline points="522.2,376.7 526.9,381.8 533.8,382.8" stroke-width="3.0"/><polyline points="479.2,372.5 488.8,367.5" stroke-width="1.8"/><polyline points="345.6,431.4 346.0,437.2 345.9,443.0" stroke-width="1.9"/><polyline points="419.7,318.1 426.5,324.3 430.4,332.6" stroke-width="1.5"/><polyline points="312.0,352.7 317.5,356.5 323.6,359.2" stroke-width="1.8"/><polyline points="437.0,359.4 428.4,364.1 419.0,366.8" stroke-width="3.0"/><polyline points="490.4,444.1 498.6,441.1" stroke-width="2.4"/><polyline points="358.8,315.8 366.3,321.7 375.2,325.3 384.6,326.5" stroke-width="2.6"/><polyline points="305.3,381.8 301.3,391.0 297.3,400.2" stroke-width="2.8"/><polyline points="377.5,398.2 383.5,392.0 386.6,383.9 380.3,377.9" stroke-width="1.3"/><polyline points="393.5,416.1 401.7,409.2" stroke-width="3.0"/><polyline points="407.6,480.1 408.8,474.6 410.0,469.2" stroke-width="2.3"/><polyline points="391.6,281.8 391.6,273.6 389.7,265.7" stroke-width="2.7"/><polyline points="464.0,447.5 466.1,442.7" stroke-width="2.7"/><polyline points="379.1,429.1 381.5,435.0 379.9,441.2 379.1,447.5" stroke-width="1.4"/><polyline points="431.1,434.0 440.7,436.8" stroke-width="2.7"/><polyline points="335.6,378.1 343.0,382.1 351.4,380.7" stroke-width="1.4"/><polyline points="308.2,300.3 304.3,304.5" stroke-width="2.7"/><polyline points="362.6,418.3 356.9,419.1 351.3,421.0" stroke-width="2.3"/><polyline points="421.1,495.5 416.8,503.2 409.6,508.3" stroke-width="1.9"/><polyline points="409.7,349.8 406.4,355.2" stroke-width="2.7"/><polyline points="358.6,348.3 358.3,341.3" stroke-width="1.8"/><polyline points="360.0,335.4 357.2,326.7 358.2,317.6" stroke-width="1.8"/><polyline points="348.6,357.5 355.8,354.1 358.0,346.5" stroke-width="2.4"/><polyline points="307.8,376.4 301.6,371.7 296.5,365.7 295.4,358.0" stroke-width="2.1"/></g>
<path d="M0 62 L34 48 L64 28 L78 6 M76 64 L70 93 M266 157 L300 158 L350 163 M112 294 L150 275 L196 252 M170 200 L200 185 L230 190 M200 230 L240 215 M150 40 L165 12" stroke="#2F1040" stroke-width="3.2" fill="none" stroke-linecap="round" stroke-linejoin="round" opacity=".85"/>
<ellipse cx="356" cy="81" rx="6" ry="5" fill="#2F1040" opacity=".85"/>
<ellipse cx="406" cy="269" rx="5" ry="6" fill="#2F1040" opacity=".8"/>
<ellipse cx="387" cy="103" rx="6" ry="5" fill="#2F1040"/>
<ellipse cx="248" cy="150" rx="8" ry="5" fill="#3A1450" opacity=".8"/>
</g>
<clipPath id="cF2"><rect x="0" y="0" width="483" height="476.4"/></clipPath>
<g transform="translate(633 1863)" clip-path="url(#cF2)">
<rect x="0" y="0" width="483" height="476.4" fill="#EFC9E2"/>
<rect x="-40" y="-40" width="563" height="556.4" fill="url(#pf2)" filter="url(#fwarp2)"/>
<g filter="url(#blur20)"><ellipse cx="425" cy="55" rx="22" ry="30" fill="#A8407A" opacity="0.55"/><ellipse cx="100" cy="380" rx="130" ry="90" fill="#D58DBE" opacity="0.4"/><ellipse cx="230" cy="330" rx="60" ry="120" fill="#D590C0" opacity="0.35"/></g>
<rect x="0" y="0" width="483" height="476.4" fill="#fff" filter="url(#ftex2)"/>
<g fill="#8E2F64" opacity="0.75"><circle cx="214.3" cy="270.8" r="1.7"/><circle cx="122.8" cy="280.5" r="1.2"/><circle cx="365.3" cy="258.7" r="1.0"/><circle cx="249.3" cy="115.3" r="0.8"/><circle cx="54.5" cy="163.3" r="0.8"/><circle cx="373.2" cy="382.9" r="0.8"/><circle cx="254.1" cy="205.8" r="1.2"/><circle cx="34.7" cy="447.9" r="1.1"/><circle cx="450.3" cy="192.2" r="1.0"/><circle cx="121.3" cy="117.9" r="1.6"/><circle cx="400.5" cy="385.1" r="1.1"/><circle cx="142.9" cy="256.2" r="1.5"/><circle cx="341.3" cy="401.3" r="1.6"/><circle cx="248.5" cy="330.0" r="1.6"/><circle cx="93.0" cy="465.9" r="1.3"/><circle cx="306.9" cy="319.8" r="1.5"/><circle cx="42.2" cy="36.3" r="1.1"/><circle cx="64.0" cy="355.8" r="1.3"/><circle cx="87.9" cy="192.1" r="1.0"/><circle cx="361.3" cy="190.9" r="1.7"/><circle cx="342.8" cy="221.2" r="1.4"/><circle cx="482.4" cy="343.0" r="1.2"/><circle cx="190.8" cy="405.7" r="1.4"/><circle cx="335.4" cy="76.4" r="1.2"/><circle cx="8.2" cy="255.4" r="0.8"/><circle cx="314.2" cy="69.3" r="0.9"/><circle cx="79.4" cy="198.9" r="1.3"/><circle cx="121.3" cy="297.1" r="1.4"/><circle cx="103.8" cy="182.2" r="1.7"/><circle cx="239.1" cy="388.1" r="1.5"/><circle cx="315.0" cy="420.9" r="0.8"/><circle cx="266.2" cy="426.6" r="1.4"/><circle cx="7.7" cy="447.5" r="1.5"/><circle cx="183.3" cy="86.3" r="0.8"/><circle cx="449.5" cy="397.7" r="0.9"/><circle cx="77.9" cy="337.9" r="0.9"/><circle cx="275.8" cy="172.8" r="1.4"/><circle cx="311.0" cy="143.1" r="1.1"/><circle cx="90.8" cy="456.9" r="1.2"/><circle cx="31.0" cy="235.4" r="1.5"/><circle cx="430.3" cy="154.9" r="1.6"/><circle cx="323.5" cy="442.4" r="1.1"/><circle cx="97.7" cy="5.5" r="1.4"/><circle cx="287.9" cy="187.9" r="1.7"/><circle cx="117.0" cy="385.0" r="1.7"/><circle cx="211.6" cy="20.0" r="1.4"/><circle cx="315.0" cy="452.2" r="1.7"/><circle cx="218.2" cy="321.0" r="1.0"/><circle cx="316.5" cy="373.3" r="1.3"/><circle cx="163.5" cy="17.9" r="1.2"/><circle cx="156.4" cy="431.0" r="1.0"/><circle cx="9.6" cy="142.8" r="1.3"/><circle cx="129.4" cy="348.6" r="1.1"/><circle cx="90.4" cy="92.1" r="1.6"/><circle cx="58.2" cy="296.4" r="1.3"/><circle cx="143.4" cy="396.2" r="1.5"/><circle cx="401.1" cy="150.4" r="1.5"/><circle cx="250.4" cy="347.1" r="1.6"/><circle cx="172.1" cy="287.1" r="1.7"/><circle cx="48.0" cy="435.0" r="1.1"/><circle cx="363.6" cy="87.2" r="1.8"/><circle cx="267.6" cy="23.7" r="1.2"/><circle cx="307.3" cy="327.6" r="1.1"/><circle cx="458.9" cy="197.9" r="1.0"/><circle cx="389.6" cy="445.5" r="1.5"/><circle cx="112.2" cy="146.5" r="1.5"/><circle cx="16.1" cy="135.8" r="1.3"/><circle cx="77.3" cy="408.7" r="1.6"/><circle cx="354.2" cy="158.2" r="1.7"/><circle cx="377.6" cy="237.6" r="1.0"/><circle cx="30.6" cy="274.2" r="0.9"/><circle cx="276.6" cy="9.7" r="1.6"/><circle cx="424.0" cy="403.6" r="1.6"/><circle cx="327.8" cy="394.3" r="1.0"/><circle cx="352.9" cy="339.6" r="1.3"/><circle cx="226.6" cy="335.2" r="0.8"/><circle cx="92.1" cy="167.7" r="1.7"/><circle cx="249.3" cy="171.4" r="1.1"/><circle cx="171.7" cy="443.7" r="0.8"/><circle cx="192.6" cy="411.8" r="1.7"/><circle cx="19.2" cy="155.2" r="0.8"/><circle cx="153.0" cy="168.9" r="1.0"/><circle cx="471.4" cy="10.8" r="1.0"/><circle cx="315.6" cy="238.9" r="1.4"/><circle cx="9.7" cy="169.4" r="1.3"/><circle cx="37.5" cy="151.5" r="1.3"/><circle cx="220.7" cy="255.7" r="1.0"/><circle cx="272.4" cy="395.9" r="1.0"/><circle cx="229.6" cy="147.7" r="1.0"/><circle cx="455.9" cy="192.3" r="0.8"/><circle cx="119.7" cy="65.0" r="1.0"/><circle cx="207.9" cy="182.7" r="1.4"/><circle cx="352.6" cy="129.2" r="1.0"/><circle cx="136.5" cy="175.7" r="1.1"/><circle cx="131.9" cy="443.2" r="0.9"/><circle cx="387.8" cy="216.6" r="1.4"/><circle cx="392.2" cy="214.7" r="1.7"/><circle cx="131.5" cy="313.6" r="0.9"/><circle cx="209.7" cy="96.1" r="1.6"/><circle cx="393.2" cy="411.7" r="1.3"/><circle cx="196.5" cy="215.9" r="1.5"/><circle cx="411.4" cy="149.7" r="1.8"/><circle cx="231.0" cy="283.2" r="0.8"/><circle cx="108.1" cy="289.2" r="1.6"/><circle cx="148.8" cy="269.4" r="1.0"/><circle cx="47.7" cy="301.0" r="1.4"/><circle cx="294.1" cy="51.5" r="1.2"/><circle cx="294.0" cy="433.1" r="1.0"/><circle cx="402.2" cy="377.1" r="0.9"/><circle cx="337.6" cy="439.7" r="1.4"/><circle cx="210.9" cy="327.3" r="1.2"/><circle cx="263.0" cy="339.7" r="1.1"/><circle cx="105.2" cy="165.5" r="1.0"/><circle cx="412.3" cy="201.6" r="0.8"/><circle cx="347.7" cy="418.7" r="1.6"/><circle cx="348.4" cy="153.9" r="1.0"/><circle cx="320.3" cy="209.3" r="0.8"/><circle cx="31.3" cy="237.0" r="1.4"/><circle cx="208.3" cy="430.0" r="0.8"/><circle cx="226.1" cy="81.8" r="1.5"/><circle cx="88.3" cy="129.0" r="1.4"/><circle cx="378.7" cy="36.0" r="1.2"/><circle cx="323.4" cy="143.6" r="0.9"/><circle cx="274.5" cy="225.0" r="0.9"/><circle cx="267.6" cy="246.7" r="1.1"/><circle cx="281.7" cy="454.4" r="0.8"/><circle cx="381.0" cy="452.0" r="1.7"/><circle cx="97.3" cy="62.5" r="1.7"/><circle cx="277.4" cy="321.0" r="1.3"/><circle cx="252.6" cy="292.3" r="1.4"/><circle cx="411.8" cy="284.8" r="1.0"/><circle cx="473.6" cy="74.0" r="1.6"/><circle cx="59.5" cy="186.8" r="0.9"/><circle cx="360.8" cy="152.7" r="1.2"/><circle cx="87.4" cy="234.8" r="1.5"/><circle cx="288.8" cy="424.8" r="0.9"/><circle cx="260.7" cy="115.7" r="1.2"/><circle cx="245.8" cy="114.1" r="1.6"/><circle cx="250.8" cy="44.1" r="1.0"/><circle cx="125.9" cy="126.1" r="1.5"/><circle cx="399.9" cy="372.4" r="1.2"/><circle cx="141.4" cy="235.5" r="1.7"/><circle cx="163.2" cy="443.7" r="1.2"/><circle cx="432.0" cy="462.5" r="0.9"/><circle cx="178.6" cy="157.8" r="1.5"/><circle cx="333.9" cy="221.8" r="0.8"/><circle cx="51.0" cy="277.6" r="1.4"/><circle cx="343.3" cy="172.5" r="0.8"/><circle cx="159.8" cy="146.0" r="0.8"/><circle cx="151.9" cy="429.6" r="1.6"/><circle cx="37.6" cy="31.5" r="0.9"/><circle cx="305.8" cy="399.0" r="1.4"/><circle cx="62.2" cy="113.8" r="0.8"/><circle cx="394.1" cy="376.0" r="0.9"/><circle cx="287.1" cy="103.9" r="1.2"/><circle cx="69.8" cy="225.5" r="1.0"/><circle cx="104.1" cy="145.2" r="0.9"/><circle cx="365.7" cy="468.1" r="1.5"/><circle cx="65.2" cy="193.3" r="1.3"/><circle cx="83.7" cy="399.5" r="1.1"/><circle cx="377.6" cy="131.2" r="1.0"/><circle cx="386.0" cy="344.5" r="1.1"/><circle cx="200.1" cy="364.3" r="1.2"/><circle cx="247.1" cy="436.6" r="1.2"/><circle cx="3.9" cy="202.7" r="1.4"/><circle cx="478.9" cy="472.7" r="0.9"/><circle cx="92.5" cy="360.1" r="1.5"/><circle cx="152.6" cy="311.1" r="1.3"/><circle cx="165.4" cy="348.5" r="1.5"/><circle cx="435.4" cy="382.6" r="1.7"/><circle cx="310.0" cy="94.7" r="1.1"/><circle cx="348.8" cy="379.4" r="1.3"/><circle cx="37.0" cy="241.9" r="1.1"/><circle cx="408.9" cy="410.1" r="1.4"/><circle cx="275.0" cy="449.1" r="1.0"/><circle cx="176.4" cy="225.1" r="1.5"/><circle cx="481.7" cy="324.1" r="1.6"/><circle cx="263.1" cy="314.3" r="1.8"/><circle cx="283.8" cy="131.6" r="0.8"/><circle cx="337.3" cy="209.4" r="1.1"/><circle cx="102.5" cy="429.0" r="1.3"/><circle cx="303.2" cy="474.0" r="0.8"/><circle cx="108.4" cy="112.4" r="1.4"/><circle cx="78.3" cy="320.7" r="0.8"/><circle cx="397.6" cy="26.7" r="1.0"/><circle cx="298.2" cy="103.2" r="1.6"/><circle cx="214.2" cy="121.4" r="1.7"/><circle cx="86.0" cy="437.8" r="1.1"/><circle cx="146.8" cy="0.4" r="1.7"/><circle cx="299.3" cy="224.3" r="1.5"/><circle cx="165.5" cy="85.5" r="1.2"/><circle cx="82.9" cy="211.8" r="1.4"/><circle cx="97.6" cy="269.5" r="1.1"/><circle cx="116.3" cy="461.5" r="1.8"/><circle cx="275.2" cy="211.9" r="1.0"/><circle cx="288.7" cy="334.5" r="1.1"/><circle cx="333.6" cy="435.2" r="1.2"/><circle cx="479.6" cy="107.4" r="1.2"/><circle cx="226.3" cy="9.8" r="1.4"/><circle cx="374.9" cy="354.0" r="1.4"/><circle cx="281.6" cy="44.6" r="1.1"/><circle cx="259.4" cy="374.5" r="1.7"/><circle cx="296.5" cy="27.1" r="1.6"/><circle cx="475.0" cy="26.1" r="1.0"/><circle cx="291.7" cy="196.7" r="1.5"/><circle cx="452.5" cy="346.1" r="1.2"/><circle cx="411.0" cy="216.6" r="1.1"/><circle cx="401.3" cy="187.2" r="1.7"/><circle cx="216.6" cy="413.9" r="1.1"/><circle cx="283.5" cy="341.8" r="1.0"/><circle cx="119.3" cy="215.0" r="1.3"/><circle cx="207.4" cy="149.7" r="1.5"/><circle cx="160.0" cy="447.7" r="1.3"/><circle cx="36.6" cy="376.2" r="0.9"/><circle cx="22.4" cy="356.5" r="1.7"/><circle cx="217.0" cy="231.1" r="1.3"/><circle cx="149.6" cy="316.6" r="1.1"/><circle cx="143.4" cy="317.1" r="1.8"/><circle cx="427.3" cy="347.7" r="1.5"/><circle cx="36.5" cy="332.6" r="1.1"/><circle cx="43.0" cy="186.5" r="1.2"/><circle cx="120.5" cy="72.5" r="1.3"/><circle cx="358.0" cy="329.2" r="1.3"/><circle cx="450.7" cy="417.6" r="1.8"/><circle cx="198.6" cy="394.4" r="1.0"/><circle cx="369.0" cy="18.5" r="0.9"/><circle cx="170.5" cy="223.8" r="1.8"/><circle cx="107.9" cy="147.8" r="1.6"/><circle cx="405.0" cy="87.4" r="0.8"/><circle cx="128.1" cy="68.3" r="1.1"/><circle cx="87.6" cy="75.1" r="0.9"/><circle cx="284.8" cy="176.7" r="0.9"/><circle cx="95.9" cy="271.9" r="0.8"/><circle cx="10.0" cy="350.5" r="1.0"/><circle cx="170.8" cy="358.3" r="1.1"/><circle cx="135.4" cy="347.4" r="1.8"/><circle cx="425.4" cy="461.4" r="1.4"/><circle cx="47.2" cy="254.7" r="0.9"/><circle cx="386.8" cy="35.5" r="0.8"/><circle cx="127.2" cy="177.4" r="1.4"/><circle cx="88.6" cy="474.5" r="0.8"/><circle cx="477.2" cy="233.4" r="1.2"/><circle cx="159.1" cy="176.9" r="0.9"/><circle cx="295.3" cy="25.1" r="1.0"/><circle cx="35.1" cy="74.3" r="1.2"/><circle cx="458.9" cy="317.6" r="0.9"/><circle cx="436.7" cy="173.0" r="1.2"/><circle cx="365.8" cy="411.7" r="1.1"/><circle cx="105.9" cy="141.0" r="0.9"/><circle cx="185.5" cy="149.3" r="1.2"/><circle cx="35.5" cy="375.2" r="1.6"/><circle cx="124.8" cy="393.2" r="1.7"/><circle cx="318.3" cy="384.2" r="1.7"/><circle cx="164.4" cy="19.4" r="1.4"/><circle cx="192.0" cy="214.6" r="1.4"/><circle cx="462.1" cy="303.1" r="1.4"/><circle cx="128.5" cy="179.1" r="1.1"/><circle cx="359.0" cy="438.9" r="0.9"/><circle cx="325.6" cy="392.7" r="1.5"/><circle cx="372.6" cy="413.4" r="0.8"/><circle cx="373.1" cy="415.5" r="1.7"/><circle cx="1.4" cy="224.0" r="1.4"/><circle cx="7.7" cy="423.5" r="0.9"/><circle cx="45.9" cy="225.2" r="0.8"/><circle cx="332.4" cy="473.0" r="1.3"/><circle cx="260.9" cy="192.5" r="1.7"/><circle cx="20.6" cy="294.6" r="1.6"/><circle cx="477.8" cy="205.6" r="1.1"/><circle cx="436.8" cy="149.7" r="1.2"/><circle cx="431.3" cy="185.9" r="1.0"/><circle cx="164.7" cy="157.7" r="1.0"/><circle cx="124.4" cy="301.8" r="1.8"/><circle cx="0.3" cy="185.6" r="1.6"/><circle cx="64.3" cy="137.4" r="1.3"/><circle cx="35.9" cy="88.2" r="1.5"/><circle cx="264.9" cy="40.8" r="0.9"/><circle cx="20.2" cy="45.6" r="1.0"/><circle cx="126.3" cy="290.6" r="1.0"/><circle cx="96.3" cy="78.7" r="1.3"/><circle cx="320.9" cy="21.4" r="1.0"/><circle cx="460.5" cy="349.0" r="1.3"/><circle cx="347.9" cy="23.5" r="0.8"/><circle cx="174.7" cy="221.4" r="1.7"/><circle cx="23.6" cy="361.7" r="1.4"/><circle cx="324.0" cy="151.2" r="1.6"/><circle cx="401.4" cy="175.1" r="1.4"/><circle cx="120.5" cy="22.5" r="1.1"/><circle cx="7.6" cy="123.1" r="1.7"/><circle cx="112.4" cy="358.5" r="1.1"/><circle cx="405.8" cy="454.2" r="0.9"/><circle cx="404.8" cy="397.9" r="1.0"/><circle cx="72.2" cy="466.4" r="1.2"/><circle cx="288.8" cy="170.2" r="0.8"/><circle cx="413.5" cy="272.4" r="0.9"/><circle cx="341.6" cy="320.6" r="0.8"/><circle cx="464.7" cy="267.5" r="1.7"/><circle cx="472.9" cy="65.6" r="1.2"/><circle cx="433.6" cy="245.7" r="0.8"/><circle cx="143.0" cy="19.8" r="1.5"/><circle cx="83.9" cy="343.8" r="1.7"/><circle cx="246.0" cy="268.3" r="1.2"/><circle cx="71.7" cy="176.6" r="1.6"/><circle cx="409.1" cy="347.2" r="0.9"/><circle cx="374.8" cy="469.9" r="1.8"/><circle cx="415.8" cy="368.0" r="1.7"/><circle cx="63.3" cy="213.5" r="1.1"/><circle cx="108.1" cy="313.2" r="1.5"/><circle cx="237.8" cy="197.1" r="1.3"/><circle cx="122.6" cy="423.9" r="1.1"/><circle cx="99.4" cy="345.5" r="0.8"/><circle cx="183.3" cy="407.4" r="0.9"/><circle cx="210.2" cy="95.1" r="1.7"/><circle cx="376.2" cy="433.9" r="1.4"/><circle cx="45.5" cy="89.1" r="1.1"/><circle cx="382.3" cy="37.8" r="1.1"/><circle cx="302.3" cy="362.7" r="1.0"/><circle cx="224.9" cy="451.8" r="1.3"/><circle cx="99.5" cy="464.3" r="0.9"/><circle cx="218.8" cy="99.0" r="1.1"/><circle cx="33.4" cy="206.1" r="1.1"/><circle cx="278.0" cy="135.8" r="1.6"/><circle cx="9.9" cy="403.7" r="1.6"/><circle cx="150.0" cy="110.9" r="0.9"/><circle cx="336.4" cy="175.2" r="1.0"/><circle cx="342.0" cy="70.7" r="1.5"/><circle cx="101.9" cy="128.1" r="1.1"/><circle cx="437.6" cy="21.6" r="0.8"/><circle cx="224.1" cy="381.4" r="1.5"/><circle cx="161.5" cy="149.2" r="0.8"/><circle cx="257.1" cy="412.0" r="0.9"/><circle cx="353.2" cy="83.1" r="1.6"/><circle cx="378.2" cy="352.5" r="1.4"/><circle cx="98.6" cy="152.2" r="1.8"/><circle cx="230.0" cy="412.7" r="1.0"/><circle cx="315.7" cy="60.7" r="1.6"/><circle cx="431.0" cy="470.2" r="1.3"/><circle cx="81.4" cy="105.4" r="1.7"/><circle cx="150.0" cy="54.4" r="1.2"/><circle cx="9.1" cy="27.4" r="1.2"/><circle cx="17.0" cy="311.4" r="1.0"/><circle cx="388.4" cy="268.5" r="1.6"/><circle cx="394.8" cy="476.2" r="1.3"/><circle cx="392.1" cy="148.5" r="1.1"/><circle cx="40.3" cy="438.0" r="0.9"/><circle cx="192.6" cy="21.3" r="1.8"/><circle cx="288.0" cy="321.3" r="1.5"/><circle cx="23.9" cy="375.5" r="1.0"/><circle cx="147.2" cy="93.5" r="1.0"/><circle cx="446.7" cy="212.2" r="1.1"/><circle cx="311.7" cy="362.1" r="1.1"/><circle cx="228.9" cy="295.7" r="1.2"/><circle cx="310.6" cy="411.2" r="1.0"/><circle cx="195.5" cy="296.8" r="1.4"/><circle cx="105.3" cy="306.8" r="1.2"/><circle cx="332.1" cy="422.3" r="1.2"/><circle cx="452.8" cy="248.1" r="1.8"/><circle cx="178.6" cy="74.2" r="1.6"/><circle cx="395.6" cy="137.9" r="1.1"/><circle cx="326.0" cy="27.7" r="1.6"/><circle cx="25.5" cy="447.3" r="1.2"/><circle cx="179.8" cy="40.2" r="1.3"/><circle cx="435.1" cy="99.8" r="1.6"/><circle cx="162.9" cy="268.6" r="1.2"/><circle cx="40.0" cy="327.1" r="1.4"/><circle cx="83.4" cy="460.6" r="1.4"/><circle cx="162.0" cy="252.8" r="1.5"/><circle cx="183.8" cy="423.4" r="1.5"/><circle cx="33.6" cy="236.8" r="1.1"/><circle cx="161.1" cy="173.3" r="1.1"/><circle cx="452.0" cy="312.9" r="1.1"/><circle cx="465.0" cy="23.3" r="1.0"/><circle cx="52.0" cy="256.8" r="1.4"/><circle cx="188.4" cy="396.1" r="1.2"/><circle cx="454.9" cy="93.4" r="1.5"/><circle cx="86.2" cy="266.9" r="1.7"/><circle cx="221.4" cy="144.5" r="1.8"/><circle cx="431.1" cy="105.7" r="1.3"/><circle cx="343.1" cy="442.3" r="1.4"/><circle cx="226.5" cy="408.8" r="0.8"/><circle cx="136.8" cy="474.5" r="1.3"/><circle cx="145.7" cy="274.2" r="1.0"/><circle cx="306.1" cy="48.2" r="1.2"/><circle cx="106.1" cy="173.9" r="1.6"/><circle cx="99.4" cy="247.9" r="1.2"/><circle cx="11.2" cy="79.1" r="1.3"/><circle cx="11.3" cy="283.0" r="1.7"/><circle cx="62.4" cy="391.5" r="1.4"/><circle cx="224.1" cy="206.0" r="1.6"/><circle cx="436.6" cy="437.8" r="1.3"/><circle cx="30.0" cy="302.5" r="1.6"/><circle cx="435.4" cy="73.7" r="1.3"/><circle cx="241.6" cy="225.3" r="1.2"/><circle cx="12.1" cy="315.3" r="1.1"/><circle cx="236.0" cy="221.8" r="1.3"/><circle cx="361.1" cy="128.5" r="0.8"/><circle cx="158.0" cy="421.3" r="1.1"/><circle cx="435.6" cy="62.5" r="1.5"/><circle cx="468.3" cy="418.2" r="1.4"/><circle cx="275.1" cy="258.9" r="1.3"/><circle cx="55.1" cy="406.0" r="1.1"/><circle cx="193.1" cy="175.0" r="1.3"/><circle cx="189.3" cy="244.9" r="1.5"/><circle cx="422.8" cy="96.6" r="1.2"/><circle cx="228.9" cy="194.6" r="1.7"/><circle cx="347.5" cy="195.5" r="1.6"/><circle cx="202.3" cy="102.7" r="1.0"/><circle cx="414.2" cy="313.1" r="1.5"/><circle cx="129.1" cy="242.0" r="1.6"/><circle cx="94.0" cy="1.3" r="1.8"/><circle cx="402.9" cy="343.9" r="1.5"/><circle cx="410.6" cy="377.7" r="1.0"/><circle cx="223.9" cy="123.1" r="0.9"/><circle cx="446.9" cy="203.4" r="1.3"/><circle cx="22.8" cy="371.1" r="1.7"/><circle cx="135.2" cy="472.8" r="0.9"/><circle cx="89.1" cy="41.3" r="1.0"/><circle cx="420.9" cy="314.7" r="1.6"/><circle cx="372.7" cy="93.2" r="1.2"/><circle cx="270.7" cy="92.9" r="0.8"/><circle cx="337.3" cy="39.0" r="0.9"/><circle cx="405.9" cy="453.6" r="1.4"/><circle cx="397.0" cy="376.4" r="1.8"/><circle cx="201.6" cy="273.2" r="1.6"/><circle cx="65.4" cy="227.7" r="1.7"/><circle cx="335.7" cy="171.6" r="1.7"/><circle cx="8.5" cy="23.0" r="1.1"/><circle cx="256.5" cy="23.3" r="1.7"/><circle cx="34.5" cy="102.1" r="1.6"/><circle cx="242.7" cy="179.9" r="0.9"/><circle cx="425.4" cy="106.8" r="1.1"/><circle cx="447.6" cy="266.8" r="1.7"/><circle cx="305.9" cy="339.6" r="1.5"/><circle cx="347.0" cy="5.6" r="1.5"/><circle cx="450.4" cy="179.1" r="1.2"/><circle cx="29.5" cy="178.5" r="1.6"/><circle cx="391.6" cy="74.0" r="1.1"/><circle cx="15.4" cy="1.5" r="1.4"/><circle cx="138.2" cy="317.5" r="1.4"/><circle cx="169.0" cy="325.7" r="1.7"/><circle cx="123.6" cy="29.4" r="0.9"/><circle cx="303.6" cy="287.3" r="1.6"/><circle cx="102.2" cy="153.3" r="1.2"/><circle cx="280.1" cy="390.3" r="1.7"/><circle cx="456.1" cy="265.2" r="1.2"/><circle cx="298.4" cy="214.4" r="1.6"/><circle cx="302.8" cy="460.2" r="1.5"/><circle cx="138.0" cy="363.8" r="1.5"/><circle cx="353.6" cy="0.3" r="1.4"/><circle cx="77.7" cy="160.7" r="1.2"/><circle cx="117.1" cy="311.1" r="1.6"/><circle cx="343.0" cy="251.8" r="1.4"/><circle cx="34.0" cy="134.7" r="0.8"/><circle cx="157.4" cy="362.1" r="1.4"/><circle cx="159.7" cy="371.4" r="1.5"/><circle cx="447.1" cy="440.2" r="1.1"/><circle cx="312.8" cy="139.9" r="0.9"/><circle cx="461.2" cy="452.5" r="1.2"/><circle cx="417.4" cy="346.6" r="0.9"/><circle cx="393.0" cy="7.3" r="0.8"/><circle cx="460.9" cy="299.9" r="0.9"/><circle cx="469.6" cy="50.8" r="1.6"/><circle cx="329.4" cy="226.8" r="1.1"/><circle cx="405.1" cy="272.1" r="0.9"/><circle cx="314.4" cy="361.4" r="1.2"/><circle cx="81.4" cy="449.9" r="1.3"/><circle cx="360.7" cy="391.5" r="1.0"/><circle cx="156.3" cy="231.6" r="1.5"/><circle cx="208.0" cy="386.0" r="1.2"/><circle cx="350.6" cy="207.7" r="1.0"/><circle cx="71.2" cy="34.1" r="1.4"/><circle cx="347.6" cy="408.3" r="1.1"/><circle cx="214.4" cy="134.0" r="1.0"/><circle cx="478.2" cy="388.5" r="1.7"/><circle cx="49.0" cy="11.8" r="0.9"/><circle cx="34.0" cy="273.3" r="1.3"/><circle cx="435.8" cy="449.3" r="1.4"/><circle cx="261.7" cy="69.6" r="1.6"/><circle cx="131.8" cy="133.9" r="1.2"/><circle cx="182.3" cy="246.5" r="1.2"/><circle cx="399.6" cy="281.4" r="1.3"/><circle cx="119.5" cy="100.9" r="1.1"/><circle cx="175.2" cy="283.6" r="1.3"/><circle cx="199.1" cy="434.2" r="1.1"/><circle cx="153.4" cy="1.1" r="1.5"/><circle cx="205.3" cy="131.8" r="0.8"/><circle cx="421.7" cy="50.9" r="1.5"/><circle cx="153.9" cy="135.7" r="0.9"/><circle cx="346.7" cy="467.5" r="1.0"/><circle cx="386.1" cy="469.7" r="1.6"/><circle cx="424.0" cy="121.7" r="0.9"/><circle cx="49.9" cy="389.4" r="1.6"/><circle cx="337.8" cy="45.0" r="1.1"/><circle cx="266.7" cy="237.7" r="0.9"/><circle cx="4.7" cy="272.6" r="1.3"/><circle cx="148.1" cy="178.1" r="1.7"/><circle cx="110.0" cy="145.1" r="1.4"/><circle cx="105.1" cy="34.7" r="1.4"/><circle cx="206.4" cy="134.8" r="1.5"/><circle cx="168.3" cy="355.6" r="1.7"/><circle cx="257.1" cy="231.6" r="1.4"/><circle cx="188.1" cy="249.3" r="1.5"/><circle cx="248.4" cy="307.3" r="0.9"/><circle cx="97.4" cy="351.8" r="1.3"/><circle cx="1.2" cy="394.4" r="0.9"/><circle cx="103.7" cy="416.0" r="1.3"/><circle cx="308.8" cy="469.5" r="0.8"/><circle cx="451.6" cy="261.8" r="1.3"/><circle cx="74.6" cy="274.1" r="1.7"/><circle cx="306.6" cy="76.9" r="1.6"/><circle cx="468.8" cy="207.4" r="1.8"/><circle cx="372.9" cy="301.3" r="1.3"/><circle cx="313.0" cy="242.9" r="1.0"/><circle cx="40.7" cy="197.2" r="0.9"/><circle cx="151.8" cy="414.7" r="1.6"/><circle cx="95.5" cy="27.9" r="1.7"/><circle cx="470.7" cy="94.5" r="0.9"/><circle cx="233.4" cy="378.3" r="1.3"/><circle cx="316.1" cy="434.6" r="1.3"/><circle cx="353.0" cy="205.7" r="1.8"/><circle cx="472.7" cy="74.6" r="1.2"/><circle cx="480.6" cy="102.5" r="1.5"/><circle cx="69.2" cy="155.1" r="1.6"/><circle cx="173.8" cy="423.4" r="1.6"/><circle cx="149.3" cy="372.8" r="1.1"/><circle cx="271.4" cy="168.1" r="1.1"/><circle cx="450.3" cy="89.8" r="1.2"/><circle cx="368.7" cy="368.4" r="1.5"/><circle cx="45.5" cy="50.6" r="1.1"/><circle cx="74.3" cy="90.5" r="1.4"/><circle cx="201.1" cy="401.4" r="1.8"/><circle cx="74.3" cy="345.2" r="1.4"/><circle cx="222.7" cy="127.5" r="0.8"/><circle cx="468.6" cy="166.1" r="1.3"/><circle cx="312.0" cy="205.7" r="1.2"/><circle cx="148.3" cy="22.3" r="1.4"/><circle cx="477.4" cy="122.9" r="1.0"/><circle cx="36.6" cy="409.9" r="1.7"/><circle cx="293.9" cy="321.5" r="1.4"/><circle cx="341.8" cy="114.8" r="1.8"/><circle cx="307.7" cy="429.5" r="1.7"/><circle cx="53.5" cy="470.4" r="1.7"/><circle cx="94.8" cy="406.1" r="1.0"/><circle cx="18.7" cy="316.7" r="1.0"/><circle cx="319.7" cy="245.1" r="1.2"/><circle cx="23.0" cy="376.4" r="1.4"/><circle cx="26.7" cy="363.8" r="1.1"/><circle cx="477.3" cy="303.8" r="1.5"/><circle cx="466.6" cy="449.6" r="1.4"/><circle cx="387.0" cy="119.8" r="1.8"/><circle cx="382.8" cy="367.7" r="1.3"/><circle cx="157.2" cy="59.0" r="1.5"/><circle cx="336.5" cy="303.7" r="1.7"/><circle cx="68.7" cy="232.8" r="1.2"/><circle cx="204.6" cy="155.1" r="1.5"/><circle cx="329.8" cy="451.0" r="0.9"/><circle cx="191.2" cy="174.9" r="0.9"/><circle cx="220.3" cy="76.6" r="1.5"/><circle cx="303.2" cy="397.4" r="1.1"/><circle cx="57.1" cy="198.4" r="0.8"/><circle cx="0.7" cy="451.8" r="1.0"/><circle cx="180.3" cy="0.6" r="1.7"/><circle cx="201.1" cy="295.8" r="1.7"/><circle cx="16.6" cy="281.4" r="1.4"/><circle cx="215.9" cy="167.0" r="1.4"/><circle cx="368.2" cy="99.8" r="1.6"/><circle cx="87.3" cy="291.2" r="1.0"/><circle cx="170.5" cy="375.3" r="0.8"/><circle cx="238.5" cy="249.1" r="1.5"/><circle cx="444.6" cy="182.4" r="1.4"/><circle cx="374.9" cy="419.0" r="1.3"/><circle cx="168.5" cy="69.4" r="1.4"/><circle cx="66.4" cy="116.4" r="1.5"/><circle cx="461.9" cy="308.5" r="1.1"/><circle cx="98.8" cy="94.1" r="0.8"/><circle cx="426.3" cy="204.0" r="1.6"/><circle cx="67.5" cy="193.2" r="1.2"/><circle cx="33.5" cy="391.9" r="1.4"/><circle cx="222.5" cy="39.7" r="1.1"/><circle cx="251.3" cy="33.0" r="1.6"/><circle cx="134.5" cy="316.1" r="1.4"/><circle cx="55.1" cy="130.0" r="0.9"/><circle cx="287.0" cy="413.0" r="1.5"/><circle cx="63.9" cy="306.7" r="1.7"/><circle cx="296.3" cy="426.5" r="1.0"/><circle cx="171.4" cy="127.7" r="0.8"/><circle cx="64.2" cy="35.2" r="1.6"/><circle cx="391.2" cy="263.4" r="1.5"/><circle cx="202.0" cy="70.5" r="1.4"/><circle cx="339.5" cy="441.5" r="1.3"/><circle cx="14.5" cy="301.0" r="1.3"/><circle cx="54.8" cy="122.1" r="1.4"/><circle cx="108.2" cy="134.8" r="1.4"/><circle cx="44.6" cy="334.2" r="1.3"/><circle cx="216.3" cy="298.2" r="0.9"/><circle cx="44.0" cy="317.7" r="1.7"/><circle cx="287.9" cy="363.3" r="1.6"/><circle cx="87.4" cy="280.3" r="1.4"/><circle cx="157.1" cy="164.5" r="0.8"/><circle cx="220.1" cy="26.8" r="1.8"/><circle cx="80.4" cy="440.7" r="1.5"/><circle cx="256.1" cy="124.3" r="1.5"/><circle cx="26.2" cy="408.4" r="0.9"/><circle cx="394.8" cy="157.6" r="0.8"/><circle cx="306.7" cy="150.5" r="1.6"/><circle cx="164.9" cy="138.3" r="1.1"/><circle cx="345.1" cy="11.1" r="1.1"/><circle cx="51.2" cy="133.1" r="0.9"/><circle cx="42.5" cy="29.3" r="0.8"/><circle cx="396.5" cy="254.4" r="1.4"/><circle cx="405.0" cy="401.2" r="1.5"/><circle cx="336.0" cy="391.9" r="1.2"/><circle cx="453.9" cy="450.7" r="1.7"/><circle cx="4.3" cy="300.9" r="1.6"/><circle cx="72.1" cy="106.7" r="1.1"/><circle cx="37.7" cy="169.4" r="0.9"/><circle cx="208.7" cy="77.1" r="1.1"/><circle cx="473.9" cy="44.4" r="1.7"/><circle cx="376.2" cy="404.8" r="1.1"/><circle cx="186.3" cy="371.0" r="1.8"/><circle cx="261.5" cy="417.2" r="1.4"/><circle cx="170.3" cy="394.8" r="1.1"/><circle cx="315.8" cy="410.7" r="0.8"/><circle cx="88.8" cy="77.9" r="1.3"/><circle cx="325.0" cy="126.5" r="1.8"/><circle cx="279.5" cy="63.0" r="1.5"/><circle cx="63.0" cy="260.9" r="1.5"/><circle cx="399.5" cy="400.6" r="1.6"/><circle cx="318.5" cy="434.0" r="0.8"/><circle cx="265.6" cy="282.5" r="1.0"/><circle cx="16.4" cy="53.9" r="0.9"/><circle cx="333.9" cy="284.8" r="1.2"/><circle cx="342.5" cy="91.0" r="1.6"/><circle cx="75.1" cy="108.7" r="1.3"/><circle cx="390.9" cy="434.0" r="1.5"/><circle cx="137.8" cy="347.1" r="1.2"/><circle cx="95.1" cy="234.6" r="1.8"/><circle cx="52.2" cy="231.5" r="1.1"/><circle cx="312.0" cy="118.1" r="0.9"/><circle cx="436.8" cy="85.6" r="1.6"/><circle cx="212.5" cy="249.5" r="1.4"/><circle cx="393.0" cy="91.1" r="1.1"/><circle cx="458.6" cy="16.5" r="1.7"/><circle cx="418.1" cy="401.5" r="1.7"/><circle cx="276.1" cy="421.8" r="0.9"/><circle cx="225.3" cy="112.9" r="1.2"/><circle cx="260.7" cy="125.5" r="1.3"/><circle cx="342.1" cy="423.1" r="1.3"/><circle cx="121.6" cy="14.1" r="1.7"/><circle cx="295.4" cy="361.2" r="1.0"/><circle cx="297.9" cy="327.0" r="1.4"/><circle cx="174.0" cy="80.5" r="1.5"/><circle cx="3.5" cy="252.2" r="1.0"/><circle cx="109.8" cy="246.1" r="1.2"/><circle cx="82.4" cy="191.3" r="1.3"/><circle cx="39.7" cy="468.0" r="1.3"/><circle cx="143.2" cy="436.0" r="1.6"/><circle cx="168.5" cy="222.9" r="1.8"/><circle cx="409.8" cy="269.9" r="1.5"/><circle cx="297.6" cy="413.4" r="1.3"/><circle cx="196.7" cy="347.6" r="1.1"/><circle cx="196.7" cy="408.2" r="1.3"/><circle cx="453.5" cy="224.9" r="0.9"/><circle cx="346.4" cy="474.7" r="1.4"/><circle cx="380.5" cy="401.4" r="1.5"/><circle cx="142.8" cy="137.0" r="1.5"/><circle cx="75.9" cy="470.0" r="1.5"/><circle cx="467.6" cy="153.9" r="1.2"/><circle cx="332.8" cy="227.2" r="0.9"/><circle cx="450.7" cy="109.6" r="1.2"/><circle cx="271.4" cy="22.1" r="1.4"/><circle cx="349.1" cy="318.2" r="1.3"/><circle cx="139.7" cy="81.4" r="0.9"/><circle cx="443.7" cy="398.1" r="0.9"/><circle cx="30.3" cy="167.0" r="1.1"/><circle cx="327.9" cy="257.1" r="1.7"/><circle cx="192.1" cy="16.9" r="1.0"/><circle cx="363.5" cy="118.3" r="0.8"/><circle cx="31.5" cy="162.7" r="1.4"/><circle cx="381.8" cy="335.4" r="1.1"/><circle cx="189.5" cy="415.9" r="1.2"/><circle cx="436.5" cy="285.8" r="1.4"/><circle cx="368.3" cy="373.7" r="1.4"/><circle cx="385.3" cy="238.5" r="1.6"/><circle cx="212.0" cy="465.8" r="1.6"/><circle cx="97.6" cy="250.1" r="1.7"/><circle cx="293.9" cy="166.9" r="1.5"/><circle cx="228.7" cy="450.4" r="1.7"/><circle cx="56.7" cy="122.0" r="1.6"/><circle cx="286.0" cy="267.6" r="1.0"/><circle cx="208.0" cy="17.2" r="1.4"/><circle cx="227.1" cy="255.4" r="1.1"/><circle cx="69.9" cy="263.0" r="1.4"/><circle cx="360.0" cy="231.4" r="1.4"/><circle cx="253.1" cy="310.3" r="1.0"/><circle cx="422.7" cy="350.7" r="1.7"/><circle cx="293.2" cy="467.0" r="0.8"/><circle cx="18.5" cy="412.4" r="1.5"/><circle cx="235.5" cy="206.6" r="1.3"/><circle cx="479.8" cy="417.2" r="1.0"/><circle cx="22.2" cy="297.9" r="1.8"/><circle cx="360.6" cy="76.9" r="1.7"/><circle cx="76.4" cy="454.8" r="1.6"/><circle cx="306.3" cy="381.7" r="1.1"/><circle cx="42.1" cy="422.9" r="0.9"/><circle cx="191.1" cy="259.3" r="1.1"/><circle cx="349.9" cy="324.5" r="1.3"/><circle cx="462.2" cy="337.5" r="1.7"/><circle cx="16.1" cy="126.1" r="1.5"/><circle cx="413.7" cy="381.9" r="0.8"/><circle cx="140.7" cy="394.6" r="1.7"/><circle cx="239.6" cy="22.2" r="1.1"/><circle cx="46.7" cy="121.6" r="1.6"/><circle cx="50.2" cy="446.2" r="0.9"/><circle cx="402.6" cy="145.1" r="1.6"/><circle cx="323.2" cy="302.4" r="1.7"/><circle cx="183.8" cy="239.9" r="1.1"/><circle cx="406.0" cy="230.5" r="0.9"/><circle cx="90.8" cy="342.3" r="1.3"/><circle cx="387.2" cy="141.6" r="1.4"/><circle cx="335.4" cy="318.5" r="1.3"/><circle cx="163.4" cy="278.7" r="1.7"/><circle cx="179.3" cy="173.5" r="1.0"/><circle cx="195.6" cy="352.6" r="1.5"/><circle cx="451.8" cy="368.8" r="1.5"/><circle cx="272.7" cy="147.2" r="1.0"/><circle cx="114.2" cy="46.1" r="1.0"/><circle cx="341.5" cy="70.5" r="1.7"/><circle cx="224.8" cy="109.2" r="1.5"/><circle cx="429.8" cy="13.0" r="1.7"/><circle cx="470.3" cy="51.5" r="1.6"/><circle cx="129.5" cy="373.4" r="1.5"/><circle cx="164.0" cy="386.6" r="1.7"/><circle cx="392.3" cy="14.8" r="1.0"/><circle cx="321.7" cy="306.8" r="1.6"/><circle cx="259.2" cy="6.5" r="1.7"/><circle cx="229.0" cy="219.6" r="1.4"/><circle cx="129.5" cy="32.5" r="1.3"/><circle cx="48.2" cy="65.5" r="1.1"/><circle cx="336.5" cy="369.7" r="1.8"/><circle cx="443.2" cy="434.7" r="0.9"/><circle cx="230.4" cy="339.0" r="1.3"/><circle cx="482.5" cy="161.6" r="1.6"/><circle cx="306.4" cy="216.6" r="1.4"/><circle cx="439.1" cy="223.8" r="0.8"/><circle cx="409.6" cy="223.1" r="1.0"/><circle cx="135.1" cy="111.4" r="0.9"/><circle cx="1.8" cy="79.3" r="1.6"/><circle cx="405.6" cy="27.7" r="1.2"/><circle cx="59.1" cy="212.9" r="1.1"/><circle cx="215.6" cy="35.8" r="0.9"/><circle cx="287.4" cy="43.0" r="1.5"/><circle cx="420.2" cy="79.6" r="0.9"/><circle cx="321.0" cy="217.9" r="1.6"/><circle cx="357.7" cy="86.0" r="1.6"/><circle cx="371.2" cy="461.9" r="1.5"/><circle cx="9.3" cy="200.9" r="1.6"/><circle cx="265.1" cy="202.5" r="1.2"/><circle cx="401.3" cy="230.8" r="1.2"/><circle cx="2.8" cy="81.2" r="1.0"/><circle cx="264.1" cy="163.5" r="1.4"/><circle cx="233.4" cy="251.7" r="1.8"/><circle cx="298.2" cy="201.3" r="1.0"/><circle cx="11.6" cy="134.7" r="1.4"/><circle cx="464.3" cy="153.2" r="1.6"/><circle cx="359.3" cy="213.8" r="1.3"/><circle cx="157.8" cy="206.5" r="1.1"/><circle cx="141.4" cy="221.2" r="1.1"/><circle cx="449.8" cy="55.9" r="1.6"/><circle cx="14.3" cy="129.3" r="1.1"/><circle cx="230.0" cy="422.4" r="0.9"/><circle cx="272.7" cy="100.9" r="0.9"/><circle cx="397.2" cy="251.1" r="0.9"/><circle cx="198.3" cy="39.7" r="0.9"/><circle cx="180.5" cy="130.6" r="1.2"/><circle cx="191.6" cy="366.2" r="1.4"/><circle cx="405.1" cy="440.6" r="1.7"/><circle cx="472.2" cy="229.8" r="1.2"/><circle cx="98.3" cy="154.3" r="1.4"/><circle cx="409.0" cy="129.6" r="1.1"/><circle cx="362.3" cy="246.1" r="1.4"/><circle cx="68.8" cy="124.5" r="1.1"/><circle cx="27.7" cy="158.1" r="1.2"/><circle cx="64.5" cy="144.1" r="1.4"/><circle cx="226.5" cy="73.6" r="1.6"/><circle cx="311.1" cy="262.9" r="1.1"/><circle cx="366.6" cy="344.1" r="1.0"/><circle cx="1.7" cy="67.8" r="1.3"/><circle cx="132.4" cy="89.6" r="1.6"/><circle cx="453.0" cy="257.5" r="0.9"/><circle cx="95.6" cy="6.3" r="1.0"/><circle cx="207.5" cy="170.3" r="1.0"/><circle cx="62.2" cy="250.7" r="1.4"/><circle cx="257.0" cy="168.5" r="1.5"/><circle cx="233.1" cy="47.9" r="0.9"/><circle cx="384.0" cy="438.6" r="1.2"/><circle cx="118.5" cy="380.2" r="0.8"/><circle cx="438.3" cy="416.1" r="1.3"/><circle cx="414.5" cy="473.9" r="1.4"/><circle cx="72.2" cy="441.3" r="1.8"/><circle cx="454.2" cy="53.8" r="1.1"/><circle cx="33.7" cy="64.1" r="1.5"/><circle cx="423.3" cy="74.5" r="1.3"/><circle cx="194.9" cy="268.0" r="1.5"/><circle cx="454.6" cy="379.8" r="1.1"/><circle cx="195.6" cy="387.3" r="1.6"/><circle cx="44.2" cy="49.3" r="1.4"/><circle cx="453.4" cy="471.0" r="1.4"/><circle cx="110.5" cy="25.2" r="1.1"/><circle cx="109.8" cy="431.1" r="1.6"/><circle cx="155.4" cy="445.3" r="1.0"/><circle cx="252.6" cy="0.0" r="1.2"/><circle cx="404.3" cy="309.6" r="1.7"/><circle cx="230.1" cy="61.6" r="0.9"/><circle cx="7.3" cy="67.6" r="1.3"/><circle cx="366.4" cy="90.4" r="1.6"/><circle cx="405.6" cy="473.6" r="0.9"/><circle cx="472.2" cy="366.7" r="1.0"/><circle cx="306.0" cy="62.9" r="0.8"/><circle cx="260.7" cy="200.7" r="1.1"/><circle cx="189.3" cy="468.4" r="1.7"/><circle cx="383.2" cy="171.9" r="1.2"/><circle cx="406.7" cy="11.3" r="1.6"/><circle cx="60.7" cy="338.9" r="1.1"/><circle cx="299.7" cy="302.0" r="1.7"/><circle cx="130.4" cy="141.9" r="1.6"/><circle cx="8.1" cy="160.5" r="1.3"/><circle cx="192.7" cy="13.7" r="1.5"/><circle cx="364.5" cy="6.5" r="1.0"/><circle cx="97.4" cy="95.3" r="1.6"/><circle cx="85.2" cy="0.4" r="1.6"/><circle cx="41.5" cy="55.6" r="1.8"/><circle cx="20.9" cy="326.3" r="1.1"/><circle cx="235.3" cy="180.2" r="1.5"/><circle cx="457.8" cy="98.0" r="0.9"/><circle cx="308.3" cy="152.8" r="1.3"/><circle cx="295.5" cy="471.8" r="1.3"/><circle cx="163.8" cy="350.5" r="1.0"/><circle cx="214.1" cy="293.8" r="0.9"/><circle cx="290.5" cy="109.2" r="1.2"/><circle cx="95.1" cy="385.5" r="1.5"/><circle cx="80.7" cy="185.5" r="1.5"/><circle cx="426.3" cy="44.9" r="0.9"/><circle cx="170.0" cy="319.3" r="1.8"/><circle cx="213.3" cy="18.7" r="1.0"/><circle cx="110.7" cy="78.5" r="1.0"/><circle cx="5.5" cy="45.2" r="1.4"/><circle cx="53.8" cy="80.1" r="1.2"/><circle cx="77.6" cy="363.1" r="1.6"/><circle cx="0.5" cy="266.5" r="1.7"/><circle cx="280.1" cy="162.7" r="1.0"/><circle cx="165.4" cy="393.7" r="1.7"/><circle cx="128.6" cy="425.2" r="1.5"/><circle cx="449.7" cy="296.3" r="1.3"/><circle cx="23.9" cy="331.8" r="1.6"/><circle cx="465.1" cy="183.5" r="1.6"/><circle cx="205.3" cy="392.4" r="1.6"/><circle cx="304.9" cy="425.8" r="1.2"/><circle cx="30.6" cy="303.4" r="0.9"/><circle cx="296.8" cy="99.2" r="1.1"/><circle cx="336.1" cy="363.6" r="0.8"/><circle cx="221.8" cy="260.7" r="1.1"/><circle cx="185.2" cy="124.4" r="1.0"/><circle cx="429.0" cy="139.4" r="0.8"/><circle cx="320.7" cy="308.4" r="1.8"/><circle cx="371.0" cy="279.5" r="1.2"/><circle cx="280.9" cy="67.6" r="1.1"/><circle cx="466.5" cy="243.4" r="1.2"/><circle cx="68.2" cy="152.5" r="1.3"/><circle cx="355.4" cy="426.4" r="1.2"/><circle cx="257.4" cy="452.9" r="1.1"/><circle cx="52.7" cy="66.5" r="1.6"/><circle cx="406.8" cy="457.2" r="1.0"/><circle cx="43.7" cy="180.4" r="1.2"/><circle cx="72.1" cy="119.6" r="1.3"/><circle cx="233.9" cy="43.7" r="1.8"/><circle cx="217.0" cy="276.8" r="1.8"/><circle cx="480.6" cy="366.5" r="1.3"/><circle cx="284.6" cy="268.1" r="1.2"/><circle cx="467.8" cy="22.6" r="1.0"/><circle cx="264.6" cy="239.9" r="0.9"/><circle cx="65.2" cy="275.9" r="1.7"/><circle cx="329.4" cy="33.2" r="1.8"/><circle cx="183.9" cy="300.3" r="0.9"/><circle cx="259.5" cy="109.2" r="1.2"/><circle cx="62.2" cy="72.3" r="1.6"/><circle cx="204.0" cy="442.5" r="1.4"/><circle cx="59.7" cy="375.5" r="1.2"/><circle cx="80.2" cy="85.4" r="1.8"/><circle cx="192.5" cy="316.8" r="0.9"/><circle cx="282.4" cy="283.9" r="1.6"/><circle cx="350.8" cy="235.5" r="1.6"/><circle cx="93.8" cy="351.5" r="1.7"/><circle cx="54.9" cy="90.4" r="1.8"/><circle cx="417.6" cy="442.1" r="1.7"/><circle cx="36.5" cy="387.7" r="1.2"/><circle cx="262.4" cy="2.9" r="1.7"/><circle cx="6.6" cy="0.4" r="1.2"/><circle cx="87.9" cy="152.6" r="1.0"/><circle cx="124.9" cy="321.4" r="1.6"/><circle cx="347.0" cy="78.5" r="1.3"/></g>
<g fill="none" stroke="#4A2060" stroke-linecap="round" stroke-linejoin="round" opacity="0.8"><polyline points="70.8,192.7 80.8,194.3 90.7,196.5 99.8,192.2" stroke-width="1.4"/><polyline points="292.5,68.5 299.4,64.1 306.8,60.6" stroke-width="1.0"/><polyline points="393.8,130.3 393.6,121.6 393.7,113.0" stroke-width="1.1"/><polyline points="433.9,186.3 444.3,188.2" stroke-width="1.6"/><polyline points="174.3,256.7 173.9,246.8 174.9,236.9 177.4,227.3" stroke-width="1.1"/><polyline points="106.0,133.6 101.2,135.4 96.4,137.5 91.2,138.5" stroke-width="1.9"/><polyline points="-22.4,134.1 -30.3,134.9" stroke-width="1.0"/><polyline points="158.5,361.2 151.4,355.2 142.9,351.7 134.6,347.6" stroke-width="1.0"/><polyline points="44.6,302.6 36.8,295.1 28.5,288.1 25.2,277.9" stroke-width="1.7"/><polyline points="157.0,347.0 159.4,351.6 164.1,353.7" stroke-width="1.0"/><polyline points="89.2,200.3 79.0,201.5 69.9,196.6 59.8,194.1" stroke-width="1.0"/><polyline points="333.9,356.1 332.6,349.4" stroke-width="1.6"/><polyline points="279.0,121.2 288.5,123.2 298.3,122.4" stroke-width="1.5"/><polyline points="118.4,11.4 113.7,13.2 109.3,15.6" stroke-width="1.4"/><polyline points="209.4,313.1 215.3,321.9 220.1,331.5" stroke-width="1.2"/><polyline points="192.4,189.9 198.2,190.8 204.0,191.0 209.6,189.7" stroke-width="1.4"/><polyline points="126.1,148.6 123.9,142.2 120.6,136.4" stroke-width="1.7"/><polyline points="116.9,274.1 113.2,264.3" stroke-width="2.0"/><polyline points="242.2,75.8 247.9,79.7" stroke-width="1.4"/><polyline points="320.8,16.8 313.4,9.4 309.2,-0.2" stroke-width="1.8"/><polyline points="260.3,404.6 263.8,410.8 264.4,417.8" stroke-width="1.3"/><polyline points="104.2,184.1 112.1,189.6 113.7,199.1 115.4,208.7" stroke-width="2.0"/><polyline points="238.2,100.7 229.6,104.6 220.3,105.1 211.0,104.2" stroke-width="2.0"/><polyline points="75.0,486.2 78.6,481.6 78.9,475.8" stroke-width="1.9"/><polyline points="-19.0,338.4 -12.1,341.4 -4.8,342.8 2.7,342.0" stroke-width="1.9"/><polyline points="129.8,77.4 128.7,69.5 125.4,62.2 117.9,59.5" stroke-width="1.0"/><polyline points="88.6,248.2 82.2,247.9" stroke-width="1.2"/><polyline points="269.4,137.4 261.2,134.5" stroke-width="1.9"/><polyline points="357.3,294.9 355.8,301.3 355.8,308.0" stroke-width="1.1"/><polyline points="212.2,327.8 206.4,328.2" stroke-width="1.5"/><polyline points="573.2,289.3 578.2,283.5 580.6,276.2 581.4,268.5" stroke-width="1.4"/><polyline points="351.5,310.1 345.5,312.1" stroke-width="1.5"/><polyline points="149.1,108.4 151.1,102.7 154.3,97.6 156.0,91.9" stroke-width="1.7"/><polyline points="158.0,163.7 150.1,163.0 142.2,162.3 134.3,162.6" stroke-width="1.1"/><polyline points="265.3,276.7 263.6,271.9" stroke-width="1.5"/><polyline points="323.3,290.3 316.3,291.8" stroke-width="1.6"/><polyline points="142.3,175.7 136.0,168.5 134.4,159.0 136.4,149.7" stroke-width="1.9"/><polyline points="319.7,265.3 315.7,275.1 312.8,285.3" stroke-width="1.2"/><polyline points="217.0,386.6 219.5,393.0" stroke-width="1.6"/><polyline points="45.5,94.7 42.4,89.3" stroke-width="1.7"/><polyline points="200.6,274.6 205.3,277.8" stroke-width="1.1"/><polyline points="290.0,375.1 291.2,381.7" stroke-width="1.8"/><polyline points="84.8,181.2 86.9,187.5" stroke-width="1.6"/><polyline points="31.4,260.0 23.2,260.6" stroke-width="1.2"/><polyline points="377.6,439.8 386.6,442.8 395.3,446.4 404.3,449.2" stroke-width="1.1"/><polyline points="262.6,266.5 254.7,267.3 246.8,266.5" stroke-width="1.5"/><polyline points="106.8,292.4 113.5,286.3 119.6,279.6" stroke-width="1.4"/><polyline points="214.6,174.4 222.8,174.5" stroke-width="1.8"/><polyline points="151.3,194.4 141.6,195.6 136.3,203.8 126.8,206.0" stroke-width="1.6"/><polyline points="336.7,279.1 335.5,284.7 335.4,290.4" stroke-width="1.4"/><polyline points="307.5,299.1 309.4,304.2" stroke-width="1.7"/><polyline points="349.8,201.4 345.1,209.1" stroke-width="1.8"/><polyline points="245.9,205.5 245.5,212.7 242.0,219.0" stroke-width="1.3"/><polyline points="381.1,204.8 379.2,214.4 370.8,219.3 371.1,229.1" stroke-width="2.0"/><polyline points="260.3,271.9 256.7,264.1 252.3,256.8 249.1,248.8" stroke-width="1.3"/><polyline points="319.4,150.9 320.8,143.1" stroke-width="1.6"/><polyline points="449.8,176.7 441.2,174.2" stroke-width="1.9"/><polyline points="197.3,143.6 192.3,151.0 189.5,159.5 188.3,168.4" stroke-width="1.9"/><polyline points="337.4,313.6 340.9,305.6" stroke-width="1.9"/><polyline points="363.2,162.1 357.2,167.9 352.2,174.5" stroke-width="1.7"/><polyline points="495.4,182.0 498.5,174.3 497.4,166.2 496.6,158.0" stroke-width="1.1"/><polyline points="433.8,172.4 429.3,177.4 423.0,179.7" stroke-width="1.3"/><polyline points="432.5,142.8 432.8,151.5" stroke-width="1.5"/><polyline points="496.8,183.5 493.0,190.9 485.6,194.4 481.2,187.4" stroke-width="1.9"/><polyline points="372.7,184.5 378.3,179.6 384.7,175.9 390.4,171.1" stroke-width="1.0"/></g>
<path d="M12 -2 L18 20 M72 68 L80 90 M213 293 C220 290 235 290 245 295" stroke="#2A1040" stroke-width="3" fill="none" stroke-linecap="round"/>
<ellipse cx="220" cy="295" rx="9" ry="5" fill="#2A1040"/>
<ellipse cx="460" cy="397" rx="10" ry="3.5" fill="#1A0810" transform="rotate(-10 460 397)"/>
<circle cx="401" cy="266" r="2.5" fill="#1A0810"/>
</g>
<rect x="501.8" y="2270.3" width="104.8" height="62.2" fill="#000"/>
<text textLength="82.03" lengthAdjust="spacingAndGlyphs" x="511.4" y="2295.0" font-size="26.5" fill="#fff" stroke="#fff" stroke-width="0.15">100 µm</text>
<rect x="536.1" y="2309.7" width="50.5" height="3.9" fill="#fff"/>
<rect x="1002.1" y="2270.3" width="104.8" height="62.2" fill="#000"/>
<text textLength="82.03" lengthAdjust="spacingAndGlyphs" x="1011.9" y="2295.0" font-size="26.5" fill="#fff" stroke="#fff" stroke-width="0.15">100 µm</text>
<rect x="1036.9" y="2309.7" width="50.5" height="3.9" fill="#fff"/>
</svg>
</body></html>
